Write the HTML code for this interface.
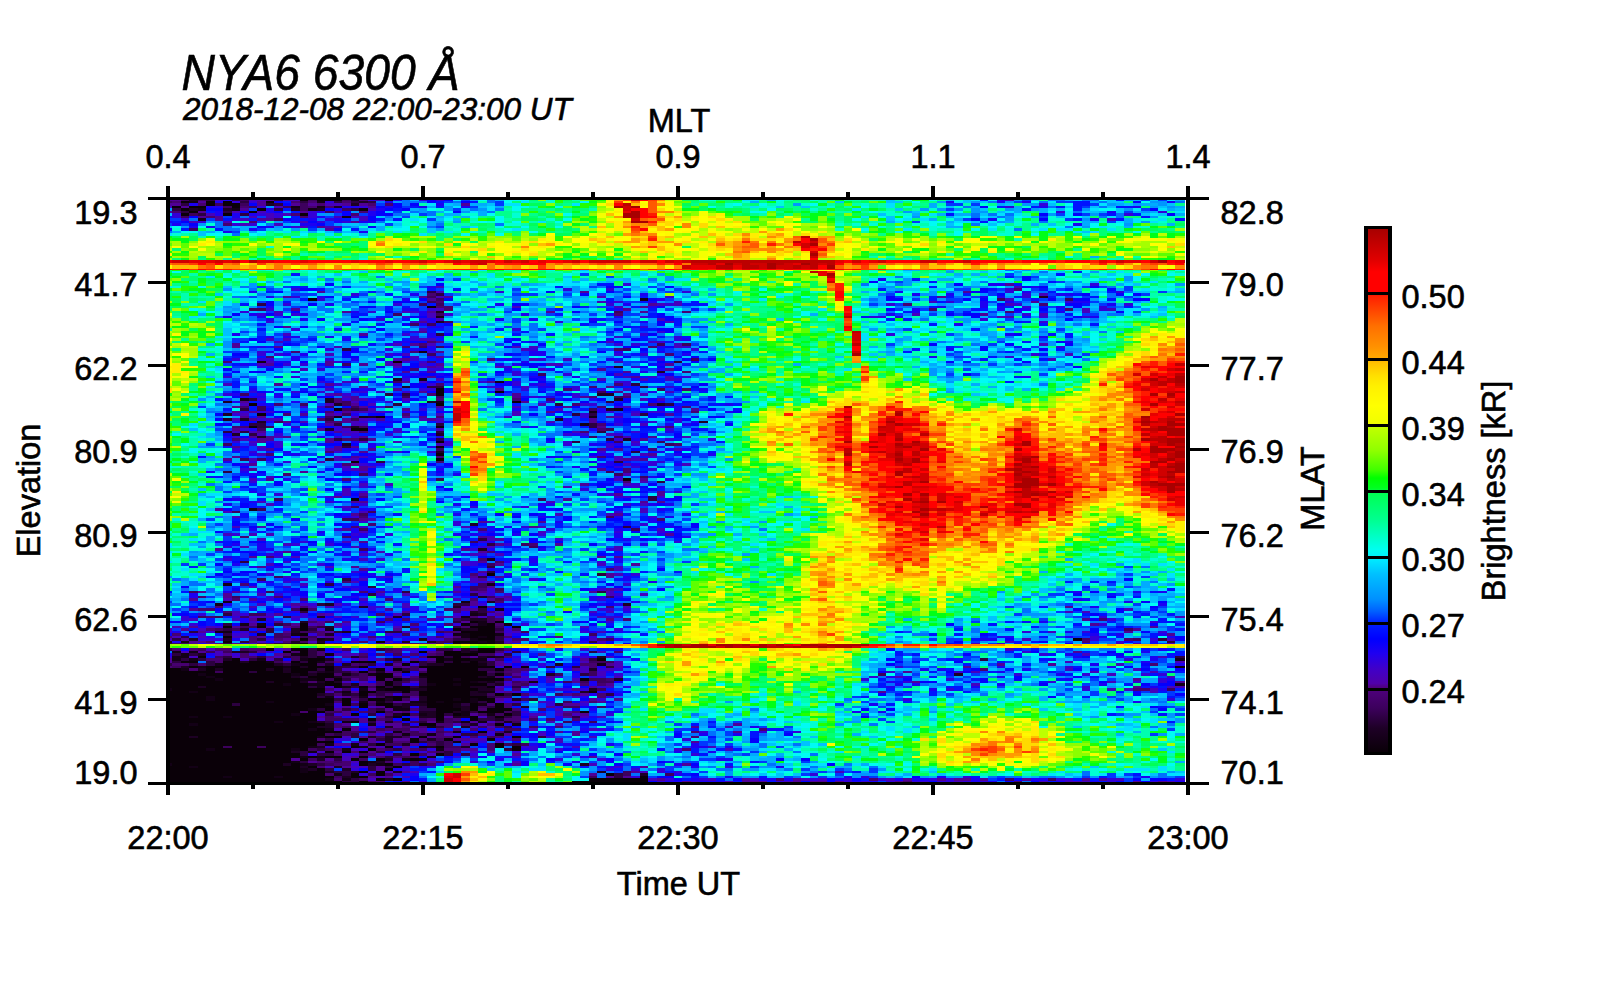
<!DOCTYPE html>
<html lang="en"><head><meta charset="utf-8"><title>NYA6 6300 Å keogram</title>
<style>html,body{margin:0;padding:0;background:#fff}body{width:1600px;height:1000px;overflow:hidden}svg{display:block}text{font-family:"Liberation Sans",Arial,Helvetica,sans-serif;fill:#000;stroke:#000;stroke-width:.6px}.t{font-size:32.5px}.m{text-anchor:middle}.e{text-anchor:end}</style></head><body>
<svg width="1600" height="1000" viewBox="0 0 1600 1000">
<defs><linearGradient id="cb" x1="0" y1="1" x2="0" y2="0">
<stop offset="0.0000" stop-color="#0a0008"/>
<stop offset="0.0455" stop-color="#1e0026"/>
<stop offset="0.0835" stop-color="#3c005c"/>
<stop offset="0.1240" stop-color="#500080"/>
<stop offset="0.1310" stop-color="#5000a8"/>
<stop offset="0.1590" stop-color="#4000c8"/>
<stop offset="0.1880" stop-color="#2000f0"/>
<stop offset="0.2160" stop-color="#0000ff"/>
<stop offset="0.2470" stop-color="#0020ff"/>
<stop offset="0.2580" stop-color="#0040ff"/>
<stop offset="0.2690" stop-color="#0060ff"/>
<stop offset="0.2920" stop-color="#0090ff"/>
<stop offset="0.3400" stop-color="#00c0ff"/>
<stop offset="0.3720" stop-color="#00f0ff"/>
<stop offset="0.3870" stop-color="#00fff0"/>
<stop offset="0.4060" stop-color="#00ffd0"/>
<stop offset="0.4440" stop-color="#00ff90"/>
<stop offset="0.4970" stop-color="#00ff50"/>
<stop offset="0.5050" stop-color="#00ff20"/>
<stop offset="0.5240" stop-color="#00ff00"/>
<stop offset="0.5390" stop-color="#40ff00"/>
<stop offset="0.5770" stop-color="#90ff00"/>
<stop offset="0.6200" stop-color="#c0ff00"/>
<stop offset="0.6280" stop-color="#f0ff00"/>
<stop offset="0.6620" stop-color="#ffff00"/>
<stop offset="0.7000" stop-color="#fff000"/>
<stop offset="0.7190" stop-color="#ffe000"/>
<stop offset="0.7440" stop-color="#ffc000"/>
<stop offset="0.7530" stop-color="#ffa800"/>
<stop offset="0.7760" stop-color="#ff9000"/>
<stop offset="0.8140" stop-color="#ff7000"/>
<stop offset="0.8370" stop-color="#ff5000"/>
<stop offset="0.8710" stop-color="#ff2000"/>
<stop offset="0.8780" stop-color="#ff0000"/>
<stop offset="0.9180" stop-color="#ff0000"/>
<stop offset="0.9410" stop-color="#e00000"/>
<stop offset="1.0000" stop-color="#a80000"/>
</linearGradient></defs>
<rect width="1600" height="1000" fill="#fff"/>
<g id="heat" shape-rendering="crispEdges"><clipPath id="hc"><rect x="168" y="198" width="1017" height="586"/></clipPath>
<g clip-path="url(#hc)"><g transform="translate(163.75,199.25) scale(8.5,2.5)" fill="none" stroke-width="1">
<path stroke="#0a0008" d="M16 0h1M18 0h3M26 0h1M2 1h1M5 1h1M7 1h1M12 1h1M5 2h1M7 2h2M1 3h1M3 3h2M8 3h1M2 4h1M11 4h1M23 4h1M3 5h1M10 5h1M2 6h1M7 6h1M16 6h1M17 40h1M31 43h1M27 65h1M32 76h1M32 77h1M39 77h1M32 78h1M41 81h1M10 82h1M32 82h1M20 84h1M11 86h1M25 87h1M10 91h1M32 91h1M22 92h2M32 97h1M32 99h1M32 102h1M32 104h1M22 105h1M54 112h1M22 120h1M38 150h1M37 163h1M16 164h1M36 169h1M39 169h1M16 170h1M35 170h1M38 170h1M7 171h1M11 171h1M16 171h1M36 171h3M41 171h1M16 172h1M34 172h1M37 172h2M35 173h4M16 174h1M36 174h3M7 175h1M36 175h1M38 175h1M16 176h1M37 176h2M107 176h1M7 177h1M25 177h1M34 177h3M38 177h1M16 178h1M18 178h1M36 178h3M16 179h1M19 179h1M35 179h1M37 179h1M12 180h1M15 180h2M37 180h2M14 181h1M16 181h1M30 181h1M33 181h2M37 181h2M16 182h1M33 182h4M4 183h1M31 183h2M34 183h1M8 184h1M17 184h2M32 184h1M34 184h2M51 184h1M2 185h2M7 185h2M10 185h2M15 185h1M17 185h1M22 185h3M29 185h1M32 185h1M34 185h1M36 185h1M7 186h6M16 186h2M28 186h1M33 186h4M3 187h1M5 187h9M15 187h1M17 187h3M23 187h1M30 187h9M40 187h1M42 187h1M119 187h2M0 188h2M5 188h1M7 188h5M13 188h1M15 188h3M19 188h1M25 188h1M27 188h1M31 188h6M39 188h1M0 189h6M7 189h3M11 189h3M15 189h2M23 189h1M31 189h7M0 190h4M5 190h10M16 190h1M18 190h2M25 190h2M30 190h8M39 190h1M0 191h5M6 191h9M17 191h3M25 191h2M31 191h6M0 192h6M7 192h9M18 192h1M20 192h1M25 192h1M27 192h1M31 192h3M35 192h5M49 192h1M0 193h12M13 193h3M19 193h1M26 193h1M31 193h5M0 194h14M15 194h2M19 194h2M26 194h1M32 194h2M35 194h3M0 195h4M5 195h12M20 195h1M23 195h1M25 195h1M27 195h2M31 195h5M38 195h1M1 196h18M26 196h3M31 196h6M0 197h3M4 197h15M23 197h2M28 197h1M30 197h6M50 197h1M0 198h18M23 198h1M30 198h6M39 198h1M41 198h1M0 199h5M6 199h12M27 199h1M31 199h7M0 200h5M6 200h14M21 200h1M24 200h2M27 200h1M31 200h3M35 200h1M37 200h2M0 201h12M13 201h7M21 201h1M31 201h1M33 201h3M38 201h1M0 202h8M9 202h10M21 202h1M23 202h1M25 202h2M31 202h3M36 202h1M39 202h1M0 203h20M23 203h1M26 203h1M31 203h3M36 203h1M39 203h1M0 204h17M19 204h1M32 204h3M36 204h1M38 204h3M0 205h16M17 205h2M25 205h1M32 205h2M37 205h3M49 205h1M0 206h15M16 206h2M22 206h1M28 206h1M32 206h1M34 206h1M40 206h1M0 207h3M4 207h3M8 207h10M32 207h1M36 207h1M39 207h1M0 208h18M24 208h1M28 208h1M32 208h1M36 208h1M0 209h13M14 209h3M22 209h1M0 210h3M4 210h15M30 210h2M39 210h1M0 211h18M0 212h17M18 212h1M21 212h1M0 213h21M37 213h1M0 214h19M0 215h3M4 215h14M19 215h2M30 215h1M34 215h1M41 215h1M0 216h18M23 216h1M29 216h1M33 216h1M38 216h1M0 217h20M29 217h1M0 218h18M25 218h1M36 218h1M39 218h1M0 219h7M8 219h3M12 219h5M22 219h1M26 219h1M32 219h1M39 219h1M41 219h1M0 220h5M6 220h9M16 220h1M24 220h1M41 220h1M0 221h15M19 221h1M21 221h1M23 221h1M0 222h16M29 222h1M32 222h1M0 223h16M17 223h1M19 223h2M23 223h1M0 224h15M16 224h1M22 224h1M25 224h1M29 224h1M0 225h15M23 225h1M1 226h13M15 226h1M23 226h1M26 226h1M0 227h3M4 227h12M17 227h1M27 227h1M0 228h16M18 228h1M26 228h1M0 229h16M17 229h2M23 229h1M25 229h1M0 230h19M22 230h1M25 230h1M52 230h1M0 231h7M8 231h5M14 231h6M22 231h2M56 231h1M0 232h19M25 232h1M27 232h1M50 232h7M0 233h21M23 233h1M48 233h9M0 234h7M8 234h10M19 234h3M23 234h1M48 234h9"/>
<path stroke="#130016" d="M22 0h1M3 1h1M18 1h1M15 3h1M18 3h1M4 4h1M8 4h1M17 4h1M21 7h1M4 8h1M56 40h1M32 47h1M30 61h1M11 65h1M30 72h1M39 73h1M9 80h1M32 81h1M53 84h1M50 85h1M20 87h1M23 87h1M50 87h1M49 90h1M10 124h1M38 144h1M7 154h1M38 154h1M7 161h1M35 161h1M6 162h1M39 164h1M36 166h1M35 167h1M37 169h1M9 170h1M11 170h1M37 170h1M40 170h1M19 172h1M6 173h2M15 174h1M34 174h2M39 174h1M35 175h1M37 175h1M18 176h1M36 176h1M2 177h1M37 177h1M34 178h1M18 180h1M1 181h1M3 181h1M36 181h1M2 182h1M15 182h1M19 182h1M1 183h2M18 183h1M38 183h1M1 184h1M3 184h1M11 184h1M16 184h1M33 184h1M36 184h2M119 184h2M12 185h1M18 185h1M6 186h1M15 186h1M37 186h1M51 186h1M4 187h1M14 187h1M2 188h1M19 189h1M28 189h1M4 190h1M15 190h1M21 190h1M24 190h1M5 191h1M30 191h1M38 191h1M6 192h1M16 192h2M34 192h1M36 193h1M38 193h1M43 193h1M14 194h1M17 194h2M31 194h1M34 194h1M119 194h2M18 195h1M21 195h1M30 195h1M0 196h1M23 196h1M25 196h1M3 197h1M21 197h1M37 197h2M5 199h1M19 199h1M23 199h1M26 199h1M5 200h1M34 200h1M36 200h1M12 201h1M23 201h1M25 201h1M29 201h2M32 201h1M36 201h1M19 202h1M34 202h1M37 202h1M27 203h1M34 203h1M17 204h1M27 204h2M35 205h1M15 206h1M30 206h1M35 206h1M38 206h1M3 207h1M7 207h1M27 207h1M13 209h1M17 209h1M21 209h1M32 209h1M35 209h1M37 209h1M3 210h1M24 210h1M41 210h1M31 211h1M17 212h1M19 212h1M27 213h1M34 213h1M28 214h1M31 214h1M39 214h1M18 215h1M34 217h1M19 218h1M22 218h1M17 219h1M23 219h1M30 219h1M5 220h1M15 220h1M21 220h1M32 220h1M17 221h1M16 223h1M18 223h1M31 223h1M28 224h1M30 224h1M15 225h1M24 225h1M0 226h1M16 226h1M25 226h1M3 227h1M16 228h1M16 229h1M20 230h1M7 231h1M13 231h1M19 232h1M21 232h1M7 234h1M18 234h1M22 234h1"/>
<path stroke="#1d0024" d="M3 0h1M23 1h1M12 2h1M22 2h1M20 3h1M3 4h1M7 4h1M15 4h1M18 4h1M103 39h1M32 45h1M32 49h1M53 67h1M58 69h1M27 72h1M28 75h1M51 78h2M19 80h1M53 80h1M7 81h1M19 81h1M31 81h1M20 82h1M58 82h1M52 84h1M7 86h1M24 87h1M7 88h1M9 88h1M46 88h1M11 89h1M63 89h1M22 91h1M19 92h1M8 94h1M32 94h1M11 95h1M54 96h1M21 98h1M32 101h1M36 130h1M37 140h1M37 159h1M38 161h1M19 162h1M54 162h1M23 163h1M34 163h1M36 165h1M37 166h1M18 167h1M27 167h1M11 168h1M36 168h2M16 169h1M19 171h1M28 171h1M9 172h1M15 172h1M35 172h2M15 173h1M21 173h1M11 174h1M19 174h1M3 176h1M7 176h1M19 176h1M30 176h1M0 177h1M15 177h1M18 177h1M28 177h1M31 177h1M39 177h1M15 178h1M35 178h1M39 178h1M2 179h1M5 179h1M7 179h1M15 179h1M33 179h2M38 179h1M119 179h2M35 180h1M8 181h2M35 181h1M4 182h1M16 183h1M22 183h1M37 183h1M39 183h1M51 183h1M7 184h1M19 184h1M27 184h1M9 185h1M35 185h1M37 185h1M13 186h1M19 186h1M21 186h1M26 186h1M31 186h2M46 186h1M2 187h1M16 187h1M4 188h1M6 188h1M12 188h1M14 188h1M50 188h1M14 189h1M18 189h1M25 189h1M17 190h1M45 190h1M93 190h1M15 191h1M20 191h1M37 191h1M53 192h1M12 193h1M16 193h1M18 193h1M20 193h1M37 193h1M22 194h1M39 194h1M4 195h1M36 195h2M29 196h2M37 196h2M50 196h1M36 197h1M49 197h1M18 198h1M21 198h1M36 198h2M28 199h1M30 199h1M26 200h1M30 200h1M41 200h1M28 202h3M28 203h1M35 203h1M42 203h1M35 204h1M30 205h2M34 205h1M27 206h1M31 206h1M30 207h2M34 207h2M39 208h1M18 209h1M26 209h1M40 209h1M19 210h1M36 210h1M18 211h2M26 211h1M35 211h1M40 213h1M3 215h1M24 215h1M26 215h2M26 216h1M31 216h1M26 217h1M28 218h1M18 219h1M31 219h1M35 219h1M15 221h1M18 224h1M26 224h1M25 225h1M14 226h1M17 226h1M24 226h1M49 226h1M16 227h1M20 227h1M17 228h1M21 228h1M19 229h1M22 229h1M27 229h1M51 229h1M56 230h1M21 231h1M26 232h1"/>
<path stroke="#2c0040" d="M5 0h1M8 0h1M13 0h1M9 1h1M16 1h1M20 1h1M22 1h1M24 1h1M2 2h1M13 2h1M1 4h1M13 4h1M22 4h1M2 5h1M7 5h1M4 6h1M9 6h1M31 37h1M32 38h1M11 42h1M32 54h1M21 60h1M60 65h1M55 74h1M31 75h2M56 75h1M26 78h1M28 78h1M10 80h1M52 81h1M27 82h1M46 82h1M59 82h1M9 84h1M22 84h1M48 86h1M50 86h1M56 86h1M19 88h1M10 90h2M20 90h1M32 90h1M50 90h1M11 91h1M50 91h1M7 93h1M9 93h1M32 93h1M51 93h1M10 94h1M20 96h1M23 96h1M32 96h1M52 96h1M48 97h1M21 99h1M55 101h1M19 104h1M25 105h1M53 105h1M7 109h1M58 113h1M57 119h1M57 120h1M54 131h1M37 136h1M38 138h1M9 145h1M38 147h1M38 149h1M51 150h1M37 151h1M21 152h1M19 154h1M24 155h1M28 157h1M51 157h1M24 158h1M36 158h1M18 162h1M34 162h2M37 164h1M16 165h1M37 165h1M7 166h1M28 166h1M14 167h1M35 168h1M34 169h1M7 170h1M13 170h1M36 170h1M18 171h1M34 171h1M7 172h1M12 172h1M17 172h1M39 172h1M3 173h1M12 173h1M20 173h1M26 173h2M7 174h1M2 175h1M39 175h1M1 176h1M11 176h1M34 176h2M39 176h1M117 176h1M9 177h1M50 177h1M118 177h1M0 178h1M7 178h1M13 178h2M1 179h1M36 179h1M0 180h1M17 180h1M25 180h1M32 180h2M36 180h1M39 180h1M10 181h1M17 181h1M41 181h1M50 181h1M1 182h1M3 182h1M17 182h1M40 182h1M7 183h1M11 183h1M14 183h1M17 183h1M33 183h1M119 183h2M2 184h1M4 184h1M10 184h1M13 184h1M26 184h1M50 184h1M96 184h1M1 185h1M5 185h1M16 185h1M30 185h1M33 185h1M38 185h1M0 186h1M3 186h1M5 186h1M14 186h1M24 186h1M30 186h1M38 186h1M20 187h3M45 187h1M48 187h1M52 187h1M18 188h1M20 188h1M24 188h1M28 188h1M37 188h2M10 189h1M17 189h1M20 189h2M39 189h1M22 190h1M38 190h1M49 190h1M16 191h1M21 192h1M28 192h1M30 192h1M27 193h1M30 193h1M39 193h1M27 194h1M30 194h1M38 194h1M17 195h1M22 195h1M26 195h1M29 195h1M41 195h1M20 197h1M25 197h3M19 198h1M22 198h1M25 198h1M40 198h1M52 198h1M18 199h1M38 199h1M20 200h1M23 200h1M43 200h1M26 201h1M37 201h1M8 202h1M27 202h1M35 202h1M41 202h1M46 202h1M30 203h1M38 203h1M18 204h1M21 204h1M25 204h1M30 204h2M36 205h1M41 205h1M19 206h1M24 206h1M33 206h1M41 206h1M26 207h1M38 207h1M40 207h1M48 207h1M37 208h2M19 209h1M24 209h1M30 209h1M34 209h1M28 210h1M29 211h1M32 211h1M40 211h1M24 213h1M20 214h1M22 214h1M26 214h1M35 214h2M22 215h1M44 215h1M19 216h1M25 216h1M30 217h1M32 217h1M24 218h1M32 218h1M41 218h1M18 220h1M27 220h1M40 220h1M16 221h1M25 221h1M33 221h1M16 222h1M18 222h2M27 222h1M33 222h1M35 222h1M26 223h1M20 224h1M16 225h1M18 226h1M28 226h1M30 226h1M24 227h1M26 227h1M19 228h1M24 228h1M20 229h2M21 230h1M53 230h1M53 231h1M22 232h1M21 233h2M24 234h2M103 234h1"/>
<path stroke="#3d005d" d="M2 0h1M4 0h1M9 0h1M17 0h1M21 0h1M0 1h1M6 2h1M9 2h1M16 2h1M7 3h1M10 3h1M14 3h1M16 3h1M16 4h1M21 4h1M19 5h1M3 6h1M2 7h1M13 8h1M3 12h1M31 39h1M32 40h1M98 40h1M106 40h1M31 41h1M30 42h1M32 42h1M10 44h2M53 45h1M27 46h1M32 46h1M33 49h1M29 50h1M31 50h1M58 58h1M61 58h1M30 59h1M32 59h1M54 60h1M31 62h1M62 64h1M21 66h1M44 70h1M27 73h1M58 76h1M51 77h1M9 78h1M28 79h1M32 79h1M53 79h1M21 81h1M16 82h1M21 82h1M11 83h1M19 83h1M22 83h1M26 83h1M11 84h1M21 84h1M23 84h1M50 84h1M21 86h1M19 87h1M22 88h1M13 89h1M12 91h1M21 91h1M23 91h1M11 92h1M52 92h1M50 95h1M53 95h1M53 97h1M58 97h1M7 98h1M59 98h1M32 100h1M9 104h1M11 104h1M52 109h1M23 110h1M53 110h1M56 111h1M32 112h1M13 120h1M44 120h1M22 123h1M11 124h1M8 125h1M24 125h1M23 126h1M52 127h1M21 128h2M23 132h1M55 132h1M36 137h1M42 138h1M43 139h1M23 140h1M38 146h1M13 151h1M11 152h1M37 154h1M36 155h2M36 156h1M39 156h1M3 157h1M12 157h1M8 159h1M38 159h1M52 159h1M39 160h1M15 164h1M10 166h2M4 167h1M6 167h1M9 167h1M38 167h1M34 168h1M38 168h1M19 169h1M25 169h1M38 169h1M14 170h1M9 171h2M17 171h1M39 171h1M6 172h1M8 172h1M113 172h1M16 173h2M32 173h1M39 173h1M42 173h1M13 174h1M28 174h1M50 174h1M13 175h2M16 175h2M52 176h1M114 176h1M16 177h1M32 177h2M1 178h2M11 178h1M32 178h1M6 179h1M8 179h1M31 179h2M4 180h1M9 180h1M21 180h1M26 180h1M5 181h1M7 181h1M27 182h1M32 182h1M37 182h2M6 183h1M15 183h1M23 183h1M35 183h1M15 184h1M39 184h1M13 185h1M19 185h1M27 185h1M31 185h1M50 185h3M18 186h1M23 186h1M1 187h1M29 187h1M29 188h1M40 188h1M6 189h1M30 189h1M38 189h1M50 189h1M23 190h1M40 190h1M46 190h1M50 190h1M84 190h1M21 191h3M27 191h1M41 191h1M19 192h1M23 192h1M29 192h1M40 192h1M50 192h2M25 193h1M28 193h1M41 193h1M47 193h1M49 193h1M51 193h2M21 194h1M25 194h1M42 194h1M24 195h1M21 196h1M51 196h1M118 196h1M29 197h1M24 198h1M28 198h2M38 198h1M46 198h1M22 199h1M25 199h1M39 199h2M28 200h1M42 200h1M47 201h1M22 202h1M24 202h1M37 203h1M47 203h2M51 203h1M22 204h1M24 204h1M19 205h2M24 205h1M26 205h1M40 205h1M29 206h1M37 206h1M39 206h1M19 207h1M19 208h4M26 208h1M30 208h1M33 208h1M43 208h1M29 209h1M33 209h1M41 209h1M47 209h1M50 209h1M35 210h1M21 211h1M37 211h1M39 211h1M43 211h1M25 212h1M27 212h2M40 212h2M21 213h3M29 213h1M32 213h1M19 214h1M21 214h1M29 214h2M25 215h1M28 215h1M38 215h1M32 216h1M23 217h1M31 217h1M33 217h1M18 218h1M26 218h2M33 218h1M40 218h1M42 218h1M7 219h1M11 219h1M33 219h2M17 220h1M19 220h1M26 220h1M30 220h1M32 221h1M23 222h1M30 222h1M28 223h2M17 224h1M23 224h1M20 225h1M29 225h1M19 226h1M27 226h1M29 226h1M54 229h1M24 230h1M26 230h1M54 230h1M59 230h1M20 231h1M50 231h1M23 232h1M99 232h1M104 232h1M24 233h1M27 234h1"/>
<path stroke="#470070" d="M23 0h1M1 1h1M15 1h1M17 1h1M21 1h1M4 2h1M18 2h1M24 2h1M26 2h1M9 3h1M17 3h1M19 3h1M1 5h1M23 5h1M15 6h1M22 6h1M5 7h1M16 7h1M10 9h1M7 10h1M100 36h1M31 38h1M32 41h1M87 42h1M103 42h1M32 43h2M33 44h1M90 44h1M106 44h1M61 45h1M99 45h1M53 46h1M31 57h1M30 58h1M28 59h1M57 59h1M53 60h1M15 61h1M29 61h1M59 62h1M12 63h1M38 64h1M7 65h1M31 65h1M29 68h1M61 69h1M32 74h1M53 74h1M50 75h1M47 76h1M61 76h1M31 78h1M50 79h1M54 79h1M20 80h1M32 80h1M41 80h1M45 80h1M20 81h1M13 82h1M48 82h1M57 82h1M9 83h1M51 83h1M61 83h1M19 85h1M62 85h1M14 86h1M28 86h1M32 87h1M18 88h1M19 89h2M51 90h1M8 91h2M59 91h1M51 92h1M23 93h1M49 93h1M8 96h1M21 96h2M60 98h1M57 100h1M19 101h1M12 102h1M32 103h1M51 103h1M32 105h1M21 106h1M54 108h1M54 109h1M14 110h1M21 112h1M54 113h1M23 119h1M23 127h1M58 128h1M24 130h1M22 131h1M37 132h1M9 135h1M21 135h1M43 138h1M38 141h1M12 143h1M37 144h1M39 145h1M52 148h1M36 150h1M21 153h1M9 154h1M37 156h1M23 157h1M39 157h1M4 159h1M13 159h1M8 160h1M16 160h1M26 160h1M36 160h1M39 161h1M6 163h1M16 163h1M52 163h1M4 164h2M17 164h1M33 164h2M7 165h1M34 165h1M38 165h1M25 166h1M5 167h1M36 167h1M26 168h1M28 168h1M39 168h1M54 168h1M110 168h1M17 169h1M29 170h1M33 170h1M39 170h1M15 171h1M35 171h1M5 172h1M29 172h1M41 172h1M10 173h1M18 173h1M33 173h2M1 174h1M14 174h1M18 174h1M0 175h1M10 175h1M24 175h1M32 175h1M34 175h1M40 175h1M10 176h1M13 176h1M15 176h1M17 176h1M33 176h1M41 176h2M51 176h1M108 176h1M113 176h1M5 177h1M10 177h1M14 177h1M23 177h1M108 177h1M12 178h1M17 178h1M20 178h1M29 178h1M3 179h1M9 179h1M17 179h1M25 179h1M28 179h1M51 179h1M1 180h1M3 180h1M6 180h2M10 180h2M27 180h1M40 180h1M15 181h1M18 181h1M26 181h2M32 181h1M39 181h1M53 181h1M9 182h1M14 182h1M18 182h1M23 182h1M25 182h1M29 182h1M31 182h1M9 183h2M28 183h1M30 183h1M40 183h1M5 184h2M6 185h1M1 186h2M4 186h1M22 186h1M49 186h2M116 186h1M0 187h1M27 187h1M50 187h1M3 188h1M41 188h2M96 188h1M22 189h1M24 189h1M27 189h1M40 189h2M20 190h1M29 191h1M39 191h1M26 192h1M52 192h1M17 193h1M42 193h1M41 194h1M49 194h1M51 194h1M19 196h1M41 196h1M114 196h2M20 198h1M26 198h1M42 198h1M48 198h1M51 198h1M51 199h1M22 200h1M20 201h1M24 201h1M50 201h1M38 202h1M40 202h1M40 203h1M29 204h1M37 204h1M41 204h1M44 204h1M16 205h1M23 205h1M28 205h1M48 205h1M26 206h1M47 206h1M20 207h1M41 207h1M25 208h1M31 208h1M34 208h1M40 208h2M45 208h1M48 208h1M27 209h1M39 209h1M20 210h1M32 210h2M38 210h1M20 211h1M28 211h1M30 211h1M33 211h1M46 211h1M26 212h1M32 212h1M34 212h1M36 212h1M70 212h1M28 213h1M33 213h1M39 213h1M62 213h1M27 214h1M32 214h1M37 214h1M32 215h2M36 215h1M39 215h1M62 215h1M18 216h1M30 216h1M41 216h1M27 217h2M31 218h1M38 218h1M38 219h1M20 220h1M25 220h1M29 220h1M33 220h2M38 220h1M61 220h1M22 221h1M31 221h1M34 221h1M20 222h1M24 222h1M25 223h1M27 223h1M18 225h2M21 225h1M26 225h1M32 225h1M20 226h2M31 226h1M18 227h1M19 230h1M20 232h1M72 232h1M83 232h1M25 233h1M87 233h1M100 233h1M26 234h1M74 234h1M80 234h1M97 234h1"/>
<path stroke="#500095" d="M0 0h2M12 0h1M14 0h1M4 1h1M11 1h1M0 2h2M11 2h1M15 2h1M17 2h1M21 2h1M23 2h1M35 2h1M2 3h1M24 3h1M9 4h1M0 5h1M4 5h1M16 5h1M4 7h1M6 7h1M6 8h1M11 8h2M22 9h1M18 11h1M19 12h1M99 34h1M18 37h1M49 37h1M94 37h1M14 39h1M30 39h1M33 39h1M91 39h1M31 40h1M102 41h1M57 42h1M56 43h1M15 44h1M54 44h1M21 45h1M31 45h1M45 45h1M56 45h1M96 46h1M30 49h1M14 51h1M30 53h1M23 54h1M32 57h1M8 58h1M29 58h1M8 59h1M13 59h1M32 61h1M32 63h1M28 64h1M19 65h1M12 66h1M19 66h1M23 66h1M27 66h1M32 66h1M59 66h1M31 67h1M51 68h1M59 68h1M28 69h1M31 69h1M54 69h1M31 71h1M55 71h1M28 73h1M38 73h1M13 74h1M19 74h1M23 75h1M52 75h1M27 76h1M39 76h1M30 77h1M53 77h1M20 78h1M41 78h1M54 78h1M22 79h1M41 79h1M49 79h1M22 80h1M9 81h1M42 81h1M22 82h1M8 83h1M23 83h1M32 83h1M47 83h1M28 84h1M62 84h1M8 85h1M10 85h1M21 85h1M45 85h1M16 86h1M19 86h1M59 86h1M9 87h1M11 87h1M28 87h1M30 87h1M52 87h1M10 88h1M21 88h1M25 88h1M31 88h1M50 88h1M14 89h1M21 89h1M50 89h1M19 90h1M51 91h1M8 92h1M18 92h1M11 93h1M20 93h1M10 95h1M12 95h1M14 95h1M23 95h1M57 95h1M11 96h2M19 96h1M24 96h1M56 96h1M11 97h1M19 97h1M8 99h1M20 99h1M22 99h1M12 100h1M20 100h1M24 100h1M51 100h1M53 100h1M23 101h1M57 102h1M8 103h1M22 103h1M7 104h1M54 104h1M56 104h1M10 106h1M22 106h1M23 107h1M10 108h1M23 108h1M51 108h1M16 109h1M12 112h1M56 112h1M49 114h1M58 117h1M23 118h1M53 118h1M58 118h1M20 119h1M47 120h1M22 121h2M56 121h1M58 121h1M6 124h1M22 126h1M53 126h1M23 128h1M37 129h1M44 129h1M43 131h1M21 132h1M59 134h1M37 135h1M39 136h1M23 137h1M39 138h1M46 138h1M6 140h1M35 140h1M14 141h1M37 141h1M10 143h1M51 143h1M53 143h1M37 145h1M39 146h1M55 146h1M11 147h1M22 147h1M23 148h1M37 149h1M52 150h1M36 151h1M39 151h1M52 151h1M37 152h1M38 153h1M34 155h1M38 155h1M52 156h1M4 157h1M8 157h1M25 157h1M34 157h1M37 157h1M50 157h1M7 158h1M7 159h1M40 159h1M3 160h1M10 160h1M38 160h1M36 161h1M15 162h1M36 162h1M38 163h1M106 163h1M3 164h1M26 164h1M35 164h2M28 165h1M13 166h1M18 166h1M39 166h1M33 167h1M10 168h1M31 168h1M52 168h1M108 168h1M13 169h1M18 169h1M21 169h1M35 169h1M10 170h1M15 170h1M18 170h1M20 170h1M109 170h1M3 171h1M8 171h1M14 171h1M116 171h1M2 172h1M11 172h1M27 172h1M114 172h1M4 173h1M14 173h1M19 173h1M113 173h1M118 174h1M11 175h1M19 175h1M46 175h1M2 176h1M14 176h1M3 177h2M41 177h1M3 178h1M6 178h1M8 178h1M19 178h1M25 178h1M27 178h2M30 178h2M40 178h1M12 179h1M106 179h1M14 180h1M34 180h1M4 181h1M11 181h1M31 181h1M107 181h1M7 182h1M13 182h1M44 182h1M12 183h1M21 183h1M36 183h1M0 184h1M23 184h1M25 184h1M29 184h1M31 184h1M49 184h1M0 185h1M14 185h1M20 185h1M39 185h1M27 186h1M39 186h1M52 186h1M98 186h1M104 186h1M28 187h1M94 187h1M30 188h1M48 188h1M26 189h1M87 189h1M27 190h1M41 190h1M24 191h1M45 191h1M22 192h1M114 192h1M48 193h1M88 193h1M119 193h2M23 194h2M52 194h1M50 195h1M114 195h1M24 196h1M39 196h1M48 196h1M22 197h1M40 197h1M84 197h1M47 198h1M49 198h1M21 199h1M29 199h1M39 200h1M50 200h1M53 200h1M27 201h2M51 201h1M47 202h2M21 203h1M25 203h1M45 203h1M20 204h1M26 204h1M21 205h1M27 205h1M47 205h1M21 206h1M36 206h1M49 206h1M18 207h1M25 207h1M33 207h1M43 207h1M47 207h1M23 208h1M23 209h1M31 209h1M36 209h1M21 210h1M26 210h2M67 210h1M22 211h1M27 211h1M62 211h1M22 212h1M24 212h1M30 212h1M38 212h1M25 213h1M30 213h1M46 213h1M48 213h1M67 213h1M24 214h1M40 214h1M48 214h1M23 215h1M31 215h1M24 216h1M27 216h2M34 216h2M24 217h1M36 217h1M62 217h1M20 218h2M29 218h1M35 218h1M24 219h1M28 219h1M28 220h1M35 220h2M20 221h1M24 221h1M38 221h1M28 222h1M41 222h1M22 223h1M50 223h1M15 224h1M19 224h1M17 225h1M31 225h1M41 226h1M61 226h1M21 227h1M25 227h1M56 227h1M25 228h1M28 229h1M55 229h1M50 230h1M24 231h1M26 231h1M52 231h1M54 231h1M58 232h1M68 232h1M74 232h1M87 232h1M91 232h1M93 232h2M96 232h1M101 232h1M108 232h1M110 232h1M28 233h1M61 233h1M68 233h3M74 233h1M76 233h2M79 233h1M86 233h1M114 233h1M117 233h1M28 234h1M77 234h1M93 234h1"/>
<path stroke="#4600bc" d="M6 0h1M10 0h2M15 0h1M25 0h1M99 0h1M19 2h2M0 3h1M13 3h1M24 4h1M8 5h1M11 5h1M20 5h1M5 6h1M12 6h1M14 6h1M10 7h1M12 7h1M20 7h1M22 7h2M9 8h1M23 8h1M111 8h1M3 9h1M7 9h1M16 9h1M9 10h1M13 10h1M16 11h1M19 11h2M32 35h1M100 35h1M32 37h1M103 38h1M32 39h1M51 39h1M99 40h1M51 41h1M60 41h1M90 41h1M58 42h1M60 42h1M99 42h1M41 43h1M53 43h1M32 44h1M108 44h1M111 44h1M13 45h1M28 45h1M108 45h1M31 46h1M88 46h1M103 46h1M31 47h1M98 47h2M32 48h1M58 48h1M59 49h1M30 52h1M14 54h1M12 56h1M14 56h1M30 56h2M13 57h1M52 57h1M57 57h1M27 58h1M31 58h1M60 58h1M103 58h1M20 59h1M41 59h1M43 59h1M60 59h1M42 60h1M19 62h1M28 62h1M106 62h1M29 63h1M27 64h1M43 64h1M47 64h1M104 64h1M12 65h1M53 65h1M11 66h1M26 66h1M30 66h1M45 66h2M27 67h1M32 67h1M39 67h1M16 68h1M44 68h1M53 70h1M54 71h1M59 71h1M32 72h1M51 72h1M56 72h1M59 72h1M21 73h1M30 73h1M7 74h1M42 75h1M19 76h1M54 76h1M59 77h1M19 78h1M56 78h1M21 79h1M23 80h1M28 80h1M56 80h1M58 80h1M22 81h1M9 82h1M19 82h1M24 82h1M44 82h1M41 83h1M54 83h1M24 84h1M46 84h1M23 85h1M25 85h1M41 85h1M9 86h1M20 86h1M32 86h1M41 86h1M55 86h1M22 87h1M53 87h1M8 88h1M12 88h2M23 88h1M30 88h1M32 88h1M16 89h1M22 89h1M45 89h1M22 90h2M56 90h1M21 92h1M32 92h1M8 93h1M10 93h1M22 93h1M27 93h1M48 93h1M11 94h1M21 94h1M52 94h1M13 95h1M54 95h1M61 95h1M9 96h1M10 97h1M23 97h1M27 97h1M55 97h1M32 98h1M11 99h1M52 99h1M19 100h1M60 100h1M11 102h1M56 102h1M20 103h1M23 103h1M53 103h1M10 104h1M20 104h3M53 104h1M55 104h1M18 105h1M54 106h1M61 106h1M21 107h1M24 107h1M22 108h1M54 110h1M12 111h1M10 112h1M53 112h1M56 113h1M23 114h1M26 114h1M54 114h1M47 115h1M21 116h1M21 117h1M21 118h1M11 121h1M45 121h1M12 122h1M56 122h1M21 123h1M56 124h1M7 125h1M23 125h1M56 125h1M46 126h1M52 126h1M8 127h1M24 128h1M38 129h1M8 131h1M11 131h1M35 131h1M44 131h1M58 132h1M23 133h1M44 133h1M7 134h1M10 134h1M12 134h1M38 135h1M11 136h1M38 136h1M21 137h1M14 138h1M9 139h1M22 139h1M38 139h1M53 139h1M53 140h1M25 141h1M23 142h1M36 142h1M39 142h1M15 143h1M23 144h1M35 145h1M12 146h1M35 146h1M51 146h1M19 147h1M53 147h1M53 148h1M53 150h1M16 152h1M23 152h1M36 152h1M22 153h1M36 153h1M16 154h1M10 155h1M53 156h1M36 157h1M52 157h1M11 158h1M28 158h1M37 158h1M52 158h1M56 158h1M39 159h1M7 160h1M23 160h1M34 160h1M40 160h1M11 162h1M16 162h1M20 162h1M28 162h1M10 163h1M15 163h1M17 163h1M19 163h1M28 163h1M35 163h1M54 163h1M113 164h1M8 165h1M39 165h1M50 165h1M52 165h1M106 165h1M108 165h1M8 166h1M19 166h1M27 166h1M10 167h3M15 167h1M20 167h1M32 167h1M34 167h1M37 167h1M51 167h1M119 167h2M3 168h1M8 168h1M17 168h1M10 169h1M17 170h1M1 171h1M5 171h1M12 171h1M20 171h1M27 171h1M49 171h1M0 172h1M4 172h1M18 172h1M41 173h1M51 173h1M104 173h1M9 174h1M30 174h1M40 174h1M1 175h1M4 175h1M8 175h2M18 175h1M33 175h1M0 176h1M24 176h1M50 176h1M101 176h1M118 176h1M11 177h1M17 177h1M22 177h1M26 177h1M40 177h1M51 177h1M5 178h1M10 178h1M95 178h1M112 178h1M114 178h1M118 178h1M20 179h1M22 179h1M26 179h1M52 179h1M5 180h1M20 180h1M99 180h1M2 181h1M6 181h1M51 181h1M6 182h1M20 182h3M39 182h1M108 182h1M3 183h1M8 183h1M13 183h1M52 183h1M117 183h1M9 184h1M12 184h1M20 184h1M38 184h1M41 185h1M49 185h1M53 185h1M106 185h1M119 185h2M40 186h1M53 186h1M112 186h1M49 187h1M53 187h1M21 188h1M49 188h1M52 188h1M106 188h1M114 188h1M49 189h1M51 189h1M95 189h1M109 189h1M116 189h1M51 190h1M111 190h1M42 191h1M53 191h1M86 191h1M118 191h1M24 192h1M43 192h1M45 192h1M48 192h1M21 193h1M23 193h1M29 193h1M45 193h1M111 193h1M40 194h1M95 194h1M19 195h1M39 195h1M52 195h1M118 195h3M20 196h1M46 196h1M111 196h1M113 196h1M116 196h1M19 197h1M39 197h1M116 197h1M20 199h1M24 199h1M29 200h1M39 201h1M44 201h1M49 201h1M24 203h1M46 204h1M43 206h2M46 206h1M48 206h1M29 207h1M37 207h1M49 207h1M51 207h1M18 208h1M25 209h1M38 209h1M45 209h1M34 210h1M37 210h1M46 210h1M24 211h1M36 211h1M38 211h1M66 211h1M20 212h1M29 212h1M43 212h1M50 212h1M31 213h1M33 214h1M44 214h1M21 215h1M29 215h1M50 215h1M36 216h2M46 216h1M39 217h1M46 217h1M23 218h1M25 219h1M48 219h1M64 219h1M22 220h1M66 220h1M18 221h1M36 221h1M25 222h1M31 222h1M21 223h1M24 223h1M36 223h1M21 224h1M27 224h1M22 225h1M41 225h1M50 226h1M19 227h1M22 227h2M26 229h1M29 229h1M56 229h1M79 229h1M27 230h1M25 231h1M28 231h1M24 232h1M57 232h1M64 232h1M69 232h1M75 232h1M77 232h1M85 232h1M112 232h1M66 233h1M73 233h1M93 233h1M103 233h1M106 233h3M118 233h1M68 234h1M79 234h1M84 234h1M88 234h1M92 234h1M95 234h2M100 234h1M113 234h1M115 234h1"/>
<path stroke="#3400d7" d="M24 0h1M30 0h1M32 0h1M8 1h1M10 1h1M19 1h1M103 2h1M11 3h1M23 3h1M99 3h1M17 5h1M105 5h1M117 5h1M1 6h1M11 6h1M13 6h1M17 6h1M113 6h1M1 7h1M13 7h1M17 7h1M2 8h1M8 8h1M19 8h1M4 9h1M18 9h1M21 9h1M8 10h1M10 10h1M15 11h1M54 34h1M109 34h1M15 36h1M47 36h1M52 36h1M99 36h1M39 37h1M61 37h1M99 37h1M112 37h1M22 38h1M101 38h1M15 39h1M59 39h1M101 39h1M18 40h1M53 41h1M92 41h1M106 41h1M14 42h1M27 42h1M52 42h1M59 42h1M85 42h1M100 42h1M113 42h1M101 43h1M110 43h1M12 44h1M31 44h1M110 44h1M9 45h1M24 45h1M29 45h1M11 46h1M13 46h1M15 46h1M33 46h1M101 46h1M28 47h1M56 47h1M83 47h2M103 47h1M108 47h1M25 48h1M30 48h1M96 48h1M12 49h1M29 49h1M46 49h1M103 49h1M56 51h1M15 52h1M41 52h1M29 53h1M58 53h1M28 54h1M56 54h1M85 54h1M29 55h1M53 55h1M60 55h1M29 56h1M60 56h1M58 57h1M53 58h1M55 58h1M61 59h1M105 59h1M19 60h1M26 60h1M43 60h1M62 60h1M11 61h1M31 61h1M11 62h1M13 62h1M26 62h1M53 62h1M56 62h1M102 62h1M99 63h1M8 64h1M11 64h2M19 64h1M29 64h1M44 64h1M58 64h1M20 65h1M26 65h1M28 65h1M30 65h1M14 66h1M16 66h1M30 67h1M40 67h1M55 67h1M18 68h1M31 68h2M15 69h1M41 69h1M41 70h1M47 70h1M7 71h1M15 71h1M57 71h1M61 71h1M28 72h1M60 72h1M18 73h1M22 73h1M37 73h1M41 73h1M53 73h2M20 74h1M31 74h1M41 74h1M44 74h1M54 74h1M38 75h1M48 75h1M59 75h1M30 76h2M42 76h1M48 76h1M51 76h1M10 77h1M15 77h1M18 77h1M22 77h2M25 77h1M28 77h1M7 78h1M11 78h1M21 78h1M48 78h1M43 79h1M48 79h1M11 80h1M21 80h1M26 81h1M45 81h1M49 82h2M16 83h1M18 83h1M25 83h1M53 83h1M30 84h1M32 84h1M9 85h1M11 85h2M22 85h1M24 85h1M52 85h1M55 85h1M57 85h2M8 86h1M49 86h1M40 87h1M49 87h1M11 88h1M24 88h1M60 88h1M23 89h1M32 89h1M57 89h1M60 89h1M53 90h1M15 91h1M20 91h1M42 91h1M58 91h1M9 92h1M20 92h1M27 92h1M59 92h1M21 93h1M55 93h1M13 94h1M22 94h1M26 94h1M47 94h1M49 94h1M53 94h1M8 95h1M20 95h1M22 95h1M53 96h1M59 96h1M64 96h1M8 97h1M13 97h1M33 97h1M47 97h1M10 98h1M13 98h1M33 98h1M47 98h1M52 98h1M55 98h1M13 99h1M8 100h1M11 100h1M10 101h1M20 101h1M27 101h1M31 101h1M51 101h1M50 103h1M55 103h1M57 103h1M10 105h1M14 105h1M57 105h2M9 106h1M23 106h1M57 106h1M53 107h1M55 107h1M9 108h1M21 108h1M57 108h1M23 109h1M53 111h1M10 113h1M55 114h1M23 115h1M55 115h1M49 116h1M23 117h1M60 117h1M13 118h1M52 118h1M19 119h1M53 119h2M58 119h1M19 121h1M23 122h1M54 122h1M36 123h1M42 123h1M21 124h1M53 125h1M22 127h1M57 127h1M23 129h1M34 129h1M34 130h1M56 130h1M23 131h1M42 131h1M20 132h1M45 132h1M37 133h1M53 133h1M58 133h1M8 134h1M22 134h1M26 134h1M44 134h1M22 136h1M46 136h1M16 137h1M37 137h1M60 137h1M15 138h1M19 138h1M40 138h1M7 139h1M37 139h1M36 140h1M52 140h1M13 141h1M12 142h1M37 142h1M13 143h1M7 144h1M25 144h1M14 145h1M36 145h1M51 145h1M18 146h1M36 146h1M22 149h1M12 150h1M37 150h1M55 150h1M14 151h1M25 151h2M15 152h1M43 152h1M14 153h1M37 153h1M54 154h1M14 155h1M21 155h1M22 156h1M34 156h1M38 156h1M51 156h1M38 157h1M13 158h1M25 158h1M38 158h1M40 158h1M53 158h1M12 159h1M33 159h1M12 160h1M14 160h1M51 160h1M14 162h1M17 162h1M23 162h1M37 162h1M24 163h2M24 164h1M51 164h2M54 164h1M14 165h1M4 166h1M9 166h1M12 166h1M16 166h1M34 166h1M38 166h1M2 167h1M8 167h1M16 167h1M22 167h1M26 167h1M30 167h1M39 167h1M52 167h2M110 167h1M2 168h1M15 168h1M19 168h1M111 168h1M52 169h1M116 169h1M3 170h1M21 170h1M34 170h1M42 170h1M110 170h1M6 171h1M32 172h1M40 172h1M53 172h1M0 173h1M5 173h1M9 173h1M24 173h1M28 173h1M40 173h1M49 173h1M101 173h1M108 173h1M117 173h1M4 174h1M8 174h1M17 174h1M26 174h1M33 174h1M20 175h1M23 175h1M27 175h1M31 175h1M50 175h1M52 175h1M109 175h1M4 176h3M12 176h1M20 176h1M31 176h2M40 176h1M109 176h1M116 176h1M13 177h1M99 177h1M112 177h1M51 178h1M98 178h1M11 179h1M30 179h1M109 179h1M13 180h1M23 180h1M28 180h2M49 180h1M12 181h1M21 181h1M29 181h1M42 181h1M101 181h1M8 182h1M10 182h1M103 182h1M0 183h1M48 183h2M22 184h1M41 184h1M44 184h1M113 184h1M28 185h1M29 186h1M42 186h1M44 186h1M25 187h2M39 187h1M86 187h1M106 187h1M22 188h1M26 188h1M43 188h1M51 188h1M53 188h1M42 189h1M85 189h1M93 189h1M29 190h1M53 190h1M100 190h1M108 190h1M115 190h1M117 190h1M28 191h1M46 191h1M50 191h2M83 191h1M41 192h2M82 192h1M92 192h1M117 192h1M40 193h1M87 193h1M104 193h1M114 193h1M117 193h1M28 194h1M43 194h1M42 195h1M51 195h1M108 195h1M47 196h1M49 196h1M92 196h1M108 196h1M41 197h1M27 198h1M43 198h2M45 199h1M48 199h1M40 200h1M51 200h1M87 200h1M118 200h1M22 201h1M41 201h1M45 201h1M20 202h1M45 202h1M49 202h1M20 203h1M42 205h1M46 205h1M18 206h1M20 206h1M52 206h1M22 207h1M42 208h1M25 210h1M51 212h1M26 213h1M38 213h1M44 213h1M63 213h1M70 213h1M74 213h1M25 214h1M34 214h1M38 214h1M45 215h1M20 216h2M40 216h1M61 216h1M22 217h1M25 217h1M35 217h1M37 217h1M45 217h1M19 219h1M42 219h2M23 220h1M31 220h1M43 220h1M46 220h1M60 220h1M28 221h1M30 221h1M41 221h1M17 222h1M21 222h2M26 222h1M36 222h1M48 222h1M62 222h1M34 223h1M41 223h1M31 224h1M46 224h1M51 224h1M27 225h1M30 225h1M36 225h1M22 226h1M28 227h1M53 227h1M66 227h1M22 228h1M28 228h1M52 228h1M55 228h1M58 228h1M24 229h1M58 229h1M60 229h1M23 230h1M76 230h1M55 231h1M82 231h1M94 231h1M59 232h1M63 232h1M76 232h1M80 232h1M84 232h1M90 232h1M92 232h1M105 232h2M111 232h1M119 232h2M30 233h1M58 233h1M62 233h1M72 233h1M80 233h1M82 233h1M85 233h1M88 233h2M91 233h2M94 233h1M96 233h1M111 233h1M116 233h1M57 234h1M69 234h1M81 234h2M85 234h3M104 234h2M108 234h1M112 234h1M116 234h1"/>
<path stroke="#1c00f2" d="M7 0h1M27 0h1M98 0h1M6 1h1M26 1h1M92 1h1M98 1h1M101 1h1M118 1h1M3 2h1M32 2h1M5 3h2M21 3h2M26 3h1M30 3h1M35 3h1M103 3h1M114 3h1M12 4h1M20 4h1M25 4h1M6 5h1M12 5h1M18 5h1M24 5h1M111 5h1M6 6h1M8 6h1M10 6h1M24 6h1M8 7h1M18 7h1M17 8h1M20 8h1M97 8h1M109 8h1M0 9h1M15 9h1M20 9h1M23 9h2M1 10h1M16 10h2M107 10h1M3 11h1M5 11h1M12 11h1M10 12h1M7 13h1M23 13h1M84 32h1M97 34h2M31 35h1M102 35h1M10 37h1M86 37h1M101 37h1M29 38h1M56 38h1M88 38h1M92 38h1M105 38h2M12 39h1M18 39h1M96 39h1M98 39h1M28 40h1M58 40h1M52 41h1M57 41h1M96 41h1M99 41h1M107 41h2M19 42h1M39 42h1M54 42h1M96 42h1M111 42h1M12 43h1M57 43h1M91 43h1M96 43h1M98 43h1M105 43h1M28 44h2M53 44h1M88 44h1M98 44h1M101 44h1M22 45h1M30 45h1M88 45h1M100 45h1M105 45h1M10 46h1M16 46h1M30 46h1M42 46h1M85 46h1M7 47h1M11 47h1M53 47h1M86 47h1M109 47h1M12 48h1M16 48h1M31 48h1M39 48h1M43 48h1M50 48h1M31 49h1M56 49h1M21 50h1M30 50h1M93 50h1M31 51h2M8 54h1M31 54h1M99 54h1M12 55h1M14 55h2M19 55h1M31 55h2M103 55h1M21 56h1M52 56h1M61 56h1M27 57h2M43 57h1M106 57h1M26 58h1M11 59h1M31 59h1M58 59h1M29 60h1M31 60h1M92 60h1M12 61h1M43 61h2M53 61h1M58 61h1M14 62h1M16 62h1M27 62h1M43 62h2M61 62h1M15 63h1M31 63h1M90 63h1M15 64h1M22 64h1M32 64h1M40 64h1M52 64h1M13 65h2M42 65h1M9 66h1M31 66h1M39 66h1M41 66h1M58 66h1M11 67h1M13 67h1M52 67h1M40 68h1M45 68h1M58 68h1M30 69h1M56 69h1M27 70h1M29 70h1M32 70h1M58 70h1M28 71h1M30 71h1M43 71h1M48 71h1M101 71h1M22 72h1M44 72h1M55 72h1M10 73h1M43 74h1M19 75h1M39 75h1M44 75h2M10 76h1M23 76h2M63 76h1M33 77h1M46 77h1M57 77h1M8 78h1M13 78h1M9 79h3M13 79h1M42 79h1M44 79h2M64 79h1M24 80h2M50 80h1M60 80h1M8 81h1M15 81h1M24 81h1M28 81h1M58 81h1M11 82h1M66 82h1M12 83h1M43 83h1M56 83h1M58 83h1M60 83h1M41 84h1M51 84h1M60 84h1M16 85h1M20 85h1M26 85h1M28 85h1M47 85h1M51 85h1M60 85h1M66 85h1M22 86h1M53 86h1M47 88h1M53 88h1M8 89h1M12 89h1M25 89h2M47 89h1M53 89h1M55 89h2M62 89h1M14 90h1M47 90h1M59 90h1M61 90h1M26 91h1M10 92h1M24 92h1M50 92h1M19 93h1M59 93h1M48 94h1M7 95h1M18 95h1M27 95h1M32 95h1M10 96h1M55 96h1M12 97h1M20 97h1M22 97h1M45 97h1M24 98h1M50 98h1M53 98h1M9 99h1M24 99h1M31 99h1M21 100h2M52 100h1M59 100h1M61 100h1M14 101h1M48 101h1M58 101h1M10 102h1M15 102h1M24 102h1M51 102h2M60 102h1M64 102h1M45 103h1M12 104h1M24 104h1M7 105h1M52 105h1M20 106h1M24 106h2M51 106h2M55 106h1M60 106h1M20 107h1M48 107h1M50 107h1M32 108h1M5 109h1M9 109h1M18 109h1M10 110h1M24 110h1M32 110h1M34 110h1M57 111h1M14 112h1M59 112h1M23 113h1M54 115h1M58 115h1M53 116h1M10 117h1M11 118h1M20 118h1M51 118h1M8 120h1M10 121h1M7 122h1M34 122h1M44 122h2M57 122h1M59 122h1M20 123h1M23 124h2M58 124h1M34 126h1M61 126h1M21 127h1M44 127h1M53 127h1M59 127h1M57 128h1M46 129h1M57 129h1M38 131h1M40 131h1M59 131h1M10 132h1M22 132h1M36 132h1M53 132h1M18 133h1M22 133h1M38 133h1M59 133h1M23 134h1M34 134h1M36 134h1M41 134h1M53 134h1M58 134h1M22 135h2M35 135h1M53 135h1M61 135h1M54 136h1M6 137h1M19 137h1M38 137h1M8 138h1M11 138h1M56 138h1M11 139h1M11 140h2M24 140h1M38 140h1M44 140h1M10 141h1M15 141h1M21 141h1M23 141h1M13 142h1M21 142h1M26 142h1M35 142h1M7 143h1M21 144h1M43 144h1M53 144h1M40 145h1M43 145h1M53 145h1M8 146h1M10 147h1M13 147h1M12 148h1M24 148h1M38 148h1M14 149h1M23 149h1M24 150h1M40 150h1M23 151h1M35 151h1M54 151h1M14 152h1M22 152h1M54 152h1M11 153h2M19 153h1M26 153h1M35 153h1M57 153h1M34 154h1M16 155h1M22 155h2M11 156h1M23 156h1M25 156h1M27 156h1M50 156h1M7 157h1M11 157h1M14 157h2M19 157h1M27 157h1M35 157h1M107 157h1M114 157h1M117 157h1M3 158h1M15 158h1M34 158h1M3 159h1M9 159h1M16 159h1M21 159h2M26 159h1M29 159h1M35 159h1M50 159h2M53 159h1M11 160h1M19 160h1M41 160h1M50 160h1M107 160h1M10 161h1M16 161h1M23 161h1M27 161h1M37 161h1M55 161h1M113 161h1M7 162h1M21 162h1M51 162h1M53 162h1M117 162h1M20 163h1M29 163h1M36 163h1M39 163h1M50 163h1M109 163h1M10 164h1M13 164h1M28 164h2M15 165h1M20 165h1M35 165h1M54 165h1M35 166h1M50 166h1M9 168h1M12 168h1M18 168h1M32 168h1M41 168h1M9 169h1M12 169h1M26 169h2M30 169h1M103 169h1M25 170h1M27 170h1M4 171h1M21 171h1M29 171h1M14 172h1M21 172h1M49 172h1M1 173h1M8 173h1M50 173h1M53 173h1M55 173h1M106 173h1M3 174h1M20 174h1M23 174h1M27 174h1M41 174h1M109 174h1M112 174h1M117 174h1M5 175h1M15 175h1M21 175h1M25 175h1M98 175h2M106 175h1M110 175h1M118 175h1M8 176h1M22 176h1M28 176h2M53 176h1M96 176h2M1 177h1M49 177h1M116 177h1M4 178h1M9 178h1M26 178h1M0 179h1M4 179h1M10 179h1M13 179h2M27 179h1M39 179h1M41 179h1M98 179h1M103 179h1M113 179h1M31 180h1M46 180h1M53 180h1M117 180h1M19 181h1M23 181h2M40 181h1M115 181h1M0 182h1M5 182h1M28 182h1M49 182h1M106 182h1M19 183h1M24 183h1M41 183h1M50 183h1M54 183h1M107 183h1M112 183h1M116 183h1M24 184h1M30 184h1M104 184h1M116 184h1M21 185h1M115 185h1M25 186h1M109 186h1M119 186h2M41 187h1M44 187h1M51 187h1M98 187h1M111 187h1M23 188h1M47 188h1M89 188h1M91 188h1M101 188h1M29 189h1M52 189h1M98 189h1M118 189h1M42 190h1M48 190h1M105 190h1M48 191h1M85 191h1M87 191h1M98 191h1M106 192h1M118 192h1M46 193h1M50 193h1M85 193h1M29 194h1M50 194h1M86 194h1M88 194h1M98 194h1M110 194h1M40 195h1M54 195h1M85 195h1M95 195h1M116 195h1M22 196h1M90 196h1M117 196h1M51 197h2M50 198h1M53 198h1M42 199h1M49 199h1M52 199h1M40 201h1M114 201h1M83 202h1M29 203h1M46 203h1M50 204h1M29 205h1M52 205h1M81 205h1M84 205h1M25 206h1M42 206h1M21 207h1M46 207h1M50 207h1M29 208h1M46 208h1M49 208h1M28 209h1M43 209h1M29 210h1M40 210h1M23 211h1M69 211h1M49 212h1M63 214h1M67 214h1M35 215h1M42 215h1M39 216h1M43 218h1M47 218h1M52 218h1M62 218h1M21 219h1M27 219h1M62 219h2M66 219h1M42 220h1M60 221h1M64 221h1M40 223h1M49 223h1M39 224h1M65 224h2M48 225h1M40 226h1M60 226h1M30 227h2M52 227h1M62 227h1M72 227h1M27 228h1M29 230h1M60 230h1M66 231h1M80 231h1M91 231h1M115 231h1M62 232h1M70 232h2M73 232h1M79 232h1M86 232h1M88 232h2M95 232h1M102 232h2M59 233h2M63 233h3M81 233h1M83 233h1M95 233h1M97 233h1M105 233h1M109 233h1M119 233h2M58 234h1M66 234h1M73 234h1M89 234h1M94 234h1M107 234h1M109 234h1M117 234h1"/>
<path stroke="#0400fd" d="M31 0h1M33 0h1M13 1h1M31 1h1M35 1h1M114 1h1M10 2h1M14 2h1M27 2h1M29 2h1M25 3h1M27 3h1M96 3h1M5 4h2M19 4h1M26 4h1M28 4h1M116 4h1M9 5h1M13 5h1M21 5h1M25 5h1M34 5h1M21 6h1M25 6h2M103 6h1M107 6h1M118 6h1M3 7h1M24 7h1M14 8h1M24 8h1M95 8h1M103 8h1M2 9h1M17 9h1M3 10h1M18 10h1M11 11h1M24 11h1M0 12h1M20 12h1M101 31h1M32 32h1M101 32h1M83 33h1M19 34h1M32 34h1M93 34h1M52 35h2M59 35h1M101 35h1M103 35h1M109 35h1M16 36h2M96 36h1M111 36h1M13 37h1M45 37h1M52 37h1M95 37h2M49 38h1M98 38h1M108 38h1M112 38h1M114 38h1M19 39h1M54 39h1M85 39h1M30 40h1M33 40h1M57 40h1M85 40h2M94 40h1M96 40h1M104 40h1M107 40h2M114 40h2M12 41h1M24 41h1M27 41h3M12 42h1M17 42h1M41 42h2M98 42h1M106 42h2M23 43h2M48 43h1M58 43h1M107 43h1M41 44h1M85 44h1M100 44h1M103 44h1M15 45h1M26 45h1M48 45h1M112 45h1M8 46h1M12 46h1M58 46h1M92 46h1M94 46h2M14 47h1M22 47h1M29 47h2M58 47h2M95 47h1M107 47h1M18 48h1M23 48h1M59 48h1M106 48h1M26 49h1M50 49h1M53 49h1M58 49h1M28 50h1M33 50h1M58 50h1M13 51h1M16 51h1M54 51h1M25 52h1M53 52h1M58 52h2M59 53h1M33 54h1M57 54h1M100 54h1M23 55h1M10 56h1M41 56h1M55 56h1M11 57h1M29 57h2M40 57h1M51 57h1M53 57h1M105 57h1M14 58h1M41 58h1M44 58h1M90 58h1M99 58h1M106 58h1M18 59h1M33 59h1M40 59h1M54 59h2M59 59h1M63 59h1M96 59h1M13 60h1M22 60h1M30 60h1M56 60h1M96 60h1M103 60h1M17 61h1M21 61h2M51 61h1M61 61h1M8 62h2M21 62h1M40 62h1M21 63h2M28 63h1M54 63h1M62 63h1M25 64h1M61 64h1M64 64h1M16 65h1M21 65h1M58 65h1M62 65h1M92 65h1M101 65h1M13 66h1M29 66h1M42 66h3M21 67h1M25 67h1M28 67h2M43 67h1M56 67h1M58 67h1M107 67h1M7 68h1M12 68h1M28 68h1M60 68h1M8 69h1M10 69h2M39 69h1M30 70h2M33 70h1M52 70h1M59 70h1M94 70h1M29 71h1M32 71h1M44 71h1M18 72h1M43 72h1M26 73h1M31 73h1M33 73h1M40 73h1M44 73h1M60 73h1M16 74h1M27 74h1M29 74h2M39 74h2M63 74h1M17 75h2M29 75h2M37 75h1M62 75h1M22 76h1M60 76h1M8 77h1M11 77h1M16 77h1M31 77h1M44 77h1M52 77h1M55 77h1M17 78h1M27 78h1M29 78h1M46 78h2M8 79h1M15 79h1M18 79h2M61 79h1M27 80h1M29 80h1M42 80h1M47 80h1M51 80h1M54 80h1M57 80h1M17 81h1M23 81h1M49 81h1M54 81h1M57 81h1M61 81h1M23 82h1M30 82h1M53 82h1M21 83h1M24 83h1M46 83h1M48 83h1M57 83h1M63 83h1M12 84h1M54 84h1M64 84h1M13 85h2M18 85h1M30 85h1M32 85h1M46 85h1M56 85h1M67 85h1M6 86h1M12 86h1M24 86h2M30 86h1M43 86h1M57 86h2M13 87h1M26 87h1M46 87h1M57 87h1M64 87h2M6 88h1M54 88h1M59 88h1M61 88h1M9 89h2M15 89h1M27 89h1M51 89h1M54 89h1M6 90h2M9 90h1M16 90h1M28 90h1M48 90h1M52 90h1M62 90h1M66 90h1M18 91h2M24 91h2M28 91h1M56 91h2M62 92h1M13 93h1M47 93h1M54 93h1M64 93h1M7 94h1M19 94h1M31 94h1M56 94h1M60 94h1M9 95h1M56 95h1M60 95h1M31 96h1M45 96h1M52 97h1M12 98h1M16 98h1M19 98h2M22 98h1M12 99h1M53 99h1M56 99h1M13 100h1M50 100h1M55 100h1M28 101h1M60 101h1M23 102h1M50 102h1M54 102h1M13 103h1M21 103h1M52 103h1M61 103h1M17 104h1M23 104h1M23 105h1M50 105h1M8 106h1M31 106h1M33 106h1M53 106h1M9 107h1M17 107h1M52 107h1M56 107h1M24 108h1M53 108h1M11 109h1M21 109h1M24 109h1M32 109h1M55 109h2M20 110h2M8 111h1M10 111h1M13 111h1M58 111h1M19 112h1M52 112h1M13 113h1M13 114h1M51 114h2M57 114h1M21 115h1M32 115h1M51 115h1M56 115h1M61 115h1M19 116h1M33 116h1M57 116h1M53 117h2M56 117h1M22 118h1M35 119h1M56 119h1M60 119h1M7 120h1M23 120h1M25 120h1M54 120h1M59 120h2M32 121h1M36 121h1M9 122h1M36 122h1M58 122h1M9 123h1M53 123h2M7 124h1M46 124h1M20 126h1M39 126h1M43 126h1M11 127h1M41 127h1M47 127h1M15 128h1M37 128h1M44 128h1M47 128h1M52 128h2M8 129h1M41 129h1M54 129h1M58 129h1M8 130h1M12 130h1M20 130h1M54 130h1M62 130h1M10 131h1M13 131h1M36 131h1M53 131h1M57 131h1M60 131h1M62 131h1M39 132h1M6 133h1M41 133h1M55 133h1M21 134h1M38 134h1M43 134h1M60 134h1M16 135h1M25 135h1M60 135h1M43 136h1M52 136h1M56 136h1M8 137h1M10 137h2M17 137h1M40 137h1M43 137h1M46 137h1M20 138h2M36 138h1M50 138h1M54 138h1M16 139h1M35 139h1M44 139h1M8 140h1M9 141h1M17 141h1M39 141h2M10 142h1M15 142h1M51 142h1M37 143h1M34 144h1M8 145h1M6 146h1M13 146h1M19 146h1M37 146h1M35 147h1M35 148h2M58 148h1M7 149h1M9 149h2M35 149h1M6 150h1M8 150h1M11 150h1M19 150h1M23 150h1M26 150h1M20 151h2M24 151h1M40 151h1M26 152h1M113 152h1M7 153h1M9 153h1M23 153h1M10 154h1M18 154h1M23 154h1M39 154h1M52 154h1M2 155h1M19 155h1M35 155h1M53 155h1M8 156h1M15 156h1M20 156h2M49 156h1M54 156h1M58 156h1M16 157h1M24 157h1M109 157h1M16 158h1M18 158h1M22 158h2M35 158h1M107 158h1M14 159h1M18 159h1M32 159h1M36 159h1M111 159h1M13 160h1M20 160h1M22 160h1M53 160h2M5 161h1M11 161h1M20 161h1M115 161h1M117 161h1M39 162h3M50 162h1M52 162h1M3 163h1M14 163h1M116 163h1M6 164h1M12 164h1M38 164h1M40 164h2M107 164h1M112 164h1M13 165h1M19 165h1M24 165h1M30 165h1M40 165h1M47 165h1M112 165h1M1 166h2M17 166h1M26 166h1M40 166h1M109 166h1M3 167h1M19 167h1M21 167h1M20 168h1M25 168h1M27 168h1M50 168h1M109 168h1M0 169h2M4 169h1M48 169h2M51 169h1M4 170h1M6 170h1M8 170h1M12 170h1M31 170h1M50 170h1M92 170h1M116 170h1M23 171h1M32 171h1M52 171h1M112 171h1M23 172h1M33 172h1M109 172h1M11 173h1M25 173h1M52 173h1M109 173h1M115 173h1M0 174h1M10 174h1M21 174h1M32 174h1M96 174h1M12 175h1M26 175h1M41 175h1M119 175h2M26 176h1M49 176h1M99 176h1M119 176h2M12 177h1M19 177h1M21 177h1M27 177h1M52 177h1M93 177h1M103 177h1M113 177h1M43 178h1M50 178h1M52 178h1M54 178h1M106 178h1M46 179h1M107 179h2M114 179h1M117 179h1M2 180h1M19 180h1M24 180h1M41 180h2M85 180h1M20 181h1M102 181h1M111 181h1M113 181h1M11 182h1M24 182h1M26 182h1M30 182h1M52 182h1M94 182h1M112 182h1M27 183h1M43 183h1M53 183h1M108 183h1M14 184h1M40 184h1M48 184h1M85 184h1M26 185h1M45 185h1M86 185h1M88 185h1M93 185h1M20 186h1M41 186h1M48 186h1M85 186h1M115 186h1M24 187h1M47 187h1M54 187h1M113 187h1M118 187h1M95 188h1M107 188h1M115 188h1M119 188h2M45 189h1M48 189h1M54 189h1M84 189h1M92 189h1M94 189h1M28 190h1M40 191h1M100 191h1M107 191h1M87 192h1M96 192h1M100 192h1M24 193h1M53 193h1M89 193h2M96 193h1M110 193h1M118 193h1M103 194h1M115 194h1M117 194h2M47 195h1M49 195h1M43 196h1M43 197h1M47 197h1M54 197h1M114 197h1M84 198h1M114 198h1M119 198h2M104 199h1M49 200h1M48 201h1M52 201h1M49 203h2M52 203h1M116 203h1M23 204h1M48 204h1M82 204h1M85 204h1M117 204h1M22 205h1M23 207h1M42 207h1M82 207h1M27 208h1M35 208h1M48 209h1M52 209h1M49 210h1M25 211h1M41 211h1M45 211h1M23 212h1M37 212h1M35 213h2M45 213h1M49 213h1M41 214h1M43 214h1M45 214h1M60 214h1M73 214h1M43 215h1M60 215h1M69 216h1M20 217h1M41 217h1M69 217h1M30 218h1M44 218h1M20 219h1M37 219h1M44 219h1M47 220h1M26 221h1M29 221h1M37 221h1M46 221h1M34 222h1M50 222h1M53 222h1M30 223h1M33 223h1M37 223h1M45 224h1M52 224h1M72 224h1M75 224h1M28 225h1M33 225h1M38 225h1M42 225h1M52 225h1M58 225h1M42 226h1M47 226h1M53 226h1M62 226h1M78 226h1M23 228h1M62 230h1M29 231h1M58 231h2M88 231h1M29 232h1M60 232h1M67 232h1M78 232h1M81 232h1M100 232h1M114 232h1M116 232h2M27 233h1M57 233h1M75 233h1M78 233h1M90 233h1M99 233h1M102 233h1M112 233h1M115 233h1M60 234h4M65 234h1M71 234h1M91 234h1M106 234h1M118 234h1"/>
<path stroke="#0013ff" d="M96 0h1M112 0h1M14 1h1M32 1h1M36 1h1M107 1h2M107 2h2M29 3h1M32 3h1M98 3h1M102 3h1M105 3h1M107 3h1M112 3h2M14 4h1M27 4h1M101 4h1M107 4h1M5 5h1M15 5h1M92 6h1M111 6h1M114 6h1M0 7h1M15 7h1M115 7h1M7 8h1M10 8h1M15 8h2M21 8h1M25 8h1M27 8h1M107 8h1M112 8h1M119 8h2M1 9h1M96 9h1M14 11h1M17 11h1M2 12h1M6 12h1M22 12h1M107 29h1M15 30h1M105 30h1M99 31h1M88 32h1M90 33h1M104 33h1M51 34h2M100 34h1M15 35h2M21 35h1M46 35h1M90 35h1M18 36h1M31 36h1M34 36h1M84 36h1M97 36h1M103 36h1M106 36h1M12 37h1M24 37h1M104 37h1M111 37h1M26 38h1M94 38h1M107 38h1M22 39h1M56 39h1M90 39h1M92 39h1M100 39h1M104 39h1M109 39h1M16 40h1M21 40h1M52 40h1M90 40h1M102 40h1M111 40h1M14 41h1M56 41h1M62 41h1M91 41h1M9 42h1M31 42h1M61 42h3M108 42h1M16 43h1M26 43h1M28 43h1M49 43h1M55 43h1M90 43h1M99 43h1M103 43h1M113 43h1M26 44h1M46 44h1M52 44h1M57 44h1M62 44h1M95 44h2M105 44h1M87 45h1M92 45h1M94 45h1M103 45h1M22 46h2M46 46h1M52 46h1M57 46h1M106 46h1M25 47h2M57 47h1M82 47h1M101 47h1M24 48h1M28 48h1M51 48h1M60 48h1M85 48h1M87 48h1M22 49h1M60 49h1M100 49h2M11 50h1M25 50h1M32 50h1M49 50h1M60 50h1M90 50h1M103 50h1M109 50h1M24 51h1M36 51h1M55 51h1M11 52h1M20 52h1M31 52h2M39 52h1M56 52h2M95 52h1M28 53h1M31 53h1M42 53h1M52 53h1M26 54h1M41 54h1M45 54h1M104 54h1M106 54h1M11 55h1M21 55h1M36 55h1M54 55h1M56 55h1M58 55h1M61 55h1M106 55h1M11 56h1M17 56h1M28 56h1M32 56h1M40 56h1M56 56h1M9 57h1M14 57h1M42 57h1M59 57h1M101 57h1M15 58h1M24 58h1M28 58h1M56 58h1M10 59h1M12 59h1M92 59h1M100 59h1M28 60h1M58 60h1M88 60h1M101 60h1M105 60h1M28 61h1M56 61h1M63 61h1M87 61h1M99 61h1M41 62h1M55 62h1M103 62h1M8 63h2M11 63h1M26 63h1M45 63h1M49 63h1M57 63h2M60 63h1M97 63h1M107 63h1M7 64h1M31 64h1M39 64h1M41 64h1M53 64h1M57 64h1M96 64h1M100 64h1M103 64h1M29 65h1M32 65h1M51 65h1M56 65h1M59 65h1M94 65h1M8 66h1M10 66h1M18 66h1M57 66h1M61 66h1M12 67h1M15 67h1M19 67h1M46 67h1M60 67h1M27 68h1M50 68h1M21 69h1M23 69h1M40 69h1M46 69h1M52 69h2M7 70h1M28 70h1M39 70h1M43 70h1M54 70h2M13 71h1M18 71h1M26 71h1M33 71h1M53 71h1M56 71h1M60 71h1M100 71h1M38 72h1M41 72h1M57 72h2M8 73h1M19 73h1M24 73h1M32 73h1M51 73h1M56 73h3M99 73h1M8 74h1M45 74h1M8 75h1M10 75h1M41 75h1M47 75h1M53 75h3M58 75h1M60 75h1M13 76h2M16 76h1M33 76h1M44 76h1M50 76h1M55 76h1M62 76h1M12 77h1M20 77h1M29 77h1M38 77h1M40 77h1M63 77h1M10 78h1M15 78h1M23 78h1M39 78h1M25 79h1M30 79h1M66 79h1M6 80h1M39 80h1M46 80h1M64 80h1M10 81h2M39 81h1M53 81h1M62 81h1M12 82h1M41 82h1M56 82h1M60 82h3M64 82h2M67 82h1M10 83h1M30 83h1M33 83h1M45 83h1M59 83h1M7 84h1M10 84h1M18 84h2M45 84h1M49 84h1M55 84h1M58 84h1M67 84h1M29 85h1M33 85h1M54 85h1M45 86h1M60 86h1M10 87h1M16 87h1M18 87h1M62 87h1M26 88h1M49 88h1M55 88h1M31 89h1M33 89h1M41 89h1M18 90h1M25 90h2M45 90h1M54 90h1M43 91h1M49 91h1M55 91h1M13 92h1M15 92h1M25 92h1M56 92h2M63 92h1M17 93h1M24 93h1M26 93h1M28 93h1M30 93h1M56 93h1M60 93h1M20 94h1M23 94h2M55 94h1M16 95h1M29 95h1M49 95h1M55 95h1M7 96h1M60 96h1M30 97h1M65 97h1M8 98h1M15 98h1M18 98h1M30 98h1M51 98h1M7 99h1M19 99h1M54 99h1M58 99h1M62 99h1M9 100h1M56 100h1M8 101h1M12 101h1M21 101h1M26 101h1M54 101h1M57 101h1M64 101h1M14 102h1M19 102h1M22 102h1M61 102h1M4 103h1M9 103h1M12 103h1M18 103h1M24 103h2M46 103h2M56 103h1M51 104h1M59 104h1M54 105h1M60 105h1M13 106h1M56 106h1M32 107h2M45 107h1M51 107h1M58 107h1M19 108h1M49 108h1M52 108h1M56 108h1M22 109h1M50 109h1M9 110h1M11 110h1M22 110h1M26 110h1M50 110h1M58 110h1M5 111h2M18 111h1M47 111h1M8 112h1M20 112h1M7 113h1M21 113h1M51 113h2M10 114h1M50 114h1M9 115h1M24 115h1M53 115h1M10 116h1M52 116h1M56 116h1M58 116h1M22 117h1M50 117h1M55 117h1M48 118h1M21 119h2M46 119h1M55 119h1M9 120h1M11 120h1M19 120h1M53 120h1M58 120h1M9 121h1M13 121h1M20 121h1M10 122h1M13 122h1M22 122h1M55 122h1M10 123h2M44 123h1M13 124h1M35 124h1M44 124h2M52 124h2M59 124h1M58 125h1M9 126h1M21 126h1M24 126h1M27 126h1M36 126h1M41 126h1M44 126h1M54 126h1M9 127h1M20 127h1M25 127h1M45 127h1M50 127h1M56 127h1M8 128h1M11 128h1M56 128h1M50 129h1M53 129h1M9 130h1M21 130h2M37 130h1M46 130h1M52 130h1M58 130h2M21 131h1M25 131h1M46 131h1M51 131h2M55 131h1M58 131h1M8 132h1M12 132h1M24 132h1M38 132h1M41 132h1M54 132h1M57 132h1M60 132h2M11 133h1M24 133h1M35 133h1M60 133h1M18 134h1M37 134h1M39 134h1M56 134h1M59 135h1M15 136h1M19 136h1M35 136h2M40 136h1M53 136h1M57 136h1M60 136h1M7 137h1M15 137h1M25 137h1M44 137h1M7 138h1M17 138h1M23 138h1M27 138h1M37 138h1M21 139h1M23 139h1M36 139h1M40 139h2M16 140h1M7 141h2M19 141h1M34 141h1M51 141h1M53 141h1M56 141h1M11 142h1M16 142h1M20 142h1M33 142h1M40 142h1M52 142h2M8 143h1M22 143h1M38 143h1M43 143h1M8 144h2M14 144h2M22 144h1M39 144h3M50 144h1M24 145h1M47 145h1M43 146h1M3 147h1M12 147h1M14 147h1M36 147h2M40 147h1M52 147h1M7 148h1M15 148h1M19 148h1M28 148h1M39 148h1M43 148h1M28 149h1M36 149h1M39 149h1M46 149h1M56 149h1M60 149h1M9 150h1M15 150h1M18 150h1M21 150h2M27 150h1M35 150h1M49 150h1M54 150h1M5 151h1M7 151h1M18 151h1M38 151h1M55 151h1M8 152h2M25 152h1M39 152h1M44 152h1M53 152h1M15 153h1M51 153h1M106 153h1M109 153h1M111 153h1M12 154h1M20 154h1M36 154h1M8 155h1M13 155h1M18 155h1M51 155h1M108 155h1M14 156h1M24 156h1M35 156h1M118 156h1M0 157h1M2 157h1M9 157h1M13 157h1M26 157h1M33 157h1M53 157h1M106 157h1M116 157h1M111 158h1M10 159h1M25 159h1M41 159h1M114 159h1M21 160h1M52 160h1M108 160h1M3 161h2M13 161h1M25 161h1M28 161h1M52 161h1M4 162h1M24 162h1M12 163h1M22 163h1M49 163h1M103 163h1M21 164h1M116 164h1M2 165h1M6 165h1M11 165h2M18 165h1M21 165h2M25 165h1M29 165h1M32 165h1M114 165h1M3 166h1M14 166h2M24 166h1M51 166h1M53 166h1M108 166h1M110 166h1M115 166h1M118 166h1M7 167h1M17 167h1M28 167h1M114 167h1M5 168h1M21 168h3M117 168h1M5 169h1M11 169h1M28 169h2M99 169h1M101 169h1M111 169h1M117 169h2M5 170h1M32 170h1M52 170h1M97 170h1M107 170h1M119 170h2M30 171h1M40 171h1M54 171h1M102 171h1M113 171h1M3 172h1M10 172h1M30 172h1M93 172h1M99 172h1M111 172h2M119 172h2M22 173h1M54 173h1M86 173h1M103 173h1M2 174h1M6 174h1M24 174h1M42 174h1M56 174h1M90 174h1M93 174h1M97 174h1M108 174h1M111 174h1M116 174h1M28 175h2M44 175h2M49 175h1M96 175h1M103 175h1M112 175h1M116 175h1M95 176h1M20 177h1M43 177h2M46 177h1M100 177h1M102 177h1M33 178h1M41 178h1M92 178h2M100 178h1M108 178h1M116 178h1M18 179h1M24 179h1M29 179h1M85 179h1M97 179h1M116 179h1M30 180h1M51 180h2M100 180h1M102 180h1M115 180h1M118 180h1M13 181h1M86 181h1M99 181h1M108 181h1M119 181h2M43 182h1M86 182h1M88 182h1M100 182h1M104 182h1M107 182h1M110 182h2M118 182h3M5 183h1M29 183h1M100 183h1M114 183h1M118 183h1M46 184h1M55 184h1M92 184h2M103 184h1M40 185h1M43 185h1M48 185h1M98 185h1M43 186h1M47 186h1M94 186h1M101 186h1M46 187h1M107 187h1M115 187h1M92 188h1M94 188h1M99 188h1M109 188h1M90 189h1M97 189h1M104 189h1M119 189h2M52 190h1M92 190h1M106 190h1M116 190h1M44 191h1M90 191h1M109 191h1M44 192h1M84 192h1M95 192h1M105 192h1M22 193h1M44 193h1M86 193h1M94 193h1M103 193h1M45 194h1M47 194h1M84 194h1M113 194h1M84 195h1M92 195h2M115 195h1M117 195h1M45 196h1M52 196h1M85 196h1M93 196h1M119 196h2M42 197h1M48 197h1M53 197h1M87 197h1M90 197h1M94 197h1M112 197h1M117 197h1M86 198h1M90 198h1M82 199h1M108 199h1M118 199h1M45 200h1M87 201h1M85 202h1M22 203h1M41 203h1M112 203h1M117 203h1M42 204h1M45 204h1M44 205h1M50 205h1M53 205h1M23 206h1M111 206h1M117 206h1M28 207h1M50 208h1M20 209h1M53 209h1M64 209h1M118 209h1M23 210h1M43 210h1M48 210h1M50 210h2M62 210h1M44 211h1M49 211h1M64 211h1M31 212h1M33 212h1M39 212h1M42 212h1M45 212h1M52 212h1M62 212h1M71 212h2M47 213h1M60 213h1M69 213h1M73 213h1M42 214h1M50 214h2M69 214h1M37 215h1M40 215h1M64 215h1M69 215h1M43 216h1M49 216h1M37 218h1M46 218h1M48 218h1M29 219h1M48 220h1M58 220h1M62 220h1M65 220h1M67 220h1M62 221h1M38 222h1M63 222h1M39 223h1M33 224h1M41 224h1M45 225h1M59 225h1M69 225h1M32 226h1M66 226h1M49 227h1M51 227h1M55 227h1M29 228h2M53 228h1M31 229h1M59 229h1M81 229h1M28 230h1M61 230h1M114 230h1M62 231h1M70 231h1M95 231h1M110 231h1M28 232h1M30 232h1M61 232h1M65 232h1M82 232h1M98 232h1M107 232h1M109 232h1M118 232h1M26 233h1M67 233h1M71 233h1M104 233h1M110 233h1M29 234h2M59 234h1M67 234h1M70 234h1M76 234h1M90 234h1M99 234h1M101 234h1M119 234h2"/>
<path stroke="#0038ff" d="M35 0h1M101 0h1M115 0h1M117 0h1M33 1h1M39 1h1M100 1h1M105 1h2M25 2h1M39 2h1M92 2h2M95 2h1M109 2h1M28 3h1M36 3h1M108 3h1M10 4h1M34 4h1M92 4h1M115 4h1M27 5h1M113 5h1M20 6h1M23 6h1M30 6h1M105 6h1M108 6h1M110 6h1M7 7h1M11 7h1M19 7h1M28 7h1M103 7h1M0 8h2M5 8h1M31 8h1M94 8h1M106 8h1M11 9h1M14 9h1M19 9h1M88 9h1M111 9h1M0 10h1M2 10h1M19 10h1M26 10h1M32 11h1M11 12h1M17 12h1M8 13h1M49 30h1M99 30h1M52 31h1M102 31h1M34 32h1M86 33h1M105 33h1M11 35h1M14 35h1M30 35h1M50 35h1M57 35h1M108 35h1M110 35h1M113 35h1M12 36h1M32 36h1M41 36h1M54 36h1M58 36h1M60 36h1M93 36h2M98 36h1M102 36h1M105 36h1M113 36h1M28 37h1M53 37h1M59 37h1M97 37h1M117 37h1M15 38h3M23 38h1M33 38h1M41 38h3M47 38h1M51 38h1M54 38h1M85 38h1M97 38h1M104 38h1M115 38h1M10 39h1M21 39h1M27 39h1M86 39h1M95 39h1M106 39h1M108 39h1M113 39h1M59 40h1M88 40h1M92 40h2M101 40h1M103 40h1M11 41h1M22 41h1M30 41h1M54 41h2M93 41h1M97 41h1M100 41h1M109 41h1M34 42h1M83 42h1M86 42h1M110 42h1M11 43h1M15 43h1M30 43h1M38 43h1M51 43h2M104 43h1M111 43h1M14 44h1M23 44h1M30 44h1M45 44h1M59 44h1M64 44h1M86 44h1M89 44h1M12 45h1M23 45h1M27 45h1M40 45h1M54 45h1M57 45h1M97 45h1M114 45h1M26 46h1M45 46h1M50 46h1M54 46h2M86 46h1M90 46h1M93 46h1M99 46h1M108 46h2M13 47h1M97 47h1M11 48h1M41 48h1M48 48h1M52 48h2M99 48h1M41 49h1M55 49h1M50 50h2M53 50h1M56 50h1M23 51h1M30 51h1M33 51h1M40 51h1M60 51h1M62 51h2M98 51h1M33 52h1M44 52h1M55 52h1M87 52h1M105 52h1M9 53h1M11 53h1M24 53h1M33 53h1M41 53h1M55 53h2M11 54h1M13 54h1M29 54h1M52 54h1M54 54h1M92 54h1M17 55h1M26 55h1M8 56h2M13 56h1M16 56h1M25 56h1M57 56h1M103 56h1M8 57h1M15 57h2M35 57h1M98 57h1M13 58h1M32 58h2M39 58h1M52 58h1M57 58h1M62 58h1M85 58h1M97 58h1M9 59h1M22 59h2M44 59h1M93 59h1M102 59h1M10 60h1M51 60h2M59 60h1M7 61h3M14 61h1M23 61h1M25 61h1M42 61h1M59 61h2M90 61h1M93 61h1M98 61h1M32 62h1M42 62h1M54 62h1M60 62h1M92 62h1M108 62h1M7 63h1M16 63h1M33 63h1M56 63h1M64 63h1M93 63h2M30 64h1M63 64h1M22 65h1M36 65h1M54 65h2M7 66h1M47 66h1M50 66h1M54 66h1M97 66h1M100 66h1M106 66h1M8 67h2M18 67h1M20 67h1M51 67h1M24 68h1M33 68h1M41 68h1M48 68h1M52 68h2M56 68h2M94 68h1M104 68h1M26 69h2M43 69h1M100 69h1M19 70h1M37 70h1M42 70h1M62 70h1M92 70h1M95 70h1M103 70h1M9 71h1M25 71h1M58 71h1M8 72h1M10 72h1M16 72h1M19 72h1M37 72h1M7 73h1M45 73h1M48 73h1M50 73h1M18 74h1M21 74h1M25 74h1M33 74h1M49 74h1M59 74h1M61 74h2M27 75h1M43 75h1M57 75h1M20 76h1M28 76h1M41 76h1M45 76h1M59 76h1M7 77h1M9 77h1M17 77h1M27 77h1M41 77h2M50 77h1M60 77h1M22 78h1M40 78h1M42 78h1M45 78h1M49 78h1M59 78h1M61 78h1M27 79h1M46 79h1M58 79h1M60 79h1M7 80h1M30 80h1M38 80h1M48 80h1M59 80h1M63 80h1M25 81h1M44 81h1M51 81h1M59 81h1M14 82h1M18 82h1M31 82h1M39 82h1M52 82h1M4 83h1M31 83h1M50 83h1M16 84h1M43 84h1M48 84h1M63 84h1M7 85h1M53 85h1M59 85h1M61 85h1M10 86h1M23 86h1M47 86h1M51 86h1M54 86h1M15 87h1M29 87h1M48 87h1M51 87h1M54 87h1M58 87h1M60 87h1M15 88h1M27 88h1M48 88h1M51 88h1M56 88h1M24 89h1M48 89h2M52 89h1M59 89h1M66 89h1M12 90h1M46 90h1M30 91h1M47 91h1M54 91h1M61 91h1M6 92h2M30 92h2M54 92h1M60 92h1M15 93h2M50 93h1M53 93h1M57 93h1M54 94h1M58 94h2M62 94h1M21 95h1M28 95h1M31 95h1M51 95h1M16 96h1M33 96h1M57 96h2M7 97h1M17 97h1M51 97h1M57 97h1M5 98h1M9 98h1M25 98h1M62 98h1M10 99h1M33 99h1M60 99h2M10 100h1M54 100h1M62 100h1M9 101h1M16 101h1M46 101h1M62 101h1M9 102h1M16 102h2M31 102h1M59 102h1M62 102h2M11 103h1M34 103h1M58 103h2M63 103h1M52 104h1M58 104h1M60 104h2M12 105h1M46 105h1M55 105h2M32 106h1M25 107h1M46 107h1M54 107h1M60 107h1M64 107h1M55 108h1M60 108h1M31 109h1M34 109h1M46 109h1M8 110h1M31 110h1M56 110h1M60 110h1M15 111h1M55 111h1M11 112h1M22 112h2M31 112h1M50 112h1M9 113h1M15 113h1M53 113h1M57 113h1M11 115h1M22 115h1M26 115h1M44 115h1M49 115h1M9 116h1M11 116h1M16 116h1M32 116h1M60 116h1M7 117h1M11 117h1M20 117h1M46 117h1M57 117h1M59 117h1M16 118h1M25 118h1M56 118h1M8 119h1M18 119h1M27 119h1M33 119h1M42 119h1M32 120h1M34 120h1M49 120h1M56 120h1M21 121h1M51 121h1M59 121h1M47 122h1M52 122h1M62 122h1M8 123h1M23 123h1M25 123h2M41 123h1M56 123h1M8 124h1M22 124h1M12 125h2M16 125h1M22 125h1M34 125h1M47 125h1M51 125h1M59 125h1M11 126h1M14 126h1M19 126h1M51 126h1M56 126h1M58 126h1M24 127h1M37 127h1M46 127h1M5 128h1M9 128h1M46 128h1M61 128h1M22 129h1M35 129h1M52 129h1M55 129h1M60 129h1M6 130h1M10 130h1M44 130h1M53 130h1M55 130h1M9 131h1M16 131h1M26 131h1M37 131h1M47 131h1M49 131h1M13 132h1M16 132h1M42 132h1M51 132h1M62 132h1M7 133h1M10 133h1M15 133h1M45 133h1M24 134h1M35 134h1M57 134h1M61 134h1M7 135h1M15 135h1M44 135h1M55 135h1M7 136h1M16 136h1M21 136h1M24 136h1M55 136h1M58 136h1M12 137h2M20 137h1M53 137h2M10 138h1M12 138h1M58 138h1M12 139h1M14 139h1M24 139h1M39 139h1M45 139h1M52 139h1M20 140h1M41 140h2M49 140h1M6 141h1M11 141h1M27 141h1M58 141h1M5 142h1M9 142h1M24 142h1M34 142h1M38 142h1M55 142h1M9 143h1M14 143h1M23 143h1M39 143h1M6 144h1M12 144h1M19 144h1M24 144h1M35 144h1M52 144h1M58 144h1M12 145h1M23 145h1M49 145h1M61 145h1M2 146h1M4 146h1M9 146h1M15 146h1M40 146h1M53 146h1M7 147h1M25 147h1M51 147h1M58 147h1M113 147h1M17 148h1M42 148h1M54 148h1M16 149h1M26 149h1M7 150h1M20 150h1M42 150h1M113 150h1M6 151h1M10 151h1M15 151h1M19 151h1M22 151h1M115 151h1M13 152h1M19 152h1M38 152h1M55 152h1M8 153h1M34 153h1M54 153h1M13 154h1M15 154h1M22 154h1M25 154h1M35 154h1M111 154h1M7 155h1M9 155h1M20 155h1M28 155h1M44 155h1M113 155h1M7 156h1M13 156h1M108 156h1M18 157h1M32 157h1M41 157h1M14 158h1M29 158h1M39 158h1M45 158h1M104 158h2M112 158h1M114 158h1M5 159h1M11 159h1M15 159h1M23 159h1M28 159h1M34 159h1M54 159h1M15 160h1M27 160h2M35 160h1M37 160h1M0 161h1M9 161h1M14 161h1M24 161h1M41 161h1M51 161h1M3 162h1M10 162h1M43 162h1M49 162h1M106 162h1M114 162h1M2 163h1M5 163h1M7 163h1M21 163h1M27 163h1M32 163h1M40 163h2M99 163h1M117 163h1M1 164h1M8 164h1M20 164h1M22 164h2M25 164h1M31 164h1M49 164h1M53 164h1M9 165h1M17 165h1M23 165h1M26 165h1M51 165h1M55 165h1M105 165h1M107 165h1M115 165h1M117 165h1M32 166h1M52 166h1M100 166h1M114 166h1M50 167h1M107 167h2M116 167h1M13 168h1M29 168h2M53 168h1M103 168h1M112 168h1M2 169h1M42 169h1M95 169h1M119 169h2M23 170h1M26 170h1M30 170h1M41 170h1M45 170h1M112 170h1M2 171h1M50 171h1M55 171h1M93 171h1M105 171h1M107 171h5M114 171h1M118 171h1M1 172h1M13 172h1M25 172h1M31 172h1M43 172h2M50 172h2M118 172h1M29 173h2M87 173h1M51 174h1M3 175h1M22 175h1M30 175h1M97 175h1M105 175h1M107 175h2M115 175h1M23 176h1M25 176h1M27 176h1M54 176h1M90 176h1M92 176h2M110 176h2M24 177h1M48 177h1M92 177h1M95 177h1M106 177h1M109 177h1M114 177h1M21 178h2M24 178h1M49 178h1M97 178h1M109 178h1M117 178h1M21 179h1M23 179h1M50 180h1M101 180h1M106 180h1M116 180h1M43 181h2M105 181h1M109 181h1M12 182h1M41 182h1M45 182h1M53 182h1M87 182h1M109 182h1M26 183h1M45 183h1M86 183h1M94 183h2M113 183h1M21 184h1M28 184h1M86 184h1M88 184h2M91 184h1M94 184h1M107 184h2M117 184h1M25 185h1M42 185h1M99 185h1M103 185h1M116 185h2M45 186h1M86 186h1M97 186h1M118 186h1M87 187h2M90 187h1M45 188h1M84 188h1M112 188h1M116 188h1M55 189h1M96 189h1M105 189h1M115 189h1M117 189h1M86 190h1M88 190h1M95 190h1M49 191h1M52 191h1M92 191h1M94 191h1M117 191h1M54 192h1M86 192h1M93 192h1M109 192h1M111 192h1M84 193h1M44 194h1M48 194h1M106 194h1M108 194h1M116 194h1M44 195h2M83 195h1M87 195h1M98 195h1M40 196h1M53 196h1M95 196h1M106 196h1M44 197h2M83 197h1M85 197h2M109 197h1M115 197h1M118 197h1M87 198h1M92 198h1M105 198h1M109 198h1M118 198h1M44 199h1M46 199h2M81 199h1M111 199h1M119 199h2M86 200h1M112 200h1M42 201h1M82 201h1M44 202h1M52 202h1M79 202h1M44 203h1M84 203h1M118 203h1M53 204h1M119 204h2M43 205h1M45 205h1M116 205h1M45 206h1M50 206h1M82 206h1M85 206h1M112 206h1M119 206h2M45 207h1M44 208h1M51 208h2M84 208h1M67 209h1M85 209h1M60 210h1M64 210h1M47 211h1M52 211h1M70 211h1M73 211h1M35 212h1M60 212h2M65 212h1M118 212h1M41 213h2M66 213h1M23 214h1M66 214h1M116 214h1M46 215h2M48 216h1M50 216h1M64 216h1M66 216h1M48 217h1M63 217h2M34 218h1M49 218h1M53 218h1M60 218h1M63 218h1M66 218h1M36 219h1M47 219h1M61 219h1M72 219h1M50 220h1M27 221h1M35 221h1M52 221h1M69 221h1M42 222h1M68 222h1M47 223h1M65 223h1M32 224h1M34 224h1M36 224h1M42 224h1M63 224h2M50 225h1M61 225h2M70 225h1M75 225h1M38 226h1M54 226h1M58 226h1M29 227h1M59 227h2M69 227h1M20 228h1M51 228h1M59 228h1M75 228h1M79 228h1M83 228h1M30 229h1M53 229h1M63 229h1M77 229h1M80 229h1M83 229h1M75 230h1M79 230h1M111 230h1M113 230h1M27 231h1M49 231h1M57 231h1M63 231h1M73 231h1M77 231h1M83 231h1M98 231h1M108 231h1M111 231h1M114 231h1M119 231h2M97 232h1M113 232h1M84 233h1M113 233h1M78 234h1M102 234h1"/>
<path stroke="#0070ff" d="M28 0h1M38 0h1M104 0h2M108 0h2M25 1h1M28 1h3M34 1h1M38 1h1M97 1h1M103 1h1M110 1h1M119 1h2M28 2h1M94 3h1M104 3h1M110 3h1M36 4h1M39 4h1M29 5h1M31 5h1M38 5h1M107 5h1M27 6h2M31 6h1M95 6h1M97 6h1M99 6h1M112 6h1M9 7h1M26 7h1M95 7h1M98 7h1M110 7h1M112 7h1M3 8h1M18 8h1M22 8h1M6 9h1M25 9h1M103 9h1M6 10h1M12 10h1M32 10h1M39 10h1M95 10h1M6 11h2M21 11h1M31 11h1M106 11h1M7 12h2M100 12h1M0 13h1M20 13h1M8 14h1M99 28h1M103 29h1M25 31h1M86 31h1M100 31h1M19 32h1M57 32h1M102 32h1M14 33h1M21 33h1M85 33h1M96 33h1M58 34h1M82 34h1M86 34h1M103 34h1M9 35h1M12 35h1M20 35h1M39 35h1M51 35h1M94 35h1M106 35h1M111 35h1M10 36h1M13 36h1M19 36h1M28 36h1M36 36h1M61 36h1M15 37h1M19 37h1M23 37h1M25 37h1M29 37h2M41 37h1M47 37h1M58 37h1M60 37h1M85 37h1M92 37h1M98 37h1M102 37h2M107 37h1M113 37h1M11 38h1M34 38h1M62 38h1M84 38h1M111 38h1M8 39h2M13 39h1M16 39h1M28 39h2M41 39h1M47 39h1M53 39h1M93 39h1M111 39h1M14 40h2M19 40h1M24 40h1M41 40h1M53 40h1M83 40h1M105 40h1M113 40h1M17 41h1M20 41h1M23 41h1M35 41h1M59 41h1M101 41h1M103 41h1M21 42h2M28 42h2M33 42h1M43 42h1M48 42h1M18 43h1M21 43h1M25 43h1M29 43h1M50 43h1M61 43h1M86 43h4M112 43h1M114 43h1M16 44h1M18 44h2M22 44h1M24 44h2M27 44h1M40 44h1M93 44h2M14 45h1M19 45h1M49 45h1M85 45h1M90 45h1M93 45h1M104 45h1M109 45h1M21 46h1M29 46h1M37 46h1M84 46h1M97 46h1M111 46h2M6 47h1M10 47h1M105 47h2M8 48h1M10 48h1M22 48h1M27 48h1M54 48h2M89 48h1M107 48h1M109 48h1M13 49h1M27 49h1M62 49h1M84 49h1M98 49h1M41 50h1M43 50h1M54 50h1M57 50h1M107 50h1M11 51h1M18 51h1M29 51h1M41 51h1M43 51h1M57 51h1M100 51h1M28 52h1M43 52h1M52 52h1M99 52h1M14 53h1M51 53h1M53 53h2M57 53h1M90 53h1M103 53h1M105 53h1M110 53h1M25 54h1M27 54h1M58 54h1M60 54h1M13 55h1M30 55h1M43 55h1M49 55h1M55 55h1M59 55h1M63 55h1M99 55h1M15 56h1M58 56h1M98 56h1M106 56h1M12 57h1M17 57h1M21 57h2M44 57h1M62 57h1M91 57h1M103 57h1M16 58h1M18 58h2M25 58h1M50 58h1M59 58h1M95 58h1M17 59h1M19 59h1M29 59h1M11 60h2M24 60h1M41 60h1M60 60h1M100 60h1M10 61h1M27 61h1M41 61h1M62 61h1M100 61h1M106 61h1M15 62h1M23 62h3M30 62h1M93 62h1M101 62h1M17 63h1M19 63h2M41 63h2M52 63h1M55 63h1M98 63h1M103 63h1M105 63h1M10 64h1M13 64h2M21 64h1M42 64h1M45 64h1M56 64h1M60 64h1M93 64h1M95 64h1M108 64h1M24 65h1M38 65h1M47 65h1M49 65h1M57 65h1M40 66h1M51 66h1M55 66h1M60 66h1M92 66h1M94 66h2M101 66h1M103 66h1M14 67h1M42 67h1M44 67h1M62 67h2M105 67h1M8 68h1M23 68h1M7 69h1M13 69h1M29 69h1M42 69h1M47 69h1M50 69h2M57 69h1M59 69h1M92 69h1M23 70h1M40 70h1M60 70h1M63 70h1M10 71h1M20 71h1M22 71h1M39 71h1M42 71h1M50 71h1M62 71h1M92 71h1M7 72h1M20 72h1M31 72h1M33 72h1M49 72h1M53 72h2M6 73h1M23 73h1M59 73h1M9 74h2M15 74h1M24 74h1M38 74h1M50 74h1M52 74h1M103 74h1M15 75h1M21 75h1M25 75h2M64 75h1M8 76h1M18 76h1M29 76h1M38 76h1M53 76h1M21 77h1M56 77h1M62 77h1M6 78h1M30 78h1M20 79h1M23 79h2M29 79h1M63 79h1M13 80h1M18 80h1M16 81h1M50 81h1M64 81h1M6 82h2M15 82h1M26 82h1M29 82h1M51 82h1M54 82h1M63 82h1M13 83h1M15 83h1M20 83h1M29 83h1M39 83h1M42 83h1M49 83h1M55 83h1M62 83h1M29 84h1M31 84h1M37 84h1M42 84h1M56 84h1M65 84h1M5 85h2M48 85h1M26 86h1M29 86h1M31 86h1M40 86h1M42 86h1M61 86h1M65 86h1M6 87h1M12 87h1M21 87h1M39 87h1M42 87h3M55 87h1M59 87h1M16 88h1M28 88h1M33 88h1M52 88h1M7 89h1M29 89h1M46 89h1M61 89h1M15 90h1M17 90h1M40 90h2M58 90h1M6 91h1M31 91h1M41 91h1M48 91h1M52 91h2M60 91h1M62 91h1M16 92h1M48 92h2M64 92h1M12 93h1M46 93h1M62 93h2M12 94h1M14 94h1M16 94h1M25 94h1M27 94h1M44 94h3M64 94h1M17 95h1M19 95h1M24 95h3M30 95h1M45 95h1M52 95h1M13 96h1M9 97h1M21 97h1M31 97h1M50 97h1M61 97h1M28 98h2M54 98h1M56 98h1M63 98h2M48 99h2M51 99h1M55 99h1M15 100h1M23 100h1M49 100h1M7 101h1M13 101h1M22 101h1M24 101h1M33 101h1M49 101h1M53 101h1M7 102h1M25 102h2M10 103h1M48 103h2M54 103h1M43 104h1M47 104h1M16 105h1M24 105h1M26 105h1M31 105h1M49 105h1M59 105h1M6 106h2M12 106h1M44 106h1M58 106h1M63 106h1M8 107h1M16 107h1M19 107h1M31 107h1M59 107h1M6 108h2M14 108h1M20 109h1M49 109h1M51 109h1M53 109h1M7 110h1M33 110h1M47 110h1M57 110h1M7 111h1M9 111h1M14 111h1M23 111h2M44 111h1M15 112h1M51 112h1M5 114h1M12 114h1M19 114h1M22 114h1M24 114h1M33 114h1M58 114h1M6 115h1M12 115h1M50 115h1M6 116h1M8 116h1M15 116h1M23 116h1M26 116h1M59 116h1M12 117h1M15 117h1M47 117h1M24 118h1M9 119h1M34 119h1M24 120h1M46 120h1M51 120h1M55 120h1M6 121h1M24 121h1M46 121h1M52 121h1M60 121h1M8 122h1M14 122h1M19 122h1M21 122h1M43 122h1M49 122h1M60 122h1M24 123h1M33 123h2M55 123h1M36 124h1M54 124h1M57 124h1M9 125h1M11 125h1M37 125h1M57 125h1M26 126h1M32 126h1M59 126h1M6 127h1M14 127h1M36 127h1M43 127h1M51 127h1M55 127h1M58 127h1M10 128h1M18 128h1M25 128h1M34 128h1M54 128h1M15 130h1M18 130h1M45 130h1M47 130h1M51 130h1M60 130h1M5 131h1M14 131h1M24 131h1M48 131h1M50 131h1M61 131h1M35 132h1M46 132h1M52 132h1M70 132h1M8 133h1M12 133h1M20 133h1M20 134h1M52 134h1M14 135h1M8 136h1M14 136h1M33 136h1M42 136h1M47 136h1M59 136h1M4 137h1M22 137h1M35 137h1M39 137h1M45 137h1M56 137h1M58 137h1M6 138h1M51 138h1M8 139h1M13 139h1M19 139h1M10 140h1M14 140h1M18 140h1M34 140h1M40 140h1M45 140h1M47 140h1M61 140h2M12 141h1M22 141h1M36 141h1M41 141h1M46 141h1M7 142h1M54 142h1M58 142h1M3 143h1M17 143h1M21 143h1M25 143h1M36 143h1M47 143h1M10 144h1M16 144h2M28 144h1M42 144h1M46 144h1M54 144h1M7 145h1M16 145h1M18 145h1M38 145h1M50 145h1M58 145h1M17 146h1M25 146h1M33 146h1M52 146h1M58 146h1M6 147h1M8 147h1M15 147h2M23 147h1M34 147h1M54 147h1M115 147h1M6 148h1M11 148h1M13 148h1M22 148h1M37 148h1M40 148h1M45 148h1M50 148h2M8 149h1M13 149h1M17 149h1M53 149h1M57 149h1M10 150h1M34 150h1M39 150h1M60 150h1M11 151h1M48 151h1M50 151h1M53 151h1M1 152h1M7 152h1M10 152h1M41 152h1M51 152h1M56 152h1M3 153h1M29 153h1M41 153h1M49 153h1M53 153h1M116 153h1M3 154h2M14 154h1M21 154h1M53 154h1M12 155h1M15 155h1M26 155h1M39 155h1M42 155h1M54 155h1M59 155h1M114 155h1M2 156h1M5 156h1M16 156h1M26 156h1M28 156h1M41 156h1M45 156h1M105 156h1M111 156h1M5 157h1M10 157h1M20 157h2M0 158h1M6 158h1M8 158h1M20 158h2M26 158h1M30 159h1M101 159h1M103 159h2M2 160h1M9 160h1M25 160h1M30 160h1M12 161h1M15 161h1M17 161h1M19 161h1M26 161h1M33 161h1M40 161h1M44 161h1M49 161h1M53 161h2M56 161h1M0 162h2M5 162h1M8 162h1M12 162h1M22 162h1M27 162h1M42 162h1M105 162h1M4 163h1M8 163h2M13 163h1M18 163h1M30 163h1M53 163h1M108 163h1M2 164h1M14 164h1M19 164h1M30 164h1M55 164h1M101 164h1M109 164h1M117 164h1M4 165h1M27 165h1M45 165h1M56 165h1M101 165h1M109 165h1M5 166h1M20 166h1M22 166h2M54 166h1M111 166h1M113 166h1M117 166h1M25 167h1M41 167h1M106 167h1M118 167h1M7 168h1M14 168h1M16 168h1M24 168h1M51 168h1M95 168h1M14 169h1M23 169h1M43 169h1M100 169h1M104 169h1M109 169h2M112 169h1M24 170h1M28 170h1M46 170h1M48 170h1M22 171h1M24 171h1M26 171h1M51 171h1M103 171h2M115 171h1M117 171h1M24 172h1M95 172h1M107 172h2M2 173h1M13 173h1M31 173h1M58 173h1M95 173h1M107 173h1M111 173h2M116 173h1M118 173h1M12 174h1M29 174h1M88 174h2M106 174h2M110 174h1M115 174h1M6 175h1M86 175h1M9 176h1M47 176h1M103 176h1M54 177h1M56 177h1M86 177h1M105 177h1M110 177h2M119 177h2M48 178h1M111 178h1M40 179h1M42 179h2M45 179h1M48 179h1M90 179h1M94 179h1M99 179h1M8 180h1M22 180h1M43 180h1M54 180h1M103 180h1M105 180h1M110 180h2M119 180h2M0 181h1M25 181h1M28 181h1M48 181h2M52 181h1M94 181h3M98 181h1M106 181h1M48 182h1M93 182h1M99 182h1M115 182h1M20 183h1M25 183h1M44 183h1M88 183h1M90 183h1M99 183h1M106 183h1M47 184h1M53 184h2M95 184h1M97 184h1M112 184h1M4 185h1M87 185h1M114 185h1M87 186h2M113 186h1M117 186h1M43 187h1M95 187h1M101 187h1M105 187h1M54 188h1M102 188h1M105 188h1M86 189h1M88 189h1M99 189h1M103 189h1M43 190h1M54 190h2M91 190h1M96 190h1M104 190h1M47 191h1M84 191h1M88 191h1M97 191h1M101 191h1M106 191h1M108 191h1M110 191h1M47 192h1M85 192h1M94 192h1M119 192h2M82 193h1M95 193h1M97 193h1M109 193h1M112 193h1M53 194h1M83 194h1M85 194h1M89 194h1M91 194h1M93 194h1M102 194h1M109 194h1M46 195h1M86 195h1M107 195h1M44 196h1M94 196h1M46 197h1M88 197h1M91 197h1M95 197h1M119 197h2M96 198h1M112 198h1M41 199h1M43 199h1M53 199h1M86 199h1M92 199h1M106 199h1M47 200h1M80 200h1M83 200h2M116 200h1M119 200h2M53 201h1M88 201h1M117 201h1M42 202h1M53 202h1M54 203h1M81 203h1M119 203h2M69 204h1M116 204h1M51 206h1M62 206h1M24 207h1M47 208h1M64 208h1M42 209h1M59 209h1M42 210h1M44 210h1M47 210h1M66 210h1M83 210h1M118 210h1M42 211h1M50 211h1M116 211h1M53 212h1M67 212h1M73 212h1M64 213h1M49 214h1M61 214h2M64 214h1M70 214h1M59 215h1M74 215h1M22 216h1M59 216h1M21 217h1M38 217h1M40 217h1M43 217h1M47 217h1M64 218h1M70 218h1M74 218h1M40 219h1M53 219h1M65 219h1M67 219h1M70 219h1M37 220h1M63 220h1M45 221h1M54 221h1M59 221h1M66 221h1M74 221h1M47 222h1M67 222h1M76 222h1M32 223h1M35 223h1M44 223h1M46 223h1M51 223h1M61 223h1M24 224h1M43 224h1M49 224h1M53 224h1M34 225h1M37 225h1M46 225h1M54 225h1M71 226h1M80 226h1M48 227h1M54 227h1M64 227h1M67 227h1M76 227h1M83 227h1M54 228h1M57 228h1M62 228h1M65 228h2M73 228h1M80 228h1M50 229h1M52 229h1M76 229h1M108 229h1M51 230h1M55 230h1M108 230h1M117 230h1M30 231h1M51 231h1M61 231h1M65 231h1M67 231h1M74 231h1M79 231h1M97 231h1M99 231h2M103 231h2M117 231h2M66 232h1M29 233h1M98 233h1M101 233h1M64 234h1M72 234h1M83 234h1M110 234h1"/>
<path stroke="#0096ff" d="M36 0h1M100 0h1M113 0h1M27 1h1M91 1h1M95 1h1M99 1h1M116 1h2M74 2h1M101 2h2M111 2h1M114 2h1M117 2h1M12 3h1M33 3h1M116 3h1M118 3h1M0 4h1M30 4h1M33 4h1M37 4h1M89 4h1M91 4h1M93 4h1M95 4h1M99 4h1M102 4h1M108 4h1M113 4h1M14 5h1M22 5h1M30 5h1M35 5h1M87 5h1M95 5h2M115 5h1M18 6h2M104 6h1M109 6h1M88 7h1M99 7h1M116 7h1M26 8h1M96 8h1M99 8h1M108 8h1M5 9h1M13 9h1M32 9h1M34 9h1M98 9h1M115 9h1M4 10h1M20 10h1M113 10h1M2 11h1M13 11h1M22 11h1M108 11h1M15 12h1M32 12h1M101 28h1M92 29h1M100 29h1M109 29h1M58 30h1M59 31h1M98 31h1M113 31h1M16 32h1M59 32h1M87 32h1M104 32h1M113 32h1M27 33h2M57 33h1M87 33h1M107 33h1M10 34h1M26 34h1M30 34h1M42 34h1M50 34h1M87 34h1M92 34h1M119 34h2M10 35h1M18 35h1M48 35h1M84 35h2M92 35h1M95 35h2M99 35h1M7 36h1M27 36h1M43 36h1M48 36h1M53 36h1M86 36h1M104 36h1M48 37h1M56 37h1M90 37h1M93 37h1M109 37h1M12 38h1M20 38h1M30 38h1M37 38h1M53 38h1M57 38h1M64 38h1M89 38h2M96 38h1M23 39h1M40 39h1M45 39h1M55 39h1M57 39h1M61 39h1M88 39h1M94 39h1M99 39h1M112 39h1M114 39h1M60 40h1M91 40h1M109 40h1M13 41h1M16 41h1M58 41h1M61 41h1M83 41h1M104 41h1M110 41h2M114 41h1M13 42h1M15 42h1M18 42h1M44 42h1M46 42h1M53 42h1M56 42h1M66 42h1M84 42h1M91 42h1M97 42h1M101 42h1M7 43h1M10 43h1M14 43h1M27 43h1M54 43h1M60 43h1M92 43h1M106 43h1M8 44h1M36 44h1M43 44h1M55 44h2M63 44h1M65 44h1M107 44h1M115 44h1M7 45h1M16 45h2M60 45h1M62 45h1M95 45h1M17 46h1M34 46h1M40 46h2M43 46h2M48 46h1M56 46h1M87 46h1M100 46h1M105 46h1M17 47h1M24 47h1M33 47h1M46 47h1M52 47h1M54 47h1M60 47h1M102 47h1M104 47h1M9 48h1M13 48h1M20 48h2M45 48h1M49 48h1M57 48h1M61 48h3M93 48h2M100 48h1M103 48h1M105 48h1M108 48h1M25 49h1M34 49h1M40 49h1M54 49h1M57 49h1M94 49h1M109 49h1M9 50h2M12 50h1M38 50h1M97 50h1M105 50h1M20 51h1M53 51h1M58 51h1M96 51h1M109 51h1M18 52h1M26 52h2M63 52h1M83 52h1M86 52h1M100 52h1M103 52h1M10 53h1M16 53h1M26 53h1M32 53h1M36 53h1M38 53h1M9 54h1M17 54h2M20 54h1M30 54h1M36 54h1M43 54h1M63 54h1M93 54h1M96 54h1M103 54h1M25 55h1M27 55h1M50 55h1M97 55h1M23 56h1M26 56h1M49 56h1M59 56h1M86 56h1M93 56h1M108 56h1M7 57h1M20 57h1M54 57h2M63 57h1M104 57h1M7 58h1M21 58h1M46 58h1M51 58h1M54 58h1M104 58h1M107 58h1M7 59h1M21 59h1M27 59h1M49 59h2M56 59h1M62 59h1M85 59h1M99 59h1M8 60h1M20 60h1M32 60h2M40 60h1M45 60h1M50 60h1M61 60h1M64 60h1M98 60h1M106 60h2M13 61h1M19 61h2M26 61h1M33 61h1M39 61h2M45 61h2M57 61h1M85 61h1M103 61h1M105 61h1M107 61h1M109 61h1M10 62h1M12 62h1M33 62h1M39 62h1M48 62h1M58 62h1M97 62h1M18 63h1M24 63h1M27 63h1M30 63h1M38 63h1M51 63h1M59 63h1M92 63h1M104 63h1M9 64h1M16 64h1M46 64h1M39 65h1M52 65h1M63 65h2M97 65h1M103 65h1M24 66h1M28 66h1M33 66h1M53 66h1M63 66h1M99 66h1M23 67h2M59 67h1M61 67h1M98 67h1M11 68h1M13 68h1M21 68h1M30 68h1M47 68h1M90 68h1M92 68h1M103 68h1M18 69h1M20 69h1M45 69h1M64 69h1M90 69h1M98 69h1M9 70h1M16 70h1M18 70h1M21 70h2M49 70h1M51 70h1M90 70h1M8 71h1M19 71h1M38 71h1M40 71h1M47 71h1M51 71h1M63 71h1M91 71h1M24 72h1M39 72h1M42 72h1M45 72h1M52 72h1M63 72h2M14 73h1M42 73h1M92 73h1M47 74h2M51 74h1M56 74h1M64 74h1M6 75h1M11 75h2M20 75h1M24 75h1M51 75h1M7 76h1M11 76h1M17 76h1M49 76h1M56 76h1M64 76h1M14 77h1M19 77h1M45 77h1M47 77h1M49 77h1M92 77h1M18 78h1M43 78h1M55 78h1M58 78h1M60 78h1M62 78h1M66 78h1M14 79h1M33 79h1M55 79h1M59 79h1M4 80h1M8 80h1M12 80h1M44 80h1M49 80h1M67 80h1M13 81h1M18 81h1M33 81h1M60 81h1M63 81h1M67 81h2M42 82h2M7 83h1M27 83h2M38 83h1M5 84h1M13 84h1M15 84h1M17 84h1M61 84h1M15 85h1M31 85h1M49 85h1M44 86h1M52 86h1M62 86h1M8 87h1M17 87h1M42 88h1M44 88h1M63 88h2M18 89h1M8 90h1M21 90h1M44 90h1M63 90h1M40 91h1M14 92h1M17 92h1M26 92h1M29 92h1M46 92h1M55 92h1M61 92h1M6 93h1M52 93h1M61 93h1M65 93h1M6 94h1M18 94h1M50 94h1M15 95h1M47 95h1M15 96h1M29 96h1M43 96h1M51 96h1M62 96h1M18 97h1M54 97h1M64 97h1M17 98h1M44 98h1M58 98h1M65 98h1M4 99h2M27 99h1M47 99h1M50 99h1M63 99h1M17 100h1M30 100h2M58 100h1M65 100h1M11 101h1M25 101h1M52 101h1M56 101h1M8 102h1M20 102h2M28 102h1M46 102h2M55 102h1M5 103h1M7 103h1M60 103h1M62 103h1M64 103h1M18 104h1M62 104h2M66 104h1M19 105h2M33 105h1M45 105h1M51 105h1M61 105h1M19 106h1M45 106h1M7 107h1M10 107h2M13 107h1M27 107h1M47 107h1M18 108h1M20 108h1M25 108h1M61 108h2M28 109h1M33 109h1M47 109h1M58 109h1M19 110h1M25 110h1M46 110h1M62 110h2M16 111h1M19 111h1M32 111h1M50 111h1M54 111h1M7 112h1M55 112h1M8 113h1M20 113h1M9 114h1M21 114h1M47 114h2M56 114h1M61 114h1M10 115h1M13 115h1M52 115h1M18 116h1M22 116h1M45 116h1M50 116h1M61 116h1M13 117h2M19 117h1M32 117h1M48 117h2M15 118h1M27 118h1M45 118h1M12 119h1M24 119h1M32 119h1M40 119h1M47 119h3M61 119h1M14 120h1M26 120h1M39 120h1M43 120h1M45 120h1M52 120h1M12 121h1M14 121h1M33 121h1M57 121h1M11 122h1M26 122h2M35 122h1M12 123h1M57 123h1M60 123h1M12 124h1M37 124h1M49 124h2M25 125h1M33 125h1M35 125h1M40 125h1M46 125h1M55 125h1M61 125h1M12 126h1M15 126h1M25 126h1M37 126h1M47 126h1M60 126h1M73 126h1M7 127h1M10 127h1M16 127h1M34 127h1M48 127h1M54 127h1M7 128h1M35 128h2M41 128h1M9 129h1M11 129h1M16 129h1M20 129h1M24 129h1M43 129h1M49 129h1M51 129h1M59 129h1M65 129h1M70 129h1M5 130h1M7 130h1M13 130h1M25 130h1M41 130h2M50 130h1M61 130h1M7 131h1M64 131h1M69 131h1M7 132h1M9 132h1M43 132h1M56 132h1M21 133h1M25 133h1M34 133h1M36 133h1M39 133h1M43 133h1M57 133h1M6 134h1M16 134h1M63 134h2M13 135h1M36 135h1M40 135h1M50 135h1M9 136h2M13 136h1M41 136h1M45 136h1M41 137h1M49 137h1M55 137h1M9 138h1M16 138h1M22 138h1M24 138h2M34 138h1M53 138h1M55 138h1M61 138h1M4 139h1M10 139h1M17 139h1M42 139h1M9 140h1M13 140h1M21 140h1M39 140h1M43 140h1M51 140h1M3 141h1M16 141h1M20 141h1M24 141h1M47 141h1M50 141h1M57 141h1M25 142h1M59 142h1M68 142h1M16 143h1M18 143h3M26 143h1M56 143h1M59 143h1M3 144h1M13 144h1M20 144h1M55 144h1M19 145h1M22 145h1M34 145h1M14 146h1M20 146h1M24 146h1M49 146h1M112 146h1M5 147h1M9 147h1M18 147h1M24 147h1M42 147h1M44 147h1M55 147h1M16 148h1M49 148h1M12 149h1M18 149h1M34 149h1M43 149h2M49 149h1M52 149h1M115 149h1M58 150h2M112 150h1M0 151h1M9 151h1M12 151h1M27 151h1M41 151h1M2 152h1M6 152h1M18 152h1M35 152h1M48 152h1M107 152h1M10 153h1M13 153h1M16 153h2M27 153h2M48 153h1M69 153h1M27 154h1M40 154h1M51 154h1M110 154h1M113 154h1M118 154h1M11 155h1M27 155h1M41 155h1M52 155h1M58 155h1M105 155h1M9 156h1M18 156h2M44 156h1M57 156h1M109 156h1M40 157h1M56 157h1M98 157h1M115 157h1M9 158h1M27 158h1M32 158h2M50 158h1M102 158h1M109 158h1M2 159h1M49 159h1M59 159h1M106 159h1M117 159h2M0 160h1M4 160h1M18 160h1M111 160h1M113 160h1M117 160h1M6 161h1M31 161h1M34 161h1M42 161h1M50 161h1M110 161h2M25 162h1M38 162h1M44 162h1M100 162h1M104 162h1M107 162h1M11 163h1M33 163h1M51 163h1M112 163h1M0 164h1M9 164h1M27 164h1M32 164h1M50 164h1M106 164h1M108 164h1M114 164h1M1 165h1M3 165h1M41 165h1M53 165h1M110 165h1M116 165h1M119 165h2M21 166h1M29 166h2M45 166h1M101 166h3M106 166h1M119 166h2M13 167h1M23 167h1M44 167h1M49 167h1M0 168h1M4 168h1M33 168h1M42 168h1M93 168h1M8 169h1M20 169h1M33 169h1M54 169h1M56 169h1M98 169h1M106 169h1M0 170h2M43 170h1M54 170h1M103 170h1M113 170h3M13 171h1M31 171h1M85 171h1M119 171h2M20 172h1M26 172h1M54 172h1M57 172h1M97 172h2M102 172h2M106 172h1M110 172h1M115 172h1M117 172h1M23 173h1M89 173h1M98 173h2M119 173h2M31 174h1M45 174h1M52 174h1M104 174h1M119 174h2M51 175h1M53 175h1M92 175h1M95 175h1M102 175h1M114 175h1M43 176h1M100 176h1M102 176h1M106 176h1M112 176h1M8 177h1M30 177h1M47 177h1M53 177h1M58 177h1M96 177h1M117 177h1M23 178h1M42 178h1M99 178h1M113 178h1M115 178h1M53 179h1M86 179h1M92 179h1M105 179h1M110 179h1M87 180h2M93 180h1M96 180h2M107 180h1M113 180h1M92 181h1M103 181h1M116 181h1M46 182h1M50 182h2M98 182h1M116 182h2M98 183h1M101 183h1M110 183h1M115 183h1M42 184h1M83 184h1M87 184h1M118 184h1M44 185h1M47 185h1M111 185h1M84 186h1M93 186h1M95 186h1M106 186h1M85 187h1M89 187h1M97 187h1M100 187h1M104 187h1M109 187h1M55 188h1M88 188h1M98 188h1M103 188h1M113 188h1M117 188h1M53 189h1M91 189h1M106 189h2M113 189h1M47 190h1M99 190h1M110 190h1M119 190h2M93 191h1M96 191h1M103 191h1M105 191h1M98 192h2M112 192h2M99 193h1M113 193h1M46 194h1M87 194h1M90 194h1M101 194h1M53 195h1M90 195h1M104 195h2M111 195h1M83 196h1M103 196h1M105 196h1M96 197h1M105 197h3M82 198h1M85 198h1M91 198h1M99 198h1M115 198h2M112 199h1M52 200h1M85 200h1M108 200h1M111 200h1M113 200h1M117 200h1M66 201h1M80 201h1M107 201h1M115 201h2M84 202h1M117 202h1M43 203h1M53 203h1M82 203h1M47 204h1M49 204h1M52 204h1M80 204h1M83 204h1M83 205h1M90 205h1M84 206h1M113 206h2M118 206h1M52 207h1M83 207h1M109 207h1M118 207h1M70 208h1M119 208h2M49 209h1M51 209h1M63 209h1M80 209h2M119 209h2M52 210h1M63 210h1M79 210h1M34 211h1M48 211h1M65 211h1M68 211h1M46 212h1M48 212h1M46 214h1M117 214h1M65 215h2M70 215h1M42 216h1M47 216h1M52 216h1M70 216h1M52 217h1M61 217h1M68 217h1M59 218h1M45 219h1M59 219h1M45 220h1M51 220h1M68 220h2M40 221h1M51 221h1M61 221h1M63 221h1M66 222h1M53 223h1M58 223h1M60 223h1M63 223h2M66 223h1M72 223h1M58 224h1M47 225h1M51 225h1M67 225h1M76 225h1M33 226h1M37 226h1M51 226h1M57 226h1M50 227h1M63 227h1M70 227h2M50 228h1M69 228h1M84 228h1M49 229h1M61 229h1M66 229h1M78 229h1M118 229h1M49 230h1M66 230h1M81 230h3M68 231h2M76 231h1M81 231h1M84 231h1M86 231h1M89 231h1M92 231h2M105 231h1M109 231h1M113 231h1M116 231h1M31 233h1M75 234h1M98 234h1M111 234h1M114 234h1"/>
<path stroke="#00abff" d="M29 0h1M39 0h1M71 0h1M92 0h1M106 0h1M114 0h1M119 0h2M69 1h1M109 1h1M34 2h1M36 2h2M90 2h1M98 2h1M112 2h1M115 2h2M31 3h1M39 3h1M90 3h1M95 3h1M100 3h1M119 3h2M29 4h1M100 4h1M103 4h1M105 4h1M118 4h1M32 5h1M37 5h1M100 5h1M103 5h1M110 5h1M114 5h1M116 5h1M33 6h2M37 6h1M88 6h1M91 6h1M93 6h2M119 6h2M32 7h1M35 7h1M92 7h1M102 7h1M34 8h1M90 8h1M93 8h1M113 8h1M31 9h1M85 9h1M92 9h1M99 9h1M108 9h2M113 9h1M14 10h1M23 10h1M31 10h1M102 10h1M108 10h1M118 10h1M9 11h2M25 11h1M92 11h2M113 11h1M9 12h1M13 12h1M18 12h1M23 12h1M25 12h1M1 13h1M5 13h1M10 13h1M17 13h1M22 13h1M23 14h1M109 23h1M87 28h2M92 28h1M36 29h1M33 30h1M93 30h1M95 30h1M102 30h2M108 30h1M16 31h1M18 31h1M31 31h1M21 32h1M33 32h1M49 32h1M54 32h1M91 32h2M100 32h1M103 32h1M12 33h1M19 33h1M23 33h1M31 33h1M36 33h1M48 33h1M52 33h1M54 33h1M106 33h1M109 33h1M28 34h1M31 34h1M37 34h1M43 34h1M84 34h1M106 34h1M112 34h1M22 35h3M27 35h1M55 35h1M58 35h1M60 35h1M93 35h1M50 36h1M64 36h1M85 36h1M107 36h1M112 36h1M14 37h1M16 37h1M38 37h1M54 37h1M62 37h1M82 37h1M119 37h2M25 38h1M35 38h1M52 38h1M93 38h1M99 38h2M102 38h1M109 38h1M11 39h1M24 39h1M46 39h1M48 39h2M84 39h1M105 39h1M107 39h1M27 40h1M38 40h2M44 40h1M48 40h1M82 40h1M84 40h1M89 40h1M9 41h1M18 41h2M25 41h1M41 41h1M43 41h1M48 41h3M84 41h1M87 41h1M95 41h1M98 41h1M105 41h1M8 42h1M16 42h1M24 42h1M55 42h1M92 42h1M109 42h1M112 42h1M8 43h1M34 43h2M40 43h1M44 43h2M47 43h1M59 43h1M62 43h1M83 43h1M108 43h1M117 43h1M7 44h1M37 44h1M49 44h1M61 44h1M92 44h1M97 44h1M104 44h1M109 44h1M112 44h1M11 45h1M34 45h2M43 45h1M46 45h1M50 45h2M91 45h1M98 45h1M106 45h1M110 45h2M4 46h1M7 46h1M9 46h1M18 46h1M36 46h1M59 46h1M76 46h1M110 46h1M114 46h1M8 47h2M16 47h1M21 47h1M23 47h1M27 47h1M40 47h1M50 47h1M89 47h1M92 47h1M96 47h1M110 47h1M14 48h2M40 48h1M42 48h1M95 48h1M101 48h1M104 48h1M11 49h1M14 49h1M16 49h1M39 49h1M47 49h1M52 49h1M61 49h1M64 49h1M105 49h1M13 50h1M16 50h1M36 50h1M46 50h1M66 50h1M96 50h1M12 51h1M15 51h1M17 51h1M42 51h1M50 51h1M52 51h1M9 52h1M12 52h1M22 52h1M29 52h1M35 52h1M38 52h1M85 52h1M96 52h1M13 53h1M17 53h1M23 53h1M27 53h1M43 53h1M48 53h1M60 53h1M96 53h2M101 53h1M15 54h2M22 54h1M24 54h1M42 54h1M97 54h1M10 55h1M24 55h1M28 55h1M52 55h1M57 55h1M87 55h1M24 56h1M37 56h1M43 56h1M53 56h2M87 56h1M94 56h2M97 56h1M99 56h1M107 56h1M18 57h1M33 57h1M38 57h1M47 57h1M56 57h1M60 57h2M86 57h1M90 57h1M92 57h1M96 57h1M108 57h1M5 58h1M40 58h1M49 58h1M63 58h1M96 58h1M15 59h1M25 59h1M36 59h1M51 59h1M53 59h1M64 59h1M83 59h1M90 59h1M97 59h1M106 59h1M17 60h1M23 60h1M25 60h1M38 60h1M44 60h1M87 60h1M90 60h1M95 60h1M16 61h1M24 61h1M55 61h1M84 61h1M94 61h1M97 61h1M5 62h1M20 62h1M22 62h1M29 62h1M37 62h2M45 62h1M63 62h1M85 62h1M98 62h3M14 63h1M23 63h1M46 63h3M63 63h1M88 63h1M20 64h1M23 64h1M37 64h1M49 64h3M8 65h1M10 65h1M18 65h1M23 65h1M41 65h1M43 65h3M48 65h1M61 65h1M89 65h1M105 65h1M17 66h1M36 66h1M48 66h1M52 66h1M74 66h1M90 66h1M93 66h1M102 66h1M105 66h1M16 67h2M37 67h1M48 67h1M50 67h1M66 67h1M88 67h1M91 67h1M97 67h1M104 67h1M19 68h2M25 68h1M54 68h1M65 68h1M96 68h1M102 68h1M106 68h1M12 69h1M14 69h1M19 69h1M32 69h1M44 69h1M65 69h1M99 69h1M8 70h1M11 70h2M17 70h1M20 70h1M24 70h1M45 70h2M50 70h1M61 70h1M66 70h1M41 71h1M93 71h1M95 71h1M97 71h1M17 72h1M29 72h1M61 72h1M92 72h2M12 73h1M17 73h1M20 73h1M29 73h1M43 73h1M49 73h1M52 73h1M55 73h1M61 73h2M28 74h1M37 74h1M60 74h1M95 74h1M7 75h1M13 75h2M22 75h1M40 75h1M46 75h1M61 75h1M63 75h1M97 75h1M15 76h1M21 76h1M40 76h1M43 76h1M92 76h1M101 76h1M26 77h1M54 77h1M69 77h1M16 78h1M33 78h1M53 78h1M57 78h1M65 78h1M5 79h1M12 79h1M38 79h1M51 79h2M65 79h1M14 80h3M26 80h1M37 80h1M52 80h1M55 80h1M61 80h2M66 80h1M47 81h1M66 81h1M8 82h1M45 82h1M55 82h1M52 83h1M6 84h1M14 84h1M25 84h1M44 84h1M47 84h1M27 85h1M40 85h1M43 85h1M15 86h1M27 86h1M64 86h1M66 86h1M5 87h1M47 87h1M61 87h1M66 87h1M20 88h1M44 89h1M58 89h1M24 90h1M31 90h1M33 90h1M5 91h1M33 91h1M46 91h1M28 92h1M44 92h1M47 92h1M14 93h1M45 93h1M58 93h1M9 94h1M30 94h1M41 94h1M51 94h1M6 96h1M14 96h1M25 96h1M61 96h1M63 96h1M24 97h1M29 97h1M39 97h1M43 97h2M59 97h1M63 97h1M49 98h1M57 98h1M6 99h1M16 99h1M26 99h1M41 99h1M59 99h1M18 100h1M25 100h1M28 100h2M45 100h1M17 101h1M15 103h1M19 103h1M4 104h2M8 104h1M44 104h2M49 104h1M4 105h1M8 105h2M13 105h1M21 105h1M27 105h1M29 105h1M14 106h1M17 106h2M26 106h1M46 106h1M12 107h1M57 107h1M61 107h1M5 108h1M8 108h1M15 108h1M26 108h2M33 108h1M47 108h1M59 108h1M8 109h1M13 109h1M17 109h1M19 109h1M48 109h1M57 109h1M59 109h1M61 109h1M12 110h1M28 110h1M59 110h1M21 111h1M31 111h1M33 111h1M51 111h2M60 111h1M63 111h1M18 112h1M25 112h1M48 112h1M57 112h1M22 113h1M31 113h1M33 113h1M43 113h1M50 113h1M6 114h1M25 114h1M32 114h1M53 114h1M59 114h2M7 115h1M16 115h1M18 115h1M20 115h1M24 116h1M27 116h1M8 117h1M27 117h1M33 117h1M45 117h1M52 117h1M4 118h1M26 118h1M43 118h1M49 118h2M62 118h1M5 119h1M7 119h1M13 119h1M25 119h2M45 119h1M62 119h1M15 120h1M42 120h1M50 120h1M7 121h1M16 121h1M40 121h1M48 121h1M53 121h1M16 122h1M18 122h1M63 122h1M19 123h1M47 123h1M59 123h1M73 123h1M9 124h1M14 124h2M17 124h1M20 124h1M33 124h1M38 124h1M43 124h1M48 124h1M51 124h1M10 125h1M26 125h1M41 125h1M54 125h1M13 126h1M35 126h1M38 126h1M63 126h1M12 127h1M26 127h1M61 127h2M4 128h1M39 128h1M45 128h1M48 128h1M55 128h1M10 129h1M12 129h2M15 129h1M21 129h1M56 129h1M16 130h1M27 130h1M35 130h1M39 130h2M49 130h1M6 131h1M12 131h1M28 131h1M45 131h1M66 131h1M5 132h1M14 132h2M18 132h1M25 132h1M33 132h1M40 132h1M48 132h2M28 133h1M47 133h1M52 133h1M56 133h1M61 133h1M3 134h1M9 134h1M13 134h1M17 134h1M62 134h1M67 134h1M5 135h1M11 135h2M42 135h1M48 135h1M52 135h1M63 135h1M5 136h1M17 136h2M20 136h1M25 136h1M34 136h1M62 136h1M9 137h1M34 137h1M47 137h1M52 137h1M62 137h1M44 138h2M18 139h1M20 139h1M56 139h1M7 140h1M15 140h1M22 140h1M25 140h1M57 140h1M4 141h2M35 141h1M43 141h1M63 141h1M3 142h2M18 142h1M41 142h1M44 142h4M61 142h1M27 143h1M33 143h1M35 143h1M50 143h1M52 143h1M58 143h1M26 144h1M36 144h1M48 144h1M106 144h1M5 145h2M54 145h1M7 146h1M16 146h1M21 146h3M44 146h1M33 147h1M39 147h1M49 147h1M69 147h1M8 148h1M14 148h1M18 148h1M26 148h1M44 148h1M113 148h1M19 149h1M27 149h1M47 149h1M58 149h1M103 149h1M117 149h1M5 150h1M106 150h1M43 151h1M56 151h1M113 151h1M12 152h1M27 152h1M42 152h1M52 152h1M59 152h1M106 152h1M109 152h4M118 152h1M2 153h1M50 153h1M55 153h1M58 153h1M107 153h1M112 153h2M115 153h1M2 154h1M6 154h1M11 154h1M26 154h1M46 154h1M49 154h1M56 154h1M108 154h1M115 154h1M115 155h2M3 156h1M12 156h1M40 156h1M42 156h1M55 156h1M104 156h1M112 156h1M114 156h1M116 156h1M6 157h1M17 157h1M30 157h1M110 157h1M112 157h2M12 158h1M30 158h1M41 158h1M49 158h1M110 158h1M116 158h1M118 158h1M6 159h1M17 159h1M19 159h1M27 159h1M42 159h1M56 159h1M107 159h1M109 159h1M1 160h1M5 160h1M55 160h1M58 160h2M100 160h1M103 160h1M109 160h1M8 161h1M21 161h1M105 161h1M112 161h1M118 161h1M30 162h1M33 162h1M56 162h1M101 162h1M110 162h1M26 163h1M42 163h1M100 163h1M110 163h1M113 163h2M118 163h3M11 164h1M18 164h1M42 164h2M0 165h1M49 165h1M6 166h1M104 166h1M112 166h1M116 166h1M29 167h1M102 167h1M112 167h1M117 167h1M1 168h1M6 168h1M43 168h1M49 168h1M87 168h1M107 168h1M114 168h1M119 168h2M22 169h1M24 169h1M41 169h1M46 169h1M53 169h1M93 169h1M19 170h1M22 170h1M44 170h1M49 170h1M93 170h1M111 170h1M117 170h1M25 171h1M87 171h1M92 171h1M95 171h1M100 171h1M22 172h1M28 172h1M46 172h1M48 172h1M116 172h1M56 173h1M85 173h1M114 173h1M22 174h1M95 174h1M103 174h1M113 174h1M101 175h1M21 176h1M48 176h1M98 176h1M104 176h1M115 176h1M6 177h1M29 177h1M42 177h1M55 177h1M87 177h1M94 177h1M97 177h1M101 177h1M107 177h1M115 177h1M44 178h1M47 178h1M56 178h1M85 178h1M87 178h1M91 178h1M101 178h2M110 178h1M119 178h2M49 179h2M93 179h1M115 179h1M47 180h2M56 180h1M86 180h1M108 180h1M22 181h1M45 181h1M87 181h1M90 181h1M110 181h1M42 182h1M55 182h1M92 182h1M95 182h1M97 182h1M92 183h1M101 184h1M105 184h1M109 184h1M114 184h1M56 185h1M90 185h1M95 185h1M97 185h1M101 185h1M118 185h1M54 186h1M83 186h1M91 186h1M102 186h2M107 186h1M83 187h2M99 187h1M103 187h1M108 187h1M110 187h1M116 187h2M46 188h1M90 188h1M44 189h1M46 189h1M82 189h2M102 189h1M111 189h1M90 190h1M94 190h1M98 190h1M101 190h2M114 190h1M43 191h1M82 191h1M95 191h1M104 191h1M111 191h1M113 191h1M88 192h2M108 192h1M115 192h2M55 193h1M92 193h1M102 193h1M115 193h2M54 194h2M94 194h1M105 194h1M111 194h1M43 195h1M82 195h1M42 196h1M84 196h1M98 196h1M100 196h1M109 196h1M74 197h1M113 197h1M55 198h1M106 198h2M110 198h1M54 199h1M89 199h2M93 199h1M99 199h1M103 199h1M113 199h1M44 200h1M90 200h1M97 200h1M103 200h1M115 200h1M83 201h1M85 201h1M105 201h2M108 201h1M110 201h1M113 201h1M43 202h1M50 202h1M110 202h1M118 202h1M79 203h1M85 203h1M109 203h1M51 204h1M112 204h1M51 205h1M69 205h1M86 205h1M67 206h1M87 206h1M44 207h1M62 207h1M66 207h1M81 207h1M113 207h1M53 208h1M63 208h1M68 208h1M81 208h1M46 209h1M66 209h1M68 209h1M45 210h1M61 210h1M68 210h2M112 210h1M63 211h1M67 211h1M88 211h1M47 212h1M64 212h1M66 212h1M51 213h1M59 213h1M65 213h1M72 213h1M114 213h1M47 214h1M65 214h1M72 214h1M81 214h1M112 214h1M119 214h2M49 215h1M61 215h1M68 215h1M72 215h1M63 216h1M68 216h1M71 216h4M50 217h1M65 217h1M58 218h1M46 219h1M69 219h1M59 220h1M64 220h1M73 220h1M43 221h1M48 221h2M70 221h1M39 222h2M43 222h1M46 222h1M49 222h1M61 222h1M64 222h1M69 222h1M72 222h1M48 223h1M71 223h1M40 224h1M61 224h1M70 224h2M74 224h1M56 225h1M60 225h1M64 225h1M66 225h1M71 225h1M119 225h2M72 226h1M82 226h1M34 227h1M39 227h2M58 227h1M61 227h1M79 227h2M31 228h1M56 228h1M68 228h1M72 228h1M76 228h1M75 229h1M82 229h1M30 230h1M57 230h2M87 230h1M78 231h1M90 231h1M102 231h1M107 231h1M112 231h1M31 232h1M115 232h1"/>
<path stroke="#00c1ff" d="M85 0h1M94 0h1M102 0h1M107 0h1M111 0h1M116 0h1M79 1h1M85 1h2M94 1h1M96 1h1M111 1h2M33 2h1M38 2h1M99 2h1M104 2h1M113 2h1M118 2h1M37 3h1M72 3h1M75 3h1M92 3h1M106 3h1M109 3h1M111 3h1M117 3h1M35 4h1M86 4h1M96 4h1M112 4h1M119 4h2M26 5h1M88 5h1M92 5h1M98 5h1M108 5h2M112 5h1M0 6h1M84 6h1M96 6h1M115 6h1M117 6h1M25 7h1M27 7h1M85 7h1M97 7h1M105 7h1M108 7h1M32 8h1M85 8h1M95 9h1M15 10h1M21 10h2M27 10h1M92 10h1M97 10h1M104 10h1M0 11h1M8 11h1M35 11h1M12 12h1M31 12h1M4 13h1M19 13h1M21 13h1M31 13h1M108 13h1M4 14h1M49 28h1M58 28h1M23 29h1M96 29h1M105 29h1M20 30h1M56 30h1M100 30h1M104 30h1M111 30h1M14 31h1M33 31h2M47 31h1M93 31h1M96 31h1M104 31h1M108 31h1M15 32h1M26 32h1M31 32h1M52 32h2M89 32h1M110 32h2M16 33h1M32 33h1M51 33h1M88 33h1M95 33h1M113 33h1M21 34h1M44 34h1M95 34h1M104 34h1M108 34h1M110 34h1M114 34h1M7 35h1M33 35h1M41 35h1M47 35h1M97 35h1M107 35h1M20 36h1M25 36h1M30 36h1M38 36h1M46 36h1M49 36h1M55 36h2M59 36h1M87 36h2M90 36h2M119 36h2M11 37h1M37 37h1M106 37h1M110 37h1M114 37h2M118 37h1M6 38h1M14 38h1M18 38h2M28 38h1M36 38h1M39 38h1M44 38h1M55 38h1M61 38h1M36 39h1M42 39h1M52 39h1M58 39h1M83 39h1M87 39h1M9 40h1M11 40h1M23 40h1M43 40h1M47 40h1M49 40h1M51 40h1M54 40h1M95 40h1M100 40h1M15 41h1M21 41h1M26 41h1M34 41h1M42 41h1M44 41h1M64 41h1M115 41h1M20 42h1M23 42h1M50 42h1M82 42h1M90 42h1M93 42h3M13 43h1M22 43h1M39 43h1M43 43h1M102 43h1M109 43h1M13 44h1M17 44h1M35 44h1M42 44h1M47 44h2M58 44h1M87 44h1M99 44h1M117 44h1M8 45h1M10 45h1M44 45h1M55 45h1M64 45h1M81 45h1M96 45h1M107 45h1M24 46h2M38 46h1M49 46h1M51 46h1M61 46h1M83 46h1M89 46h1M91 46h1M104 46h1M117 46h1M19 47h1M49 47h1M55 47h1M87 47h1M94 47h1M116 47h1M17 48h1M36 48h1M47 48h1M72 48h1M88 48h1M110 48h1M8 49h1M19 49h1M21 49h1M28 49h1M35 49h3M82 49h1M90 49h1M99 49h1M107 49h1M110 49h2M22 50h2M26 50h2M37 50h1M55 50h1M62 50h2M85 50h1M94 50h1M100 50h1M106 50h1M108 50h1M10 51h1M22 51h1M26 51h2M39 51h1M48 51h1M59 51h1M61 51h1M82 51h1M95 51h1M97 51h1M105 51h1M111 51h1M7 52h1M14 52h1M24 52h1M60 52h1M62 52h1M94 52h1M106 52h1M109 52h1M7 53h1M37 53h1M40 53h1M63 53h1M86 53h1M88 53h1M99 53h1M108 53h1M112 53h1M7 54h1M12 54h1M19 54h1M21 54h1M44 54h1M47 54h1M53 54h1M55 54h1M101 54h1M108 54h1M16 55h1M22 55h1M35 55h1M51 55h1M93 55h1M105 55h1M107 55h1M110 55h1M7 56h1M27 56h1M36 56h1M45 56h1M50 56h1M89 56h1M100 56h1M25 57h2M39 57h1M41 57h1M95 57h1M107 57h1M9 58h4M43 58h1M86 58h1M108 58h1M24 59h1M37 59h2M42 59h1M47 59h2M91 59h1M94 59h1M98 59h1M103 59h1M107 59h1M109 59h1M7 60h1M15 60h1M39 60h1M57 60h1M85 60h1M94 60h1M102 60h1M48 61h1M52 61h1M65 61h1M92 61h1M7 62h1M18 62h1M50 62h3M62 62h1M64 62h1M83 62h1M105 62h1M107 62h1M10 63h1M53 63h1M61 63h1M79 63h1M84 63h1M87 63h1M101 63h1M17 64h1M54 64h1M59 64h1M9 65h1M66 65h1M91 65h1M99 65h1M15 66h1M96 66h1M98 66h1M104 66h1M6 67h1M10 67h1M22 67h1M26 67h1M38 67h1M47 67h1M54 67h1M90 67h1M94 67h2M103 67h1M106 67h1M9 68h1M14 68h1M22 68h1M49 68h1M61 68h2M64 68h1M91 68h1M99 68h1M105 68h1M9 69h1M36 69h1M55 69h1M91 69h1M95 69h1M103 69h1M38 70h1M96 70h1M5 71h1M12 71h1M16 71h2M27 71h1M52 71h1M98 71h1M103 71h1M9 72h1M21 72h1M36 72h1M47 72h1M87 72h1M91 72h1M15 73h1M46 73h1M103 73h1M22 74h1M46 74h1M57 74h2M99 75h1M25 76h1M99 76h1M5 77h1M13 77h1M24 77h1M43 77h1M67 77h1M25 78h1M44 78h1M95 78h1M7 79h1M47 79h1M56 79h2M69 79h1M43 80h1M65 80h1M6 81h1M14 81h1M37 81h1M48 81h1M56 81h1M4 82h1M33 82h1M6 83h1M14 83h1M44 83h1M64 83h3M27 84h1M66 84h1M38 85h1M44 85h1M64 85h1M5 86h1M13 86h1M17 86h2M33 86h1M39 86h1M46 86h1M7 87h1M31 87h1M33 87h1M38 87h1M56 87h1M5 88h1M29 88h1M43 88h1M45 88h1M17 89h1M28 89h1M27 90h1M39 90h1M42 90h1M64 90h1M7 91h1M27 91h1M65 91h1M67 91h1M3 92h1M53 92h1M18 93h1M25 93h1M31 93h1M5 94h1M57 94h1M63 94h1M5 95h2M48 95h1M59 95h1M62 95h1M26 96h1M44 96h1M48 96h2M5 97h1M15 97h1M25 97h1M28 97h1M46 97h1M49 97h1M4 98h1M23 98h1M26 98h1M31 98h1M61 98h1M23 99h1M29 99h2M57 99h1M33 100h1M48 100h1M15 101h1M30 101h1M63 101h1M65 101h2M4 102h1M27 102h1M53 102h1M58 102h1M26 103h1M6 104h1M33 104h2M57 104h1M47 105h2M63 105h1M43 106h1M49 106h1M62 106h1M28 107h1M34 107h1M49 107h1M63 107h1M11 108h2M16 108h1M34 108h1M45 108h2M48 108h1M50 108h1M6 109h1M15 109h1M26 109h2M4 110h1M18 110h1M51 110h2M55 110h1M35 111h1M62 111h1M6 112h1M24 112h1M61 112h1M63 112h1M18 113h1M25 113h1M45 113h1M47 113h1M49 113h1M55 113h1M59 113h1M14 114h1M31 114h1M14 115h1M19 115h1M39 115h1M59 115h2M4 116h1M7 116h1M14 116h1M28 117h1M34 117h1M61 117h1M63 117h1M7 118h1M32 118h4M38 118h2M47 118h1M54 118h1M11 119h1M17 119h1M43 119h2M73 119h1M10 120h1M33 120h1M35 120h1M63 120h2M8 121h1M15 121h1M27 121h1M42 121h3M50 121h1M54 121h1M20 122h1M24 122h1M28 122h1M37 122h1M41 122h1M6 123h1M14 123h1M45 123h1M51 123h1M5 124h1M18 124h1M25 124h1M27 124h1M32 124h1M62 124h1M15 125h1M19 125h1M21 125h1M42 125h2M48 125h2M60 125h1M65 125h1M70 125h2M7 126h1M16 126h1M18 126h1M42 126h1M55 126h1M74 126h1M17 127h1M35 127h1M39 127h1M60 127h1M76 127h1M14 128h1M20 128h1M43 128h1M59 128h2M7 129h1M25 129h2M42 129h1M63 129h1M14 130h1M20 131h1M34 131h1M56 131h1M11 132h1M19 132h1M47 132h1M66 132h1M13 133h1M16 133h1M27 133h1M2 134h1M45 134h1M51 134h1M70 134h1M19 135h2M24 135h1M27 135h1M32 135h1M43 135h1M49 135h1M23 136h1M26 136h1M51 136h1M71 136h1M5 137h1M14 137h1M24 137h1M26 137h1M32 137h1M50 137h1M3 138h2M47 138h1M52 138h1M27 139h1M50 139h1M54 139h1M64 139h1M48 140h1M63 140h1M69 140h1M54 141h1M61 141h1M6 142h1M8 142h1M19 142h1M22 142h1M27 142h1M42 142h2M60 142h1M5 143h1M24 143h1M40 143h2M44 143h1M49 143h1M60 143h1M4 144h1M57 144h1M59 144h1M61 144h2M68 144h1M4 145h1M11 145h1M20 145h1M26 145h2M56 145h1M59 145h2M11 146h1M27 146h2M47 146h1M56 146h1M20 147h2M26 147h1M46 147h1M9 148h2M25 148h1M27 148h1M33 148h2M111 148h1M20 149h1M41 149h1M48 149h1M54 149h1M59 149h1M112 149h1M13 150h1M16 150h2M25 150h1M45 150h2M48 150h1M114 150h1M116 150h1M4 151h1M8 151h1M16 151h1M44 151h1M112 151h1M17 152h1M24 152h1M34 152h1M49 152h1M58 152h1M105 152h1M116 152h1M4 153h3M18 153h1M20 153h1M40 153h1M45 153h1M110 153h1M1 154h1M8 154h1M17 154h1M41 154h1M104 154h1M106 154h1M117 154h1M3 155h1M32 155h1M45 155h1M49 155h1M55 155h2M111 155h1M1 156h1M17 156h1M48 156h1M103 156h1M115 156h1M22 157h1M44 157h1M54 157h1M103 157h1M105 157h1M118 157h1M1 158h2M4 158h2M10 158h1M19 158h1M54 158h2M108 158h1M113 158h1M117 158h1M119 158h2M1 159h1M116 159h1M24 160h1M32 160h1M47 160h1M98 160h1M106 160h1M116 160h1M119 160h2M1 161h1M18 161h1M45 161h1M116 161h1M9 162h1M13 162h1M47 162h2M55 162h1M57 162h1M103 162h1M108 162h1M119 162h2M0 163h1M59 163h1M98 163h1M101 163h1M104 163h2M107 163h1M111 163h1M7 164h1M48 164h1M115 164h1M10 165h1M33 165h1M44 165h1M98 165h1M102 165h1M31 166h1M33 166h1M40 167h1M54 167h1M97 167h1M99 167h2M103 167h1M109 167h1M111 167h1M40 168h1M48 168h1M97 168h1M115 168h1M3 169h1M15 169h1M31 169h2M107 169h1M114 169h1M2 170h1M55 170h1M96 170h1M102 170h1M56 171h1M96 171h2M47 172h1M52 172h1M87 172h1M96 172h1M43 173h1M94 173h1M43 174h1M53 174h1M84 174h1M94 174h1M98 174h2M101 174h2M90 175h1M104 175h1M113 175h1M55 176h2M86 176h1M89 176h1M46 178h1M53 178h1M107 178h1M44 179h1M47 179h1M57 179h1M102 179h1M104 179h1M111 179h2M44 180h1M55 180h1M104 180h1M109 180h1M84 181h1M88 181h2M91 181h1M100 181h1M117 181h1M85 182h1M42 183h1M47 183h1M85 183h1M52 184h1M106 184h1M110 184h1M115 184h1M46 185h1M84 185h2M91 185h1M96 185h1M105 185h1M108 185h3M82 186h1M92 186h1M99 186h1M105 186h1M114 186h1M114 187h1M83 188h1M86 188h2M93 188h1M97 188h1M100 188h1M108 188h1M110 188h2M118 188h1M43 189h1M47 189h1M44 190h1M82 190h1M87 190h1M103 190h1M112 190h1M112 191h1M119 191h2M55 192h1M102 192h1M107 192h1M110 192h1M93 193h1M106 193h1M99 194h1M104 194h1M91 195h1M94 195h1M106 195h1M109 195h1M112 195h1M54 196h1M86 196h1M56 197h1M104 197h1M108 197h1M45 198h1M54 198h1M88 198h2M93 198h1M100 198h1M108 198h1M117 198h1M55 199h1M85 199h1M88 199h1M94 199h1M110 199h1M117 199h1M46 200h1M48 200h1M81 200h1M93 200h1M106 200h1M90 201h1M93 201h1M95 201h1M109 201h1M111 201h1M54 202h1M82 202h1M92 202h1M87 203h1M90 203h1M43 204h1M87 204h2M90 204h1M103 204h1M107 204h1M54 205h1M79 205h1M85 205h1M115 205h1M63 206h1M66 206h1M80 206h1M107 206h1M116 206h1M85 207h1M108 207h1M69 208h1M71 208h1M90 208h1M114 208h1M117 208h2M62 209h1M73 209h1M53 210h1M65 210h1M113 210h1M117 210h1M55 211h1M61 211h1M107 211h1M114 211h1M117 211h2M63 212h1M68 212h1M50 213h1M68 214h1M71 214h1M58 215h1M63 215h1M71 215h1M76 215h1M83 215h1M45 216h1M65 216h1M49 217h1M75 217h1M50 218h1M67 218h1M69 218h1M71 218h1M73 218h1M75 218h1M77 218h1M49 219h1M68 219h1M74 219h1M52 220h2M117 220h1M50 221h1M53 221h1M65 221h1M67 221h1M42 223h1M59 223h1M69 223h2M74 223h1M50 224h1M54 224h1M56 224h1M59 224h1M69 224h1M73 224h1M39 225h1M43 225h1M39 226h1M44 226h1M46 226h1M48 226h1M73 226h1M75 226h1M37 227h1M41 227h1M77 227h1M109 227h1M38 228h1M60 228h2M32 229h1M90 229h1M119 229h2M31 230h1M63 230h1M70 230h1M72 230h1M74 230h1M91 230h1M106 230h1M116 230h1M64 231h1M71 231h2M85 231h1M101 231h1M31 234h2"/>
<path stroke="#00e1ff" d="M34 0h1M68 0h2M95 0h1M97 0h1M118 0h1M42 1h1M93 1h1M104 1h1M31 2h1M40 2h2M48 2h1M85 2h1M110 2h1M34 3h1M38 3h1M69 3h1M85 3h1M38 4h1M81 4h1M104 4h1M109 4h1M114 4h1M117 4h1M36 5h1M99 5h1M106 5h1M119 5h2M29 6h1M90 6h1M98 6h1M100 6h1M106 6h1M116 6h1M31 7h1M33 7h1M82 7h1M93 7h1M96 7h1M101 7h1M106 7h1M111 7h1M29 8h1M87 8h1M89 8h1M114 8h1M117 8h1M27 9h1M44 9h1M86 9h1M93 9h2M97 9h1M112 9h1M114 9h1M116 9h1M11 10h1M25 10h1M27 11h1M36 11h1M107 11h1M110 11h1M24 12h1M41 12h1M87 12h1M97 12h1M103 12h1M105 12h2M111 12h1M6 13h1M14 13h1M16 13h1M27 13h1M33 13h1M107 13h1M109 13h1M0 14h1M11 14h1M19 14h1M30 14h1M15 15h1M20 15h1M96 26h1M85 27h1M37 28h1M100 28h1M111 28h1M21 29h1M49 29h1M56 29h1M87 29h1M98 29h1M104 29h1M112 29h1M38 30h1M91 30h1M97 30h1M110 30h1M113 30h1M5 31h1M10 31h1M15 31h1M35 31h1M38 31h1M84 31h2M87 31h1M92 31h1M14 32h1M17 32h1M28 32h1M30 32h1M41 32h1M47 32h1M60 32h2M83 32h1M97 32h1M9 33h1M13 33h1M15 33h1M17 33h1M20 33h1M37 33h1M47 33h1M55 33h2M58 33h1M98 33h2M101 33h2M116 33h1M12 34h1M22 34h2M33 34h1M35 34h1M40 34h1M47 34h2M55 34h1M59 34h1M85 34h1M90 34h1M102 34h1M107 34h1M113 34h1M17 35h1M19 35h1M28 35h1M34 35h1M40 35h1M44 35h2M49 35h1M56 35h1M61 35h1M82 35h1M104 35h2M14 36h1M33 36h1M92 36h1M101 36h1M109 36h1M115 36h1M8 37h1M21 37h1M44 37h1M50 37h2M83 37h1M88 37h1M105 37h1M13 38h1M38 38h1M50 38h1M58 38h1M60 38h1M17 39h1M20 39h1M72 39h1M10 40h1M12 40h1M20 40h1M22 40h1M50 40h1M55 40h1M63 40h1M70 40h1M87 40h1M97 40h1M110 40h1M4 41h1M7 41h1M33 41h1M36 41h1M38 41h1M45 41h1M85 41h1M88 41h1M7 42h1M26 42h1M37 42h1M64 42h1M102 42h1M114 42h1M36 43h1M63 43h1M84 43h1M95 43h1M6 44h1M9 44h1M20 44h1M34 44h1M50 44h1M77 44h1M113 44h2M4 45h1M18 45h1M25 45h1M41 45h1M59 45h1M63 45h1M82 45h1M89 45h1M113 45h1M117 45h1M28 46h1M35 46h1M60 46h1M98 46h1M107 46h1M113 46h1M116 46h1M3 47h1M43 47h1M33 48h2M46 48h1M92 48h1M98 48h1M10 49h1M17 49h1M20 49h1M23 49h2M48 49h2M86 49h1M92 49h1M97 49h1M106 49h1M108 49h1M7 50h1M18 50h2M39 50h1M59 50h1M91 50h1M7 51h2M25 51h1M44 51h2M64 51h1M66 51h1M83 51h1M93 51h2M104 51h1M107 51h1M113 51h1M10 52h1M16 52h2M42 52h1M49 52h1M89 52h1M93 52h1M15 53h1M19 53h1M25 53h1M45 53h1M85 53h1M95 53h1M102 53h1M35 54h1M37 54h1M39 54h1M82 54h1M86 54h1M98 54h1M105 54h1M6 55h2M20 55h1M34 55h1M37 55h2M40 55h1M44 55h1M62 55h1M82 55h3M90 55h1M96 55h1M101 55h1M18 56h1M39 56h1M44 56h1M82 56h1M102 56h1M36 57h1M46 57h1M93 57h1M110 57h1M17 58h1M20 58h1M91 58h1M98 58h1M46 59h1M52 59h1M89 59h1M95 59h1M108 59h1M9 60h1M14 60h1M16 60h1M27 60h1M48 60h1M91 60h1M97 60h1M104 60h1M108 60h2M54 61h1M91 61h1M95 61h1M101 61h1M17 62h1M47 62h1M86 62h2M91 62h1M96 62h1M44 63h1M66 63h1M95 63h1M100 63h1M106 63h1M18 64h1M24 64h1M55 64h1M83 64h1M89 64h2M92 64h1M97 64h1M99 64h1M106 64h2M109 64h1M15 65h1M25 65h1M40 65h1M50 65h1M93 65h1M100 65h1M107 65h1M22 66h1M37 66h1M67 66h1M89 66h1M91 66h1M45 67h1M49 67h1M100 67h1M6 68h1M10 68h1M17 68h1M37 68h1M39 68h1M46 68h1M55 68h1M69 68h1M80 68h1M95 68h1M100 68h2M16 69h2M33 69h1M60 69h1M63 69h1M96 69h1M10 70h1M15 70h1M93 70h1M49 71h1M96 71h1M104 71h1M107 71h1M6 72h1M12 72h1M62 72h1M98 72h1M100 72h1M9 73h1M16 73h1M25 73h1M90 73h1M97 73h1M11 74h1M23 74h1M42 74h1M92 74h1M100 74h1M102 74h1M5 75h1M9 75h1M16 75h1M49 75h1M92 75h1M103 75h1M9 76h1M12 76h1M37 76h1M52 76h1M95 76h1M105 76h1M64 77h1M93 77h1M37 78h1M50 78h1M96 78h1M16 79h1M37 79h1M5 80h1M94 80h1M12 81h1M27 81h1M29 81h1M40 81h1M75 81h1M17 82h1M25 82h1M38 82h1M40 82h1M47 82h1M5 83h1M33 84h1M65 85h1M37 86h1M4 87h1M14 87h1M27 87h1M63 87h1M38 88h1M57 88h2M62 88h1M66 88h1M4 89h1M6 89h1M39 89h2M43 89h1M67 89h1M3 90h1M30 90h1M55 90h1M57 90h1M65 90h1M13 91h1M17 91h1M64 91h1M33 92h1M39 92h2M65 92h2M4 93h1M41 93h1M66 93h1M33 94h1M39 94h1M4 95h1M66 95h1M28 96h1M6 97h1M56 97h1M43 98h1M45 98h1M48 98h1M17 99h1M64 99h1M14 100h1M16 100h1M46 100h2M64 100h1M18 101h1M59 101h1M6 102h1M33 102h1M41 102h1M49 102h1M41 103h1M13 104h1M16 104h1M26 104h1M48 104h1M64 104h1M11 105h1M42 106h1M47 106h1M59 106h1M64 106h1M18 107h1M26 107h1M31 108h1M65 108h1M10 109h1M12 109h1M43 109h1M64 109h1M27 110h1M48 110h1M20 111h1M22 111h1M59 111h1M9 112h1M13 112h1M16 112h1M34 112h1M60 112h1M24 113h1M34 113h1M39 113h1M60 113h2M7 114h1M11 114h1M45 114h1M64 114h1M42 115h1M45 115h1M57 115h1M12 116h2M47 116h1M9 117h1M38 117h1M51 117h1M5 118h2M8 118h1M12 118h1M14 118h1M18 118h1M46 118h1M57 118h1M4 119h1M66 119h1M72 119h1M74 119h1M18 120h1M20 120h2M41 120h1M48 120h1M4 121h1M34 121h1M38 121h1M55 121h1M4 122h1M15 122h1M32 122h1M40 122h1M42 122h1M51 122h1M64 122h1M72 122h1M7 123h1M13 123h1M15 123h1M39 123h1M48 123h1M52 123h1M34 124h1M42 124h1M74 124h1M6 125h1M36 125h1M45 125h1M50 125h1M64 125h1M8 126h1M10 126h1M49 126h1M66 126h1M5 127h1M18 127h1M28 127h1M38 127h1M13 128h1M17 128h1M32 128h1M68 128h1M5 129h2M39 129h1M45 129h1M48 129h1M61 129h1M73 129h1M38 130h1M57 130h1M63 130h1M68 130h2M19 131h1M41 131h1M63 131h1M3 132h1M6 132h1M44 132h1M75 132h1M3 133h3M40 133h1M46 133h1M11 134h1M19 134h1M28 134h1M40 134h1M50 134h1M26 135h1M39 135h1M51 135h1M54 135h1M57 135h1M3 136h1M27 136h1M44 136h1M50 136h1M67 136h1M70 136h1M57 137h1M59 137h1M0 138h1M41 138h1M48 138h1M62 138h1M69 138h1M0 139h1M15 139h1M25 139h1M28 139h1M57 139h2M60 139h1M56 140h1M58 140h1M0 141h1M18 141h1M42 141h1M45 141h1M52 141h1M59 141h1M69 141h1M2 142h1M17 142h1M28 142h1M48 143h1M57 143h1M11 144h1M47 144h1M114 144h1M0 145h1M15 145h1M21 145h1M28 145h1M42 145h1M48 145h1M57 145h1M113 145h2M5 146h1M34 146h1M45 146h1M50 146h1M106 146h1M109 146h1M115 146h1M117 146h1M27 147h1M48 147h1M50 147h1M56 147h1M59 147h1M62 147h1M2 148h1M21 148h1M32 148h1M47 148h1M56 148h1M112 148h1M118 148h1M5 149h1M11 149h1M62 149h1M113 149h1M116 149h1M3 150h2M43 150h1M56 150h1M71 150h1M115 150h1M118 150h1M28 151h1M34 151h1M103 151h1M109 151h1M118 151h1M3 152h1M28 152h1M33 152h1M40 152h1M104 152h1M24 153h1M42 153h1M44 153h1M46 153h2M108 153h1M58 154h1M112 154h1M1 155h1M33 155h1M47 155h1M50 155h1M106 155h1M43 156h1M47 156h1M113 156h1M117 156h1M119 156h2M1 157h1M42 157h1M47 157h1M55 157h1M59 157h1M101 157h1M57 158h1M59 158h1M98 158h1M106 158h1M115 158h1M44 159h1M98 159h1M100 159h1M110 159h1M112 159h1M115 159h1M29 160h1M42 160h2M110 160h1M118 160h1M43 161h1M47 161h1M2 162h1M29 162h1M31 162h1M45 162h1M99 162h1M109 162h1M112 162h1M115 162h1M118 162h1M31 163h1M43 163h1M57 163h1M97 163h1M102 163h1M115 163h1M46 164h1M103 164h1M111 164h1M119 164h2M58 165h1M99 165h1M104 165h1M113 165h1M41 166h1M43 166h1M47 166h1M58 166h1M105 166h1M31 167h1M55 167h2M47 168h1M55 168h1M94 168h1M99 168h2M116 168h1M6 169h1M44 169h1M47 169h1M50 169h1M55 169h1M105 169h1M108 169h1M113 169h1M115 169h1M53 170h1M56 170h2M94 170h1M99 170h2M105 170h2M0 171h1M98 171h1M106 171h1M45 172h1M55 172h2M100 172h1M47 173h1M93 173h1M97 173h1M105 173h1M47 174h1M49 174h1M54 174h1M57 174h1M93 175h2M111 175h1M44 176h1M85 176h1M85 177h1M90 177h1M45 178h1M90 178h1M94 178h1M103 178h1M105 178h1M55 179h2M100 179h1M83 180h1M90 180h1M98 180h1M114 180h1M46 181h1M97 181h1M83 182h2M84 183h1M102 183h2M109 183h1M84 184h1M102 184h1M54 185h1M82 185h1M102 185h1M90 186h1M96 186h1M56 187h1M82 187h1M102 187h1M44 188h1M56 189h1M101 189h1M108 189h1M114 189h1M89 190h1M109 190h1M54 191h2M99 191h1M114 191h1M56 192h1M83 192h1M91 192h1M101 192h1M103 192h1M54 193h1M83 193h1M91 193h1M81 194h1M92 194h1M96 194h2M100 194h1M112 194h1M48 195h1M96 196h2M107 196h1M82 197h1M92 197h1M101 197h2M70 198h1M95 198h1M104 198h1M109 199h1M115 199h1M69 200h1M88 200h1M94 200h1M107 200h1M46 201h1M69 201h1M74 201h1M98 201h1M51 202h1M74 202h1M101 202h1M107 202h1M116 202h1M68 203h2M106 203h2M115 203h1M56 204h1M63 204h2M86 204h1M92 204h1M63 205h2M67 205h1M87 205h1M109 205h1M69 206h1M79 206h1M83 206h1M109 206h1M59 207h1M67 207h1M69 207h1M74 207h1M92 207h1M110 207h1M112 207h1M79 208h1M113 208h1M116 208h1M65 209h1M69 209h2M74 209h1M116 209h1M22 210h1M70 210h1M111 210h1M114 210h1M59 211h1M85 211h1M113 211h1M44 212h1M74 212h1M85 212h1M87 212h1M112 212h2M116 212h1M53 213h1M61 213h1M68 213h1M82 213h1M87 213h1M54 214h1M51 215h2M54 215h1M73 215h1M112 215h1M44 216h1M54 216h1M62 216h1M53 217h1M59 217h1M67 217h1M70 217h2M61 218h1M65 218h1M72 218h1M50 219h2M54 219h1M58 219h1M60 219h1M82 219h1M118 219h1M39 220h1M70 220h2M39 221h1M47 221h1M79 221h1M118 221h1M51 222h1M43 223h1M52 223h1M56 223h1M62 223h1M81 223h1M35 224h1M47 224h1M57 224h1M60 224h1M62 224h1M35 225h1M40 225h1M49 225h1M55 225h1M57 225h1M63 225h1M56 226h1M64 226h2M67 226h1M76 226h2M81 226h1M44 227h1M73 227h1M75 227h1M84 227h1M117 227h1M43 228h2M49 228h1M70 228h2M78 228h1M90 228h1M113 228h3M117 228h1M41 229h1M62 229h1M72 229h1M84 229h2M105 229h1M68 230h1M86 230h1M104 230h1M107 230h1M110 230h1M112 230h1M118 230h3M87 231h1M96 231h1M106 231h1"/>
<path stroke="#00fbf4" d="M37 0h1M40 0h3M72 0h1M87 0h1M90 0h1M110 0h1M40 1h1M49 1h1M88 1h1M102 1h1M115 1h1M67 2h1M70 2h1M76 2h1M106 2h1M41 3h2M46 3h1M64 3h1M82 3h1M97 3h1M31 4h1M41 4h1M71 4h1M106 4h1M110 4h2M33 5h1M69 5h2M83 5h1M93 5h1M104 5h1M38 6h1M47 6h1M14 7h1M36 7h1M39 7h1M84 7h1M87 7h1M94 7h1M100 7h1M107 7h1M30 8h1M33 8h1M39 8h1M47 8h1M81 8h1M86 8h1M98 8h1M8 9h1M26 9h1M30 9h1M37 9h1M39 9h1M41 9h1M46 9h1M90 9h2M29 10h1M90 10h1M93 10h1M98 10h1M106 10h1M109 10h1M112 10h1M1 11h1M4 11h1M28 11h1M30 11h1M39 11h1M42 11h1M46 11h1M86 11h1M91 11h1M97 11h1M99 11h1M104 11h2M109 11h1M21 12h1M27 12h2M40 12h1M82 12h1M95 12h1M102 12h1M2 13h2M11 13h1M18 13h1M43 13h1M86 13h1M93 13h1M114 13h1M5 14h2M10 14h1M16 14h1M21 14h1M35 14h1M39 14h1M93 14h1M102 14h1M23 15h1M106 23h1M85 25h1M98 25h1M86 26h2M92 26h1M102 26h2M31 27h1M97 27h1M113 27h1M8 28h1M10 28h1M17 28h1M32 28h1M98 28h1M103 28h1M106 28h1M108 28h1M119 28h2M1 29h1M8 29h1M17 29h1M28 29h1M31 29h1M86 29h1M99 29h1M108 29h1M19 30h1M21 30h1M30 30h1M47 30h1M87 30h1M90 30h1M115 30h1M118 30h1M7 31h1M17 31h1M30 31h1M32 31h1M51 31h1M56 31h1M94 31h1M103 31h1M105 31h1M111 31h1M114 31h1M9 32h1M36 32h1M39 32h1M42 32h1M93 32h1M95 32h2M106 32h2M109 32h1M114 32h1M11 33h1M18 33h1M24 33h1M29 33h2M34 33h2M41 33h1M49 33h2M84 33h1M93 33h1M103 33h1M15 34h1M17 34h1M27 34h1M36 34h1M45 34h2M49 34h1M57 34h1M62 34h1M83 34h1M89 34h1M101 34h1M105 34h1M115 34h1M118 34h1M4 35h1M35 35h2M43 35h1M54 35h1M83 35h1M88 35h2M98 35h1M8 36h2M21 36h3M35 36h1M37 36h1M40 36h1M42 36h1M44 36h2M51 36h1M57 36h1M70 36h1M118 36h1M7 37h1M17 37h1M27 37h1M35 37h1M43 37h1M67 37h1M87 37h1M100 37h1M8 38h2M40 38h1M46 38h1M48 38h1M110 38h1M113 38h1M26 39h1M34 39h1M60 39h1M75 39h1M97 39h1M118 39h1M29 40h1M61 40h2M64 40h1M66 40h1M118 40h3M10 41h1M40 41h1M47 41h1M82 41h1M86 41h1M94 41h1M117 41h1M35 42h2M38 42h1M47 42h1M105 42h1M65 43h1M82 43h1M85 43h1M93 43h1M97 43h1M115 43h2M3 44h1M21 44h1M39 44h1M60 44h1M81 44h1M102 44h1M5 45h1M52 45h1M58 45h1M75 45h1M86 45h1M101 45h1M19 46h1M39 46h1M47 46h1M62 46h2M75 46h1M102 46h1M115 46h1M34 47h1M48 47h1M61 47h1M74 47h1M118 47h1M29 48h1M44 48h1M66 48h1M77 48h1M81 48h1M84 48h1M91 48h1M97 48h1M111 48h2M7 49h1M85 49h1M88 49h1M96 49h1M8 50h1M15 50h1M17 50h1M44 50h1M52 50h1M86 50h1M89 50h1M92 50h1M95 50h1M110 50h1M9 51h1M19 51h1M21 51h1M28 51h1M46 51h1M51 51h1M85 51h1M87 51h1M89 51h2M92 51h1M99 51h1M108 51h1M8 52h1M13 52h1M65 52h1M88 52h1M101 52h1M104 52h1M46 53h1M49 53h2M89 53h1M98 53h1M10 54h1M40 54h1M51 54h1M84 54h1M107 54h1M109 54h1M8 55h2M89 55h1M94 55h2M100 55h1M109 55h1M35 56h1M46 56h1M48 56h1M51 56h1M62 56h2M85 56h1M88 56h1M92 56h1M96 56h1M104 56h1M109 56h1M6 57h1M10 57h1M19 57h1M49 57h1M99 57h2M102 57h1M109 57h1M36 58h1M42 58h1M79 58h1M87 58h1M92 58h1M101 58h2M105 58h1M6 59h1M14 59h1M101 59h1M18 60h1M46 60h1M49 60h1M55 60h1M83 60h1M93 60h1M99 60h1M36 61h1M64 61h1M82 61h1M89 61h1M96 61h1M102 61h1M46 62h1M94 62h1M6 63h1M13 63h1M37 63h1M39 63h1M43 63h1M50 63h1M89 63h1M5 64h1M33 64h1M74 64h1M82 64h1M87 64h1M94 64h1M101 64h2M105 64h1M46 65h1M90 65h1M95 65h1M98 65h1M102 65h1M104 65h1M106 65h1M20 66h1M49 66h1M56 66h1M36 67h1M57 67h1M69 67h1M75 67h1M92 67h2M99 67h1M102 67h1M5 68h1M26 68h1M38 68h1M42 68h1M97 68h2M107 68h1M6 69h1M24 69h1M49 69h1M97 69h1M13 70h1M26 70h1M48 70h1M67 70h1M87 70h1M91 70h1M98 70h2M104 70h1M45 71h1M99 71h1M11 72h1M15 72h1M26 72h1M48 72h1M65 72h1M96 72h2M99 72h1M101 72h1M5 73h1M91 73h1M96 73h1M105 73h2M6 74h1M12 74h1M65 74h1M98 74h2M101 74h1M93 75h1M98 75h1M100 75h3M98 76h1M6 77h1M37 77h1M58 77h1M91 77h1M98 77h1M12 78h1M14 78h1M24 78h1M64 78h1M90 78h1M26 79h1M31 79h1M39 79h1M71 80h1M98 80h2M55 81h1M99 81h1M5 82h1M28 82h1M70 82h1M17 83h1M67 83h1M4 84h1M8 84h1M39 84h2M57 84h1M59 84h1M68 85h1M4 86h1M63 86h1M68 86h1M37 87h1M14 88h1M17 88h1M39 88h1M65 88h1M64 89h1M13 90h1M29 90h1M60 90h1M2 91h2M14 91h1M29 91h1M4 92h1M41 92h1M43 92h1M45 92h1M5 93h1M33 93h1M40 93h1M43 93h1M1 94h1M28 94h2M65 94h1M43 95h2M46 95h1M58 95h1M27 96h1M30 96h1M47 96h1M50 96h1M65 96h1M14 97h1M16 97h1M62 97h1M2 98h1M11 98h1M27 98h1M46 98h1M66 98h1M14 99h1M66 99h1M3 100h1M6 100h1M3 101h1M5 101h1M43 101h1M45 101h1M61 101h1M13 102h1M30 102h1M44 102h2M14 103h1M16 103h2M31 103h1M43 103h2M14 104h1M15 105h1M17 105h1M62 105h1M11 106h1M48 106h1M65 106h1M5 107h1M14 107h1M41 107h1M43 107h1M62 107h1M13 108h1M17 108h1M63 108h2M66 108h1M42 109h1M60 109h1M65 109h2M5 110h2M13 110h1M15 110h1M35 110h1M11 111h1M17 111h1M29 111h1M45 111h1M17 112h1M33 112h1M47 112h1M49 112h1M14 113h1M19 113h1M63 113h1M20 114h1M39 114h1M44 114h1M35 115h1M48 115h1M20 116h1M31 116h1M46 116h1M54 116h1M62 116h1M66 116h1M9 118h2M19 118h1M42 118h1M59 118h1M6 119h1M10 119h1M15 119h2M41 119h1M52 119h1M76 119h1M5 120h1M16 120h1M27 120h1M25 121h1M35 121h1M37 121h1M61 121h2M64 121h1M25 122h1M39 122h1M53 122h1M27 123h2M35 123h1M46 123h1M49 123h1M58 123h1M66 123h1M72 123h1M4 124h1M19 124h1M26 124h1M55 124h1M61 124h1M4 125h1M18 125h1M20 125h1M52 125h1M69 125h1M74 125h1M76 125h1M4 126h1M45 126h1M48 126h1M50 126h1M57 126h1M62 126h1M64 126h1M4 127h1M19 127h1M27 127h1M42 127h1M64 127h1M74 127h2M12 128h1M40 128h1M42 128h1M50 128h1M63 128h1M75 128h1M28 129h1M33 129h1M47 129h1M68 129h1M72 129h1M74 129h1M19 130h1M48 130h1M71 130h2M111 130h1M3 131h1M34 132h1M59 132h1M67 132h1M14 133h1M19 133h1M26 133h1M32 133h1M54 133h1M63 133h1M66 133h1M69 133h1M14 134h1M25 134h1M46 134h1M49 134h1M54 134h1M71 134h1M6 135h1M10 135h1M41 135h1M47 135h1M58 135h1M62 135h1M67 135h1M4 136h1M12 136h1M48 136h2M18 137h1M61 137h1M64 137h1M35 138h1M60 138h1M70 138h1M113 138h1M3 139h1M68 139h1M33 140h1M54 140h2M60 140h1M66 140h1M2 141h1M26 141h1M28 141h1M44 141h1M48 141h1M60 141h1M111 141h1M0 142h1M109 142h1M4 143h1M6 143h1M55 143h1M62 143h1M108 143h1M117 143h1M18 144h1M32 144h1M49 144h1M112 144h2M13 145h1M17 145h1M33 145h1M52 145h1M55 145h1M108 145h1M111 145h1M118 145h1M10 146h1M26 146h1M57 146h1M113 146h1M2 147h1M43 147h1M57 147h1M61 147h1M109 147h1M5 148h1M57 148h1M59 148h1M63 148h1M110 148h1M21 149h1M32 149h1M107 149h1M109 149h1M111 149h1M119 149h2M50 150h1M66 150h1M105 150h1M107 150h1M1 151h1M17 151h1M45 151h1M51 151h1M60 151h1M104 151h1M106 151h1M110 151h1M5 152h1M45 152h1M47 152h1M50 152h1M25 153h1M52 153h1M104 153h1M117 153h1M5 154h1M24 154h1M29 154h1M42 154h2M59 154h1M4 155h1M17 155h1M25 155h1M40 155h1M57 155h1M107 155h1M118 155h3M4 156h1M6 156h1M10 156h1M60 156h1M107 156h1M43 157h1M58 157h1M119 157h2M17 158h1M58 158h1M101 158h1M0 159h1M45 159h1M105 159h1M113 159h1M6 160h1M44 160h1M102 160h1M105 160h1M114 160h1M30 161h1M32 161h1M48 161h1M96 161h1M106 161h1M119 161h2M32 162h1M95 162h1M116 162h1M1 163h1M44 163h1M58 163h1M95 163h1M56 164h1M96 164h1M98 164h1M102 164h1M105 164h1M118 164h1M94 165h1M97 165h1M49 166h1M55 166h1M96 166h2M107 166h1M1 167h1M59 167h1M94 167h1M44 168h1M56 168h1M118 168h1M45 169h1M96 169h1M108 170h1M118 170h1M33 171h1M42 171h1M46 171h1M53 171h1M57 171h1M101 171h1M42 172h1M85 172h2M90 172h1M104 172h2M44 173h3M48 173h1M44 174h1M48 174h1M86 174h2M100 174h1M42 175h1M47 175h1M56 175h2M85 175h1M117 175h1M46 176h1M87 176h2M45 177h1M88 177h1M55 178h1M104 178h1M54 179h1M87 179h1M91 180h1M112 180h1M54 181h1M85 181h1M93 181h1M114 181h1M54 182h1M89 182h2M102 182h1M105 182h1M46 183h1M55 183h1M87 183h1M97 183h1M104 183h2M111 183h1M45 184h1M90 184h1M99 184h2M111 184h1M83 185h1M89 185h1M92 185h1M104 185h1M112 185h1M56 186h1M89 186h1M100 186h1M108 186h1M55 187h1M93 187h1M112 187h1M82 188h1M104 188h1M100 189h1M85 190h1M107 190h1M56 191h1M116 191h1M90 192h1M101 193h1M65 194h1M56 195h1M81 195h1M89 195h1M113 195h1M81 196h1M89 196h1M91 196h1M99 196h1M55 197h1M81 197h1M100 197h1M81 198h1M83 198h1M94 198h1M50 199h1M84 199h1M87 199h1M91 199h1M105 199h1M107 199h1M114 199h1M116 199h1M54 200h2M70 200h1M77 200h1M79 200h1M89 200h1M92 200h1M99 200h2M114 200h1M54 201h1M89 201h1M92 201h1M119 201h2M78 202h1M86 202h1M94 202h1M104 202h1M106 202h1M109 202h1M111 202h1M113 202h1M83 203h1M86 203h1M88 203h1M102 203h1M110 203h1M114 203h1M67 204h1M70 204h1M77 204h1M81 204h1M109 204h1M111 204h1M114 204h1M93 205h1M105 205h2M108 205h1M111 205h1M113 205h1M64 206h2M72 206h1M86 206h1M53 207h2M60 207h1M64 207h1M70 207h1M79 207h2M88 207h1M90 207h1M111 207h1M59 208h1M61 208h2M72 208h1M108 208h1M111 208h1M115 208h1M54 209h1M71 209h2M86 209h1M113 209h1M54 210h1M72 210h1M75 210h1M80 210h1M87 210h1M109 210h1M74 211h2M84 211h1M103 211h1M54 212h1M57 212h1M84 212h1M111 212h1M43 213h1M52 213h1M75 213h2M85 213h1M118 213h1M57 214h2M82 214h1M85 214h1M118 214h1M48 215h1M53 215h1M84 215h1M118 215h1M51 216h1M57 216h2M60 216h1M85 216h1M51 217h1M58 217h1M60 217h1M73 217h1M84 217h1M112 217h1M45 218h1M76 218h1M83 218h1M76 219h1M79 219h1M44 220h1M74 220h1M44 221h1M57 221h1M37 222h1M44 222h2M59 222h2M65 222h1M71 222h1M74 222h2M45 223h1M57 223h1M75 223h1M37 224h2M44 224h1M77 224h1M116 224h1M44 225h1M73 225h1M78 225h1M55 226h1M63 226h1M69 226h1M83 226h1M85 226h1M87 226h1M112 226h1M118 226h1M32 227h1M42 227h1M74 227h1M82 227h1M64 228h1M87 228h1M107 228h1M110 228h1M57 229h1M70 229h1M73 229h1M112 229h1M114 229h1M41 230h1M64 230h1M69 230h1M71 230h1M78 230h1M80 230h1M99 230h1M115 230h1M31 231h1M41 231h1M48 231h1M75 231h1M48 232h2"/>
<path stroke="#00ffd3" d="M45 0h1M63 0h2M76 0h1M93 0h1M45 1h1M68 1h1M72 1h1M66 2h1M72 2h1M75 2h1M82 2h1M96 2h1M66 3h1M70 3h2M78 3h1M87 3h1M91 3h1M93 3h1M101 3h1M32 4h1M76 4h1M90 4h1M28 5h1M84 5h2M35 6h2M41 6h1M85 6h3M41 7h1M89 7h1M104 7h1M117 7h2M28 8h1M45 8h1M92 8h1M104 8h2M115 8h2M28 9h1M36 9h1M38 9h1M89 9h1M100 9h1M117 9h1M5 10h1M24 10h1M28 10h1M40 10h2M79 10h1M81 10h1M83 10h1M88 10h1M96 10h1M100 10h1M111 10h1M23 11h1M33 11h1M84 11h1M89 11h2M103 11h1M111 11h1M114 11h2M1 12h1M14 12h1M26 12h1M34 12h1M79 12h1M90 12h1M93 12h1M99 12h1M13 13h1M24 13h1M36 13h1M99 13h1M1 14h1M7 14h1M22 14h1M98 14h2M108 14h1M12 19h1M27 23h1M23 24h1M84 24h1M99 24h1M103 24h1M21 25h1M31 25h1M86 25h1M99 25h1M105 25h1M109 25h1M7 26h1M85 26h1M101 26h1M46 27h1M89 27h1M102 27h1M107 27h1M6 28h1M12 28h1M16 28h1M45 28h1M94 28h1M97 28h1M14 29h1M22 29h1M27 29h1M32 29h1M35 29h1M41 29h1M48 29h1M83 29h1M85 29h1M94 29h2M97 29h1M101 29h1M110 29h1M114 29h1M118 29h1M7 30h1M17 30h1M25 30h1M27 30h1M54 30h1M57 30h1M106 30h2M112 30h1M119 30h2M19 31h1M22 31h1M26 31h1M37 31h1M40 31h1M54 31h1M112 31h1M8 32h1M22 32h1M38 32h1M44 32h1M55 32h1M85 32h1M90 32h1M99 32h1M108 32h1M118 32h1M22 33h1M25 33h1M38 33h1M94 33h1M97 33h1M108 33h1M112 33h1M9 34h1M14 34h1M20 34h1M34 34h1M91 34h1M94 34h1M96 34h1M0 35h2M13 35h1M25 35h1M91 35h1M116 35h1M118 35h1M24 36h1M63 36h1M110 36h1M114 36h1M116 36h2M22 37h1M26 37h1M33 37h1M40 37h1M55 37h1M76 37h1M89 37h1M10 38h1M27 38h1M65 38h1M67 38h1M72 38h2M83 38h1M86 38h1M91 38h1M7 39h1M25 39h1M35 39h1M37 39h2M63 39h1M82 39h1M102 39h1M117 39h1M34 40h1M40 40h1M46 40h1M117 40h1M39 41h1M46 41h1M65 41h2M10 42h1M25 42h1M45 42h1M67 42h1M104 42h1M116 42h1M6 43h1M17 43h1M19 43h2M42 43h1M68 43h1M94 43h1M100 43h1M118 43h1M4 44h1M66 44h1M74 44h1M6 45h1M33 45h1M65 45h1M68 45h1M116 45h1M6 46h1M14 46h1M20 46h1M64 46h1M78 46h1M4 47h1M15 47h1M20 47h1M37 47h1M45 47h1M51 47h1M81 47h1M85 47h1M90 47h1M112 47h1M114 47h2M19 48h1M35 48h1M37 48h1M56 48h1M90 48h1M113 48h1M9 49h1M38 49h1M42 49h3M74 49h1M102 49h1M14 50h1M35 50h1M83 50h2M87 50h1M112 50h1M37 51h2M49 51h1M67 51h1M84 51h1M103 51h1M36 52h1M45 52h2M51 52h1M54 52h1M66 52h1M82 52h1M107 52h1M110 52h1M8 53h1M12 53h1M22 53h1M39 53h1M61 53h1M79 53h1M92 53h1M94 53h1M106 53h1M109 53h1M111 53h1M38 54h1M46 54h1M59 54h1M64 54h1M87 54h2M90 54h1M94 54h1M102 54h1M111 54h1M66 55h1M78 55h1M85 55h1M88 55h1M92 55h1M111 55h1M20 56h1M22 56h1M38 56h1M91 56h1M111 56h1M84 57h2M37 58h1M48 58h1M100 58h1M45 59h1M65 59h1M67 59h1M86 59h1M88 59h1M111 59h1M4 60h3M37 60h1M63 60h1M76 60h1M79 60h2M84 60h1M89 60h1M6 61h1M47 61h1M79 61h1M36 62h1M49 62h1M57 62h1M104 62h1M4 63h1M40 63h1M74 63h1M4 64h1M48 64h1M66 64h2M79 64h1M98 64h1M17 65h1M5 66h1M38 66h1M62 66h1M64 66h1M77 66h1M85 66h1M65 67h1M89 67h1M15 68h1M36 68h1M86 68h1M62 69h1M74 69h1M79 69h1M86 69h1M94 69h1M101 69h1M104 69h2M36 70h1M56 70h2M97 70h1M11 71h1M23 71h1M64 71h1M66 71h1M14 72h1M25 72h1M90 72h1M103 72h1M11 73h1M66 73h1M93 73h3M101 73h1M17 74h1M72 74h1M74 74h1M94 74h1M96 74h1M33 75h1M95 75h1M106 75h1M57 76h1M93 76h2M103 76h1M48 77h1M96 77h2M99 77h1M67 78h1M70 78h1M98 78h1M4 79h1M62 79h1M67 79h1M97 79h1M99 79h1M69 80h1M75 80h1M38 81h1M43 81h1M65 81h1M70 81h1M69 83h1M72 83h1M3 84h1M38 84h1M69 84h1M39 85h1M42 85h1M41 87h1M67 88h2M5 89h1M30 89h1M43 90h1M67 90h1M39 91h1M44 91h2M66 91h1M12 92h1M38 92h1M42 92h1M42 93h1M43 94h1M61 94h1M3 95h1M64 95h1M4 96h1M60 97h1M18 99h1M43 99h1M46 99h1M4 100h2M7 100h1M63 100h1M66 100h1M2 101h1M6 101h1M29 101h1M50 101h1M2 103h1M42 103h1M15 104h1M27 104h2M42 104h1M50 104h1M3 105h1M6 105h1M34 105h1M44 105h1M65 105h1M4 106h2M27 106h2M34 106h1M0 107h2M4 107h1M22 107h1M44 107h1M66 107h1M44 108h1M58 108h1M3 109h1M44 109h1M62 109h1M16 110h1M45 110h1M26 111h1M28 111h1M46 111h1M61 111h1M44 112h1M58 112h1M62 112h1M11 113h2M17 113h1M62 113h1M4 114h1M8 114h1M15 114h1M17 114h2M34 114h1M46 114h1M15 115h1M31 115h1M33 115h1M41 115h1M43 115h1M63 115h1M69 115h1M25 116h1M34 116h2M40 116h1M43 116h1M63 116h1M16 117h1M39 117h2M44 117h1M66 117h1M44 118h1M55 118h1M64 118h1M50 119h2M59 119h1M4 120h1M28 120h1M68 120h1M5 121h1M26 121h1M28 121h1M39 121h1M41 121h1M47 121h1M49 121h1M6 122h1M71 122h1M3 123h1M37 123h2M40 123h1M62 123h1M69 123h1M74 123h1M16 124h1M47 124h1M60 124h1M70 124h2M5 125h1M14 125h1M32 125h1M38 125h1M44 125h1M49 127h1M70 127h1M1 128h1M6 128h1M19 128h1M28 128h1M49 128h1M51 128h1M66 128h2M2 129h2M19 129h1M40 129h1M66 129h1M3 130h1M17 130h1M32 130h2M67 130h1M74 130h1M39 131h1M74 131h1M26 132h1M64 132h1M69 132h1M71 132h1M74 132h1M0 133h1M9 133h1M17 133h1M48 133h1M50 133h1M62 133h1M67 133h1M70 133h1M1 134h1M4 134h2M15 134h1M27 134h1M33 134h1M47 134h1M0 135h1M4 135h1M18 135h1M28 135h1M45 135h1M56 135h1M71 135h1M110 135h1M61 136h1M65 136h1M111 136h1M27 137h1M51 137h1M63 137h1M66 137h1M68 137h1M5 138h1M13 138h1M59 138h1M106 138h1M112 138h1M114 138h1M1 139h1M5 139h2M47 139h1M49 139h1M62 139h1M70 139h1M3 140h2M26 140h1M59 140h1M65 140h1M1 141h1M33 141h1M55 141h1M67 141h1M105 141h1M107 141h1M110 141h1M113 141h1M48 142h1M62 142h1M114 142h1M0 143h1M2 143h1M28 143h1M34 143h1M110 143h2M1 144h1M5 144h1M51 144h1M70 144h1M116 144h1M1 145h1M3 145h1M10 145h1M41 145h1M44 145h1M66 145h1M68 145h1M115 145h1M46 146h1M54 146h1M118 146h1M1 147h1M17 147h1M28 147h1M45 147h1M47 147h1M107 147h1M119 147h2M1 148h1M4 148h1M48 148h1M106 148h1M0 149h1M2 149h1M6 149h1M15 149h1M24 149h1M42 149h1M45 149h1M50 149h1M1 150h2M14 150h1M28 150h1M32 150h1M41 150h1M57 150h1M3 151h1M46 151h2M57 151h2M67 151h1M107 151h2M111 151h1M114 151h1M20 152h1M114 152h1M119 152h2M0 153h1M43 153h1M56 153h1M114 153h1M45 154h1M48 154h1M50 154h1M55 154h1M103 154h1M107 154h1M109 154h1M116 154h1M5 155h1M29 155h1M46 155h1M61 155h1M103 155h1M102 156h1M29 157h1M49 157h1M57 157h1M43 158h1M20 159h1M43 159h1M57 159h1M99 159h1M104 160h1M112 160h1M115 160h1M2 161h1M22 161h1M98 161h1M100 161h5M109 161h1M58 162h2M93 162h1M98 162h1M102 162h1M45 163h1M48 163h1M56 163h1M45 164h1M58 164h1M70 164h1M100 164h1M31 165h1M42 165h2M48 165h1M103 165h1M42 166h1M46 166h1M57 166h1M98 166h1M47 167h2M57 167h1M93 167h1M104 167h2M113 167h1M115 167h1M58 168h1M92 168h1M96 168h1M98 168h1M105 168h2M113 168h1M7 169h1M40 169h1M97 169h1M47 170h1M89 170h1M47 171h2M86 171h1M90 171h2M58 172h1M89 172h1M101 172h1M88 173h1M90 173h1M100 173h1M102 173h1M110 173h1M5 174h1M55 174h1M43 175h1M48 175h1M54 175h1M87 175h1M100 175h1M84 176h1M105 176h1M104 177h1M96 178h1M83 179h1M88 179h2M101 179h1M118 179h1M92 180h1M55 181h2M83 181h1M118 181h1M47 182h1M91 182h1M101 182h1M56 183h1M83 183h1M91 183h1M43 184h1M98 184h1M55 185h1M100 185h1M107 185h1M55 186h1M110 186h1M92 187h1M85 188h1M112 189h1M83 190h1M97 190h1M81 191h1M46 192h1M98 193h1M105 193h1M108 193h1M82 194h1M79 195h1M110 195h1M70 196h1M78 196h1M104 196h1M76 197h1M98 197h1M69 198h1M102 198h1M56 199h1M77 199h1M79 199h1M74 200h1M82 200h1M43 201h1M65 201h1M67 201h1M72 201h1M86 201h1M96 201h1M67 202h1M75 202h1M88 202h1M95 202h1M97 202h1M103 202h1M112 202h1M115 202h1M72 203h1M77 203h1M113 203h1M65 204h1M76 204h1M104 204h2M110 204h1M70 205h2M107 205h1M114 205h1M117 205h4M71 206h1M88 206h1M90 206h1M92 206h1M99 206h1M108 206h1M115 206h1M72 207h1M86 207h1M107 207h1M115 207h1M66 208h2M86 208h1M93 208h1M44 209h1M58 209h1M76 209h1M83 209h2M90 209h1M110 209h1M115 209h1M76 210h1M82 210h1M84 210h1M90 210h1M108 210h1M110 210h1M51 211h1M76 211h1M80 211h1M86 211h1M112 211h1M119 211h2M56 212h1M69 212h1M75 212h1M82 212h1M86 212h1M88 212h1M110 212h1M114 212h1M119 212h2M56 213h1M58 213h1M71 213h1M79 213h1M88 213h1M108 213h1M113 213h1M119 213h2M53 214h1M59 214h1M74 214h1M83 214h1M86 214h1M75 215h1M79 215h1M53 216h1M56 216h1M88 216h1M112 216h2M118 216h1M116 217h2M119 217h2M51 218h1M56 219h1M73 219h1M75 219h1M81 219h1M86 219h1M117 219h1M54 220h2M57 220h1M68 221h1M75 221h2M78 221h1M111 221h1M52 222h1M73 222h1M77 222h1M114 222h1M38 223h1M68 223h1M77 223h1M86 223h1M67 224h2M118 224h1M53 225h1M74 225h1M79 225h1M87 225h1M115 225h1M36 226h1M52 226h1M84 226h1M113 226h1M43 227h1M57 227h1M118 227h1M32 228h1M41 228h1M63 228h1M67 228h1M89 228h1M106 228h1M109 228h1M118 228h1M45 229h1M65 229h1M99 229h1M101 229h1M109 229h1M113 229h1M117 229h1M73 230h1M77 230h1M92 230h1M94 230h1M98 230h1M105 230h1M109 230h1M32 231h1M60 231h1"/>
<path stroke="#00ffaf" d="M48 0h1M73 0h1M77 0h1M80 0h2M83 0h2M86 0h1M37 1h1M77 1h1M30 2h1M71 2h1M78 2h1M81 2h1M84 2h1M88 2h1M91 2h1M94 2h1M105 2h1M43 3h1M68 3h1M77 3h1M80 3h1M84 3h1M40 4h1M50 4h1M69 4h1M85 4h1M88 4h1M94 4h1M98 4h1M41 5h1M79 5h2M82 5h1M89 5h1M97 5h1M118 5h1M70 6h1M101 6h1M29 7h1M44 7h1M90 7h1M119 7h2M36 8h1M40 8h1M100 8h1M9 9h1M12 9h1M29 9h1M33 9h1M43 9h1M79 9h1M83 9h2M101 9h1M104 9h1M106 9h2M110 9h1M34 10h2M42 10h1M46 10h1M89 10h1M103 10h1M105 10h1M117 10h1M34 11h1M112 11h1M5 12h1M33 12h1M39 12h1M42 12h1M91 12h2M108 12h1M112 12h1M9 13h1M25 13h1M28 13h1M32 13h1M34 13h1M37 13h1M39 13h1M82 13h1M90 13h1M94 13h1M98 13h1M102 13h1M112 13h1M2 14h1M90 14h1M92 14h1M4 15h1M6 15h1M13 15h1M16 15h1M18 15h1M22 15h1M18 16h1M100 16h1M16 22h1M18 22h1M23 22h1M92 22h1M11 23h1M19 23h1M23 23h1M83 23h1M85 23h1M103 23h1M114 23h1M10 24h1M87 24h1M95 24h1M111 24h2M18 25h1M23 25h1M103 25h1M113 25h1M16 26h1M19 26h1M52 26h1M93 26h2M99 26h1M106 26h1M108 26h1M111 26h1M113 26h1M5 27h1M10 27h1M16 27h3M32 27h1M86 27h1M98 27h1M100 27h1M105 27h1M111 27h1M11 28h1M14 28h1M33 28h1M40 28h2M59 28h1M83 28h1M86 28h1M107 28h1M112 28h1M16 29h1M45 29h2M50 29h1M57 29h1M102 29h1M113 29h1M3 30h1M9 30h1M18 30h1M24 30h1M35 30h1M37 30h1M48 30h1M50 30h2M61 30h1M86 30h1M109 30h1M20 31h2M27 31h1M29 31h1M49 31h1M55 31h1M58 31h1M66 31h1M82 31h1M95 31h1M110 31h1M12 32h1M45 32h1M58 32h1M86 32h1M105 32h1M117 32h1M3 33h1M26 33h1M33 33h1M39 33h2M46 33h1M7 34h1M18 34h1M24 34h1M38 34h1M60 34h1M74 34h1M88 34h1M117 34h1M8 35h1M64 35h1M87 35h1M112 35h1M117 35h1M29 36h1M62 36h1M65 36h1M81 36h1M1 37h1M9 37h1M46 37h1M64 37h2M74 37h1M77 37h1M81 37h1M84 37h1M108 37h1M2 38h1M21 38h1M70 38h1M87 38h1M116 38h1M119 38h2M2 39h1M4 39h2M39 39h1M44 39h1M115 39h2M2 40h1M7 40h1M25 40h1M37 40h1M112 40h1M67 41h1M77 41h1M89 41h1M113 41h1M2 42h2M6 42h1M40 42h1M51 42h1M69 42h2M74 42h1M89 42h1M9 43h1M66 43h1M81 43h1M83 44h1M91 44h1M118 44h3M36 45h2M42 45h1M67 45h1M76 45h1M84 45h1M102 45h1M66 46h1M118 46h1M1 47h1M5 47h1M18 47h1M38 47h1M41 47h1M63 47h2M67 47h1M88 47h1M3 48h1M26 48h1M83 48h1M118 48h1M18 49h1M45 49h1M51 49h1M67 49h1M87 49h1M95 49h1M24 50h1M42 50h1M68 50h1M76 50h1M82 50h1M88 50h1M113 50h1M70 51h1M77 51h1M86 51h1M112 51h1M19 52h1M23 52h1M34 52h1M37 52h1M40 52h1M50 52h1M61 52h1M64 52h1M72 52h1M76 52h2M90 52h2M97 52h1M102 52h1M21 53h1M44 53h1M93 53h1M65 54h1M91 54h1M95 54h1M41 55h2M46 55h2M64 55h1M86 55h1M91 55h1M19 56h1M33 56h2M42 56h1M64 56h1M67 56h1M24 57h1M48 57h1M69 57h1M83 57h1M87 57h1M94 57h1M23 58h1M38 58h1M45 58h1M65 58h1M76 58h1M82 58h1M93 58h1M109 58h1M16 59h1M26 59h1M39 59h1M110 60h1M18 61h1M50 61h1M86 61h1M88 61h1M104 61h1M65 62h1M76 62h1M80 62h1M88 62h1M95 62h1M36 63h1M65 63h1M82 63h1M96 63h1M108 63h1M6 64h1M85 64h1M33 65h1M72 65h1M85 65h1M86 66h1M88 66h1M67 67h1M96 67h1M101 67h1M43 68h1M68 68h1M75 68h2M79 68h1M88 68h1M22 69h1M25 69h1M38 69h1M48 69h1M70 69h1M87 69h1M93 69h1M4 70h1M6 70h1M14 70h1M25 70h1M72 70h1M79 70h1M101 70h1M6 71h1M14 71h1M24 71h1M90 71h1M13 72h1M46 72h1M72 72h1M95 72h1M13 73h1M47 73h1M63 73h1M102 73h1M104 73h1M26 74h1M91 74h1M93 74h1M97 74h1M105 74h1M107 74h1M90 75h1M6 76h1M46 76h1M74 76h1M96 76h2M36 77h1M94 77h2M3 78h1M5 78h1M63 78h1M69 78h1M17 79h1M73 79h2M98 79h1M3 80h1M17 80h1M31 80h1M33 80h1M40 80h1M92 80h1M95 80h1M5 81h1M46 81h1M73 81h1M97 81h2M37 83h1M40 83h1M70 83h1M26 84h1M68 84h1M4 85h1M17 85h1M0 86h1M38 86h1M67 86h1M45 87h1M68 87h1M40 88h2M38 90h1M16 91h1M5 92h1M1 93h1M38 93h1M2 94h3M15 94h1M17 94h1M66 94h1M41 95h1M3 96h1M5 96h1M17 96h1M41 96h1M3 97h1M26 97h1M41 97h1M3 98h1M14 98h1M34 98h1M15 99h1M28 99h1M39 99h1M27 100h1M41 101h1M44 101h1M67 101h1M3 102h1M18 102h1M66 102h1M27 103h1M65 103h1M25 104h1M29 104h1M31 104h1M5 105h1M66 106h1M2 107h2M14 109h1M25 109h1M3 110h1M42 110h1M64 110h1M66 110h1M2 111h1M4 111h1M25 111h1M34 111h1M42 111h2M48 111h2M69 111h1M27 112h1M45 112h1M64 112h1M4 113h1M16 113h1M26 113h1M32 113h1M35 113h1M64 113h1M66 113h1M43 114h1M62 114h1M25 115h1M34 115h1M3 116h1M28 116h1M5 117h2M24 117h1M41 117h2M62 117h1M64 117h1M74 117h1M37 118h1M40 118h1M66 118h1M39 119h1M63 119h2M69 119h1M12 120h1M40 120h1M61 120h2M66 120h1M72 120h1M72 121h3M5 122h1M33 122h1M48 122h1M50 122h1M73 122h2M5 123h1M18 123h1M43 123h1M63 123h1M39 124h1M41 124h1M63 124h2M66 124h1M72 124h1M75 124h1M1 126h1M3 126h1M17 126h1M28 126h1M33 126h1M69 126h3M72 127h1M3 128h1M16 128h1M38 128h1M62 128h1M69 128h1M4 129h1M17 129h1M36 129h1M62 129h1M64 129h1M76 129h1M2 130h1M11 130h1M23 130h1M15 131h1M17 131h2M27 131h1M31 131h1M33 131h1M71 131h1M73 131h1M17 132h1M74 133h1M113 133h1M55 134h1M8 135h1M68 135h2M1 136h2M6 136h1M69 136h1M2 137h1M42 137h1M69 137h1M2 138h1M26 138h1M28 138h1M57 138h1M2 139h1M26 139h1M48 139h1M51 139h1M55 139h1M59 139h1M71 139h1M111 139h1M114 139h1M119 139h2M19 140h1M28 140h1M50 140h1M68 140h1M112 140h2M62 141h1M14 142h1M49 142h1M57 142h1M67 142h1M70 142h1M108 142h1M113 142h1M117 142h1M42 143h1M61 143h1M70 143h1M109 143h1M112 143h1M0 144h1M44 144h2M107 144h1M110 144h1M117 144h1M25 145h1M29 145h1M63 145h1M72 145h1M116 145h1M42 146h1M59 146h1M71 146h1M105 146h1M108 146h1M114 146h1M117 147h1M3 148h1M29 148h1M41 148h1M64 148h1M66 148h1M70 148h1M114 148h2M1 149h1M65 149h1M72 149h1M106 149h1M114 149h1M62 150h1M33 151h1M59 151h1M69 151h1M72 151h1M117 151h1M119 151h2M32 152h1M60 152h1M70 152h1M103 152h1M108 152h1M115 152h1M68 153h1M103 153h1M118 153h1M101 154h2M114 154h1M0 155h1M6 155h1M43 155h1M60 155h1M104 155h1M29 156h1M46 156h1M59 156h1M99 156h1M106 156h1M31 157h1M104 157h1M111 157h1M44 158h1M48 158h1M96 158h1M103 158h1M48 159h1M102 159h1M108 159h1M17 160h1M33 160h1M48 160h1M56 160h2M60 160h1M97 160h1M59 161h2M94 161h1M108 161h1M26 162h1M46 162h1M97 162h1M111 162h1M113 162h1M92 164h1M110 164h1M5 165h1M46 165h1M57 165h1M100 165h1M111 165h1M118 165h1M85 166h1M95 166h1M99 166h1M0 167h1M42 167h2M96 167h1M101 167h1M85 168h1M88 169h1M92 169h1M94 169h1M58 170h1M87 170h1M98 170h1M101 170h1M104 170h1M43 171h3M94 171h1M88 172h1M92 173h1M25 174h1M59 174h1M83 174h1M85 174h1M92 174h1M105 174h1M114 174h1M55 175h1M57 176h1M57 177h1M86 178h1M89 178h1M84 179h1M91 179h1M96 179h1M94 180h1M47 181h1M112 181h1M56 182h1M113 182h1M89 183h1M96 183h1M82 184h1M94 185h1M57 188h1M79 189h1M89 189h1M110 189h1M91 191h1M115 191h1M79 192h1M79 193h1M75 194h1M107 194h1M55 195h1M57 195h1M99 195h1M102 195h2M55 196h1M74 196h1M88 196h1M70 197h1M93 197h1M97 197h1M103 197h1M64 198h1M75 198h1M79 198h1M97 198h1M103 198h1M113 198h1M66 199h2M70 199h1M72 199h1M83 199h1M95 199h1M60 200h1M75 200h1M104 200h2M109 200h1M62 201h1M75 201h1M84 201h1M99 201h1M72 202h1M77 202h1M81 202h1M87 202h1M98 202h1M108 202h1M114 202h1M56 203h1M80 203h1M98 203h1M103 203h1M72 204h1M79 204h1M84 204h1M91 204h1M108 204h1M118 204h1M59 205h1M61 205h1M74 205h1M88 205h1M112 205h1M53 206h1M56 206h1M60 206h1M73 206h1M81 206h1M96 206h1M68 207h1M75 207h1M84 207h1M103 207h1M106 207h1M116 207h1M119 207h2M60 208h1M73 208h2M77 208h1M85 208h1M88 208h1M75 209h1M87 209h1M94 209h1M108 209h1M112 209h1M57 210h1M74 210h1M85 210h2M88 210h1M107 210h1M116 210h1M53 211h1M60 211h1M81 211h1M87 211h1M92 211h1M79 212h1M115 212h1M84 213h1M90 213h1M106 213h2M115 213h1M75 214h2M84 214h1M114 214h2M109 215h2M113 215h1M115 215h1M76 216h1M86 216h1M66 217h1M72 217h1M74 217h1M76 217h1M82 217h1M118 217h1M54 218h1M56 218h1M68 218h1M84 218h1M112 218h1M114 218h1M55 219h1M77 219h1M114 219h1M56 220h1M72 220h1M75 220h1M78 220h1M82 220h1M85 220h1M118 220h1M42 221h1M73 221h1M82 221h1M55 222h1M82 222h1M112 222h1M118 222h1M54 223h1M67 223h1M78 223h1M83 223h1M48 224h1M55 224h1M81 224h1M86 224h1M65 225h1M77 225h1M81 225h1M84 225h1M59 226h1M70 226h1M108 226h1M110 226h2M114 226h1M38 227h1M81 227h1M86 227h2M90 227h1M107 227h1M112 227h1M114 227h2M39 228h1M81 228h2M85 228h1M95 228h1M100 228h1M108 228h1M111 228h1M116 228h1M42 229h1M64 229h1M67 229h1M69 229h1M93 229h1M102 229h1M115 229h1M67 230h1M90 230h1M93 230h1M96 230h1M101 230h1M45 233h1M40 234h1M46 234h1"/>
<path stroke="#00ff8d" d="M70 0h1M78 0h1M82 0h1M91 0h1M103 0h1M43 1h2M63 1h2M74 1h1M90 1h1M47 2h1M62 2h1M68 2h1M73 2h1M83 2h1M89 2h1M97 2h1M119 2h2M40 3h1M65 3h1M67 3h1M73 3h2M76 3h1M83 3h1M44 4h2M47 4h1M74 4h1M77 4h1M39 5h2M42 5h1M46 5h2M49 5h1M72 5h1M76 5h1M78 5h1M32 6h1M39 6h2M43 6h1M69 6h1M73 6h1M37 7h1M40 7h1M47 7h1M72 7h1M79 7h1M41 8h1M75 8h1M79 8h1M82 8h1M102 8h1M110 8h1M118 8h1M40 9h1M45 9h1M102 9h1M105 9h1M118 9h1M30 10h1M80 10h1M91 10h1M99 10h1M101 10h1M116 10h1M26 11h1M50 11h1M81 11h1M85 11h1M87 11h1M96 11h1M98 11h1M101 11h2M119 11h2M16 12h1M30 12h1M38 12h1M88 12h1M101 12h1M118 12h1M12 13h1M26 13h1M30 13h1M40 13h1M46 13h1M88 13h1M97 13h1M105 13h1M111 13h1M116 13h1M3 14h1M12 14h1M14 14h1M24 14h1M31 14h1M33 14h1M84 14h1M97 14h1M104 14h2M10 15h1M19 15h1M24 15h1M107 20h1M19 21h1M19 22h3M98 22h1M103 22h1M107 22h1M15 23h1M98 23h1M107 23h1M112 23h1M7 24h1M15 24h1M21 24h1M51 24h1M53 24h1M101 24h2M15 25h2M90 25h1M97 25h1M8 26h1M34 26h1M83 26h1M95 26h1M114 26h2M19 27h2M24 27h1M33 27h1M36 27h1M39 27h2M88 27h1M90 27h1M92 27h1M99 27h1M101 27h1M106 27h1M109 27h1M112 27h1M18 28h1M23 28h1M30 28h1M34 28h1M44 28h1M53 28h1M85 28h1M90 28h1M95 28h1M105 28h1M109 28h1M113 28h2M4 29h1M6 29h1M13 29h1M15 29h1M18 29h1M34 29h1M37 29h1M39 29h2M52 29h1M54 29h1M73 29h1M88 29h1M90 29h2M93 29h1M119 29h2M16 30h1M31 30h1M45 30h2M53 30h1M89 30h1M92 30h1M94 30h1M98 30h1M101 30h1M4 31h1M36 31h1M41 31h1M45 31h2M57 31h1M61 31h1M83 31h1M90 31h2M106 31h2M115 31h1M117 31h1M23 32h1M25 32h1M27 32h1M56 32h1M67 32h1M82 32h1M116 32h1M7 33h1M42 33h1M45 33h1M60 33h1M71 33h1M91 33h1M114 33h1M1 34h1M3 34h1M16 34h1M39 34h1M41 34h1M56 34h1M81 34h1M111 34h1M29 35h1M38 35h1M42 35h1M62 35h2M81 35h1M86 35h1M119 35h2M26 36h1M39 36h1M82 36h2M95 36h1M0 37h1M3 37h1M20 37h1M57 37h1M116 37h1M7 38h1M24 38h1M45 38h1M63 38h1M66 38h1M81 38h2M95 38h1M117 38h1M3 39h1M62 39h1M68 39h1M76 39h1M5 40h1M8 40h1M26 40h1M35 40h2M45 40h1M76 40h1M81 40h1M6 41h1M37 41h1M73 41h1M112 41h1M65 42h1M77 42h1M81 42h1M88 42h1M118 42h1M69 43h1M75 43h2M38 44h1M44 44h1M51 44h1M69 44h3M84 44h1M116 44h1M20 45h1M38 45h1M69 45h2M83 45h1M1 46h1M67 46h1M82 46h1M12 47h1M35 47h1M39 47h1M44 47h1M47 47h1M62 47h1M76 47h1M91 47h1M93 47h1M100 47h1M111 47h1M38 48h1M65 48h1M67 48h1M79 48h1M82 48h1M102 48h1M114 48h2M15 49h1M91 49h1M104 49h1M112 49h1M117 49h1M40 50h1M61 50h1M64 50h1M69 50h1M77 50h1M99 50h1M101 50h1M111 50h1M34 51h1M47 51h1M65 51h1M69 51h1M78 51h1M106 51h1M0 52h1M84 52h1M111 52h1M18 53h1M47 53h1M62 53h1M66 53h1M76 53h1M82 53h2M107 53h1M66 54h1M18 55h1M33 55h1M48 55h1M65 55h1M69 55h1M73 55h1M80 55h1M98 55h1M113 55h1M2 56h1M6 56h1M47 56h1M69 56h1M77 56h1M101 56h1M105 56h1M110 56h1M4 57h1M64 57h1M82 57h1M97 57h1M111 57h1M35 58h1M64 58h1M84 58h1M88 58h1M66 59h1M84 59h1M87 59h1M104 59h1M110 59h1M36 60h1M65 60h1M69 60h1M74 60h1M77 60h1M82 60h1M5 61h1M37 61h1M49 61h1M66 61h1M69 61h1M77 61h1M83 61h1M6 62h1M66 62h1M69 62h1M78 62h1M84 62h1M89 62h2M77 63h1M85 63h2M91 63h1M109 63h1M3 64h1M26 64h1M71 64h1M73 64h1M91 64h1M37 65h1M78 65h1M87 65h2M96 65h1M108 65h1M3 66h1M69 66h1M76 66h1M81 66h1M83 66h1M87 66h1M107 66h1M33 67h1M64 67h1M76 67h1M79 67h1M81 67h1M66 68h1M72 68h1M74 68h1M84 68h1M87 68h1M5 69h1M69 69h1M72 69h1M76 69h1M78 69h1M88 69h1M102 69h1M107 69h2M5 70h1M81 70h1M100 70h1M102 70h1M21 71h1M36 71h2M67 71h1M102 71h1M81 72h1M104 72h1M106 72h2M64 73h1M73 73h2M14 74h1M3 75h1M65 75h1M74 75h1M91 75h1M94 75h1M96 75h1M105 75h1M3 76h1M5 76h1M26 76h1M66 76h1M71 76h1M100 76h1M107 76h1M61 77h1M66 77h1M72 77h1M75 77h1M103 77h1M38 78h1M68 78h1M103 78h1M76 79h1M94 79h3M100 79h1M101 80h1M0 81h1M30 81h1M69 81h1M95 81h1M0 84h1M2 85h1M37 85h1M63 85h1M69 85h1M3 86h1M42 89h1M65 89h1M4 91h1M63 91h1M68 92h1M29 93h1M39 93h1M67 93h1M40 94h1M42 94h1M67 94h1M33 95h1M39 96h1M46 96h1M40 97h1M67 97h1M6 98h1M41 98h1M67 98h1M2 99h1M40 99h1M44 99h1M67 99h1M26 100h1M43 100h1M68 100h1M1 101h1M47 101h1M0 102h1M0 103h2M33 103h1M65 104h1M1 105h1M28 105h1M43 105h1M64 105h1M0 106h1M15 106h2M50 106h1M15 107h1M65 107h1M0 108h1M3 108h2M67 108h1M74 108h1M1 109h1M45 109h1M17 110h1M44 110h1M49 110h1M3 112h1M26 112h1M39 112h2M46 112h1M6 113h1M27 113h1M29 113h1M44 113h1M28 114h1M35 114h1M69 114h1M3 115h1M27 115h1M62 115h1M66 115h1M44 116h1M48 116h1M51 116h1M55 116h1M64 116h1M69 116h1M3 117h1M17 117h2M43 117h1M65 117h1M70 117h1M41 118h1M60 118h2M74 118h1M14 119h1M75 119h1M6 120h1M69 120h1M3 121h1M31 121h1M68 121h1M17 122h1M31 122h1M46 122h1M61 122h1M65 122h1M75 122h1M16 123h2M31 123h1M50 123h1M64 123h1M70 123h2M28 124h2M69 124h1M27 125h1M2 126h1M13 127h1M15 127h1M40 127h1M66 127h1M69 127h1M71 127h1M73 127h1M33 128h1M64 128h1M70 128h1M72 128h2M1 129h1M18 129h1M75 129h1M75 130h1M2 131h1M70 131h1M77 131h1M1 132h1M4 132h1M27 132h2M63 132h1M65 132h1M72 132h1M110 132h1M51 133h1M68 133h1M75 133h1M0 134h1M48 134h1M68 134h1M72 134h1M74 134h1M46 135h1M28 136h1M72 136h2M109 136h1M28 137h2M72 137h1M113 137h1M1 138h1M18 138h1M49 138h1M63 138h2M33 139h1M66 139h1M72 139h1M112 139h1M115 139h1M5 140h1M27 140h1M64 140h1M111 140h1M114 140h1M32 141h1M66 141h1M71 141h1M108 141h2M115 141h1M50 142h1M56 142h1M116 142h1M1 143h1M11 143h1M45 143h2M54 143h1M107 143h1M116 143h1M2 144h1M60 144h1M109 144h1M111 144h1M115 144h1M45 145h2M64 145h1M67 145h1M107 145h1M110 145h1M112 145h1M117 145h1M1 146h1M3 146h1M41 146h1M68 146h1M70 146h1M116 146h1M119 146h2M0 147h1M60 147h1M70 147h1M72 147h1M103 147h1M118 147h1M60 148h2M69 148h1M108 148h1M117 148h1M3 149h1M29 149h1M33 149h1M55 149h1M61 149h1M118 149h1M29 150h1M111 150h1M2 151h1M29 151h1M42 151h1M49 151h1M100 151h1M0 152h1M4 152h1M71 152h1M1 153h1M33 153h1M39 153h1M101 153h2M105 153h1M119 153h2M28 154h1M32 154h1M44 154h1M47 154h1M57 154h1M60 154h1M72 154h1M105 154h1M48 155h1M65 155h1M68 155h1M101 155h1M109 155h1M33 156h1M101 156h1M95 157h1M51 158h1M92 158h1M95 158h1M100 158h1M46 159h1M55 159h1M58 159h1M60 159h1M96 159h1M49 160h1M29 161h1M58 161h1M97 161h1M107 161h1M114 161h1M92 162h1M94 163h1M93 164h2M97 164h1M92 165h1M48 166h1M98 167h1M91 168h1M58 169h1M84 169h2M91 169h1M51 170h1M59 171h1M99 171h1M92 172h1M94 172h1M82 173h1M84 173h1M58 175h1M88 175h1M91 175h1M45 176h1M89 177h1M84 178h1M88 178h1M95 179h1M82 180h1M84 180h1M104 181h1M96 182h1M81 183h1M93 183h1M56 184h1M57 185h1M57 187h1M81 187h1M81 189h1M89 191h1M57 192h1M71 192h1M104 192h1M56 193h1M69 194h1M79 194h1M114 194h1M88 195h1M100 195h2M80 196h1M87 196h1M102 196h1M75 197h1M89 197h1M98 198h1M65 199h1M74 199h1M100 199h1M78 200h1M98 200h1M56 201h1M91 201h1M94 201h1M103 201h1M112 201h1M118 201h1M55 202h2M64 202h1M66 202h1M80 202h1M63 203h1M70 203h1M74 203h2M89 203h1M104 203h1M108 203h1M111 203h1M54 204h2M68 204h1M73 204h2M60 205h1M62 205h1M65 205h1M73 205h1M77 205h1M97 205h1M110 205h1M70 206h1M94 206h1M103 206h1M93 207h1M105 207h1M54 208h2M58 208h1M75 208h1M83 208h1M87 208h1M91 208h2M105 208h1M82 209h1M89 209h1M106 209h2M111 209h1M114 209h1M59 210h1M71 210h1M89 210h1M106 210h1M119 210h2M71 211h2M82 211h1M106 211h1M108 211h1M58 212h1M108 212h1M81 213h1M86 213h1M111 213h1M52 214h1M55 214h1M79 214h1M87 214h1M105 214h1M108 214h1M113 214h1M67 215h1M82 215h1M111 215h1M116 215h1M67 216h1M75 216h1M83 216h1M110 216h1M114 216h1M116 216h1M81 217h1M83 217h1M111 217h1M114 217h1M81 218h1M110 218h1M119 218h2M57 219h1M84 219h1M49 220h1M76 220h1M114 220h1M116 220h1M119 220h2M55 221h1M72 221h1M77 221h1M85 221h1M113 221h1M119 221h2M57 222h2M78 222h1M83 222h1M87 222h1M73 223h1M84 223h2M87 223h1M112 223h1M114 223h2M118 223h1M112 224h1M114 224h1M82 225h1M85 225h1M106 225h1M114 225h1M118 225h1M34 226h2M74 226h1M79 226h1M47 227h1M65 227h1M85 227h1M116 227h1M119 227h2M77 228h1M119 228h2M74 229h1M86 229h2M89 229h1M97 229h1M104 229h1M84 230h1M95 230h1M97 230h1M103 230h1M47 231h1M45 232h1M41 233h1M39 234h1"/>
<path stroke="#00ff73" d="M43 0h1M65 0h2M74 0h2M41 1h1M47 1h2M62 1h1M66 1h2M70 1h1M73 1h1M75 1h1M81 1h1M87 1h1M89 1h1M113 1h1M46 2h1M64 2h2M69 2h1M79 2h1M86 2h1M100 2h1M50 3h1M61 3h1M86 3h1M88 3h2M115 3h1M42 4h2M49 4h1M65 4h1M68 4h1M70 4h1M75 4h1M79 4h1M82 4h1M87 4h1M97 4h1M44 5h1M68 5h1M86 5h1M91 5h1M102 5h1M45 6h1M48 6h2M67 6h1M79 6h1M82 6h2M34 7h1M38 7h1M43 7h1M109 7h1M113 7h2M44 8h1M88 8h1M91 8h1M75 9h1M81 9h1M119 9h2M33 10h1M36 10h1M38 10h1M45 10h1M49 10h1M85 10h1M87 10h1M37 11h2M41 11h1M43 11h1M45 11h1M82 11h1M100 11h1M43 12h2M46 12h1M48 12h1M85 12h1M98 12h1M110 12h1M117 12h1M29 13h1M41 13h1M44 13h2M47 13h1M85 13h1M89 13h1M91 13h2M100 13h1M110 13h1M113 13h1M119 13h2M15 14h1M18 14h1M26 14h1M37 14h1M41 14h1M95 14h1M100 14h1M110 14h1M9 15h1M17 15h1M21 15h1M32 15h2M90 15h1M108 15h1M6 16h1M21 16h1M32 16h1M19 17h1M23 17h1M22 18h2M23 19h1M1 20h1M93 20h1M16 21h1M36 21h1M105 21h1M17 22h1M24 22h1M32 22h1M83 22h1M97 22h1M101 22h1M104 22h1M8 23h1M12 23h1M22 23h1M28 23h1M49 23h1M87 23h1M99 23h1M104 23h1M1 24h1M4 24h1M12 24h2M17 24h1M19 24h1M22 24h1M85 24h2M90 24h3M94 24h1M107 24h1M109 24h1M114 24h1M49 25h1M92 25h3M102 25h1M104 25h1M107 25h1M112 25h1M114 25h1M22 26h1M27 26h1M36 26h1M46 26h1M51 26h1M58 26h1M79 26h1M88 26h1M97 26h1M1 27h1M12 27h1M26 27h1M41 27h1M43 27h1M53 27h1M81 27h1M87 27h1M91 27h1M95 27h2M110 27h1M115 27h1M0 28h1M2 28h1M15 28h1M20 28h1M22 28h1M24 28h1M29 28h1M35 28h1M48 28h1M51 28h1M54 28h2M62 28h1M96 28h1M102 28h1M110 28h1M117 28h2M9 29h1M30 29h1M47 29h1M55 29h1M59 29h1M82 29h1M89 29h1M106 29h1M111 29h1M13 30h1M29 30h1M44 30h1M81 30h1M88 30h1M3 31h1M8 31h2M13 31h1M24 31h1M39 31h1M62 31h1M88 31h1M97 31h1M109 31h1M118 31h1M2 32h2M6 32h1M10 32h1M13 32h1M35 32h1M37 32h1M48 32h1M50 32h2M94 32h1M98 32h1M5 33h1M44 33h1M61 33h1M66 33h1M89 33h1M92 33h1M111 33h1M115 33h1M117 33h1M5 34h1M8 34h1M13 34h1M29 34h1M53 34h1M64 34h1M68 34h1M37 35h1M70 35h1M72 35h1M114 35h1M66 36h1M75 36h1M108 36h1M2 37h1M6 37h1M34 37h1M63 37h1M66 37h1M71 37h1M1 38h1M4 38h1M71 38h1M74 38h1M118 38h1M50 39h1M64 39h1M67 39h1M89 39h1M110 39h1M119 39h2M4 40h1M13 40h1M67 40h1M69 40h1M72 40h1M8 41h1M63 41h1M68 41h1M70 41h1M4 42h1M49 42h1M68 42h1M115 42h1M117 42h1M0 43h1M2 43h1M37 43h1M70 43h1M78 43h1M0 44h1M76 44h1M82 44h1M1 45h1M39 45h1M47 45h1M72 45h1M74 45h1M65 46h1M68 46h1M70 46h1M72 46h1M74 46h1M81 46h1M119 46h2M36 47h1M42 47h1M69 47h2M72 47h1M77 47h1M113 47h1M117 47h1M4 48h2M68 48h1M76 48h1M116 48h1M63 49h1M79 49h1M81 49h1M89 49h1M48 50h1M78 50h1M98 50h1M102 50h1M115 50h1M75 51h1M110 51h1M114 51h1M6 52h1M21 52h1M70 52h1M92 52h1M108 52h1M6 53h1M20 53h1M35 53h1M70 53h1M87 53h1M100 53h1M104 53h1M49 54h2M61 54h1M67 54h1M78 54h1M110 54h1M102 55h1M5 56h1M72 56h1M78 56h1M84 56h1M90 56h1M112 56h1M1 57h1M23 57h1M37 57h1M50 57h1M74 57h1M76 57h1M79 57h1M112 57h2M22 58h1M34 58h1M47 58h1M83 58h1M110 58h1M4 59h2M69 59h2M78 59h1M80 59h1M82 59h1M1 60h1M38 61h1M67 62h1M71 62h1M74 62h1M77 62h1M79 62h1M82 62h1M111 62h1M25 63h1M76 63h1M78 63h1M68 64h1M80 64h1M3 65h1M6 65h1M67 65h1M77 65h1M25 66h1M70 66h1M72 66h1M78 66h1M84 66h1M108 66h1M5 67h1M7 67h1M73 67h1M108 67h1M63 68h1M70 68h1M93 68h1M75 69h1M89 69h1M68 70h2M4 71h1M84 71h1M87 71h1M50 72h1M102 72h1M4 73h1M68 73h1M70 73h1M100 73h1M3 74h1M66 74h1M71 74h1M73 74h1M90 74h1M66 75h1M71 75h1M73 75h1M72 76h1M79 76h1M65 77h1M100 77h3M2 78h1M72 78h1M74 78h1M76 78h1M97 78h1M100 78h2M36 79h1M40 79h1M75 79h1M90 79h1M102 79h1M70 80h1M2 81h1M71 81h2M74 81h1M96 81h1M69 82h1M3 83h1M1 85h1M1 86h1M2 87h1M67 87h1M69 87h1M3 88h1M37 88h1M69 88h1M0 89h2M1 90h1M4 90h2M58 92h1M3 93h1M0 94h1M2 95h1M40 95h1M68 95h1M18 96h1M42 96h1M66 96h1M68 96h1M42 97h1M1 98h1M45 99h1M65 99h1M2 100h1M67 100h1M40 101h1M42 101h1M2 102h1M29 102h1M48 102h1M65 102h1M28 103h2M40 103h1M0 104h1M41 105h1M40 107h1M2 108h1M28 108h1M41 108h2M2 109h1M29 109h1M41 109h1M73 109h1M43 110h1M68 110h1M70 110h1M72 110h1M66 111h1M5 112h1M42 112h2M69 112h1M40 113h3M69 113h1M3 114h1M16 114h1M27 114h1M65 114h1M68 114h1M71 114h1M0 115h1M17 115h1M29 115h1M46 115h1M68 115h1M39 116h1M41 116h2M70 116h1M25 117h2M35 117h1M72 117h1M63 118h1M70 118h1M37 119h1M65 119h1M70 119h1M38 120h1M71 120h1M74 120h1M2 121h1M18 121h1M66 121h1M70 121h1M69 122h1M76 122h1M1 123h2M32 123h1M65 123h1M1 124h1M3 124h1M17 125h1M28 125h1M63 125h1M6 126h1M31 127h1M67 127h1M74 128h1M112 128h1M27 129h1M32 129h1M77 129h1M112 129h1M0 130h1M28 130h1M43 130h1M112 130h1M0 131h1M75 131h1M110 131h1M29 132h1M32 132h1M68 132h1M2 133h1M29 133h1M72 133h1M76 133h1M42 134h1M69 134h1M73 134h1M1 135h2M29 135h1M34 135h1M66 135h1M70 135h1M73 135h1M66 136h1M112 136h1M3 137h1M33 137h1M48 137h1M67 138h1M73 138h1M117 138h1M34 139h1M46 139h1M61 139h1M67 139h1M69 139h1M109 139h1M113 139h1M0 140h2M17 140h1M67 140h1M70 140h1M108 140h1M110 140h1M49 141h1M64 141h1M68 141h1M72 141h1M114 141h1M71 142h1M111 142h1M115 142h1M118 143h1M27 144h1M56 144h1M108 144h1M2 145h1M32 145h1M69 145h1M71 145h1M109 145h1M0 146h1M29 146h1M48 146h1M61 146h1M67 146h1M74 146h1M103 146h1M67 147h1M105 147h1M20 148h1M46 148h1M109 148h1M116 148h1M25 149h1M51 149h1M68 149h1M73 149h1M105 149h1M110 149h1M0 150h1M33 150h1M61 150h1M67 150h1M69 150h1M74 150h1M104 150h1M108 150h2M117 150h1M119 150h2M62 151h1M105 151h1M116 151h1M117 152h1M60 153h2M70 153h1M0 154h1M33 154h1M61 154h1M70 154h2M100 154h1M98 155h1M110 155h1M112 155h1M0 156h1M32 156h1M110 156h1M45 157h2M48 157h1M60 157h1M99 157h1M108 157h1M42 158h1M70 158h1M24 159h1M47 159h1M71 159h1M45 160h1M95 160h1M99 160h1M57 161h1M66 161h1M70 161h1M69 162h1M90 162h1M47 163h1M55 163h1M44 164h1M59 164h1M64 164h2M104 164h1M72 165h1M95 165h2M0 166h1M56 166h1M93 166h2M85 167h1M90 167h1M102 168h1M104 168h1M89 169h2M86 170h1M88 171h2M83 172h1M83 173h1M91 173h1M89 175h1M91 176h1M98 177h1M83 178h1M82 179h1M45 180h1M58 180h1M95 180h1M82 182h1M114 182h1M82 183h1M81 184h1M81 185h1M81 186h1M111 186h1M91 187h1M96 187h1M58 189h1M113 190h1M118 190h1M70 191h1M102 191h1M70 192h1M76 192h1M97 192h1M65 193h1M81 193h1M100 193h1M56 194h1M70 194h2M74 194h1M96 195h2M76 196h1M79 196h1M101 196h1M110 196h1M79 197h2M99 197h1M110 197h2M65 198h1M71 198h1M74 198h1M77 198h1M80 198h1M101 198h1M111 198h1M73 199h1M75 199h1M96 199h1M98 199h1M101 199h2M65 200h1M67 200h1M72 200h2M76 200h1M96 200h1M55 201h1M68 201h1M76 201h1M97 201h1M104 201h1M65 202h1M70 202h1M89 202h1M93 202h1M102 202h1M119 202h2M73 203h1M92 203h1M96 203h1M100 203h1M105 203h1M58 204h1M71 204h1M93 204h1M97 204h1M99 204h1M106 204h1M113 204h1M115 204h1M78 205h1M80 205h1M82 205h1M103 205h1M54 206h2M58 206h1M100 206h2M104 206h1M110 206h1M55 207h1M63 207h1M65 207h1M87 207h1M117 207h1M56 208h1M65 208h1M80 208h1M89 208h1M94 208h1M109 208h1M55 209h3M60 209h2M77 209h1M79 209h1M88 209h1M92 209h1M103 209h2M58 210h1M73 210h1M105 210h1M56 211h1M58 211h1M77 211h1M79 211h1M90 211h1M110 211h1M81 212h1M83 212h1M90 212h2M54 213h1M77 213h1M83 213h1M109 213h2M78 214h1M111 214h1M57 215h1M78 215h1M85 215h1M87 215h1M90 215h1M79 216h1M109 216h1M119 216h2M42 217h1M44 217h1M55 217h2M77 217h2M107 217h1M109 217h1M116 218h2M113 219h1M115 219h1M84 220h1M87 220h1M112 220h2M58 221h1M71 221h1M83 221h1M56 222h1M80 222h2M82 223h1M116 223h1M78 224h1M84 224h2M111 224h1M119 224h2M80 225h1M83 225h1M113 225h1M116 225h1M43 226h1M88 226h1M117 226h1M119 226h2M45 227h1M103 227h1M106 227h1M42 228h1M45 228h1M74 228h1M91 228h1M112 228h1M39 229h1M46 229h2M68 229h1M71 229h1M92 229h1M98 229h1M106 229h2M110 229h1M116 229h1M47 230h1M65 230h1M85 230h1M88 230h1M102 230h1M39 231h1M32 232h1M39 232h1M47 232h1M39 233h1M46 233h1M42 234h1"/>
<path stroke="#00ff59" d="M47 0h1M61 0h2M76 1h1M82 1h1M43 2h2M61 2h1M63 3h1M79 3h1M46 4h1M48 4h1M63 4h1M66 4h2M72 4h2M80 4h1M84 4h1M74 5h1M94 5h1M101 5h1M44 6h1M68 6h1M72 6h1M75 6h1M81 6h1M30 7h1M42 7h1M45 7h1M78 7h1M80 7h1M91 7h1M42 8h2M46 8h1M69 8h1M80 8h1M35 9h1M47 9h1M76 9h1M80 9h1M82 9h1M37 10h1M43 10h1M119 10h2M40 11h1M47 11h1M79 11h1M4 12h1M29 12h1M37 12h1M47 12h1M96 12h1M115 12h2M15 13h1M95 13h2M117 13h2M13 14h1M17 14h1M20 14h1M32 14h1M34 14h1M43 14h1M46 14h2M96 14h1M107 14h1M1 15h1M3 15h1M11 15h2M3 16h1M10 16h1M12 16h1M34 16h1M83 16h1M93 16h1M36 17h1M20 18h2M21 19h1M61 19h1M101 19h1M11 20h1M29 20h1M32 20h1M96 20h1M11 21h1M20 21h2M87 21h1M96 21h1M104 21h1M6 22h1M8 22h1M11 22h1M22 22h1M25 22h1M84 22h1M99 22h1M111 22h1M4 23h1M14 23h1M20 23h1M26 23h1M50 23h1M88 23h1M100 23h1M110 23h1M43 24h1M47 24h1M88 24h1M98 24h1M104 24h1M6 25h1M12 25h1M14 25h1M17 25h1M20 25h1M28 25h1M34 25h2M50 25h1M52 25h3M65 25h1M73 25h1M84 25h1M110 25h1M1 26h1M17 26h2M24 26h2M49 26h2M91 26h1M98 26h1M100 26h1M118 26h3M0 27h1M6 27h1M8 27h1M23 27h1M25 27h1M30 27h1M37 27h1M42 27h1M47 27h1M49 27h3M56 27h1M62 27h1M82 27h1M103 27h1M119 27h2M4 28h1M7 28h1M19 28h1M27 28h2M82 28h1M84 28h1M89 28h1M91 28h1M93 28h1M104 28h1M0 29h1M2 29h1M5 29h1M7 29h1M11 29h2M19 29h1M29 29h1M33 29h1M38 29h1M43 29h2M1 30h2M8 30h1M14 30h1M22 30h1M32 30h1M39 30h1M55 30h1M60 30h1M66 30h1M82 30h1M84 30h1M96 30h1M0 31h1M23 31h1M28 31h1M50 31h1M53 31h1M60 31h1M70 31h1M72 31h1M116 31h1M5 32h1M18 32h1M20 32h1M24 32h1M43 32h1M46 32h1M63 32h1M6 33h1M8 33h1M10 33h1M43 33h1M53 33h1M59 33h1M62 33h2M76 33h1M82 33h1M119 33h2M2 34h1M61 34h1M63 34h1M76 34h1M116 34h1M66 35h1M69 35h1M76 35h2M115 35h1M5 36h2M11 36h1M74 36h1M89 36h1M36 37h1M68 37h2M0 38h1M76 38h1M80 38h1M0 39h1M43 39h1M65 39h2M69 39h1M73 39h1M0 40h2M3 40h1M73 40h1M75 40h1M116 40h1M1 41h1M3 41h1M75 41h1M80 42h1M119 42h2M1 43h1M64 43h1M67 43h1M71 43h1M119 43h2M5 44h1M67 44h1M75 44h1M71 45h1M77 45h2M115 45h1M2 46h1M71 46h1M73 46h1M77 46h1M79 46h1M2 47h1M66 47h1M71 47h1M73 47h1M75 47h1M119 47h2M2 48h1M7 48h1M64 48h1M4 49h1M6 49h1M66 49h1M70 49h2M76 49h3M83 49h1M93 49h1M113 49h1M116 49h1M5 50h2M20 50h1M47 50h1M65 50h1M67 50h1M75 50h1M79 50h1M6 51h1M79 51h1M91 51h1M3 52h1M79 52h1M81 52h1M112 52h1M114 52h1M64 53h1M77 53h1M48 54h1M45 55h1M68 55h1M70 55h1M75 55h1M77 55h1M108 55h1M65 56h1M74 56h2M3 57h1M67 57h1M70 57h1M88 57h2M75 58h1M80 58h1M94 58h1M111 58h2M72 59h2M76 59h1M79 59h1M47 60h1M67 60h1M73 60h1M86 60h1M111 60h2M75 61h1M108 61h1M4 62h1M68 62h1M70 62h1M69 63h1M73 63h1M75 63h1M83 63h1M102 63h1M110 63h1M72 64h1M75 64h1M78 64h1M88 64h1M65 65h1M76 65h1M79 65h1M83 65h1M86 65h1M4 66h1M65 66h2M71 66h1M73 66h1M75 66h1M80 66h1M109 66h1M4 67h1M41 67h1M77 67h1M80 67h1M85 67h1M87 67h1M78 68h1M85 68h1M4 69h1M66 69h2M64 70h2M70 70h1M84 70h1M88 70h1M69 71h1M94 71h1M105 71h2M74 72h1M76 72h1M78 72h1M89 72h1M108 72h1M65 73h1M67 73h1M76 73h2M107 73h2M68 74h3M80 74h1M106 74h1M69 75h1M78 75h1M69 76h1M75 76h1M104 76h1M68 77h1M74 77h1M78 77h1M104 77h1M4 78h1M91 78h3M6 79h1M70 79h1M72 79h1M77 79h1M91 79h1M68 80h1M74 80h1M103 80h1M1 81h1M4 81h1M93 81h1M101 81h1M37 82h1M68 82h1M74 82h1M95 82h1M99 82h1M1 83h1M95 83h1M3 87h1M1 88h1M68 89h1M2 90h1M68 90h1M38 91h1M2 92h1M37 92h1M44 93h1M42 95h1M63 95h1M1 96h1M67 96h1M1 97h1M34 97h1M66 97h1M3 99h1M4 101h1M1 102h1M39 102h1M42 102h1M3 103h1M6 103h1M67 103h1M2 104h1M46 104h1M67 104h1M69 104h1M42 105h1M29 106h1M71 106h2M6 107h1M35 107h1M39 107h1M70 107h1M1 108h1M38 108h1M69 108h1M0 109h1M63 109h1M69 109h1M67 110h1M69 110h1M3 111h1M27 111h1M67 111h1M70 111h2M4 112h1M28 112h1M41 112h1M65 112h1M28 113h1M48 113h1M70 113h1M72 113h1M2 114h1M29 114h1M63 114h1M67 114h1M1 115h1M28 115h1M67 115h1M72 115h1M2 116h1M5 116h1M65 116h1M72 116h1M0 117h1M29 117h1M36 117h1M69 117h1M17 118h1M28 118h2M67 118h3M73 118h1M75 118h1M3 119h1M28 119h1M3 120h1M29 120h1M67 120h1M17 121h1M29 121h1M63 121h1M67 121h1M69 121h1M75 121h1M77 122h1M61 123h1M68 123h1M68 124h1M73 124h1M77 124h1M2 125h1M68 125h1M5 126h1M31 126h1M67 126h2M77 126h1M33 127h1M63 127h1M0 129h1M14 129h1M67 129h1M69 129h1M110 129h1M4 130h1M30 130h1M66 130h1M70 130h1M65 131h1M67 131h1M72 131h1M111 131h1M2 132h1M50 132h1M1 133h1M33 133h1M42 133h1M77 133h1M29 134h1M32 134h1M107 134h1M109 134h1M117 134h1M3 135h1M33 135h1M65 135h1M72 135h1M108 135h1M114 135h1M0 136h1M32 136h1M63 136h2M75 136h1M113 136h1M115 136h1M117 136h1M1 137h1M67 137h1M70 137h1M74 137h1M33 138h1M66 138h1M68 138h1M72 138h1M108 138h1M110 138h1M29 139h1M118 139h1M2 140h1M46 140h1M116 140h1M119 140h2M70 141h1M106 141h1M32 142h1M63 142h1M73 142h2M29 143h1M71 143h1M103 143h1M105 143h1M113 143h3M119 143h2M66 144h1M72 144h1M119 144h2M62 145h1M70 145h1M60 146h1M62 146h1M72 146h1M110 146h1M4 147h1M71 147h1M73 147h1M101 147h1M104 147h1M106 147h1M108 147h1M110 147h2M116 147h1M0 148h1M55 148h1M71 148h1M103 148h1M119 148h2M40 149h1M69 149h1M74 149h1M44 150h1M72 150h1M103 150h1M63 151h1M46 152h1M57 152h1M61 152h1M68 152h2M100 152h1M67 153h1M72 153h1M100 153h1M68 154h1M97 155h1M102 155h1M117 155h1M31 156h1M69 156h3M96 156h1M66 158h1M93 158h1M99 158h1M95 159h1M119 159h2M84 160h1M87 160h1M90 160h1M92 160h1M94 160h1M96 160h1M85 161h1M87 161h1M99 161h1M64 162h1M70 162h1M96 162h1M90 163h1M93 163h1M96 163h1M88 164h1M99 164h1M85 165h1M93 165h1M44 166h1M59 166h1M24 167h1M46 167h1M60 167h1M86 167h1M88 167h2M92 167h1M45 168h1M88 168h1M101 168h1M57 169h1M84 170h2M91 170h1M91 172h1M57 173h1M58 174h1M59 175h1M84 175h1M83 177h2M91 177h1M57 180h1M89 180h1M57 181h2M80 181h1M57 182h1M57 183h1M70 184h1M56 188h1M80 189h1M56 190h1M76 191h2M79 191h2M77 192h1M69 193h2M72 193h1M74 193h2M78 193h1M63 194h1M66 194h2M80 194h1M70 195h3M74 195h2M56 196h1M69 196h1M72 196h1M75 196h1M112 196h1M72 197h1M56 198h2M63 198h1M69 199h1M80 199h1M97 199h1M63 200h1M66 200h1M101 200h2M110 200h1M70 201h1M78 201h2M100 201h1M90 202h1M100 202h1M64 203h1M67 203h1M78 203h1M94 203h1M99 203h1M61 204h2M75 204h1M78 204h1M96 204h1M55 205h2M91 205h2M96 205h1M99 205h1M104 205h1M61 206h1M93 206h1M56 207h1M89 207h1M94 207h1M114 207h1M110 208h1M109 209h1M56 210h1M81 210h1M103 210h1M83 211h1M115 211h1M78 212h1M117 212h1M55 213h1M57 213h1M78 213h1M80 213h1M56 214h1M77 214h1M81 215h1M114 215h1M78 216h1M80 216h1M54 217h1M80 217h1M106 217h1M113 217h1M115 217h1M57 218h1M80 218h1M86 218h1M115 218h1M52 219h1M71 219h1M83 219h1M119 219h2M77 220h1M80 220h2M56 221h1M87 221h2M79 222h1M88 222h1M117 222h1M76 223h1M76 224h1M79 224h1M87 224h2M113 224h1M68 225h1M108 225h1M112 225h1M115 226h2M68 227h1M78 227h1M89 227h1M99 227h1M105 227h1M110 227h1M46 228h1M48 228h1M102 228h1M33 229h1M103 229h1M111 229h1M89 230h1M32 233h1"/>
<path stroke="#00ff17" d="M67 0h1M79 0h1M88 0h2M50 1h1M71 1h1M80 1h1M77 2h1M45 3h1M48 3h1M61 4h2M64 4h1M83 4h1M48 5h1M66 5h1M73 5h1M75 5h1M77 5h1M81 5h1M76 6h2M48 7h1M50 7h1M69 7h1M76 7h1M83 7h1M86 7h1M38 8h1M49 8h1M76 8h1M78 8h1M84 8h1M101 8h1M50 9h1M87 9h1M48 10h1M94 10h1M110 10h1M114 10h1M44 11h1M94 11h1M116 11h1M118 11h1M35 12h1M84 12h1M107 12h1M109 12h1M113 12h1M48 13h1M83 13h2M87 13h1M103 13h1M106 13h1M9 14h1M28 14h1M44 14h1M89 14h1M101 14h1M103 14h1M111 14h2M114 14h1M116 14h1M118 14h1M0 15h1M7 15h1M25 15h1M27 15h1M92 15h2M95 15h1M99 15h1M103 15h1M110 15h1M112 15h1M116 15h1M118 15h1M1 16h2M7 16h2M19 16h2M99 16h1M103 16h1M108 16h1M2 17h1M16 17h1M102 17h1M107 17h1M7 18h1M34 18h1M14 19h1M19 19h1M22 19h1M92 19h1M97 19h2M100 19h1M21 20h1M23 20h1M27 20h1M53 20h1M84 20h1M89 20h1M98 20h1M112 20h2M2 21h1M14 21h1M17 21h2M32 21h1M48 21h1M82 21h1M88 21h1M111 21h1M9 22h1M47 22h1M49 22h1M53 22h1M85 22h1M100 22h1M105 22h1M0 23h1M10 23h1M16 23h1M29 23h1M47 23h2M82 23h1M95 23h1M101 23h1M2 24h1M11 24h1M16 24h1M34 24h1M45 24h2M106 24h1M108 24h1M117 24h2M2 25h2M7 25h2M10 25h1M13 25h1M25 25h1M32 25h1M91 25h1M96 25h1M100 25h2M117 25h1M4 26h1M6 26h1M12 26h1M26 26h1M28 26h1M33 26h1M74 26h1M90 26h1M105 26h1M107 26h1M110 26h1M112 26h1M117 26h1M4 27h1M7 27h1M14 27h1M28 27h1M34 27h2M44 27h1M48 27h1M54 27h1M57 27h1M59 27h1M63 27h2M70 27h1M83 27h1M93 27h2M108 27h1M114 27h1M117 27h1M3 28h1M21 28h1M25 28h1M38 28h2M61 28h1M20 29h1M25 29h2M51 29h1M60 29h1M74 29h1M0 30h1M5 30h1M12 30h1M23 30h1M34 30h1M36 30h1M59 30h1M62 30h1M70 30h1M73 30h1M83 30h1M116 30h1M1 31h1M6 31h1M12 31h1M42 31h1M4 32h1M7 32h1M40 32h1M64 32h2M70 32h1M73 32h2M115 32h1M1 33h1M4 33h1M65 33h1M75 33h1M100 33h1M110 33h1M118 33h1M11 34h1M25 34h1M67 34h1M6 35h1M26 35h1M0 36h1M3 36h2M69 36h1M71 36h3M4 37h1M70 37h1M75 37h1M91 37h1M5 38h1M69 38h1M75 38h1M6 39h1M70 39h1M74 39h1M81 39h1M74 40h1M76 41h1M80 41h1M116 41h1M118 41h1M0 42h2M5 43h1M72 43h1M74 43h1M73 44h1M2 45h2M5 46h1M65 47h1M68 47h1M70 48h1M86 48h1M68 49h1M75 49h1M115 49h1M71 50h1M81 50h1M1 51h2M101 51h2M47 52h1M69 52h1M73 52h1M113 52h1M2 53h1M4 53h2M34 53h1M84 53h1M91 53h1M113 53h1M2 54h1M4 54h1M6 54h1M68 54h1M74 54h1M76 54h1M83 54h1M89 54h1M112 54h1M4 55h1M74 55h1M104 55h1M76 56h1M5 57h1M34 57h1M45 57h1M72 57h2M75 57h1M78 57h1M6 58h1M70 58h1M74 58h1M89 58h1M71 59h1M75 59h1M34 60h1M70 60h1M4 61h1M67 61h1M71 61h3M78 61h1M80 61h1M110 61h1M72 62h1M110 62h1M111 63h1M36 64h1M65 64h1M86 64h1M4 65h2M74 65h2M84 65h1M6 66h1M68 67h1M70 67h1M74 67h1M78 67h1M83 67h2M86 67h1M67 68h1M73 68h1M77 68h1M83 68h1M89 68h1M108 68h1M37 69h1M106 69h1M71 70h1M76 70h1M107 70h1M3 71h1M46 71h1M65 71h1M70 71h1M76 71h1M79 71h1M5 72h1M23 72h1M67 72h2M75 72h1M79 72h1M88 72h1M105 72h1M75 73h1M86 73h1M89 73h1M98 73h1M36 74h1M75 74h1M86 74h1M88 74h1M104 74h1M79 75h3M87 75h1M104 75h1M4 76h1M67 76h1M70 76h1M91 76h1M102 76h1M3 77h2M71 77h1M106 77h1M0 78h1M73 78h1M94 78h1M105 78h1M68 79h1M93 79h1M101 79h1M2 80h1M72 80h1M76 80h1M96 80h2M3 81h1M76 81h1M91 81h1M2 82h1M71 82h1M96 82h1M68 83h1M99 83h1M0 85h1M3 85h1M2 88h1M2 89h1M69 89h1M67 92h1M0 93h1M38 94h1M1 95h1M65 95h1M67 95h1M2 96h1M40 96h1M2 97h1M68 98h1M25 99h1M68 99h1M35 100h1M40 100h1M42 100h1M44 100h1M69 100h1M34 101h1M5 102h1M68 102h1M30 103h1M1 104h1M3 104h1M40 104h2M0 105h1M2 105h1M66 105h1M40 106h2M69 106h2M29 107h2M67 107h1M29 108h1M40 108h1M68 108h1M70 108h1M38 109h1M40 109h1M74 109h1M1 110h2M29 110h1M61 110h1M71 110h1M41 111h1M38 112h1M1 113h1M3 113h1M5 113h1M46 113h1M40 114h1M66 114h1M70 114h1M74 114h1M5 115h1M8 115h1M38 115h1M40 115h1M70 115h2M29 116h1M73 116h1M2 117h1M4 117h1M73 117h1M3 118h1M72 118h1M36 119h1M38 119h1M68 119h1M17 120h1M38 122h1M66 122h1M4 123h1M29 123h1M67 123h1M0 124h1M31 124h1M76 124h1M1 125h1M31 125h1M39 125h1M66 125h2M76 126h1M2 127h1M26 128h1M31 128h1M71 128h1M76 128h1M113 129h1M26 130h1M29 130h1M64 130h2M73 130h1M68 131h1M113 131h1M0 132h1M114 132h1M30 133h1M49 133h1M65 133h1M71 133h1M65 134h1M111 134h1M114 134h1M17 135h1M64 135h1M109 135h1M106 136h1M65 137h1M107 137h1M112 137h1M114 137h2M117 137h2M30 138h1M32 138h1M71 138h1M107 138h1M119 138h2M105 139h1M107 139h2M30 140h1M71 140h1M107 140h1M109 140h1M115 140h1M65 141h1M103 141h1M112 141h1M116 141h1M1 142h1M69 142h1M106 142h2M110 142h1M63 143h1M69 143h1M64 144h2M69 144h1M71 144h1M74 144h1M30 145h1M65 145h1M99 145h1M104 145h2M64 146h1M66 146h1M69 146h1M104 146h1M111 146h1M41 147h1M64 147h1M68 147h1M102 147h1M112 147h1M114 147h1M65 148h1M67 148h1M73 148h2M105 148h1M107 148h1M30 149h1M66 149h2M71 149h1M99 149h1M101 149h1M104 149h1M70 150h1M30 151h1M61 151h1M29 152h1M62 152h1M72 152h1M66 153h1M69 154h1M119 154h2M31 155h1M67 155h1M69 155h1M73 155h1M99 155h1M61 156h1M95 156h1M97 156h1M64 157h1M69 157h1M85 157h1M96 157h1M102 157h1M46 158h2M60 158h1M62 158h1M67 158h1M68 159h1M70 159h1M74 159h1M84 159h1M87 159h1M93 159h1M97 159h1M46 160h1M73 160h2M88 160h1M101 160h1M65 161h1M68 161h1M95 161h1M60 162h1M85 162h1M46 163h1M60 163h1M71 163h1M85 163h1M57 164h1M61 164h1M84 164h1M95 164h1M60 165h1M69 165h1M90 165h1M82 166h1M90 166h2M58 167h1M84 167h1M87 167h1M91 167h1M95 167h1M70 168h1M90 168h1M69 169h1M87 169h1M102 169h1M83 170h1M88 170h1M90 170h1M95 170h1M60 171h1M96 173h1M46 174h1M82 174h1M91 174h1M82 175h1M94 176h1M58 178h1M58 182h1M66 184h1M71 185h1M113 185h1M57 186h1M70 187h1M70 188h1M69 189h1M66 190h1M70 190h1M72 190h1M75 190h1M64 192h1M69 192h1M57 193h1M73 193h1M76 193h1M72 194h1M78 194h1M66 195h1M80 195h1M77 196h1M82 196h1M78 197h1M68 198h1M72 198h1M76 198h1M64 199h1M68 199h1M78 199h1M56 200h2M64 200h1M68 200h1M91 200h1M95 200h1M60 201h1M71 201h1M63 202h1M69 202h1M71 202h1M99 202h1M61 203h2M65 203h2M71 203h1M76 203h1M91 203h1M66 204h1M89 204h1M94 204h1M57 205h2M72 205h1M75 205h1M101 205h1M57 206h1M59 206h1M74 206h1M91 206h1M105 206h1M71 207h1M73 207h1M76 207h2M95 207h1M100 207h2M82 208h1M112 208h1M91 209h1M78 210h1M91 210h1M95 210h1M115 210h1M91 211h1M59 212h1M80 212h1M89 212h1M106 212h2M89 213h1M112 213h1M116 213h2M80 214h1M88 214h1M88 215h1M107 215h2M119 215h2M77 216h1M84 216h1M87 216h1M105 216h1M108 216h1M111 216h1M57 217h1M79 217h1M87 219h1M112 219h1M83 220h1M84 221h1M114 221h1M116 221h1M54 222h1M85 222h1M119 222h2M55 223h1M79 223h2M117 223h1M82 224h2M107 224h1M117 224h1M72 225h1M86 225h1M100 225h1M117 225h1M90 226h1M107 226h1M109 226h1M33 227h1M88 227h1M92 227h1M96 227h1M40 228h1M86 228h1M88 228h1M93 228h1M97 228h1M99 228h1M101 228h1M37 229h1M96 229h1M48 230h1M40 232h1M46 232h1M40 233h1M41 234h1M44 234h1M47 234h1"/>
<path stroke="#22ff00" d="M46 0h1M50 0h2M46 1h1M65 1h1M84 1h1M42 2h1M49 2h2M87 2h1M44 3h1M49 3h1M81 3h1M78 4h1M43 5h1M65 5h1M67 5h1M90 5h1M66 6h1M89 6h1M102 6h1M46 7h1M71 7h1M75 7h1M81 7h1M35 8h1M37 8h1M50 8h1M74 9h1M78 9h1M84 10h1M29 11h1M60 11h1M69 11h1M83 11h1M88 11h1M45 12h1M94 12h1M104 12h1M114 12h1M38 13h1M50 13h1M101 13h1M104 13h1M27 14h1M29 14h1M36 14h1M49 14h1M79 14h1M85 14h1M87 14h1M106 14h1M119 14h2M5 15h1M8 15h1M14 15h1M28 15h1M37 15h1M46 15h1M87 15h2M91 15h1M101 15h1M106 15h1M113 15h1M0 16h1M11 16h1M15 16h3M24 16h1M29 16h1M31 16h1M35 16h1M37 16h1M46 16h1M84 16h1M96 16h2M106 16h1M109 16h1M12 17h1M17 17h1M22 17h1M92 17h1M111 17h1M8 18h2M16 18h1M18 18h1M84 18h1M7 19h1M18 19h1M20 19h1M46 19h2M99 19h1M103 19h1M107 19h1M112 19h1M16 20h1M22 20h1M48 20h1M88 20h1M101 20h1M104 20h1M106 20h1M109 20h1M0 21h1M6 21h1M8 21h1M10 21h1M93 21h1M95 21h1M98 21h1M109 21h1M119 21h2M1 22h2M15 22h1M38 22h1M51 22h1M82 22h1M91 22h1M93 22h4M32 23h1M41 23h1M52 23h1M58 23h1M81 23h1M90 23h1M97 23h1M102 23h1M105 23h1M118 23h1M5 24h1M14 24h1M18 24h1M28 24h2M31 24h1M49 24h2M52 24h1M64 24h1M96 24h2M100 24h1M105 24h1M115 24h2M26 25h2M29 25h1M37 25h1M46 25h1M88 25h2M106 25h1M111 25h1M115 25h1M0 26h1M2 26h1M10 26h1M20 26h1M29 26h1M31 26h2M35 26h1M38 26h1M43 26h1M47 26h1M54 26h1M82 26h1M104 26h1M109 26h1M116 26h1M29 27h1M55 27h1M58 27h1M60 27h2M66 27h1M116 27h1M1 28h1M42 28h1M46 28h1M52 28h1M64 28h1M66 28h1M70 28h1M3 29h1M24 29h1M53 29h1M58 29h1M62 29h3M69 29h1M116 29h1M4 30h1M6 30h1M10 30h2M40 30h1M43 30h1M71 30h1M80 30h1M85 30h1M117 30h1M44 31h1M48 31h1M65 31h1M69 31h1M71 31h1M76 31h1M112 32h1M119 32h2M2 33h1M64 33h1M69 33h1M81 33h1M4 34h1M6 34h1M69 34h1M72 34h1M2 35h2M73 35h2M2 36h1M42 37h1M72 37h1M3 38h1M77 38h1M1 39h1M71 40h1M69 41h1M74 41h1M119 41h2M72 42h2M78 42h1M72 44h1M73 45h1M118 45h1M3 46h1M78 47h2M6 48h1M69 48h1M73 48h2M117 48h1M1 49h1M3 49h1M69 49h1M72 49h1M114 49h1M2 50h1M45 50h1M73 50h1M35 51h1M73 51h2M88 51h1M116 51h1M4 52h1M3 53h1M65 53h1M67 53h1M72 53h1M78 53h1M34 54h1M62 54h1M72 54h1M75 54h1M77 54h1M79 54h1M1 55h1M5 55h1M67 55h1M66 56h1M79 56h1M2 57h1M65 57h1M71 57h1M114 57h1M3 58h1M66 58h1M71 58h1M78 58h1M112 59h1M71 60h2M75 60h1M78 60h1M111 61h1M73 62h1M75 62h1M109 62h1M1 63h1M5 63h1M67 63h2M72 63h1M70 64h1M68 65h3M82 65h1M109 65h1M2 68h3M68 69h1M81 69h1M85 69h1M109 69h1M74 70h2M80 70h1M85 70h1M77 71h1M80 71h1M89 71h1M4 72h1M40 72h1M69 72h1M73 72h1M80 72h1M78 73h1M81 73h1M88 73h1M4 74h1M76 74h1M79 74h1M85 74h1M36 75h1M72 75h1M85 75h2M65 76h1M68 76h1M73 76h1M78 76h1M73 77h1M90 77h1M71 78h1M75 78h1M99 78h1M102 78h1M104 78h1M3 79h1M103 79h1M90 80h1M93 80h1M77 81h1M1 82h1M72 82h1M77 82h1M2 83h1M93 83h2M101 83h1M103 83h1M2 84h1M70 84h1M74 84h1M94 84h1M4 88h1M3 89h1M0 90h1M0 91h2M37 94h1M38 95h1M69 97h1M0 98h1M40 98h1M42 98h1M0 100h2M70 100h1M72 100h1M40 102h1M43 102h1M67 102h1M30 104h1M30 105h1M69 105h1M1 106h1M3 106h1M68 107h1M73 107h1M35 108h1M43 108h1M4 109h1M70 109h1M38 110h1M73 110h1M74 111h1M2 112h1M29 112h1M66 112h1M68 112h1M71 112h2M67 113h1M74 113h1M1 114h1M41 114h2M72 114h1M4 115h1M73 115h1M67 116h2M71 116h1M74 116h1M71 117h1M75 117h1M36 118h1M67 119h1M2 120h1M31 120h1M65 120h1M70 120h1M65 121h1M71 121h1M0 122h1M2 122h2M67 122h2M2 124h1M40 124h1M67 124h1M3 125h1M29 125h1M62 125h1M73 125h1M0 126h1M30 126h1M72 126h1M75 126h1M109 126h1M3 127h1M30 127h1M65 127h1M68 127h1M77 127h1M112 127h1M114 128h1M71 129h1M1 130h1M31 130h1M76 130h1M109 130h1M114 130h1M1 131h1M29 131h2M32 131h1M112 131h1M114 131h1M117 131h1M77 132h2M109 132h1M111 132h1M64 133h1M73 133h1M110 133h1M112 133h1M30 134h1M66 134h1M108 134h1M110 134h1M112 134h1M74 135h2M113 135h1M115 135h1M68 136h1M110 136h1M116 136h1M0 137h1M30 137h1M71 137h1M73 137h1M103 137h1M108 137h1M110 137h2M74 138h2M109 138h1M111 138h1M30 139h1M63 139h1M65 139h1M73 139h3M106 139h1M116 139h2M32 140h1M72 140h1M103 140h1M105 140h1M118 140h1M29 141h1M73 141h1M118 141h3M29 142h2M66 142h1M30 143h1M64 143h1M68 143h1M74 143h2M33 144h1M63 144h1M101 144h1M74 145h2M32 146h1M100 146h1M74 147h1M100 147h1M68 148h1M72 148h1M104 148h1M4 149h1M63 149h2M108 149h1M47 150h1M63 150h1M73 150h1M101 150h1M110 150h1M32 151h1M64 151h1M70 151h1M73 151h1M99 151h1M102 151h1M63 152h2M101 152h2M32 153h1M59 153h1M63 155h1M70 155h1M100 155h1M56 156h1M66 156h1M73 156h1M94 156h1M98 156h1M68 157h1M74 157h1M82 157h1M97 157h1M71 158h1M97 158h1M63 159h1M75 159h1M88 159h1M66 160h1M46 161h1M67 161h1M69 161h1M86 161h1M61 162h1M84 162h1M87 162h1M94 162h1M82 163h1M92 163h1M66 164h1M87 165h1M60 166h1M69 166h1M86 166h2M92 166h1M45 167h1M66 167h1M86 168h1M58 171h1M59 176h1M83 176h1M59 178h1M82 178h1M59 179h1M59 180h1M70 180h1M81 182h1M69 186h2M69 187h1M76 187h1M69 188h1M79 188h1M57 189h1M64 189h1M72 189h2M57 190h2M57 191h1M66 191h1M68 191h1M60 192h1M68 192h1M75 192h1M66 193h1M80 193h1M107 193h1M64 194h1M67 195h1M69 195h1M77 195h1M62 196h1M71 196h1M66 197h2M73 198h1M78 198h1M57 199h1M62 199h1M63 201h2M73 201h1M77 201h1M101 201h2M58 202h1M60 202h1M96 202h1M55 203h1M59 203h1M95 203h1M97 203h1M101 203h1M57 204h1M68 205h1M89 205h1M94 205h2M98 205h1M68 206h1M75 206h1M89 206h1M102 206h1M61 207h1M78 207h1M91 207h1M96 207h1M102 207h1M104 207h1M57 208h1M104 208h1M107 208h1M78 209h1M95 209h1M77 210h1M93 211h1M55 212h1M76 212h1M109 212h1M107 214h1M109 214h2M77 215h1M80 215h1M106 215h1M117 215h1M55 216h1M81 216h2M106 216h1M115 216h1M85 217h3M79 218h1M82 218h1M85 218h1M87 218h2M90 218h1M109 218h1M111 218h1M78 219h1M80 219h1M88 219h1M108 219h1M110 219h1M79 220h1M108 220h1M115 220h1M86 221h1M117 221h1M86 222h1M116 222h1M108 223h1M119 223h2M108 224h1M115 224h1M88 225h1M109 225h2M86 226h1M98 226h1M106 226h1M94 227h2M37 228h1M92 228h1M104 228h1M34 229h1M88 229h1M91 229h1M94 229h1M32 230h1M39 230h1M100 230h1M38 231h1M41 232h1M38 233h1M33 234h1M38 234h1M43 234h1M45 234h1"/>
<path stroke="#5eff00" d="M49 0h1M51 1h1M60 1h2M78 1h1M83 1h1M63 2h1M80 2h1M47 3h1M62 3h1M45 5h1M50 5h1M64 5h1M71 5h1M61 6h1M74 6h1M78 6h1M49 7h1M66 7h1M70 7h1M48 8h1M42 9h1M68 9h3M77 9h1M44 10h1M70 10h1M78 10h1M82 10h1M86 10h1M115 10h1M71 11h2M74 11h1M76 11h1M95 11h1M117 11h1M80 12h1M83 12h1M86 12h1M35 13h1M80 13h2M115 13h1M25 14h1M38 14h1M40 14h1M48 14h1M53 14h1M81 14h1M41 15h1M82 15h3M94 15h1M98 15h1M102 15h1M109 15h1M117 15h1M22 16h2M28 16h1M30 16h1M41 16h1M90 16h1M111 16h2M10 17h1M33 17h1M87 17h1M106 17h1M0 18h1M2 18h1M32 18h1M83 18h1M85 18h1M93 18h1M99 18h1M110 18h1M2 19h1M11 19h1M85 19h1M87 19h1M94 19h1M3 20h1M7 20h1M9 20h1M12 20h1M28 20h1M46 20h1M49 20h1M92 20h1M100 20h1M103 20h1M110 20h1M7 21h1M24 21h1M51 21h1M54 21h1M99 21h2M102 21h2M108 21h1M7 22h1M10 22h1M12 22h1M27 22h1M30 22h1M36 22h1M46 22h1M56 22h1M86 22h1M90 22h1M102 22h1M108 22h1M114 22h2M117 22h2M9 23h1M17 23h2M21 23h1M30 23h1M33 23h1M43 23h1M45 23h1M51 23h1M54 23h1M93 23h1M108 23h1M111 23h1M9 24h1M20 24h1M24 24h1M35 24h1M40 24h2M81 24h3M89 24h1M110 24h1M113 24h1M4 25h1M9 25h1M11 25h1M19 25h1M22 25h1M24 25h1M40 25h2M45 25h1M51 25h1M55 25h1M58 25h1M60 25h1M64 25h1M87 25h1M116 25h1M3 26h1M5 26h1M13 26h1M15 26h1M21 26h1M41 26h2M44 26h1M84 26h1M89 26h1M2 27h1M11 27h1M15 27h1M21 27h1M52 27h1M73 27h1M79 27h1M118 27h1M31 28h1M47 28h1M50 28h1M56 28h1M63 28h1M72 28h1M74 28h1M115 28h1M42 29h1M61 29h1M70 29h2M81 29h1M117 29h1M26 30h1M64 30h1M67 30h1M2 31h1M11 31h1M43 31h1M64 31h1M119 31h2M0 32h1M11 32h1M67 33h1M70 33h1M80 34h1M5 35h1M65 35h1M67 35h1M71 35h1M75 35h1M1 36h1M5 37h1M78 38h1M65 40h1M77 40h1M5 41h1M71 41h2M5 42h1M71 42h1M76 42h1M3 43h1M73 43h1M2 44h1M78 44h1M0 45h1M79 45h1M119 45h2M0 48h1M78 48h1M70 50h1M72 50h1M104 50h1M117 50h1M5 51h1M68 51h1M72 51h1M81 51h1M117 51h1M48 52h1M67 52h1M75 52h1M118 52h1M73 53h1M75 53h1M80 53h1M114 53h1M69 54h1M73 54h1M0 55h1M2 55h1M76 55h1M79 55h1M112 55h1M3 56h2M70 56h1M80 56h1M83 56h1M77 57h1M0 58h1M69 58h1M72 58h1M77 58h1M113 58h1M34 59h1M77 59h1M0 60h1M1 61h1M68 61h1M76 61h1M112 61h1M70 63h1M80 63h1M2 64h1M77 64h1M84 64h1M71 65h1M80 65h1M68 66h1M71 67h1M34 68h1M71 68h1M34 69h1M80 69h1M84 69h1M73 70h1M78 70h1M106 70h1M71 71h1M74 71h1M78 71h1M81 71h1M88 71h1M108 71h1M77 72h1M86 72h1M1 73h1M36 73h1M71 73h1M87 73h1M1 74h1M5 74h1M77 74h2M2 75h1M68 75h1M70 75h1M76 75h1M89 75h1M107 75h1M36 76h1M81 76h1M108 76h1M70 77h1M77 77h1M88 77h1M36 78h1M106 78h1M92 79h1M36 80h1M77 80h1M100 80h1M36 81h1M94 81h1M103 81h1M75 82h1M93 82h1M98 82h1M0 83h1M75 83h1M102 83h1M36 84h1M101 84h1M69 86h1M0 87h2M37 89h2M37 91h1M68 91h2M0 92h1M0 96h1M0 97h1M4 97h1M39 98h1M34 99h1M0 101h1M35 101h1M39 101h1M68 101h2M35 102h1M69 103h1M35 104h1M40 105h1M67 105h1M35 106h1M67 106h1M42 107h1M71 107h1M35 109h1M41 110h1M65 110h1M0 111h2M38 111h1M64 111h1M72 111h1M0 112h1M35 112h1M73 112h1M0 113h1M65 113h1M68 113h1M71 113h1M0 114h1M38 114h1M64 115h1M74 115h1M1 116h1M17 116h1M38 116h1M68 117h1M0 118h1M31 118h1M65 118h1M2 119h1M71 119h1M37 120h1M73 120h1M75 120h2M78 120h1M0 121h1M76 121h1M1 122h1M0 123h1M75 123h2M109 123h1M65 124h1M0 125h1M75 125h1M79 125h1M29 126h1M40 126h1M78 126h1M32 127h1M111 127h1M113 127h1M27 128h1M29 128h1M65 128h1M113 128h1M109 129h1M77 130h1M76 132h1M115 132h2M109 133h1M111 133h1M114 133h1M115 134h1M76 135h1M118 135h1M30 136h1M74 136h1M114 136h1M75 137h1M106 137h1M109 137h1M116 137h1M65 138h1M116 138h1M118 138h1M31 139h2M29 140h1M30 141h1M74 141h1M117 141h1M31 142h1M64 142h2M75 142h1M112 142h1M118 142h1M32 143h1M66 143h1M72 143h1M106 143h1M30 144h1M76 144h1M118 144h1M103 145h1M106 145h1M63 146h1M102 146h1M107 146h1M30 147h1M98 148h1M70 149h1M64 150h2M102 150h1M65 151h2M74 152h1M62 153h2M65 153h1M71 153h1M62 154h1M66 154h1M98 154h1M30 155h1M62 155h1M94 155h1M62 156h1M90 156h1M100 156h1M62 157h2M71 157h1M73 157h1M88 157h1M92 157h1M100 157h1M69 158h1M82 158h1M85 158h1M87 158h1M61 159h1M72 159h1M94 159h1M62 160h2M69 160h1M83 160h1M93 160h1M61 161h1M72 161h2M90 161h1M93 161h1M65 162h1M74 162h1M88 162h1M67 163h1M70 163h1M86 163h1M88 163h1M47 164h1M63 164h1M74 164h1M82 164h1M90 164h1M64 165h1M74 165h1M83 165h1M86 165h1M88 165h1M67 166h1M88 166h1M46 168h1M59 168h1M61 168h1M68 168h1M86 169h1M60 170h2M59 172h1M84 172h1M60 174h1M81 174h1M70 175h1M80 176h1M59 177h1M73 178h1M81 179h1M60 180h1M59 181h1M70 183h1M59 184h1M69 185h1M80 185h1M78 186h1M63 187h1M71 188h1M74 188h1M81 188h1M70 189h1M77 189h2M59 190h1M68 190h2M76 190h1M81 190h1M58 191h1M65 191h1M78 192h1M81 192h1M59 193h1M64 193h1M68 193h1M77 193h1M68 194h1M77 194h1M63 195h1M68 195h1M73 195h1M78 195h1M63 196h3M67 196h2M57 197h1M65 197h1M71 197h1M66 198h1M71 199h1M58 200h1M62 200h1M57 201h1M68 202h1M91 202h1M105 202h1M57 203h1M60 203h1M93 203h1M95 204h1M100 204h1M102 204h1M66 205h1M76 205h1M78 206h1M58 207h1M98 207h2M78 208h1M95 208h1M102 208h1M106 208h1M55 210h1M94 210h1M54 211h1M57 211h1M78 211h1M95 211h1M109 211h1M111 211h1M77 212h1M105 212h1M92 213h1M89 214h2M106 214h1M92 215h1M107 216h1M90 217h1M108 217h1M90 219h1M86 220h1M110 220h1M81 221h1M109 221h2M115 221h1M70 222h1M111 222h1M90 223h1M103 223h1M109 223h1M80 224h1M110 224h1M90 225h1M107 225h1M45 226h1M104 226h2M93 227h1M102 227h1M108 227h1M111 227h1M113 227h1M105 228h1M40 229h1M40 230h1M42 230h1M40 231h1M43 232h1M42 233h1M47 233h1"/>
<path stroke="#8bff00" d="M44 0h1M45 2h1M60 2h1M51 3h1M62 5h1M42 6h1M46 6h1M50 6h1M62 6h1M71 6h1M80 6h1M74 7h1M77 7h1M70 8h2M77 8h1M49 9h1M51 9h1M50 10h1M48 11h1M52 11h1M75 11h1M80 11h1M66 12h1M75 12h2M78 12h1M89 12h1M42 13h1M49 13h1M62 13h1M61 14h1M83 14h1M86 14h1M88 14h1M91 14h1M94 14h1M34 15h3M39 15h2M79 15h1M81 15h1M86 15h1M104 15h1M4 16h1M9 16h1M14 16h1M33 16h1M38 16h1M43 16h1M87 16h1M92 16h1M98 16h1M107 16h1M0 17h1M3 17h1M7 17h2M15 17h1M21 17h1M31 17h1M83 17h1M88 17h1M108 17h2M11 18h1M19 18h1M29 18h1M43 18h1M48 18h1M90 18h1M94 18h1M97 18h1M101 18h1M103 18h1M105 18h2M5 19h1M34 19h1M52 19h1M105 19h1M108 19h1M111 19h1M116 19h1M2 20h1M6 20h1M10 20h1M15 20h1M20 20h1M31 20h1M38 20h1M47 20h1M81 20h1M86 20h1M90 20h1M114 20h2M118 20h1M13 21h1M15 21h1M23 21h1M31 21h1M34 21h1M50 21h1M53 21h1M61 21h1M83 21h1M85 21h1M90 21h1M110 21h1M14 22h1M39 22h1M87 22h1M109 22h1M113 22h1M2 23h1M13 23h1M24 23h1M31 23h1M35 23h1M37 23h1M40 23h1M59 23h1M86 23h1M89 23h1M96 23h1M119 23h2M3 24h1M6 24h1M25 24h1M30 24h1M38 24h1M48 24h1M54 24h1M56 24h1M61 24h1M73 24h1M33 25h1M39 25h1M44 25h1M48 25h1M56 25h1M69 25h1M81 25h3M118 25h3M9 26h1M23 26h1M37 26h1M40 26h1M45 26h1M53 26h1M55 26h1M60 26h2M63 26h1M75 26h2M81 26h1M3 27h1M13 27h1M22 27h1M27 27h1M67 27h1M72 27h1M75 27h2M78 27h1M104 27h1M5 28h1M9 28h1M13 28h1M36 28h1M43 28h1M57 28h1M75 28h1M116 28h1M66 29h1M80 29h1M28 30h1M41 30h1M52 30h1M63 30h1M74 30h2M114 30h1M67 31h1M73 31h2M79 31h1M89 31h1M1 32h1M66 32h1M68 32h1M71 32h2M76 32h1M81 32h1M74 33h1M80 33h1M0 34h1M65 34h2M71 34h1M75 34h1M77 34h1M68 35h1M68 36h1M68 38h1M6 40h1M42 40h1M68 40h1M78 40h1M80 40h1M2 41h1M81 41h1M75 42h1M4 43h1M46 43h1M68 44h1M69 46h1M1 48h1M75 48h1M2 49h1M65 49h1M118 49h1M114 50h1M0 51h1M115 51h1M2 52h1M78 52h1M98 52h1M117 52h1M1 53h1M68 53h1M74 53h1M115 53h1M0 54h1M3 54h1M70 54h1M113 54h1M71 55h1M114 55h1M68 56h1M73 56h1M80 57h1M4 58h1M67 58h2M68 59h1M74 59h1M66 60h1M115 60h1M74 61h1M34 62h1M113 62h1M35 63h1M1 65h1M34 65h1M73 65h1M110 65h1M2 66h1M79 66h1M82 66h1M34 67h1M109 67h1M109 68h1M71 69h1M73 69h1M77 70h1M83 70h1M108 70h1M75 71h1M85 71h2M66 72h1M71 72h1M85 72h1M94 72h1M3 73h1M72 73h1M79 73h2M85 73h1M67 74h1M81 74h1M4 75h1M75 75h1M80 76h1M1 77h1M105 77h1M85 78h1M107 78h1M1 79h1M81 79h1M104 79h1M88 81h1M104 81h1M0 82h1M3 82h1M94 82h1M103 82h1M36 83h1M71 83h1M73 83h2M100 83h1M104 83h1M72 84h1M103 84h1M70 87h1M0 88h1M36 88h1M70 89h1M1 92h1M69 92h1M2 93h1M68 94h1M0 95h1M69 96h1M68 97h1M72 98h1M0 99h1M42 99h1M34 100h1M39 100h1M95 100h1M73 101h1M69 102h1M68 103h1M70 104h1M39 105h1M70 105h1M72 105h1M68 106h1M73 106h1M39 108h1M73 108h1M67 109h1M39 110h2M40 111h1M68 111h1M73 111h1M75 111h1M36 112h1M74 112h1M38 113h1M73 114h1M2 115h1M36 115h1M65 115h1M36 116h1M37 117h1M76 117h2M71 118h1M76 118h1M29 119h1M77 119h1M1 120h1M36 120h1M80 121h1M70 122h1M112 122h1M80 124h1M109 124h1M111 124h1M72 125h1M77 125h1M79 126h1M111 126h2M1 127h1M29 127h1M78 127h1M77 128h1M110 128h1M29 129h1M78 129h1M114 129h1M76 131h1M109 131h1M30 132h1M108 132h1M112 132h2M30 135h1M106 135h1M111 135h1M76 136h1M103 136h1M118 136h1M105 137h1M29 138h1M76 138h1M115 138h1M76 139h1M104 140h1M106 140h1M117 140h1M72 142h1M99 142h1M103 142h1M105 142h1M31 143h1M67 143h1M67 144h1M103 144h3M31 145h1M119 145h2M75 146h1M101 146h1M29 147h1M65 147h1M98 147h1M30 148h1M92 148h1M99 148h1M101 148h1M68 150h1M68 151h1M71 151h1M101 151h1M30 152h1M73 152h1M98 152h1M73 153h1M63 154h1M67 154h1M96 154h1M99 154h1M71 155h1M74 155h1M83 155h1M96 155h1M63 156h2M72 156h1M85 156h1M66 157h1M70 157h1M86 157h2M93 157h2M68 158h1M73 158h1M83 158h1M31 159h1M66 159h1M85 159h1M65 160h1M67 160h1M70 160h2M85 160h1M88 161h1M66 162h1M68 162h1M86 162h1M63 163h1M66 163h1M89 163h1M60 164h1M62 164h1M73 164h1M85 164h1M87 164h1M65 165h1M70 165h2M61 166h1M83 166h1M68 167h1M83 167h1M57 168h1M60 168h1M63 168h2M74 168h1M89 168h1M59 169h1M64 169h1M66 169h1M82 169h1M65 171h1M84 171h1M60 173h1M83 175h1M58 176h1M64 176h1M60 178h2M74 178h1M73 179h1M81 181h1M59 183h1M79 183h1M64 184h1M69 184h1M72 184h1M74 184h1M70 185h1M67 186h1M80 186h1M58 188h2M72 188h1M76 188h1M80 188h1M66 189h1M74 189h1M64 190h1M71 190h1M74 190h1M77 190h4M59 191h1M69 191h1M71 191h2M74 191h1M66 192h1M74 192h1M80 192h1M63 193h1M62 194h1M76 194h1M76 195h1M57 196h1M73 197h1M77 197h1M58 198h1M67 198h1M63 199h1M76 199h1M59 201h1M81 201h1M73 202h1M76 202h1M59 204h2M98 204h1M102 205h1M77 206h1M95 206h1M97 206h2M106 206h1M76 208h1M99 208h1M103 208h1M93 209h1M97 209h1M105 209h1M117 209h1M99 210h1M104 210h1M89 211h1M96 211h1M56 215h1M89 215h1M93 216h1M110 217h1M106 218h3M85 219h1M88 220h1M107 220h1M109 220h1M111 220h1M80 221h1M106 221h2M107 222h2M113 222h1M115 222h1M107 223h1M113 223h1M89 224h2M106 224h1M109 224h1M105 225h1M68 226h1M91 227h1M34 228h1M94 228h1M103 228h1M38 232h1M42 232h1"/>
<path stroke="#a5ff00" d="M60 0h1M51 4h1M60 4h1M61 5h1M61 7h1M67 7h2M67 8h2M83 8h1M48 9h1M62 9h1M73 9h1M52 10h1M69 10h1M75 10h2M64 11h1M36 12h1M50 12h1M63 12h1M67 12h1M77 12h1M119 12h2M53 13h1M67 13h1M78 13h2M42 14h1M52 14h1M60 14h1M77 14h1M80 14h1M82 14h1M109 14h1M113 14h1M115 14h1M2 15h1M29 15h3M38 15h1M42 15h3M48 15h1M85 15h1M89 15h1M119 15h2M13 16h1M25 16h1M39 16h1M47 16h1M62 16h1M79 16h1M82 16h1M89 16h1M91 16h1M101 16h2M105 16h1M1 17h1M6 17h1M9 17h1M35 17h1M40 17h2M47 17h1M64 17h1M81 17h1M90 17h1M100 17h1M115 17h3M1 18h1M13 18h1M17 18h1M31 18h1M37 18h1M102 18h1M111 18h2M114 18h2M118 18h1M0 19h1M4 19h1M6 19h1M8 19h1M10 19h1M13 19h1M15 19h3M32 19h2M36 19h1M41 19h1M51 19h1M82 19h1M86 19h1M90 19h1M106 19h1M109 19h1M115 19h1M5 20h1M8 20h1M13 20h1M18 20h2M24 20h1M26 20h1M30 20h1M45 20h1M85 20h1M91 20h1M105 20h1M111 20h1M116 20h1M1 21h1M4 21h2M12 21h1M22 21h1M26 21h2M29 21h1M47 21h1M49 21h1M84 21h1M92 21h1M106 21h2M3 22h1M26 22h1M28 22h1M31 22h1M48 22h1M55 22h1M61 22h1M65 22h1M74 22h1M81 22h1M88 22h1M106 22h1M116 22h1M1 23h1M3 23h1M6 23h1M34 23h1M36 23h1M44 23h1M53 23h1M64 23h1M84 23h1M91 23h1M94 23h1M117 23h1M0 24h1M8 24h1M27 24h1M32 24h1M37 24h1M42 24h1M60 24h1M77 24h2M0 25h1M47 25h1M74 25h1M78 25h1M108 25h1M11 26h1M14 26h1M39 26h1M59 26h1M62 26h1M73 26h1M80 26h1M9 27h1M38 27h1M45 27h1M74 27h1M84 27h1M26 28h1M60 28h1M65 28h1M67 28h3M71 28h1M79 28h1M81 28h1M10 29h1M115 29h1M42 30h1M65 30h1M68 30h2M63 31h1M75 31h1M80 31h1M29 32h1M62 32h1M75 32h1M80 32h1M0 33h1M72 33h1M77 33h1M70 34h1M67 36h1M76 36h1M73 37h1M80 37h1M59 38h1M0 41h1M78 41h1M1 44h1M66 45h1M0 47h1M71 48h1M0 49h1M5 49h1M4 50h1M34 50h1M74 50h1M116 50h1M118 50h3M3 51h2M76 51h1M1 52h1M74 52h1M115 52h1M69 53h1M71 53h1M5 54h1M71 54h1M80 54h1M114 54h1M3 55h1M39 55h1M1 56h1M113 56h1M0 57h1M66 57h1M68 57h1M73 58h1M1 59h1M35 59h1M113 59h2M2 60h2M68 60h1M113 60h1M3 61h1M3 62h1M0 63h1M71 63h1M1 64h1M69 64h1M76 64h1M110 64h1M35 65h1M72 67h1M81 68h1M77 69h1M1 70h1M3 70h1M86 70h1M89 70h1M105 70h1M72 71h2M1 72h1M70 72h1M84 72h1M111 73h1M2 74h1M84 74h1M87 74h1M89 74h1M108 74h1M0 75h1M84 75h1M76 76h1M106 76h1M1 78h1M79 78h1M88 78h1M0 79h1M2 79h1M71 79h1M78 79h2M0 80h1M88 80h1M91 80h1M102 80h1M104 80h1M100 81h1M102 81h1M90 82h1M92 82h1M100 82h1M104 82h1M1 84h1M76 84h1M93 84h1M98 84h1M107 84h1M72 85h1M74 87h1M107 87h1M70 88h1M37 90h1M73 92h1M68 93h1M69 94h1M39 95h1M34 96h1M38 97h1M69 98h2M38 100h1M34 102h1M74 102h1M66 103h1M74 104h1M73 105h1M2 106h1M74 106h1M69 107h1M72 107h1M74 107h1M76 107h1M72 108h1M68 109h1M71 109h2M75 109h1M75 110h1M30 111h1M39 111h1M76 111h1M2 113h1M37 115h1M0 116h1M76 116h1M30 117h2M67 117h1M30 118h1M0 120h1M30 120h1M78 121h1M29 122h2M79 122h1M111 125h2M108 126h1M110 126h1M114 126h1M108 127h1M0 128h1M30 128h1M78 128h1M78 130h1M113 130h1M79 131h1M104 131h1M107 132h1M117 132h1M78 133h2M108 133h1M116 133h1M118 133h1M75 134h1M79 134h1M116 134h1M119 134h2M107 135h1M112 135h1M29 136h1M119 136h2M76 137h1M104 137h1M73 140h1M75 140h1M77 140h1M93 140h1M75 141h1M119 142h2M65 143h1M90 143h1M104 143h1M29 144h1M79 144h1M76 145h1M101 145h2M65 146h1M83 146h1M99 146h1M32 147h1M62 148h1M75 149h1M97 149h1M100 149h1M102 149h1M99 150h1M74 151h2M66 152h2M99 152h1M30 153h1M74 153h1M99 153h1M73 154h1M94 154h1M64 155h1M85 155h1M65 156h1M68 156h1M75 156h1M84 156h1M86 156h1M67 157h1M72 157h1M31 158h1M61 158h1M74 158h1M80 158h1M84 158h1M86 158h1M90 158h1M94 158h1M62 159h1M67 159h1M69 159h1M73 159h1M78 159h1M83 159h1M86 159h1M89 159h1M61 160h1M64 160h1M79 161h4M84 161h1M92 161h1M67 162h1M71 162h3M89 162h1M68 163h1M72 163h1M81 163h1M71 164h1M83 164h1M86 164h1M62 165h2M66 165h1M82 165h1M89 165h1M91 165h1M66 166h1M68 166h1M70 166h1M81 166h1M84 166h1M89 166h1M62 167h1M82 167h1M65 168h3M80 168h5M60 169h1M72 169h1M74 169h1M81 169h1M63 170h1M63 171h1M81 171h3M60 172h1M74 172h1M59 173h1M80 173h1M66 174h1M72 174h1M72 175h2M80 175h1M71 176h1M81 176h1M81 177h2M70 179h1M74 179h1M60 181h1M65 181h1M82 181h1M65 182h1M78 183h1M57 184h2M80 184h1M64 185h1M78 185h1M58 186h2M76 186h1M79 186h1M59 187h1M73 187h1M68 188h1M78 188h1M60 189h1M68 189h1M71 189h1M75 189h1M65 190h1M60 191h1M73 191h1M78 191h1M58 192h2M65 192h1M72 192h2M71 193h1M57 194h1M61 196h1M66 196h1M61 197h4M68 197h2M62 198h1M58 199h1M71 200h1M59 202h1M61 202h1M58 203h1M101 204h1M76 206h1M57 207h1M97 208h1M100 209h1M105 211h1M92 212h1M104 212h1M91 214h1M86 215h1M90 216h1M104 216h1M117 216h1M88 217h2M55 218h1M89 218h1M113 218h1M118 218h1M91 219h1M106 219h1M116 219h1M90 222h1M105 222h2M110 222h1M89 223h1M92 223h1M111 223h1M111 225h1M89 226h1M91 226h1M94 226h1M96 226h1M103 226h1M46 227h1M97 227h1M104 227h1M33 228h1M35 228h2M48 229h1M95 229h1M100 229h1M43 230h1M44 233h1"/>
<path stroke="#bdff00" d="M59 0h1M52 4h1M51 5h1M59 6h1M64 6h1M52 7h1M51 8h1M61 8h1M72 8h2M64 9h1M66 9h1M47 10h1M62 10h1M71 10h1M77 10h1M49 11h1M68 11h1M70 11h1M78 11h1M49 12h1M65 12h1M69 12h1M71 12h1M51 13h1M63 13h1M68 13h2M74 13h1M76 13h1M63 14h1M66 14h1M74 14h1M78 14h1M117 14h1M26 15h1M50 15h1M60 15h1M64 15h1M70 15h1M105 15h1M114 15h1M36 16h1M40 16h1M42 16h1M59 16h1M63 16h1M85 16h1M110 16h1M11 17h1M13 17h2M32 17h1M37 17h2M52 17h1M84 17h1M98 17h2M104 17h2M114 17h1M3 18h1M6 18h1M12 18h1M30 18h1M50 18h1M53 18h1M61 18h2M82 18h1M92 18h1M95 18h2M98 18h1M100 18h1M104 18h1M108 18h1M113 18h1M9 19h1M27 19h3M37 19h1M50 19h1M53 19h2M62 19h1M84 19h1M91 19h1M102 19h1M104 19h1M110 19h1M113 19h1M119 19h2M0 20h1M17 20h1M25 20h1M51 20h1M54 20h1M63 20h1M79 20h1M83 20h1M94 20h1M102 20h1M3 21h1M9 21h1M28 21h1M35 21h1M44 21h2M52 21h1M55 21h1M57 21h1M62 21h1M74 21h1M81 21h1M101 21h1M113 21h3M117 21h2M4 22h2M35 22h1M41 22h1M44 22h1M59 22h1M62 22h1M89 22h1M110 22h1M5 23h1M7 23h1M25 23h1M42 23h1M46 23h1M56 23h1M62 23h1M66 23h1M79 23h1M92 23h1M33 24h1M55 24h1M58 24h1M69 24h2M74 24h1M79 24h2M93 24h1M119 24h2M42 25h2M57 25h1M62 25h2M66 25h1M75 25h1M95 25h1M30 26h1M56 26h1M66 26h1M72 26h1M65 27h1M69 27h1M80 27h1M76 28h1M65 29h1M67 29h2M72 29h1M84 29h1M72 30h1M76 30h1M68 31h1M77 31h1M81 31h1M77 32h1M79 32h1M68 33h1M77 36h1M78 37h1M71 39h1M77 39h1M77 43h1M119 48h2M119 49h2M0 50h2M3 50h1M119 51h2M71 52h1M0 53h1M118 53h1M116 54h1M1 58h1M114 58h1M2 59h2M35 60h1M114 60h1M0 61h1M2 61h1M70 61h1M0 62h1M112 62h1M3 63h1M34 64h1M111 64h1M35 66h1M110 66h1M35 67h1M110 67h1M112 68h1M3 69h1M83 69h1M68 71h1M2 72h2M109 72h1M69 73h1M84 73h1M109 74h1M1 75h1M67 75h1M2 76h1M85 76h1M88 76h1M90 76h1M76 77h1M79 77h1M108 77h1M78 78h1M87 78h1M87 79h1M105 79h1M1 80h1M73 80h1M81 80h1M83 80h1M89 80h1M108 80h1M105 81h3M36 82h1M76 82h1M97 82h1M101 82h1M96 83h1M98 83h1M71 84h1M73 84h1M95 84h2M93 85h1M36 86h1M70 86h1M72 86h1M107 88h1M108 89h1M95 90h1M70 91h1M94 91h1M35 93h2M70 94h1M82 96h1M70 97h1M74 97h1M74 98h1M1 99h1M73 99h1M37 100h1M41 100h1M74 100h1M70 101h1M70 102h1M68 104h1M35 105h1M74 105h1M75 106h1M71 108h1M75 108h1M0 110h1M67 112h1M70 112h1M77 113h1M37 114h1M75 116h1M1 118h2M30 119h2M81 119h1M79 120h1M78 122h1M30 123h1M77 123h2M108 125h1M65 126h1M0 127h1M109 127h1M2 128h1M111 128h1M111 129h1M79 130h1M116 130h1M4 131h1M108 131h1M115 131h1M31 132h1M73 132h1M79 132h1M81 132h2M103 132h1M115 133h1M78 134h1M103 134h1M79 135h1M81 135h1M116 135h2M31 136h1M108 136h1M81 137h1M119 137h2M105 138h1M104 139h1M110 139h1M74 140h1M76 140h1M92 140h1M102 141h1M104 141h1M78 142h1M101 142h2M104 142h1M101 143h2M80 144h1M100 144h1M73 145h1M30 146h1M73 146h1M63 147h1M66 147h1M75 147h1M82 147h1M94 147h1M99 147h1M100 148h1M102 148h1M96 149h1M98 149h1M75 150h1M98 150h1M31 151h1M94 151h1M96 151h1M65 152h1M79 152h1M90 152h1M95 152h1M97 152h1M93 153h2M96 153h1M98 153h1M30 154h1M64 154h2M74 154h1M85 154h1M90 154h1M93 154h1M95 154h1M87 155h1M95 155h1M67 156h1M82 156h1M92 156h1M61 157h1M81 157h1M63 158h1M72 158h1M75 158h1M88 158h1M64 159h1M91 159h1M31 160h1M75 160h1M89 160h1M71 161h1M74 161h1M89 161h1M91 161h1M63 162h1M80 162h1M82 162h2M65 163h1M87 163h1M68 164h2M89 164h1M91 164h1M59 165h1M68 165h1M71 166h2M74 166h1M67 167h1M69 167h1M81 167h1M69 168h1M83 169h1M59 170h1M64 170h1M78 170h1M64 172h1M69 172h1M81 172h2M61 173h1M70 173h1M61 176h1M74 176h1M82 176h1M60 177h1M62 177h1M69 177h1M71 178h1M58 179h1M60 179h1M63 180h1M81 180h1M63 181h2M79 181h1M64 182h1M66 182h1M58 183h1M63 183h1M68 183h2M60 184h1M75 184h3M72 185h1M77 185h1M71 186h1M74 186h1M62 187h1M77 187h1M66 188h1M59 189h1M61 189h1M76 189h1M67 190h1M64 191h1M75 191h1M61 192h1M67 192h1M58 193h1M67 193h1M61 195h2M64 195h1M73 196h1M58 197h1M61 199h1M58 201h1M61 201h1M62 202h1M100 205h1M96 208h1M92 210h1M96 210h1M101 210h1M100 211h1M104 211h1M99 212h1M101 212h1M103 212h1M93 213h1M103 213h1M94 214h2M103 214h1M55 215h1M93 215h3M103 215h1M92 216h1M92 217h1M94 217h1M103 217h1M105 218h1M89 219h1M103 219h1M107 219h1M109 219h1M89 220h2M92 220h1M89 221h1M103 221h1M105 221h1M108 221h1M112 221h1M84 222h1M94 222h1M106 223h1M92 224h1M98 224h1M89 225h1M103 225h1M101 227h1M96 228h1M43 229h1M42 231h1M46 231h1M44 232h1M37 233h1M43 233h1M37 234h1"/>
<path stroke="#f5ff00" d="M59 1h1M51 2h1M52 3h1M58 3h3M52 5h1M63 5h1M51 6h1M60 6h1M63 6h1M51 7h1M73 7h1M53 8h1M61 9h1M71 9h1M51 10h1M64 10h1M66 10h1M72 10h1M64 12h1M68 12h1M52 13h1M59 13h1M65 13h2M70 14h1M45 15h1M51 15h1M53 15h1M97 15h1M100 15h1M107 15h1M111 15h1M115 15h1M5 16h1M45 16h1M52 16h1M64 16h1M88 16h1M94 16h1M114 16h4M119 16h2M4 17h1M20 17h1M29 17h1M46 17h1M50 17h1M62 17h1M89 17h1M93 17h1M103 17h1M113 17h1M118 17h1M14 18h1M28 18h1M36 18h1M38 18h1M40 18h2M49 18h1M51 18h1M63 18h1M81 18h1M91 18h1M107 18h1M1 19h1M30 19h2M45 19h1M48 19h2M60 19h1M83 19h1M88 19h2M93 19h1M95 19h2M114 19h1M117 19h1M33 20h1M35 20h1M41 20h1M43 20h2M50 20h1M52 20h1M97 20h1M108 20h1M119 20h2M46 21h1M63 21h1M66 21h1M80 21h1M86 21h1M89 21h1M94 21h1M112 21h1M116 21h1M29 22h1M37 22h1M45 22h1M54 22h1M63 22h1M70 22h1M119 22h2M39 23h1M57 23h1M63 23h1M65 23h1M73 23h1M115 23h2M36 24h1M39 24h1M44 24h1M59 24h1M62 24h1M75 24h1M5 25h1M30 25h1M79 25h2M69 26h2M68 27h1M73 28h1M77 28h1M79 29h1M79 30h1M69 32h1M79 33h1M80 35h1M78 39h1M80 39h1M79 42h1M0 46h1M73 49h1M118 51h1M5 52h1M68 52h1M116 52h1M119 53h2M119 54h2M115 55h1M0 56h1M71 56h1M115 59h1M34 63h1M112 63h1M0 64h1M112 64h1M111 65h1M111 66h1M2 67h2M111 67h1M1 71h2M77 75h1M88 75h1M108 75h2M1 76h1M77 76h1M84 76h1M89 76h1M2 77h1M81 77h1M89 77h1M77 78h1M82 78h1M84 78h1M109 78h1M106 79h1M78 80h2M82 80h1M83 81h1M73 82h1M89 82h1M90 83h1M97 83h1M105 83h1M91 84h1M99 84h1M36 85h1M94 85h1M71 86h1M82 86h1M95 87h2M105 87h1M34 91h1M36 91h1M109 91h1M36 92h1M71 94h1M92 94h1M72 95h1M37 97h1M35 98h1M36 99h1M69 99h2M95 99h1M73 100h1M37 101h1M72 101h1M74 101h1M75 102h1M35 103h1M38 103h2M39 104h1M38 105h1M30 106h1M39 106h1M75 107h1M30 108h1M30 109h1M39 109h1M30 110h1M74 110h1M36 111h1M65 111h1M1 112h1M75 112h2M30 114h1M75 114h1M75 115h2M30 116h1M113 116h1M0 119h1M79 119h1M80 120h1M1 121h1M30 121h1M112 121h1M78 124h2M113 124h1M78 125h1M113 126h1M110 127h1M116 128h1M31 129h1M79 129h1M80 130h1M107 130h1M110 130h1M78 131h1M80 131h1M80 132h1M118 132h1M80 133h1M106 133h1M76 134h2M81 134h1M106 134h1M118 134h1M77 135h1M77 136h1M79 136h1M82 136h1M78 138h2M104 138h1M103 139h1M31 140h1M79 140h1M99 140h1M77 141h1M79 141h1M101 141h1M82 142h1M92 142h1M100 142h1M73 143h1M82 143h1M98 143h2M93 144h1M99 144h1M82 145h1M100 145h1M79 146h1M95 146h1M80 147h1M90 147h1M93 147h1M31 148h1M93 148h1M31 149h1M82 149h1M90 149h1M30 150h1M81 150h1M100 150h1M90 151h1M95 151h1M31 152h1M92 152h2M31 153h1M76 153h1M85 153h1M87 153h1M84 154h1M87 154h1M92 154h1M66 155h1M72 155h1M75 155h1M79 155h1M89 155h1M91 155h1M30 156h1M74 156h1M79 156h1M75 157h1M90 157h2M79 158h1M81 158h1M65 159h1M76 159h1M81 159h1M90 159h1M72 160h1M81 160h1M86 160h1M91 160h1M64 161h1M62 162h1M79 162h1M81 162h1M61 163h2M79 163h1M83 163h2M67 164h1M81 164h1M73 165h1M84 165h1M62 166h3M61 167h1M63 167h1M70 167h2M62 168h1M73 168h1M76 168h1M63 169h1M65 169h1M68 169h1M70 169h1M67 171h1M70 171h1M61 172h1M65 172h1M72 172h1M80 172h1M63 173h2M72 173h1M74 173h1M61 174h1M65 174h1M75 174h1M81 175h1M60 176h1M62 176h1M78 176h1M61 177h1M64 177h1M74 177h1M80 178h2M62 179h1M71 179h2M62 180h1M73 180h1M61 181h1M70 181h2M75 181h1M77 181h1M59 182h1M65 184h1M73 184h1M79 184h1M58 185h1M62 185h1M66 185h1M73 185h1M79 185h1M63 186h2M72 186h1M75 186h1M58 187h1M64 187h1M68 187h1M74 187h1M79 187h2M64 188h1M67 188h1M77 188h1M65 189h1M67 189h1M60 190h1M63 191h1M60 193h3M58 194h1M73 194h1M65 195h1M59 196h1M59 198h1M61 198h1M59 199h1M61 200h1M57 202h1M100 208h1M98 209h1M101 209h1M97 210h2M102 210h1M93 212h1M98 212h1M91 213h1M104 213h1M92 214h1M105 215h1M105 217h1M111 219h1M106 220h1M90 221h1M109 222h1M88 223h1M93 224h1M105 224h1M91 225h1M97 225h2M104 225h1M95 226h1M99 226h4M100 227h1M47 228h1M44 229h1M46 230h1M43 231h1"/>
<path stroke="#feff00" d="M56 1h1M56 3h1M59 4h1M53 6h1M63 7h1M52 8h1M63 8h1M74 8h1M63 9h1M72 9h1M60 10h1M67 10h1M74 10h1M59 11h1M62 11h1M73 11h1M77 11h1M52 12h1M60 12h2M70 12h1M74 12h1M81 12h1M60 13h1M72 13h2M75 13h1M45 14h1M50 14h1M58 14h1M47 15h1M49 15h1M54 15h1M80 15h1M96 15h1M48 16h2M53 16h2M60 16h1M81 16h1M95 16h1M113 16h1M18 17h1M27 17h1M44 17h1M48 17h2M70 17h1M85 17h2M94 17h3M101 17h1M110 17h1M5 18h1M10 18h1M15 18h1M24 18h1M26 18h1M35 18h1M39 18h1M47 18h1M55 18h1M80 18h1M88 18h1M109 18h1M116 18h2M3 19h1M25 19h1M39 19h2M63 19h1M80 19h2M4 20h1M34 20h1M39 20h2M60 20h2M80 20h1M87 20h1M99 20h1M117 20h1M25 21h1M38 21h2M65 21h1M79 21h1M34 22h1M40 22h1M42 22h1M50 22h1M52 22h1M64 22h1M80 22h1M112 22h1M60 23h1M80 23h1M26 24h1M63 24h1M66 24h1M72 24h1M1 25h1M36 25h1M38 25h1M71 25h2M48 26h1M64 26h2M77 26h2M73 33h1M73 34h1M119 52h2M116 53h2M114 56h1M2 58h1M34 61h1M1 62h2M35 62h1M2 63h1M113 64h1M112 65h1M0 66h1M34 66h1M112 66h1M110 68h1M0 73h1M83 73h1M83 74h1M87 76h1M80 77h1M84 77h1M107 77h1M80 78h2M108 78h1M85 79h1M35 80h1M78 82h1M91 82h1M102 82h1M105 82h1M107 82h2M76 83h1M92 83h1M75 84h1M100 84h1M106 84h1M75 85h1M82 85h1M90 85h1M95 85h1M99 85h1M103 85h1M105 85h1M102 86h2M108 86h1M72 87h1M92 87h1M72 88h1M106 88h1M36 90h1M69 90h1M72 90h1M74 90h1M105 90h1M74 91h1M97 91h1M107 91h1M72 92h1M34 93h1M37 93h1M96 93h1M71 95h1M37 96h2M92 96h1M96 96h1M97 97h1M36 98h1M35 99h1M38 99h1M74 99h1M92 99h1M71 100h1M75 100h1M73 102h1M70 103h1M73 103h1M76 103h1M71 104h3M76 105h1M38 107h1M30 112h1M37 113h1M36 114h1M79 114h1M37 116h1M78 116h1M77 118h1M1 119h1M77 120h1M109 122h1M111 122h1M79 123h2M110 123h1M112 123h2M112 124h1M80 125h2M110 125h1M113 125h1M79 127h1M109 128h1M115 128h1M104 129h1M115 129h1M108 130h1M81 131h1M81 133h1M101 133h1M103 133h1M107 133h1M31 134h1M113 134h1M31 135h1M105 135h1M119 135h2M78 136h1M31 137h1M31 138h1M83 138h1M101 138h2M76 141h1M93 142h1M96 142h1M98 142h1M81 143h1M93 143h1M96 143h1M100 143h1M75 144h1M96 144h2M102 144h1M79 145h1M92 145h1M94 145h1M97 146h1M31 147h1M81 147h1M84 147h1M96 147h1M79 148h1M94 148h1M97 148h1M92 149h1M94 149h2M31 150h1M90 150h1M95 150h1M85 151h1M92 151h1M98 151h1M81 152h1M82 153h1M92 153h1M95 153h1M76 154h1M79 154h1M97 154h1M76 155h1M84 155h1M90 155h1M78 156h1M88 156h1M93 156h1M65 157h1M80 157h1M83 157h1M91 158h1M82 159h1M68 160h1M79 160h1M82 160h1M63 161h1M83 161h1M75 162h1M91 162h1M69 163h1M74 163h2M80 163h1M91 163h1M72 164h1M67 165h1M75 165h1M65 166h1M79 166h2M72 167h2M72 168h1M75 168h1M79 169h1M62 170h1M69 170h2M72 170h1M74 170h1M80 170h1M82 170h1M61 171h1M68 171h1M71 171h1M74 171h2M79 171h1M62 172h1M66 173h1M69 173h1M64 174h1M70 174h1M80 174h1M62 175h4M69 175h1M75 175h1M63 176h1M66 177h2M70 177h1M72 177h2M57 178h1M62 178h1M66 178h1M68 178h2M72 178h1M78 178h2M61 179h1M66 179h1M76 179h2M69 180h1M66 181h1M68 182h1M70 182h2M60 183h2M64 183h1M80 183h1M62 184h1M68 186h1M73 186h1M66 187h2M72 187h1M75 187h1M78 187h1M61 188h3M65 188h1M62 189h1M62 191h1M67 191h1M58 195h1M60 195h1M58 196h1M60 196h1M59 197h2M98 208h1M101 208h1M96 209h1M93 210h1M100 210h1M96 212h2M105 213h1M96 214h1M104 214h1M91 215h1M94 216h2M104 217h1M92 218h1M91 221h1M89 222h1M103 222h1M93 223h1M110 223h1M94 224h1M100 224h2M104 224h1M96 225h1M101 225h1M93 226h1M97 226h1M35 227h1M98 227h1M98 228h1M38 229h1M37 230h1M44 231h1"/>
<path stroke="#fff800" d="M52 1h1M56 2h1M59 2h1M53 4h1M65 7h1M54 8h1M59 8h1M62 8h1M64 8h1M65 9h1M65 10h1M68 10h1M73 10h1M66 11h1M51 12h1M57 12h1M62 12h1M58 13h1M61 13h1M64 13h1M59 14h1M62 14h1M65 14h1M73 14h1M76 14h1M61 15h2M66 15h2M27 16h1M61 16h1M86 16h1M24 17h1M26 17h1M28 17h1M72 17h1M112 17h1M119 17h2M46 18h1M59 18h1M79 18h1M86 18h1M24 19h1M43 19h1M59 19h1M72 19h1M79 19h1M14 20h1M55 20h3M62 20h1M95 20h1M33 21h1M37 21h1M40 21h1M42 21h1M58 21h1M60 21h1M64 21h1M13 22h1M57 22h1M69 22h1M71 22h1M73 22h1M75 22h1M78 22h1M55 23h1M61 23h1M69 23h2M72 23h1M75 23h1M113 23h1M59 25h1M67 25h1M77 25h1M57 26h1M78 28h1M80 28h1M75 29h1M79 41h1M79 44h1M1 54h1M118 54h1M72 55h1M117 55h1M119 55h2M117 57h1M118 58h1M0 59h1M116 59h1M116 61h1M116 62h1M114 63h1M0 65h1M2 65h1M0 68h1M0 70h1M2 70h1M109 70h1M0 72h1M83 72h1M2 73h1M109 73h1M82 74h1M82 76h2M83 77h1M86 77h2M83 78h1M86 78h1M80 79h1M83 79h1M89 79h1M107 79h1M84 80h1M106 80h2M108 81h1M88 82h1M77 83h1M87 83h1M106 83h1M92 84h1M112 84h1M70 85h1M91 85h1M98 85h1M100 85h1M2 86h1M98 86h1M105 86h1M107 86h1M109 86h1M71 87h1M81 87h1M94 87h1M99 87h2M103 87h1M73 88h1M75 88h1M93 88h1M96 88h1M36 89h1M71 89h2M92 89h4M107 89h1M70 90h1M96 90h2M107 90h1M112 90h1M93 91h1M95 91h1M95 92h1M103 92h1M106 92h1M74 93h1M93 93h1M95 93h1M107 93h1M81 95h2M95 95h1M97 95h1M106 95h1M70 96h1M73 96h2M95 96h1M35 97h1M72 97h1M93 97h1M38 98h1M95 98h1M71 99h1M106 99h1M36 100h1M38 101h1M72 102h1M71 103h2M68 105h1M75 105h1M76 106h2M76 109h1M76 110h1M79 110h1M77 111h1M73 113h1M77 115h1M77 116h1M78 118h2M113 119h1M77 121h1M80 122h2M110 122h1M107 123h1M30 124h1M109 125h1M115 125h1M116 126h1M114 127h1M117 127h1M79 128h1M107 128h2M30 129h1M80 129h1M106 129h2M116 129h2M81 130h1M103 130h1M115 130h1M105 131h2M102 132h1M31 133h1M83 133h1M105 133h1M117 133h1M119 133h2M83 135h1M103 135h1M80 136h1M99 136h1M105 136h1M107 136h1M100 137h1M81 138h2M100 138h1M103 138h1M77 139h2M90 139h1M102 139h1M78 140h1M98 140h1M31 141h1M98 141h1M100 141h1M97 142h1M81 144h1M95 144h1M80 145h2M83 145h1M97 145h1M78 146h1M82 146h1M92 146h1M96 146h1M79 147h1M87 147h1M92 147h1M97 147h1M81 148h1M91 148h1M96 148h1M81 149h1M83 149h1M91 150h3M96 150h1M76 151h1M80 151h1M84 151h1M75 152h1M84 152h1M87 152h2M94 152h1M96 152h1M75 153h1M81 153h1M82 154h1M88 154h1M93 155h1M83 156h1M91 156h1M84 157h1M89 157h1M64 158h2M78 160h1M75 161h1M76 162h1M64 163h1M77 163h1M61 165h1M73 166h1M64 167h2M80 167h1M71 168h1M62 169h1M76 169h1M66 170h1M71 170h1M76 170h1M62 171h1M66 171h1M72 171h1M68 172h1M71 172h1M62 173h1M68 173h1M81 173h1M62 174h1M69 174h1M73 174h2M79 174h1M60 175h1M66 175h1M76 175h1M66 176h1M69 176h1M68 177h1M75 177h2M79 177h1M64 178h1M70 178h1M69 179h1M75 179h1M79 179h2M64 180h4M75 180h1M67 181h1M72 181h1M74 181h1M78 181h1M60 182h1M75 182h1M77 182h3M66 183h1M76 183h2M61 184h1M71 184h1M60 185h1M63 185h1M67 185h2M76 185h1M60 186h1M62 186h1M66 186h1M60 187h1M65 187h1M60 188h1M73 190h1M61 191h1M62 192h2M60 194h1M59 195h1M60 199h1M59 200h1M97 207h1M99 209h1M94 211h1M98 211h2M94 212h2M100 212h1M97 213h1M99 213h1M93 214h1M101 214h1M96 215h1M93 217h1M78 218h1M91 218h1M93 218h1M103 218h1M104 219h2M91 220h1M99 220h1M103 220h1M105 220h1M104 221h1M92 222h1M101 222h1M96 224h1M99 224h1M45 231h1M37 232h1"/>
<path stroke="#ffee00" d="M52 0h1M54 1h1M53 5h1M58 6h1M65 6h1M62 7h1M66 8h1M53 9h1M60 9h1M53 10h1M58 10h1M53 11h1M67 11h1M53 12h2M54 13h1M57 13h1M71 13h1M77 13h1M51 14h1M69 14h1M69 15h1M73 15h1M44 16h1M66 16h1M72 16h1M104 16h1M118 16h1M5 17h1M34 17h1M39 17h1M42 17h1M45 17h1M56 17h1M60 17h1M63 17h1M82 17h1M91 17h1M97 17h1M4 18h1M27 18h1M42 18h1M52 18h1M54 18h1M58 18h1M87 18h1M38 19h1M44 19h1M64 19h1M36 20h1M59 20h1M64 20h1M66 20h1M82 20h1M30 21h1M41 21h1M43 21h1M70 21h1M91 21h1M97 21h1M0 22h1M58 22h1M60 22h1M79 22h1M57 24h1M65 24h1M76 25h1M67 26h2M71 27h1M80 36h1M79 43h1M71 51h1M115 54h1M117 54h1M117 56h2M115 57h2M116 58h1M116 60h1M35 61h1M113 61h2M114 62h1M35 64h1M1 66h1M0 67h2M1 68h1M0 69h3M110 70h1M0 71h1M109 71h2M0 74h1M111 74h1M83 75h1M109 76h1M112 76h1M109 77h1M110 78h1M82 79h1M84 79h1M108 79h1M86 80h2M113 80h1M79 81h1M84 81h1M87 81h1M89 81h2M92 81h1M111 81h2M83 82h2M87 82h1M81 83h2M107 83h3M78 84h1M82 84h1M102 84h1M108 84h1M71 85h1M74 85h1M83 85h1M101 85h1M106 85h1M74 86h1M91 86h1M93 86h1M95 86h1M97 86h1M101 86h1M106 86h1M36 87h1M73 87h1M97 87h1M106 87h1M108 87h1M111 87h1M71 88h1M81 88h1M94 88h1M97 88h1M99 88h1M103 88h1M105 88h1M73 89h4M96 89h2M106 89h1M99 90h1M103 90h1M106 90h1M82 91h1M103 91h2M111 91h1M82 92h1M92 92h1M97 92h1M69 93h1M76 93h1M82 93h1M97 93h1M106 93h1M109 93h1M112 93h1M35 94h2M76 94h1M95 94h1M97 94h1M112 94h1M34 95h1M69 95h2M74 95h1M93 95h2M107 95h1M36 96h1M71 96h1M73 97h1M37 98h1M109 98h1M37 99h1M72 99h1M75 99h1M76 100h1M107 100h1M75 101h1M112 101h1M76 102h1M96 102h1M79 103h1M38 104h1M75 104h1M71 105h1M96 105h1M109 105h1M79 106h1M76 108h1M81 108h1M95 108h1M109 110h1M77 112h1M75 113h1M113 113h1M76 114h1M30 115h1M80 115h1M112 115h1M79 116h1M1 117h1M112 118h1M111 120h3M81 123h1M81 124h1M114 124h1M107 125h1M115 126h1M80 127h1M115 127h2M80 128h1M118 128h1M82 129h1M119 129h2M83 130h1M119 130h2M107 131h1M116 131h1M119 131h2M104 132h1M119 132h2M80 134h1M97 134h1M101 134h1M78 135h1M82 135h1M104 135h1M81 136h1M90 136h1M97 136h1M77 137h2M82 137h3M101 137h1M77 138h1M94 138h1M98 138h1M80 139h1M98 139h1M100 139h2M100 140h2M81 141h1M92 141h1M94 141h1M80 142h2M90 142h2M94 143h2M31 144h1M73 144h1M77 144h1M90 144h2M90 145h2M88 147h1M75 148h2M82 148h1M88 148h3M80 149h1M85 149h1M79 150h1M82 150h1M84 150h1M83 152h1M89 152h1M64 153h1M80 153h1M83 153h1M90 153h1M97 153h1M75 154h1M86 154h1M82 155h1M86 155h1M92 155h1M87 156h1M89 156h1M78 157h1M78 158h1M92 159h1M62 161h1M76 161h1M77 162h2M73 163h1M76 163h1M75 164h2M76 165h1M81 165h1M75 167h2M61 169h1M71 169h1M73 169h1M75 169h1M79 170h1M81 170h1M64 171h1M76 171h2M63 172h1M67 172h1M75 172h1M79 172h1M67 173h1M71 173h1M63 174h1M67 174h1M71 174h1M61 175h1M71 175h1M78 175h1M73 176h1M76 176h1M80 177h1M65 178h1M67 178h1M75 178h1M63 179h1M65 179h1M61 180h1M68 180h1M74 180h1M76 180h1M79 180h1M76 181h1M62 182h2M67 182h1M80 182h1M65 183h1M71 183h1M73 183h2M63 184h1M68 184h1M74 185h1M61 187h1M75 188h1M63 189h1M61 190h1M59 194h1M61 194h1M97 211h1M101 211h2M102 212h1M94 213h2M100 213h3M102 214h1M97 215h2M101 215h1M98 216h1M100 216h1M95 217h1M94 218h1M99 218h1M92 219h1M93 220h1M104 220h1M99 221h1M93 222h1M104 223h1M91 224h1M103 224h1M93 225h1M99 225h1M92 226h1M36 227h1M38 230h1M36 231h1M36 233h1"/>
<path stroke="#ffda00" d="M58 1h1M52 2h1M58 4h1M60 5h1M59 7h1M64 7h1M60 8h1M65 8h1M52 9h1M59 9h1M67 9h1M59 10h1M63 10h1M57 11h1M63 11h1M73 12h1M67 14h1M75 14h1M55 15h2M58 15h1M65 15h1M76 15h1M26 16h1M51 16h1M58 16h1M67 16h1M69 16h3M80 16h1M30 17h1M43 17h1M61 17h1M79 17h1M33 18h1M56 18h1M64 18h1M89 18h1M119 18h2M26 19h1M35 19h1M70 19h1M37 20h1M42 20h1M65 20h1M73 20h1M59 21h1M72 21h1M75 21h1M33 22h1M43 22h1M72 22h1M74 23h1M115 56h1M115 58h1M115 61h1M115 62h1M113 63h1M113 65h2M113 66h1M111 68h1M110 69h1M35 72h1M112 73h1M82 75h1M111 75h1M0 76h1M110 76h1M0 77h1M35 77h1M82 77h1M85 77h1M110 77h1M88 79h1M112 79h1M80 80h1M105 80h1M80 81h1M85 81h1M109 81h2M79 82h2M106 82h1M110 82h1M112 82h1M91 83h1M112 83h1M77 84h1M97 84h1M73 85h1M96 85h1M110 85h2M75 86h1M96 86h1M99 86h2M112 86h1M77 87h1M76 88h1M91 88h1M98 88h1M104 88h1M108 88h1M111 88h1M82 89h1M98 89h1M104 89h1M111 89h1M71 90h1M108 90h2M73 91h1M92 91h1M34 92h1M70 92h1M76 92h1M93 92h1M98 92h1M107 92h1M94 93h1M104 93h1M73 94h1M75 94h1M93 94h2M103 94h1M109 94h1M75 95h1M108 95h1M111 95h1M75 96h1M90 96h1M108 96h1M75 97h1M103 97h1M93 98h1M96 98h1M76 99h2M93 100h1M94 101h2M38 102h1M71 102h1M95 102h1M107 102h2M96 103h1M95 104h1M98 104h1M78 106h1M98 106h1M77 108h1M77 109h1M93 109h1M112 109h1M78 110h1M37 111h1M79 111h1M37 112h1M36 113h1M76 113h1M79 117h3M111 117h2M111 118h1M78 119h1M111 119h1M114 119h2M110 120h1M114 120h1M79 121h1M110 121h2M113 121h1M108 123h1M111 123h1M114 123h1M108 124h1M115 124h1M30 125h1M116 125h1M81 126h2M107 126h1M106 127h1M117 128h1M104 130h1M117 130h2M83 132h1M106 132h1M97 133h1M102 133h1M100 135h2M84 136h1M92 136h1M79 137h1M94 137h1M98 137h1M80 138h1M81 139h1M83 139h1M93 139h1M95 139h1M81 140h1M94 140h2M82 141h3M91 141h1M93 141h1M95 141h1M76 142h2M94 142h1M79 143h2M97 143h1M82 144h1M98 144h1M77 145h1M98 145h1M31 146h1M76 146h1M80 146h1M90 146h1M93 146h1M98 146h1M78 147h1M83 147h1M91 147h1M77 148h1M80 148h1M84 148h2M87 148h1M95 148h1M79 149h1M88 149h1M78 150h1M97 150h1M79 151h1M81 151h1M89 151h1M82 152h1M79 153h1M84 153h1M86 153h1M88 153h2M80 154h1M83 154h1M89 154h1M80 155h2M77 156h1M80 156h2M76 157h1M77 158h1M89 158h1M79 159h1M80 160h1M80 164h1M80 165h1M77 166h1M79 167h1M78 168h1M67 169h1M80 169h1M65 170h1M68 170h1M69 171h1M78 171h1M80 171h1M66 172h1M70 172h1M76 172h1M78 172h1M75 173h1M78 173h1M68 174h1M76 174h1M67 175h2M67 176h1M72 176h1M75 176h1M77 176h1M71 177h1M77 177h1M64 179h1M67 179h1M72 180h1M62 181h1M69 181h1M73 181h1M69 182h1M76 182h1M62 183h1M72 183h1M67 184h1M78 184h1M59 185h1M75 185h1M65 186h1M77 186h1M73 188h1M63 190h1M60 198h1M102 209h1M97 214h1M99 214h1M104 215h1M89 216h1M91 216h1M97 216h1M101 216h1M91 217h1M101 217h1M98 218h1M101 218h2M93 219h1M101 219h1M101 220h1M92 221h1M91 222h1M102 222h1M104 222h1M91 223h1M95 223h1M101 223h2M105 223h1M102 224h1M92 225h1M102 225h1"/>
<path stroke="#ffbe00" d="M55 2h1M52 6h1M58 9h1M54 10h1M51 11h1M58 11h1M65 11h1M58 12h1M56 13h1M64 14h1M71 14h1M52 15h1M59 15h1M63 15h1M68 15h1M72 15h1M50 16h1M56 16h1M65 16h1M78 16h1M51 17h1M53 17h1M57 17h1M66 17h1M80 17h1M44 18h1M57 18h1M66 18h1M70 18h1M73 18h1M56 19h1M58 19h1M65 19h2M118 19h1M58 20h1M74 20h1M56 21h1M69 21h1M73 21h1M78 21h1M66 22h1M68 22h1M38 23h1M68 23h1M71 23h1M78 23h1M67 24h2M61 25h1M70 25h1M71 26h1M77 27h1M116 56h1M118 57h1M117 59h1M118 62h1M114 64h2M112 67h2M111 69h1M34 70h1M82 70h1M111 71h1M110 72h1M35 74h1M112 74h1M110 75h1M111 76h1M111 77h1M34 78h1M89 78h1M109 79h1M85 80h1M109 80h1M111 80h1M78 81h1M81 81h2M109 82h1M78 83h2M104 84h2M109 84h1M111 84h1M76 85h2M109 85h1M112 85h1M90 86h1M94 86h1M104 86h1M110 86h2M76 87h1M91 87h1M93 87h1M98 87h1M102 87h1M74 88h1M90 88h1M112 88h1M81 89h1M90 89h1M99 89h1M102 89h1M105 89h1M110 89h1M73 90h1M75 90h1M82 90h1M90 90h1M93 90h1M110 90h1M35 91h1M71 91h1M76 91h1M96 91h1M98 91h1M105 91h1M110 91h1M74 92h2M81 92h1M94 92h1M105 92h1M70 93h1M73 93h1M92 93h1M103 93h1M105 93h1M111 93h1M34 94h1M96 94h1M104 94h2M107 94h1M35 95h2M92 95h1M96 95h1M103 95h3M35 96h1M72 96h1M81 96h1M93 96h2M97 96h2M105 96h1M107 96h1M95 97h1M107 97h1M111 97h2M75 98h1M91 98h1M94 98h1M106 98h1M113 98h1M91 99h1M94 99h1M105 100h1M71 101h1M81 101h1M93 101h1M96 101h1M98 101h1M77 102h1M79 102h1M82 102h1M94 102h1M74 103h2M94 103h1M98 103h1M112 103h1M95 105h1M81 106h1M93 107h2M112 107h1M79 108h1M112 108h1M78 109h2M111 109h1M37 110h1M93 110h1M112 111h1M109 112h1M30 113h1M95 113h1M111 113h1M78 115h1M108 116h1M112 116h1M109 117h1M80 118h1M108 118h1M112 119h1M82 121h1M116 121h1M108 122h1M82 124h1M110 124h1M116 124h1M117 126h1M103 128h1M105 128h1M81 129h1M83 129h1M103 129h1M108 129h1M82 130h1M98 130h1M82 131h1M93 131h1M118 131h1M85 132h1M97 132h1M100 132h1M105 132h1M100 133h1M104 133h1M82 134h1M99 134h1M102 134h1M104 134h1M80 135h1M93 135h1M97 135h1M83 136h1M98 136h1M101 136h1M104 136h1M95 137h1M99 137h1M102 137h1M82 140h1M96 140h1M102 140h1M78 141h1M80 141h1M79 142h1M95 142h1M77 143h1M91 143h2M84 144h1M92 144h1M95 145h2M81 146h1M87 146h1M91 146h1M77 147h1M85 147h1M83 148h1M78 149h1M84 149h1M87 149h1M83 150h1M86 150h1M94 150h1M77 151h1M82 151h2M86 151h3M93 151h1M97 151h1M76 152h1M78 152h1M86 152h1M91 152h1M31 154h1M79 157h1M76 158h1M77 159h1M80 159h1M77 161h2M78 164h2M77 165h2M75 166h2M74 167h1M77 168h1M67 170h1M73 172h1M77 172h1M65 173h1M73 173h1M76 173h1M77 175h1M70 176h1M63 177h1M78 177h1M76 178h1M68 179h1M78 179h1M71 180h1M78 180h1M80 180h1M68 181h1M61 182h1M72 182h2M67 183h1M75 183h1M98 214h1M100 214h1M102 215h1M96 217h1M100 217h1M104 218h1M94 219h1M99 219h1M96 223h3M100 223h1M97 224h1M95 225h1M36 230h1M44 230h2M37 231h1M36 232h1M36 234h1"/>
<path stroke="#ff9a00" d="M53 7h1M58 7h1M60 7h1M54 9h1M56 11h1M59 12h1M72 12h1M70 13h1M54 14h1M56 14h1M72 14h1M77 15h2M55 16h1M73 16h1M25 17h1M54 17h2M58 17h2M65 17h1M67 17h1M45 18h1M67 18h1M55 19h1M71 19h1M74 19h1M78 19h1M67 20h1M72 20h1M78 20h1M67 22h1M67 23h1M116 55h1M118 55h1M118 59h1M117 61h2M81 63h1M115 63h1M117 63h1M81 64h1M116 64h2M112 70h1M83 71h1M111 72h1M82 73h1M86 76h1M113 78h1M34 79h2M110 79h1M82 82h1M111 82h1M83 83h1M110 83h2M83 84h1M90 84h1M113 84h1M85 85h1M92 85h1M97 85h1M102 85h1M107 85h2M81 86h1M75 87h1M89 87h2M109 87h1M77 88h1M82 88h2M92 88h1M95 88h1M109 88h2M78 89h1M76 90h2M92 90h1M94 90h1M98 90h1M111 90h1M72 91h1M81 91h1M90 91h2M106 91h1M108 91h1M113 91h1M71 92h1M90 92h1M112 92h1M71 93h1M77 93h1M81 93h1M98 93h1M113 93h1M72 94h1M74 94h1M81 94h2M98 94h1M106 94h1M113 94h1M73 95h1M76 95h1M110 95h1M112 95h1M77 96h1M106 96h1M76 97h2M96 97h1M109 97h1M71 98h1M77 98h1M97 98h1M104 98h1M112 98h1M93 99h1M96 99h2M103 99h1M107 99h1M94 100h1M99 100h1M111 100h1M97 101h1M103 101h1M106 101h1M111 102h1M97 103h1M107 103h1M37 104h1M76 104h1M111 104h1M98 105h1M112 105h1M37 106h2M93 106h2M96 106h1M106 106h1M108 106h1M111 106h3M37 107h1M77 107h1M79 107h1M92 107h1M95 107h1M98 107h1M111 107h1M111 108h1M37 109h1M94 109h1M113 109h1M81 110h1M95 110h1M97 110h1M81 111h1M94 111h1M113 111h1M113 112h1M78 113h2M81 113h1M94 113h1M109 113h1M77 114h1M111 114h1M81 115h1M111 115h1M109 116h1M114 117h1M81 118h3M109 120h1M108 121h2M114 121h2M113 122h1M83 123h1M107 124h1M82 125h1M95 125h1M103 125h1M114 125h1M117 125h1M103 126h1M81 127h1M97 127h1M81 128h1M83 128h1M95 128h1M98 128h1M102 128h1M106 128h1M118 129h1M101 130h1M98 132h1M84 133h1M90 133h1M93 133h1M98 133h1M84 134h1M96 134h1M98 134h1M100 134h1M105 134h1M98 135h1M102 135h1M94 136h1M96 136h1M100 136h1M102 136h1M80 137h1M90 137h4M93 138h1M95 138h1M79 139h1M82 139h1M91 139h2M97 139h1M99 139h1M80 140h1M83 140h1M90 140h2M76 143h1M78 144h1M83 144h1M94 144h1M85 145h1M87 145h1M93 145h1M77 146h1M95 147h1M78 148h1M76 149h2M91 149h1M93 149h1M76 150h1M80 150h1M87 150h1M89 150h1M91 151h1M85 152h1M81 154h1M91 154h1M77 155h1M88 155h1M76 156h1M78 163h1M79 165h1M77 169h2M73 171h1M79 173h1M74 175h1M79 175h1M79 176h1M63 178h1M77 180h1M74 182h1M61 185h1M65 185h1M61 186h1M71 187h1M62 190h1M100 215h1M96 216h1M103 216h1M102 217h1M96 218h1M95 219h1M102 219h1M94 220h1M93 221h1M98 221h1M98 222h3M94 223h1M99 223h1M94 225h1M36 229h1M35 231h1M35 233h1"/>
<path stroke="#ff8700" d="M53 0h1M58 0h1M58 2h1M58 5h2M55 10h2M61 10h1M54 11h1M61 11h1M57 14h1M68 14h1M71 15h1M73 17h1M60 18h1M68 18h1M77 18h1M42 19h1M67 19h1M69 20h3M71 21h1M77 21h1M77 23h1M71 24h1M68 25h1M78 35h1M119 56h2M119 57h2M117 58h1M119 59h2M118 60h1M119 63h2M81 65h1M113 68h1M112 69h1M34 71h2M110 73h1M35 75h1M112 75h1M35 76h1M112 77h1M111 78h2M86 79h1M111 79h1M113 79h1M34 80h1M110 80h1M113 81h1M88 83h1M113 83h1M81 84h1M114 84h1M78 85h1M81 85h1M104 85h1M113 85h1M76 86h2M92 86h1M114 86h2M82 87h1M84 87h1M101 87h1M112 87h1M78 88h1M89 88h1M77 89h1M103 89h1M112 89h2M100 90h1M99 91h1M102 91h1M35 92h1M91 92h1M108 92h2M113 92h1M101 93h1M99 94h1M108 94h1M79 95h1M91 95h1M114 95h1M78 96h1M91 96h1M103 96h1M111 96h3M71 97h1M81 97h1M92 97h1M94 97h1M98 97h1M105 97h2M76 98h1M103 98h1M107 98h1M98 99h1M113 99h1M78 100h1M97 100h1M106 100h1M76 101h1M79 101h1M107 101h1M111 101h1M36 102h1M78 102h1M92 102h2M97 102h2M77 103h1M106 103h1M77 104h1M81 104h1M92 104h3M103 104h1M36 105h1M77 105h3M92 105h1M108 105h1M36 106h1M95 106h1M105 106h1M82 107h1M96 107h2M108 107h3M78 108h1M94 108h1M108 108h1M110 108h1M36 109h1M95 109h2M98 109h1M94 110h1M96 110h1M107 110h1M112 110h1M93 111h1M95 111h1M93 112h3M107 112h1M112 112h1M98 113h1M108 113h1M112 113h1M78 114h1M109 114h1M80 116h1M111 116h1M114 116h1M78 117h1M82 117h1M110 117h1M113 117h1M110 118h1M113 118h2M80 119h1M82 119h1M97 119h1M109 119h1M82 120h1M106 120h2M81 121h1M99 121h1M107 122h1M114 122h1M106 124h1M105 125h1M83 127h1M102 127h4M107 127h1M118 127h1M82 128h1M119 128h2M84 129h1M92 129h1M84 130h2M92 130h1M94 130h1M102 130h1M83 131h1M85 131h2M95 131h1M99 131h1M103 131h1M84 132h1M87 132h1M92 132h1M95 132h1M101 132h1M82 133h1M99 133h1M83 134h1M92 134h2M84 135h2M92 135h1M95 135h1M99 135h1M91 136h1M85 137h1M84 138h1M91 138h1M88 139h1M94 139h1M89 140h1M85 141h1M90 141h1M96 141h2M83 143h1M86 144h1M88 144h1M78 145h1M84 145h1M85 146h1M94 146h1M76 147h1M77 150h1M85 150h1M88 150h1M78 151h1M77 152h1M80 152h1M78 153h1M78 155h1M76 160h1M77 164h1M77 167h2M79 168h1M73 170h1M75 170h1M77 174h1M65 176h1M68 176h1M65 177h1M77 178h1M96 213h1M98 213h1M99 215h1M98 217h1M95 218h1M100 220h1M102 220h1M94 221h2M100 221h1M95 222h1M97 222h1M35 229h1M34 234h1"/>
<path stroke="#ff7500" d="M55 1h1M57 8h1M55 14h1M68 16h1M74 16h1M69 17h1M71 17h1M78 17h1M25 18h1M72 18h1M73 19h1M68 20h1M67 21h1M78 34h1M117 60h1M119 61h2M117 62h1M118 63h1M35 68h1M82 68h1M113 72h1M35 73h1M113 76h1M112 80h1M34 82h1M85 82h2M84 83h1M86 83h1M89 83h1M114 83h1M84 84h1M88 84h2M110 84h1M79 85h1M114 85h2M83 86h1M87 86h1M89 86h1M83 87h1M79 88h1M101 88h2M113 88h1M100 89h1M109 89h1M35 90h1M81 90h1M113 90h1M78 91h1M100 91h1M78 92h1M96 92h1M102 92h1M104 92h1M111 92h1M72 93h1M78 93h1M90 93h2M99 93h1M108 93h1M77 94h2M88 94h1M102 94h1M110 94h2M37 95h1M90 95h1M99 95h1M36 97h1M78 97h2M90 97h1M104 97h1M111 98h1M99 99h1M105 99h1M109 99h1M111 99h1M92 100h1M96 100h1M98 100h1M104 100h1M108 100h2M99 101h1M104 101h1M110 101h1M113 101h1M103 102h1M105 102h1M109 102h1M112 102h1M78 103h1M81 103h2M92 103h1M95 103h1M108 103h1M79 104h1M107 104h1M112 104h3M81 105h1M94 105h1M97 105h1M111 105h1M114 105h2M92 106h1M90 107h1M37 108h1M90 108h1M92 108h2M96 108h1M113 108h2M92 109h1M108 109h1M77 110h1M80 110h1M78 111h1M82 111h1M109 111h1M111 111h1M79 112h4M92 112h1M110 112h1M92 113h1M106 114h1M113 114h1M79 115h1M93 115h1M95 115h1M97 115h2M113 115h1M98 116h1M98 117h1M95 118h2M107 118h1M109 118h1M107 119h1M110 119h1M86 120h1M108 120h1M115 120h1M97 121h1M107 121h1M117 121h1M94 122h1M106 122h1M116 122h1M82 123h1M116 123h1M80 126h1M83 126h1M105 126h1M84 127h1M94 127h1M119 127h2M97 128h1M97 129h2M105 129h1M105 130h1M96 131h1M98 131h1M102 131h1M90 132h1M93 132h1M99 132h1M85 133h1M95 133h1M90 134h1M89 135h2M86 136h1M95 136h1M97 137h1M85 138h1M87 138h1M92 138h1M99 138h1M89 139h1M96 139h1M87 140h1M97 140h1M88 141h1M99 141h1M83 142h2M86 142h1M78 143h1M86 143h4M84 146h1M86 146h1M89 146h1M89 149h1M91 153h1M78 154h1M78 166h1M77 170h1M77 173h1M99 216h1M102 216h1M97 217h1M99 217h1M97 218h1M100 218h1M98 219h1M96 221h1M102 221h1M95 224h1M35 234h1"/>
<path stroke="#ff5a00" d="M57 1h1M57 2h1M57 3h1M57 4h1M57 5h1M56 8h1M58 8h1M57 10h1M55 13h1M74 15h1M77 16h1M77 17h1M65 18h1M69 18h1M68 19h2M68 21h1M77 22h1M78 36h1M80 49h1M119 58h2M119 60h2M116 63h1M119 64h2M115 65h1M117 65h1M117 66h1M114 68h1M116 68h1M113 69h1M115 69h1M35 70h1M111 70h1M113 70h1M115 70h1M112 71h3M34 74h1M34 75h1M113 77h1M35 78h1M81 82h1M113 82h2M87 85h1M78 86h1M85 86h1M113 86h1M87 87h1M104 87h1M110 87h1M113 87h2M35 88h1M100 88h1M35 89h1M91 89h1M83 90h1M102 90h1M104 90h1M75 91h1M83 91h1M89 91h1M101 91h1M112 91h1M75 93h1M83 93h1M102 93h1M114 93h1M114 94h1M78 95h1M102 95h1M114 96h1M82 97h1M108 97h1M110 97h1M113 97h1M73 98h1M81 98h1M105 98h1M115 98h1M81 99h1M108 99h1M112 99h1M77 100h1M36 101h1M77 101h1M105 101h1M108 101h2M37 102h1M81 102h1M36 103h1M90 103h1M103 103h1M109 103h1M111 103h1M113 103h1M82 104h1M90 104h1M97 104h1M105 104h1M109 104h1M106 105h2M83 106h1M90 106h2M97 106h1M106 107h2M36 108h1M83 108h1M109 108h1M91 109h1M109 109h2M84 110h1M90 110h2M108 110h1M110 110h2M113 110h1M83 111h1M92 111h1M106 111h1M108 111h1M78 112h1M108 112h1M114 112h1M80 113h1M83 113h1M90 113h1M96 113h1M107 113h1M110 113h1M80 114h2M93 114h1M96 114h1M108 114h1M110 114h1M112 114h1M96 115h1M103 115h1M114 115h1M81 116h2M93 116h1M83 117h1M85 117h1M92 117h1M97 117h1M107 117h1M95 119h1M98 119h1M83 120h1M95 120h1M116 120h1M84 121h1M95 121h1M98 123h1M105 123h2M87 125h1M98 125h1M118 125h1M84 126h1M92 126h1M95 126h1M98 126h1M106 126h1M82 127h1M99 127h1M92 128h1M96 128h1M99 128h1M101 128h1M85 129h1M95 129h1M102 129h1M96 130h1M106 130h1M87 131h1M92 131h1M97 131h1M100 131h2M96 132h1M86 133h1M94 133h1M96 133h1M88 134h1M88 135h1M96 135h1M85 136h1M87 136h1M93 136h1M86 138h1M88 138h1M96 138h2M84 139h2M84 140h1M88 140h1M89 141h1M88 142h2M84 143h2M85 144h1M88 145h2M86 147h1M89 147h1M77 153h1M77 154h1M77 157h1M77 160h1M96 219h1M98 220h1M35 232h1"/>
<path stroke="#ff3c00" d="M54 0h1M57 0h1M53 1h1M55 12h1M57 15h1M78 18h1M57 19h1M77 19h1M78 29h1M80 48h1M80 50h1M118 64h1M115 66h1M82 67h1M114 67h1M35 69h1M114 69h1M117 69h1M82 71h1M34 72h1M82 72h1M112 72h1M114 72h1M113 73h1M115 74h1M34 76h1M114 77h1M114 78h1M117 78h1M114 80h1M115 83h1M117 83h1M79 84h1M116 84h1M88 85h1M116 85h1M88 87h1M83 89h1M89 89h1M101 89h1M34 90h1M78 90h2M114 90h1M77 91h1M88 91h1M115 91h1M77 92h1M83 92h1M89 92h1M101 92h1M110 93h1M87 94h1M90 94h2M113 95h1M76 96h1M89 96h1M99 96h1M104 96h1M109 96h2M91 97h1M114 97h1M78 98h1M90 98h1M92 98h1M98 98h1M108 98h1M78 99h1M81 100h1M90 100h1M103 100h1M112 100h2M78 101h1M102 101h1M99 102h1M106 102h1M113 102h1M37 103h1M84 103h1M93 103h1M110 103h1M36 104h1M96 104h1M99 104h1M106 104h1M108 104h1M37 105h1M90 105h1M93 105h1M99 105h1M110 105h1M107 106h1M109 106h1M114 106h1M78 107h1M81 107h1M83 107h1M82 108h1M91 108h1M97 108h1M105 108h1M107 108h1M80 109h1M84 109h1M90 109h1M99 109h1M106 109h2M36 110h1M82 110h1M92 110h1M114 110h1M80 111h1M86 111h1M91 111h1M96 111h3M110 111h1M90 112h1M96 112h1M98 112h1M111 112h1M82 113h1M84 113h1M91 113h1M83 114h1M92 114h1M94 114h2M94 115h1M110 115h1M96 116h1M104 116h1M107 116h1M93 117h2M108 117h1M115 117h1M97 118h1M116 118h1M90 119h1M96 119h1M105 119h1M117 119h1M81 120h1M84 120h2M90 120h1M94 121h1M118 121h1M82 122h2M95 122h1M98 122h1M103 122h1M115 122h1M117 122h1M91 123h1M115 123h1M118 123h1M85 124h1M96 124h1M105 124h1M117 124h4M90 125h1M119 125h2M93 126h1M95 127h1M88 128h1M90 128h1M94 128h1M94 129h1M99 129h1M97 130h1M99 130h1M85 134h1M91 134h1M91 135h1M94 135h1M86 137h1M88 137h2M90 138h1M85 140h1M86 141h1M87 142h1M88 146h1M86 149h1M78 174h1M97 219h1M100 219h1M95 220h1M97 220h1M97 221h1M101 221h1M96 222h1M35 230h1"/>
<path stroke="#ff1a00" d="M57 6h1M57 9h1M55 11h1M57 16h1M68 17h1M71 18h1M76 20h1M79 34h1M79 35h1M79 36h1M79 40h1M80 45h1M119 62h2M116 65h1M118 65h3M116 66h1M115 68h1M82 69h1M116 69h1M110 74h1M113 74h1M117 75h1M115 77h1M115 78h1M114 79h1M117 79h1M116 80h1M118 80h1M86 81h1M119 83h2M85 84h3M117 84h1M84 85h1M119 85h2M73 86h1M84 86h1M119 87h2M84 88h1M114 88h1M80 89h1M84 90h1M91 90h1M101 90h1M79 92h1M99 92h1M87 93h2M79 94h1M83 94h1M77 95h1M87 95h1M89 95h1M109 95h1M115 95h1M102 96h1M102 97h1M79 98h2M102 98h1M114 98h1M82 99h1M101 99h1M104 99h1M115 99h1M79 100h1M82 100h1M91 101h2M83 102h2M102 102h1M110 102h1M104 103h2M83 104h1M110 104h1M103 105h1M105 105h1M113 105h1M82 106h1M104 106h1M110 106h1M85 107h2M99 107h1M105 107h1M113 107h1M98 108h1M116 108h1M82 109h2M97 109h1M103 109h1M114 109h1M85 110h1M87 110h1M105 110h2M119 110h2M84 111h1M90 111h1M84 112h1M91 112h1M97 112h1M103 112h1M106 112h1M116 112h1M97 113h1M106 113h1M91 114h1M97 114h1M99 114h1M107 114h1M114 114h1M82 115h2M108 115h2M115 115h1M83 116h2M94 116h1M97 116h1M99 116h1M105 116h2M84 117h1M95 117h2M117 118h1M85 119h1M99 119h1M102 119h1M116 119h1M96 120h1M98 120h1M103 120h1M117 120h1M87 121h1M96 121h1M98 121h1M105 121h1M85 122h1M91 122h1M105 122h1M84 123h1M92 123h1M103 123h1M117 123h1M119 123h2M83 124h1M95 124h1M83 125h1M92 125h1M97 126h1M119 126h2M86 127h2M91 127h2M96 127h1M87 128h1M93 128h1M91 129h1M93 129h1M96 129h1M87 130h1M93 130h1M84 131h1M88 131h1M94 131h1M91 132h1M88 133h1M87 134h1M94 134h2M86 135h2M88 136h1M86 139h1M86 140h1M87 141h1M85 142h1M89 144h1M86 145h1M86 148h1M96 220h1"/>
<path stroke="#ff0000" d="M56 0h1M56 5h1M56 6h1M57 7h1M56 12h1M75 17h1M74 18h1M77 20h1M76 24h1M79 38h1M81 59h1M114 66h1M118 66h1M116 67h1M119 69h2M117 70h1M116 71h1M34 73h1M114 73h1M118 74h1M113 75h1M114 76h1M115 79h1M115 80h1M114 81h1M35 82h1M117 82h2M85 83h1M116 83h1M119 84h2M35 86h1M79 86h1M88 86h1M117 86h1M35 87h1M78 87h2M117 87h1M116 88h1M34 89h1M87 89h2M79 91h1M86 91h1M114 91h1M119 91h2M110 92h1M114 92h1M115 93h1M117 93h1M100 94h2M98 95h1M101 95h1M79 96h1M88 96h1M101 96h1M85 97h1M99 97h1M82 98h3M80 99h1M102 99h1M110 99h1M118 99h1M102 100h1M110 100h1M82 101h1M89 101h2M115 101h1M87 102h1M90 102h1M104 102h1M117 102h1M91 103h1M99 103h1M78 104h1M91 104h1M82 105h3M104 105h1M99 106h1M115 106h1M36 107h1M80 107h1M91 107h1M114 107h1M80 108h1M84 108h2M88 108h1M103 108h1M106 108h1M89 109h1M83 110h1M98 110h2M103 111h1M105 111h1M107 111h1M83 112h1M87 112h1M99 112h1M105 112h1M115 112h1M85 113h1M93 113h1M99 113h1M105 113h1M114 113h1M82 114h1M86 114h1M90 114h1M98 114h1M87 115h1M92 115h1M105 115h1M107 115h1M86 116h1M92 116h1M95 116h1M100 116h1M86 117h1M89 117h3M105 117h1M117 117h1M86 118h1M88 118h1M94 118h1M106 118h1M83 119h1M86 119h1M88 119h1M108 119h1M93 120h1M97 120h1M99 120h1M101 120h1M104 120h1M86 121h1M90 121h1M92 121h1M103 121h1M106 121h1M92 122h1M96 122h1M118 122h1M87 123h1M90 123h1M95 123h1M99 123h1M102 123h1M94 124h1M103 124h2M84 125h2M93 125h2M104 125h1M106 125h1M94 126h1M100 126h1M102 126h1M104 126h1M85 127h1M100 127h1M85 128h2M86 129h1M100 129h2M86 130h1M90 130h1M100 130h1M89 131h2M94 132h1M92 133h1M89 134h1M87 137h1M89 138h1M87 139h1M87 144h1M34 232h1"/>
<path stroke="#ff0000" d="M53 2h1M55 4h2M56 7h1M75 16h1M76 19h1M75 20h1M78 32h1M79 37h1M79 39h1M80 43h1M80 44h1M80 52h1M81 60h1M117 67h4M117 68h1M118 69h1M115 71h1M118 71h1M114 75h1M116 76h1M119 76h2M34 77h1M116 77h1M119 78h2M116 79h1M119 79h2M35 81h1M116 81h1M115 82h1M34 83h2M35 84h1M80 84h1M118 84h1M89 85h1M80 86h1M118 86h1M86 87h1M116 87h1M87 88h2M84 89h1M86 89h1M89 90h1M80 91h1M87 91h1M80 92h1M86 92h1M100 93h1M80 94h1M83 95h1M85 95h1M88 95h1M118 95h1M83 96h1M85 96h1M87 96h1M87 97h1M100 97h1M115 97h1M99 98h1M90 99h1M100 99h1M114 99h1M117 99h1M83 100h2M101 100h1M115 100h1M87 101h1M100 101h2M114 101h1M91 102h1M114 102h1M80 103h1M83 103h1M115 103h1M80 104h1M89 104h1M104 104h1M115 104h1M85 105h1M100 105h1M118 105h1M84 106h2M88 106h2M103 106h1M117 106h1M84 107h1M87 107h1M89 107h1M103 107h1M115 107h1M85 109h1M105 109h1M116 109h1M88 110h1M99 111h1M102 111h1M116 111h1M85 112h2M103 113h1M118 113h1M85 114h1M88 114h2M91 115h1M104 115h1M106 115h1M85 116h1M87 116h1M90 116h2M103 116h1M110 116h1M115 116h2M87 117h1M116 117h1M119 117h2M84 118h2M90 118h1M93 118h1M98 118h2M104 118h1M115 118h1M118 118h3M92 119h1M94 119h1M103 119h1M92 120h1M94 120h1M83 121h1M101 121h2M104 121h1M87 122h1M90 122h1M99 122h1M102 122h1M85 123h1M94 123h1M97 123h1M84 124h1M86 124h2M98 124h1M101 124h1M86 126h1M88 126h1M90 126h1M99 126h1M101 126h1M118 126h1M90 127h1M93 127h1M98 127h1M84 128h1M89 128h1M91 128h1M104 128h1M88 129h3M88 130h1M91 130h1M95 130h1M86 132h1M89 132h1M87 133h1M96 137h1M33 230h1M34 233h1"/>
<path stroke="#e70000" d="M54 5h1M77 29h1M77 30h1M80 46h1M80 51h1M81 57h1M115 67h1M118 70h1M117 72h1M115 73h1M114 74h1M115 75h2M118 75h1M117 76h2M117 77h1M119 80h2M115 81h1M118 81h1M34 85h2M80 85h1M117 85h1M116 86h1M85 87h1M80 88h1M86 88h1M79 89h1M114 89h1M119 89h2M80 90h1M116 90h2M87 92h2M79 93h2M84 93h1M86 93h1M89 93h1M85 94h1M116 94h2M80 95h1M84 95h1M100 95h1M119 95h2M80 96h1M84 96h1M100 96h1M84 97h1M86 97h1M89 97h1M116 97h1M85 98h1M110 98h1M79 99h1M84 99h2M88 99h1M85 100h1M87 100h2M91 100h1M85 101h1M89 102h1M101 102h1M115 102h1M87 103h2M114 103h1M117 103h1M84 104h2M102 104h1M116 104h1M91 105h1M102 106h1M88 107h1M104 107h1M86 108h1M81 109h1M88 109h1M115 109h1M103 110h2M116 110h1M85 111h1M114 111h2M119 111h2M88 112h1M104 112h1M117 112h1M86 113h1M100 113h1M104 113h1M84 114h1M105 114h1M90 115h1M88 116h2M102 116h1M92 118h1M100 118h1M105 118h1M84 119h1M87 119h1M118 119h1M88 120h1M100 120h1M105 120h1M119 120h2M85 121h1M100 121h1M119 121h2M86 122h1M88 122h1M93 122h1M97 122h1M104 122h1M119 122h2M93 123h1M100 123h1M104 123h1M88 124h1M93 124h1M97 124h1M99 124h2M102 124h1M91 125h1M96 125h1M85 126h1M87 126h1M100 128h1M87 129h1M88 132h1M91 133h1M86 134h1M89 136h1M33 231h1"/>
<path stroke="#d00000" d="M55 0h1M54 3h1M54 4h1M55 8h1M76 17h1M75 18h1M75 19h1M76 21h1M76 23h1M78 33h1M81 54h1M81 55h1M81 56h1M81 61h1M118 68h1M114 70h1M116 70h1M115 72h1M116 73h1M116 74h1M119 75h2M115 76h1M118 77h1M117 81h1M119 82h2M118 83h1M34 84h1M115 84h1M118 85h1M118 87h1M85 88h1M117 88h1M117 89h1M85 90h1M87 90h2M85 91h1M116 91h1M84 92h2M100 92h1M85 93h1M116 93h1M116 95h1M87 98h1M89 98h1M100 98h1M116 98h2M89 99h1M86 100h1M83 101h1M118 101h1M85 102h1M100 102h1M116 102h1M85 103h1M89 103h1M100 103h1M116 103h1M87 104h1M119 104h2M80 105h1M87 105h1M89 105h1M102 105h1M86 106h1M101 106h1M100 107h1M117 107h1M89 108h1M101 108h2M104 108h1M115 108h1M117 108h2M104 109h1M117 109h1M89 110h1M101 110h1M115 110h1M117 110h1M87 111h1M89 111h1M89 112h1M119 112h2M88 113h1M115 113h1M117 113h1M119 113h2M103 114h1M115 114h1M84 115h2M88 115h2M99 115h1M102 115h1M116 115h2M119 115h2M117 116h1M88 117h1M99 117h1M103 117h1M106 117h1M91 118h1M89 119h1M91 119h1M93 119h1M100 119h1M106 119h1M119 119h2M91 120h1M118 120h1M93 121h1M84 122h1M89 122h1M88 123h2M90 124h1M92 124h1M86 125h1M89 125h1M97 125h1M99 125h1M101 125h1M91 126h1M88 127h2M101 127h1M89 130h1M89 133h1M34 230h1M34 231h1M33 232h1M33 233h1"/>
<path stroke="#bc0000" d="M54 2h1M75 15h1M74 17h1M76 29h1M78 31h1M80 47h1M81 53h1M81 58h1M119 66h2M119 68h2M119 70h2M117 71h1M118 72h1M117 73h2M117 74h1M119 74h2M119 77h2M118 79h1M117 80h1M34 81h1M119 81h2M86 85h1M34 86h1M34 87h1M34 88h1M115 88h1M118 88h3M116 89h1M115 90h1M84 91h1M118 91h1M115 92h2M86 94h1M89 94h1M115 94h1M86 95h1M117 95h1M116 96h2M83 97h1M117 97h1M88 98h1M119 98h2M86 99h1M80 100h1M114 100h1M119 100h2M80 101h1M84 101h1M86 101h1M88 101h1M88 102h1M118 102h1M86 103h1M101 103h1M118 103h1M100 104h1M117 104h1M86 105h1M119 105h2M80 106h1M87 106h1M116 106h1M118 106h1M101 107h1M116 107h1M87 108h1M99 108h1M87 109h1M100 109h1M102 109h1M102 110h1M118 110h1M88 111h1M100 111h2M104 111h1M117 111h1M100 112h1M118 112h1M87 113h1M87 114h1M116 114h1M101 116h1M119 116h2M101 117h2M101 118h1M103 118h1M101 119h1M104 119h1M89 120h1M102 120h1M88 121h1M91 124h1M100 125h1M102 125h1M96 126h1M91 131h1"/>
<path stroke="#a80000" d="M53 3h1M55 3h1M55 5h1M54 6h2M54 7h2M55 9h2M76 16h1M76 18h1M76 22h1M78 30h1M81 62h1M119 71h2M116 72h1M119 72h2M119 73h2M116 78h1M118 78h1M116 82h1M80 83h1M86 86h1M119 86h2M80 87h1M115 87h1M85 89h1M115 89h1M118 89h1M86 90h1M118 90h3M117 91h1M117 92h4M118 93h3M84 94h1M118 94h3M86 96h1M115 96h1M118 96h3M80 97h1M88 97h1M101 97h1M118 97h3M86 98h1M101 98h1M118 98h1M83 99h1M87 99h1M116 99h1M119 99h2M89 100h1M100 100h1M116 100h3M116 101h2M119 101h2M80 102h1M86 102h1M119 102h2M102 103h1M119 103h2M86 104h1M88 104h1M101 104h1M118 104h1M88 105h1M101 105h1M116 105h2M100 106h1M119 106h2M102 107h1M118 107h3M100 108h1M119 108h2M86 109h1M101 109h1M118 109h3M86 110h1M100 110h1M118 111h1M101 112h2M89 113h1M101 113h2M116 113h1M100 114h3M104 114h1M117 114h4M86 115h1M100 115h2M118 115h1M118 116h1M100 117h1M104 117h1M118 117h1M87 118h1M89 118h1M102 118h1M87 120h1M89 121h1M91 121h1M100 122h2M86 123h1M96 123h1M101 123h1M89 124h1M88 125h1M89 126h1"/>
</g>
<path fill="#00ff73" d="M299.75 646h8.5v2h-8.5z"/>
<path fill="#00ff59" d="M231.75 646h8.5v2h-8.5zM240.25 646h8.5v2h-8.5zM308.25 646h8.5v2h-8.5zM469.75 646h8.5v2h-8.5z"/>
<path fill="#00ff17" d="M248.75 646h8.5v2h-8.5zM418.75 646h8.5v2h-8.5zM503.75 646h8.5v2h-8.5z"/>
<path fill="#22ff00" d="M172.25 646h8.5v2h-8.5zM206.25 646h8.5v2h-8.5zM444.25 646h8.5v2h-8.5zM452.75 646h8.5v2h-8.5zM478.25 646h8.5v2h-8.5zM486.75 646h8.5v2h-8.5z"/>
<path fill="#5eff00" d="M877.75 265h8.5v3.5h-8.5zM1047.75 265h8.5v3.5h-8.5zM180.75 644h8.5v2h-8.5zM223.25 644h8.5v2h-8.5zM163.75 646h8.5v2h-8.5zM180.75 646h8.5v2h-8.5zM189.25 646h8.5v2h-8.5zM214.75 646h8.5v2h-8.5zM257.25 646h8.5v2h-8.5zM274.25 646h8.5v2h-8.5zM291.25 646h8.5v2h-8.5zM325.25 646h8.5v2h-8.5zM333.75 646h8.5v2h-8.5zM384.75 646h8.5v2h-8.5zM401.75 646h8.5v2h-8.5zM435.75 646h8.5v2h-8.5zM461.25 646h8.5v2h-8.5z"/>
<path fill="#8bff00" d="M1107.25 265h8.5v3.5h-8.5zM163.75 644h8.5v2h-8.5zM231.75 644h8.5v2h-8.5zM248.75 644h8.5v2h-8.5zM291.25 644h8.5v2h-8.5zM299.75 644h8.5v2h-8.5zM308.25 644h8.5v2h-8.5zM478.25 644h8.5v2h-8.5zM316.75 646h8.5v2h-8.5zM350.75 646h8.5v2h-8.5zM376.25 646h8.5v2h-8.5zM427.25 646h8.5v2h-8.5zM495.25 646h8.5v2h-8.5zM588.75 646h8.5v2h-8.5z"/>
<path fill="#a5ff00" d="M172.25 644h8.5v2h-8.5zM240.25 644h8.5v2h-8.5zM265.75 644h8.5v2h-8.5zM274.25 644h8.5v2h-8.5zM427.25 644h8.5v2h-8.5zM444.25 644h8.5v2h-8.5zM469.75 644h8.5v2h-8.5zM486.75 644h8.5v2h-8.5zM223.25 646h8.5v2h-8.5zM282.75 646h8.5v2h-8.5zM410.25 646h8.5v2h-8.5zM580.25 646h8.5v2h-8.5zM1166.75 646h8.5v2h-8.5z"/>
<path fill="#bdff00" d="M418.75 265h8.5v3.5h-8.5zM189.25 644h8.5v2h-8.5zM214.75 644h8.5v2h-8.5zM282.75 644h8.5v2h-8.5zM316.75 644h8.5v2h-8.5zM376.25 644h8.5v2h-8.5zM418.75 644h8.5v2h-8.5zM452.75 644h8.5v2h-8.5zM495.25 644h8.5v2h-8.5zM503.75 644h8.5v2h-8.5zM197.75 646h8.5v2h-8.5zM265.75 646h8.5v2h-8.5zM393.25 646h8.5v2h-8.5zM1183.75 646h8.5v2h-8.5z"/>
<path fill="#f5ff00" d="M342.25 265h8.5v3.5h-8.5zM605.75 265h8.5v3.5h-8.5zM1166.75 265h8.5v3.5h-8.5zM197.75 644h8.5v2h-8.5zM206.25 644h8.5v2h-8.5zM257.25 644h8.5v2h-8.5zM325.25 644h8.5v2h-8.5zM350.75 644h8.5v2h-8.5zM384.75 644h8.5v2h-8.5zM435.75 644h8.5v2h-8.5zM461.25 644h8.5v2h-8.5zM597.25 644h8.5v2h-8.5zM342.25 646h8.5v2h-8.5zM359.25 646h8.5v2h-8.5zM367.75 646h8.5v2h-8.5zM520.75 646h8.5v2h-8.5zM605.75 646h8.5v2h-8.5zM614.25 646h8.5v2h-8.5zM979.75 646h8.5v2h-8.5zM1064.75 646h8.5v2h-8.5zM1090.25 646h8.5v2h-8.5zM1098.75 646h8.5v2h-8.5zM1141.25 646h8.5v2h-8.5zM1149.75 646h8.5v2h-8.5z"/>
<path fill="#feff00" d="M1030.75 263h8.5v2h-8.5zM291.25 265h8.5v3.5h-8.5zM367.75 265h8.5v3.5h-8.5zM427.25 265h8.5v3.5h-8.5zM631.25 265h8.5v3.5h-8.5zM894.75 265h8.5v3.5h-8.5zM1022.25 265h8.5v3.5h-8.5zM1039.25 265h8.5v3.5h-8.5zM359.25 644h8.5v2h-8.5zM580.25 644h8.5v2h-8.5zM588.75 644h8.5v2h-8.5zM512.25 646h8.5v2h-8.5zM529.25 646h8.5v2h-8.5zM571.75 646h8.5v2h-8.5zM597.25 646h8.5v2h-8.5zM1022.25 646h8.5v2h-8.5zM1056.25 646h8.5v2h-8.5zM1081.75 646h8.5v2h-8.5zM1107.25 646h8.5v2h-8.5zM1132.75 646h8.5v2h-8.5zM1158.25 646h8.5v2h-8.5z"/>
<path fill="#fff800" d="M163.75 265h8.5v3.5h-8.5zM257.25 265h8.5v3.5h-8.5zM325.25 265h8.5v3.5h-8.5zM393.25 265h8.5v3.5h-8.5zM588.75 265h8.5v3.5h-8.5zM911.75 265h8.5v3.5h-8.5zM988.25 265h8.5v3.5h-8.5zM1030.75 265h8.5v3.5h-8.5zM1073.25 265h8.5v3.5h-8.5zM1115.75 265h8.5v3.5h-8.5zM1158.25 265h8.5v3.5h-8.5zM333.75 644h8.5v2h-8.5zM367.75 644h8.5v2h-8.5zM393.25 644h8.5v2h-8.5zM401.75 644h8.5v2h-8.5zM410.25 644h8.5v2h-8.5zM512.25 644h8.5v2h-8.5zM1064.75 644h8.5v2h-8.5zM622.75 646h8.5v2h-8.5zM988.25 646h8.5v2h-8.5zM996.75 646h8.5v2h-8.5zM1005.25 646h8.5v2h-8.5zM1039.25 646h8.5v2h-8.5zM1047.75 646h8.5v2h-8.5zM1073.25 646h8.5v2h-8.5zM1124.25 646h8.5v2h-8.5z"/>
<path fill="#ffee00" d="M240.25 263h8.5v2h-8.5zM1064.75 263h8.5v2h-8.5zM1073.25 263h8.5v2h-8.5zM359.25 265h8.5v3.5h-8.5zM410.25 265h8.5v3.5h-8.5zM571.75 265h8.5v3.5h-8.5zM622.75 265h8.5v3.5h-8.5zM665.25 265h8.5v3.5h-8.5zM886.25 265h8.5v3.5h-8.5zM945.75 265h8.5v3.5h-8.5zM954.25 265h8.5v3.5h-8.5zM1005.25 265h8.5v3.5h-8.5zM1013.75 265h8.5v3.5h-8.5zM342.25 644h8.5v2h-8.5zM529.25 644h8.5v2h-8.5zM571.75 644h8.5v2h-8.5zM605.75 644h8.5v2h-8.5zM1081.75 644h8.5v2h-8.5zM1115.75 644h8.5v2h-8.5zM1158.25 644h8.5v2h-8.5zM1175.25 644h8.5v2h-8.5zM563.25 646h8.5v2h-8.5zM1013.75 646h8.5v2h-8.5zM1115.75 646h8.5v2h-8.5zM1175.25 646h8.5v2h-8.5z"/>
<path fill="#ffda00" d="M954.25 263h8.5v2h-8.5zM1047.75 263h8.5v2h-8.5zM1081.75 263h8.5v2h-8.5zM1132.75 263h8.5v2h-8.5zM214.75 265h8.5v3.5h-8.5zM299.75 265h8.5v3.5h-8.5zM316.75 265h8.5v3.5h-8.5zM350.75 265h8.5v3.5h-8.5zM435.75 265h8.5v3.5h-8.5zM444.25 265h8.5v3.5h-8.5zM452.75 265h8.5v3.5h-8.5zM461.25 265h8.5v3.5h-8.5zM478.25 265h8.5v3.5h-8.5zM520.75 265h8.5v3.5h-8.5zM554.75 265h8.5v3.5h-8.5zM580.25 265h8.5v3.5h-8.5zM597.25 265h8.5v3.5h-8.5zM639.75 265h8.5v3.5h-8.5zM648.25 265h8.5v3.5h-8.5zM903.25 265h8.5v3.5h-8.5zM962.75 265h8.5v3.5h-8.5zM979.75 265h8.5v3.5h-8.5zM1064.75 265h8.5v3.5h-8.5zM1090.25 265h8.5v3.5h-8.5zM1098.75 265h8.5v3.5h-8.5zM1124.25 265h8.5v3.5h-8.5zM520.75 644h8.5v2h-8.5zM1005.25 644h8.5v2h-8.5zM1013.75 644h8.5v2h-8.5zM1090.25 644h8.5v2h-8.5zM1098.75 644h8.5v2h-8.5zM1132.75 644h8.5v2h-8.5zM1166.75 644h8.5v2h-8.5zM554.75 646h8.5v2h-8.5zM631.25 646h8.5v2h-8.5zM920.25 646h8.5v2h-8.5zM954.25 646h8.5v2h-8.5zM971.25 646h8.5v2h-8.5z"/>
<path fill="#ffbe00" d="M248.75 263h8.5v2h-8.5zM325.25 263h8.5v2h-8.5zM333.75 263h8.5v2h-8.5zM350.75 263h8.5v2h-8.5zM393.25 263h8.5v2h-8.5zM435.75 263h8.5v2h-8.5zM928.75 263h8.5v2h-8.5zM988.25 263h8.5v2h-8.5zM1056.25 263h8.5v2h-8.5zM172.25 265h8.5v3.5h-8.5zM180.75 265h8.5v3.5h-8.5zM189.25 265h8.5v3.5h-8.5zM240.25 265h8.5v3.5h-8.5zM265.75 265h8.5v3.5h-8.5zM282.75 265h8.5v3.5h-8.5zM384.75 265h8.5v3.5h-8.5zM495.25 265h8.5v3.5h-8.5zM529.25 265h8.5v3.5h-8.5zM563.25 265h8.5v3.5h-8.5zM928.75 265h8.5v3.5h-8.5zM937.25 265h8.5v3.5h-8.5zM1056.25 265h8.5v3.5h-8.5zM1081.75 265h8.5v3.5h-8.5zM563.25 644h8.5v2h-8.5zM622.75 644h8.5v2h-8.5zM1030.75 644h8.5v2h-8.5zM1047.75 644h8.5v2h-8.5zM1056.25 644h8.5v2h-8.5zM1124.25 644h8.5v2h-8.5zM1141.25 644h8.5v2h-8.5zM1149.75 644h8.5v2h-8.5zM1183.75 644h8.5v2h-8.5zM537.75 646h8.5v2h-8.5zM894.75 646h8.5v2h-8.5zM945.75 646h8.5v2h-8.5zM1030.75 646h8.5v2h-8.5z"/>
<path fill="#ff9a00" d="M265.75 263h8.5v2h-8.5zM316.75 263h8.5v2h-8.5zM342.25 263h8.5v2h-8.5zM359.25 263h8.5v2h-8.5zM444.25 263h8.5v2h-8.5zM945.75 263h8.5v2h-8.5zM1005.25 263h8.5v2h-8.5zM1013.75 263h8.5v2h-8.5zM223.25 265h8.5v3.5h-8.5zM231.75 265h8.5v3.5h-8.5zM248.75 265h8.5v3.5h-8.5zM308.25 265h8.5v3.5h-8.5zM401.75 265h8.5v3.5h-8.5zM469.75 265h8.5v3.5h-8.5zM503.75 265h8.5v3.5h-8.5zM546.25 265h8.5v3.5h-8.5zM656.75 265h8.5v3.5h-8.5zM843.75 265h8.5v3.5h-8.5zM869.25 265h8.5v3.5h-8.5zM971.25 265h8.5v3.5h-8.5zM996.75 265h8.5v3.5h-8.5zM1183.75 265h8.5v3.5h-8.5zM537.75 644h8.5v2h-8.5zM614.25 644h8.5v2h-8.5zM894.75 644h8.5v2h-8.5zM1073.25 644h8.5v2h-8.5zM1107.25 644h8.5v2h-8.5zM546.25 646h8.5v2h-8.5zM937.25 646h8.5v2h-8.5zM962.75 646h8.5v2h-8.5z"/>
<path fill="#ff8700" d="M546.25 263h8.5v2h-8.5zM563.25 263h8.5v2h-8.5zM580.25 263h8.5v2h-8.5zM894.75 263h8.5v2h-8.5zM911.75 263h8.5v2h-8.5zM1022.25 263h8.5v2h-8.5zM1039.25 263h8.5v2h-8.5zM1107.25 263h8.5v2h-8.5zM1124.25 263h8.5v2h-8.5zM333.75 265h8.5v3.5h-8.5zM376.25 265h8.5v3.5h-8.5zM512.25 265h8.5v3.5h-8.5zM614.25 265h8.5v3.5h-8.5zM673.75 265h8.5v3.5h-8.5zM852.25 265h8.5v3.5h-8.5zM920.25 265h8.5v3.5h-8.5zM1132.75 265h8.5v3.5h-8.5zM1175.25 265h8.5v3.5h-8.5zM1030.75 268.5h8.5v1.5h-8.5zM554.75 644h8.5v2h-8.5zM920.25 644h8.5v2h-8.5zM962.75 644h8.5v2h-8.5zM971.25 644h8.5v2h-8.5zM988.25 644h8.5v2h-8.5zM996.75 644h8.5v2h-8.5zM1039.25 644h8.5v2h-8.5zM639.75 646h8.5v2h-8.5zM886.25 646h8.5v2h-8.5zM903.25 646h8.5v2h-8.5zM911.75 646h8.5v2h-8.5z"/>
<path fill="#ff7500" d="M163.75 263h8.5v2h-8.5zM223.25 263h8.5v2h-8.5zM274.25 263h8.5v2h-8.5zM282.75 263h8.5v2h-8.5zM367.75 263h8.5v2h-8.5zM427.25 263h8.5v2h-8.5zM486.75 263h8.5v2h-8.5zM631.25 263h8.5v2h-8.5zM682.25 263h8.5v2h-8.5zM843.75 263h8.5v2h-8.5zM877.75 263h8.5v2h-8.5zM903.25 263h8.5v2h-8.5zM962.75 263h8.5v2h-8.5zM996.75 263h8.5v2h-8.5zM1183.75 263h8.5v2h-8.5zM197.75 265h8.5v3.5h-8.5zM274.25 265h8.5v3.5h-8.5zM486.75 265h8.5v3.5h-8.5zM1141.25 265h8.5v3.5h-8.5zM1149.75 265h8.5v3.5h-8.5zM401.75 268.5h8.5v1.5h-8.5zM971.25 268.5h8.5v1.5h-8.5zM988.25 268.5h8.5v1.5h-8.5zM1081.75 268.5h8.5v1.5h-8.5zM1132.75 268.5h8.5v1.5h-8.5zM546.25 644h8.5v2h-8.5zM979.75 644h8.5v2h-8.5zM1022.25 644h8.5v2h-8.5zM928.75 646h8.5v2h-8.5z"/>
<path fill="#ff5a00" d="M172.25 263h8.5v2h-8.5zM180.75 263h8.5v2h-8.5zM231.75 263h8.5v2h-8.5zM299.75 263h8.5v2h-8.5zM308.25 263h8.5v2h-8.5zM384.75 263h8.5v2h-8.5zM401.75 263h8.5v2h-8.5zM410.25 263h8.5v2h-8.5zM554.75 263h8.5v2h-8.5zM571.75 263h8.5v2h-8.5zM588.75 263h8.5v2h-8.5zM605.75 263h8.5v2h-8.5zM614.25 263h8.5v2h-8.5zM622.75 263h8.5v2h-8.5zM639.75 263h8.5v2h-8.5zM648.25 263h8.5v2h-8.5zM869.25 263h8.5v2h-8.5zM886.25 263h8.5v2h-8.5zM920.25 263h8.5v2h-8.5zM937.25 263h8.5v2h-8.5zM979.75 263h8.5v2h-8.5zM1090.25 263h8.5v2h-8.5zM1141.25 263h8.5v2h-8.5zM1158.25 263h8.5v2h-8.5zM206.25 265h8.5v3.5h-8.5zM835.25 265h8.5v3.5h-8.5zM248.75 268.5h8.5v1.5h-8.5zM274.25 268.5h8.5v1.5h-8.5zM282.75 268.5h8.5v1.5h-8.5zM299.75 268.5h8.5v1.5h-8.5zM325.25 268.5h8.5v1.5h-8.5zM333.75 268.5h8.5v1.5h-8.5zM367.75 268.5h8.5v1.5h-8.5zM418.75 268.5h8.5v1.5h-8.5zM435.75 268.5h8.5v1.5h-8.5zM597.25 268.5h8.5v1.5h-8.5zM605.75 268.5h8.5v1.5h-8.5zM614.25 268.5h8.5v1.5h-8.5zM639.75 268.5h8.5v1.5h-8.5zM886.25 268.5h8.5v1.5h-8.5zM894.75 268.5h8.5v1.5h-8.5zM911.75 268.5h8.5v1.5h-8.5zM920.25 268.5h8.5v1.5h-8.5zM954.25 268.5h8.5v1.5h-8.5zM979.75 268.5h8.5v1.5h-8.5zM1022.25 268.5h8.5v1.5h-8.5zM1056.25 268.5h8.5v1.5h-8.5zM1115.75 268.5h8.5v1.5h-8.5zM631.25 644h8.5v2h-8.5zM937.25 644h8.5v2h-8.5zM945.75 644h8.5v2h-8.5zM877.75 646h8.5v2h-8.5z"/>
<path fill="#ff3c00" d="M189.25 263h8.5v2h-8.5zM206.25 263h8.5v2h-8.5zM257.25 263h8.5v2h-8.5zM291.25 263h8.5v2h-8.5zM376.25 263h8.5v2h-8.5zM418.75 263h8.5v2h-8.5zM597.25 263h8.5v2h-8.5zM665.25 263h8.5v2h-8.5zM1115.75 263h8.5v2h-8.5zM1149.75 263h8.5v2h-8.5zM537.75 265h8.5v3.5h-8.5zM860.75 265h8.5v3.5h-8.5zM189.25 268.5h8.5v1.5h-8.5zM231.75 268.5h8.5v1.5h-8.5zM240.25 268.5h8.5v1.5h-8.5zM257.25 268.5h8.5v1.5h-8.5zM265.75 268.5h8.5v1.5h-8.5zM308.25 268.5h8.5v1.5h-8.5zM316.75 268.5h8.5v1.5h-8.5zM342.25 268.5h8.5v1.5h-8.5zM350.75 268.5h8.5v1.5h-8.5zM359.25 268.5h8.5v1.5h-8.5zM376.25 268.5h8.5v1.5h-8.5zM410.25 268.5h8.5v1.5h-8.5zM427.25 268.5h8.5v1.5h-8.5zM444.25 268.5h8.5v1.5h-8.5zM486.75 268.5h8.5v1.5h-8.5zM554.75 268.5h8.5v1.5h-8.5zM588.75 268.5h8.5v1.5h-8.5zM656.75 268.5h8.5v1.5h-8.5zM860.75 268.5h8.5v1.5h-8.5zM869.25 268.5h8.5v1.5h-8.5zM903.25 268.5h8.5v1.5h-8.5zM928.75 268.5h8.5v1.5h-8.5zM945.75 268.5h8.5v1.5h-8.5zM962.75 268.5h8.5v1.5h-8.5zM1005.25 268.5h8.5v1.5h-8.5zM1013.75 268.5h8.5v1.5h-8.5zM1039.25 268.5h8.5v1.5h-8.5zM1064.75 268.5h8.5v1.5h-8.5zM1073.25 268.5h8.5v1.5h-8.5zM1090.25 268.5h8.5v1.5h-8.5zM1107.25 268.5h8.5v1.5h-8.5zM1124.25 268.5h8.5v1.5h-8.5zM1141.25 268.5h8.5v1.5h-8.5zM1158.25 268.5h8.5v1.5h-8.5zM1183.75 268.5h8.5v1.5h-8.5zM639.75 644h8.5v2h-8.5zM886.25 644h8.5v2h-8.5zM954.25 644h8.5v2h-8.5z"/>
<path fill="#ff1a00" d="M1013.75 260h8.5v3h-8.5zM1056.25 260h8.5v3h-8.5zM1090.25 260h8.5v3h-8.5zM461.25 263h8.5v2h-8.5zM495.25 263h8.5v2h-8.5zM503.75 263h8.5v2h-8.5zM512.25 263h8.5v2h-8.5zM656.75 263h8.5v2h-8.5zM852.25 263h8.5v2h-8.5zM860.75 263h8.5v2h-8.5zM971.25 263h8.5v2h-8.5zM1098.75 263h8.5v2h-8.5zM1166.75 263h8.5v2h-8.5zM172.25 268.5h8.5v1.5h-8.5zM206.25 268.5h8.5v1.5h-8.5zM214.75 268.5h8.5v1.5h-8.5zM223.25 268.5h8.5v1.5h-8.5zM291.25 268.5h8.5v1.5h-8.5zM384.75 268.5h8.5v1.5h-8.5zM452.75 268.5h8.5v1.5h-8.5zM461.25 268.5h8.5v1.5h-8.5zM469.75 268.5h8.5v1.5h-8.5zM478.25 268.5h8.5v1.5h-8.5zM503.75 268.5h8.5v1.5h-8.5zM512.25 268.5h8.5v1.5h-8.5zM563.25 268.5h8.5v1.5h-8.5zM571.75 268.5h8.5v1.5h-8.5zM580.25 268.5h8.5v1.5h-8.5zM622.75 268.5h8.5v1.5h-8.5zM631.25 268.5h8.5v1.5h-8.5zM648.25 268.5h8.5v1.5h-8.5zM673.75 268.5h8.5v1.5h-8.5zM682.25 268.5h8.5v1.5h-8.5zM707.75 268.5h8.5v1.5h-8.5zM733.25 268.5h8.5v1.5h-8.5zM775.75 268.5h8.5v1.5h-8.5zM818.25 268.5h8.5v1.5h-8.5zM843.75 268.5h8.5v1.5h-8.5zM877.75 268.5h8.5v1.5h-8.5zM937.25 268.5h8.5v1.5h-8.5zM1047.75 268.5h8.5v1.5h-8.5zM1098.75 268.5h8.5v1.5h-8.5zM1175.25 268.5h8.5v1.5h-8.5zM648.25 644h8.5v2h-8.5zM903.25 644h8.5v2h-8.5zM911.75 644h8.5v2h-8.5zM648.25 646h8.5v2h-8.5zM860.75 646h8.5v2h-8.5zM869.25 646h8.5v2h-8.5z"/>
<path fill="#ff0000" d="M240.25 260h8.5v3h-8.5zM333.75 260h8.5v3h-8.5zM342.25 260h8.5v3h-8.5zM367.75 260h8.5v3h-8.5zM435.75 260h8.5v3h-8.5zM886.25 260h8.5v3h-8.5zM903.25 260h8.5v3h-8.5zM937.25 260h8.5v3h-8.5zM979.75 260h8.5v3h-8.5zM996.75 260h8.5v3h-8.5zM1005.25 260h8.5v3h-8.5zM1022.25 260h8.5v3h-8.5zM1030.75 260h8.5v3h-8.5zM1039.25 260h8.5v3h-8.5zM1047.75 260h8.5v3h-8.5zM1064.75 260h8.5v3h-8.5zM1081.75 260h8.5v3h-8.5zM214.75 263h8.5v2h-8.5zM520.75 263h8.5v2h-8.5zM529.25 263h8.5v2h-8.5zM537.75 263h8.5v2h-8.5zM673.75 263h8.5v2h-8.5zM1175.25 263h8.5v2h-8.5zM163.75 268.5h8.5v1.5h-8.5zM180.75 268.5h8.5v1.5h-8.5zM197.75 268.5h8.5v1.5h-8.5zM393.25 268.5h8.5v1.5h-8.5zM495.25 268.5h8.5v1.5h-8.5zM520.75 268.5h8.5v1.5h-8.5zM529.25 268.5h8.5v1.5h-8.5zM546.25 268.5h8.5v1.5h-8.5zM665.25 268.5h8.5v1.5h-8.5zM690.75 268.5h8.5v1.5h-8.5zM699.25 268.5h8.5v1.5h-8.5zM750.25 268.5h8.5v1.5h-8.5zM758.75 268.5h8.5v1.5h-8.5zM767.25 268.5h8.5v1.5h-8.5zM801.25 268.5h8.5v1.5h-8.5zM809.75 268.5h8.5v1.5h-8.5zM826.75 268.5h8.5v1.5h-8.5zM852.25 268.5h8.5v1.5h-8.5zM996.75 268.5h8.5v1.5h-8.5zM1149.75 268.5h8.5v1.5h-8.5zM1166.75 268.5h8.5v1.5h-8.5zM869.25 644h8.5v2h-8.5zM877.75 644h8.5v2h-8.5zM928.75 644h8.5v2h-8.5zM656.75 646h8.5v2h-8.5z"/>
<path fill="#ff0000" d="M274.25 260h8.5v3h-8.5zM282.75 260h8.5v3h-8.5zM291.25 260h8.5v3h-8.5zM308.25 260h8.5v3h-8.5zM316.75 260h8.5v3h-8.5zM325.25 260h8.5v3h-8.5zM359.25 260h8.5v3h-8.5zM376.25 260h8.5v3h-8.5zM393.25 260h8.5v3h-8.5zM401.75 260h8.5v3h-8.5zM427.25 260h8.5v3h-8.5zM495.25 260h8.5v3h-8.5zM529.25 260h8.5v3h-8.5zM546.25 260h8.5v3h-8.5zM554.75 260h8.5v3h-8.5zM580.25 260h8.5v3h-8.5zM631.25 260h8.5v3h-8.5zM656.75 260h8.5v3h-8.5zM843.75 260h8.5v3h-8.5zM860.75 260h8.5v3h-8.5zM894.75 260h8.5v3h-8.5zM911.75 260h8.5v3h-8.5zM945.75 260h8.5v3h-8.5zM971.25 260h8.5v3h-8.5zM988.25 260h8.5v3h-8.5zM1073.25 260h8.5v3h-8.5zM1107.25 260h8.5v3h-8.5zM1141.25 260h8.5v3h-8.5zM1166.75 260h8.5v3h-8.5zM197.75 263h8.5v2h-8.5zM452.75 263h8.5v2h-8.5zM835.25 263h8.5v2h-8.5zM818.25 265h8.5v3.5h-8.5zM537.75 268.5h8.5v1.5h-8.5zM716.25 268.5h8.5v1.5h-8.5zM792.75 268.5h8.5v1.5h-8.5zM835.25 268.5h8.5v1.5h-8.5zM792.75 644h8.5v2h-8.5z"/>
<path fill="#e70000" d="M163.75 260h8.5v3h-8.5zM189.25 260h8.5v3h-8.5zM197.75 260h8.5v3h-8.5zM206.25 260h8.5v3h-8.5zM223.25 260h8.5v3h-8.5zM257.25 260h8.5v3h-8.5zM265.75 260h8.5v3h-8.5zM299.75 260h8.5v3h-8.5zM350.75 260h8.5v3h-8.5zM384.75 260h8.5v3h-8.5zM410.25 260h8.5v3h-8.5zM444.25 260h8.5v3h-8.5zM461.25 260h8.5v3h-8.5zM486.75 260h8.5v3h-8.5zM512.25 260h8.5v3h-8.5zM537.75 260h8.5v3h-8.5zM563.25 260h8.5v3h-8.5zM673.75 260h8.5v3h-8.5zM835.25 260h8.5v3h-8.5zM869.25 260h8.5v3h-8.5zM954.25 260h8.5v3h-8.5zM1098.75 260h8.5v3h-8.5zM1124.25 260h8.5v3h-8.5zM1132.75 260h8.5v3h-8.5zM1175.25 260h8.5v3h-8.5zM469.75 263h8.5v2h-8.5zM716.25 263h8.5v2h-8.5zM792.75 263h8.5v2h-8.5zM690.75 265h8.5v3.5h-8.5zM699.25 265h8.5v3.5h-8.5zM707.75 265h8.5v3.5h-8.5zM733.25 265h8.5v3.5h-8.5zM724.75 268.5h8.5v1.5h-8.5zM741.75 268.5h8.5v1.5h-8.5zM784.25 268.5h8.5v1.5h-8.5zM707.75 644h8.5v2h-8.5zM750.25 644h8.5v2h-8.5zM784.25 644h8.5v2h-8.5z"/>
<path fill="#d00000" d="M172.25 260h8.5v3h-8.5zM180.75 260h8.5v3h-8.5zM214.75 260h8.5v3h-8.5zM231.75 260h8.5v3h-8.5zM418.75 260h8.5v3h-8.5zM452.75 260h8.5v3h-8.5zM469.75 260h8.5v3h-8.5zM478.25 260h8.5v3h-8.5zM503.75 260h8.5v3h-8.5zM520.75 260h8.5v3h-8.5zM571.75 260h8.5v3h-8.5zM588.75 260h8.5v3h-8.5zM597.25 260h8.5v3h-8.5zM605.75 260h8.5v3h-8.5zM614.25 260h8.5v3h-8.5zM622.75 260h8.5v3h-8.5zM639.75 260h8.5v3h-8.5zM648.25 260h8.5v3h-8.5zM665.25 260h8.5v3h-8.5zM682.25 260h8.5v3h-8.5zM852.25 260h8.5v3h-8.5zM877.75 260h8.5v3h-8.5zM920.25 260h8.5v3h-8.5zM928.75 260h8.5v3h-8.5zM962.75 260h8.5v3h-8.5zM1115.75 260h8.5v3h-8.5zM1149.75 260h8.5v3h-8.5zM1183.75 260h8.5v3h-8.5zM478.25 263h8.5v2h-8.5zM690.75 263h8.5v2h-8.5zM699.25 263h8.5v2h-8.5zM733.25 263h8.5v2h-8.5zM750.25 263h8.5v2h-8.5zM758.75 263h8.5v2h-8.5zM784.25 263h8.5v2h-8.5zM818.25 263h8.5v2h-8.5zM682.25 265h8.5v3.5h-8.5zM758.75 265h8.5v3.5h-8.5zM775.75 265h8.5v3.5h-8.5zM784.25 265h8.5v3.5h-8.5zM801.25 265h8.5v3.5h-8.5zM682.25 644h8.5v2h-8.5zM767.25 644h8.5v2h-8.5zM716.25 646h8.5v2h-8.5zM852.25 646h8.5v2h-8.5z"/>
<path fill="#bc0000" d="M248.75 260h8.5v3h-8.5zM690.75 260h8.5v3h-8.5zM699.25 260h8.5v3h-8.5zM707.75 260h8.5v3h-8.5zM716.25 260h8.5v3h-8.5zM724.75 260h8.5v3h-8.5zM733.25 260h8.5v3h-8.5zM741.75 260h8.5v3h-8.5zM750.25 260h8.5v3h-8.5zM758.75 260h8.5v3h-8.5zM767.25 260h8.5v3h-8.5zM775.75 260h8.5v3h-8.5zM784.25 260h8.5v3h-8.5zM792.75 260h8.5v3h-8.5zM801.25 260h8.5v3h-8.5zM809.75 260h8.5v3h-8.5zM818.25 260h8.5v3h-8.5zM826.75 260h8.5v3h-8.5zM707.75 263h8.5v2h-8.5zM741.75 263h8.5v2h-8.5zM775.75 263h8.5v2h-8.5zM809.75 263h8.5v2h-8.5zM826.75 263h8.5v2h-8.5zM716.25 265h8.5v3.5h-8.5zM724.75 265h8.5v3.5h-8.5zM741.75 265h8.5v3.5h-8.5zM750.25 265h8.5v3.5h-8.5zM792.75 265h8.5v3.5h-8.5zM809.75 265h8.5v3.5h-8.5zM656.75 644h8.5v2h-8.5zM665.25 644h8.5v2h-8.5zM733.25 644h8.5v2h-8.5zM818.25 644h8.5v2h-8.5zM665.25 646h8.5v2h-8.5zM733.25 646h8.5v2h-8.5zM741.75 646h8.5v2h-8.5zM767.25 646h8.5v2h-8.5zM775.75 646h8.5v2h-8.5zM784.25 646h8.5v2h-8.5zM801.25 646h8.5v2h-8.5zM809.75 646h8.5v2h-8.5zM826.75 646h8.5v2h-8.5z"/>
<path fill="#a80000" d="M1158.25 260h8.5v3h-8.5zM724.75 263h8.5v2h-8.5zM767.25 263h8.5v2h-8.5zM801.25 263h8.5v2h-8.5zM767.25 265h8.5v3.5h-8.5zM826.75 265h8.5v3.5h-8.5zM673.75 644h8.5v2h-8.5zM690.75 644h8.5v2h-8.5zM699.25 644h8.5v2h-8.5zM716.25 644h8.5v2h-8.5zM724.75 644h8.5v2h-8.5zM741.75 644h8.5v2h-8.5zM758.75 644h8.5v2h-8.5zM775.75 644h8.5v2h-8.5zM801.25 644h8.5v2h-8.5zM809.75 644h8.5v2h-8.5zM826.75 644h8.5v2h-8.5zM835.25 644h8.5v2h-8.5zM843.75 644h8.5v2h-8.5zM852.25 644h8.5v2h-8.5zM860.75 644h8.5v2h-8.5zM673.75 646h8.5v2h-8.5zM682.25 646h8.5v2h-8.5zM690.75 646h8.5v2h-8.5zM699.25 646h8.5v2h-8.5zM707.75 646h8.5v2h-8.5zM724.75 646h8.5v2h-8.5zM750.25 646h8.5v2h-8.5zM758.75 646h8.5v2h-8.5zM792.75 646h8.5v2h-8.5zM818.25 646h8.5v2h-8.5zM835.25 646h8.5v2h-8.5zM843.75 646h8.5v2h-8.5z"/>
</g></g>
<path fill="#000" shape-rendering="crispEdges" d="M166 197H1190V200H166zM166 782H1190V785H166zM166 197H170V785H166zM1186 197H1190V785H1186zM166 186H170V198H166zM166 784H170V795H166zM251 192H255V198H251zM251 784H255V789H251zM336 192H340V198H336zM336 784H340V789H336zM421 186H425V198H421zM421 784H425V795H421zM506 192H510V198H506zM506 784H510V789H506zM591 192H595V198H591zM591 784H595V789H591zM676 186H680V198H676zM676 784H680V795H676zM761 192H765V198H761zM761 784H765V789H761zM846 192H850V198H846zM846 784H850V789H846zM931 186H935V198H931zM931 784H935V795H931zM1016 192H1020V198H1016zM1016 784H1020V789H1016zM1101 192H1105V198H1101zM1101 784H1105V789H1101zM1186 186H1190V198H1186zM1186 784H1190V795H1186zM148 197H167V200H148zM1189 197H1209V200H1189zM148 281H167V284H148zM1189 281H1209V284H1189zM148 364H167V367H148zM1189 364H1209V367H1189zM148 448H167V451H148zM1189 448H1209V451H1189zM148 531H167V534H148zM1189 531H1209V534H1189zM148 615H167V618H148zM1189 615H1209V618H1189zM148 698H167V701H148zM1189 698H1209V701H1189zM148 782H167V785H148zM1189 782H1209V785H1189z"/>
<rect x="1364" y="226" width="28" height="529" fill="#000" shape-rendering="crispEdges"/>
<rect x="1368" y="229" width="20" height="523" fill="url(#cb)" shape-rendering="crispEdges"/>
<path d="M1366 292H1390V295H1366zM1366 358H1390V361H1366zM1366 424H1390V427H1366zM1366 490H1390V493H1366zM1366 556H1390V559H1366zM1366 622H1390V625H1366zM1366 688H1390V691H1366z" fill="#000" shape-rendering="crispEdges"/>
<text transform="translate(181.5 90) scale(.965 1.055)" font-size="48" font-style="italic">NYA6 6300 Å</text>
<text x="183" y="120" font-size="31.5" font-style="italic">2018-12-08 22:00-23:00 UT</text>
<text class="t m" x="679" y="132">MLT</text>
<text class="t m" x="168" y="168">0.4</text>
<text class="t m" x="423" y="168">0.7</text>
<text class="t m" x="678" y="168">0.9</text>
<text class="t m" x="933" y="168">1.1</text>
<text class="t m" x="1188" y="168">1.4</text>
<text class="t m" x="168" y="849">22:00</text>
<text class="t m" x="423" y="849">22:15</text>
<text class="t m" x="678" y="849">22:30</text>
<text class="t m" x="933" y="849">22:45</text>
<text class="t m" x="1188" y="849">23:00</text>
<text class="t m" x="678.5" y="895">Time UT</text>
<text class="t e" x="137.5" y="223.5">19.3</text>
<text class="t e" x="137.5" y="296.2">41.7</text>
<text class="t e" x="137.5" y="379.8">62.2</text>
<text class="t e" x="137.5" y="463.4">80.9</text>
<text class="t e" x="137.5" y="546.9">80.9</text>
<text class="t e" x="137.5" y="630.5">62.6</text>
<text class="t e" x="137.5" y="714.1">41.9</text>
<text class="t e" x="137.5" y="783.5">19.0</text>
<text class="t" x="1220.5" y="223.5">82.8</text>
<text class="t" x="1220.5" y="296.2">79.0</text>
<text class="t" x="1220.5" y="379.8">77.7</text>
<text class="t" x="1220.5" y="463.4">76.9</text>
<text class="t" x="1220.5" y="546.9">76.2</text>
<text class="t" x="1220.5" y="630.5">75.4</text>
<text class="t" x="1220.5" y="714.1">74.1</text>
<text class="t" x="1220.5" y="783.5">70.1</text>
<text class="t" x="1401.5" y="307.5">0.50</text>
<text class="t" x="1401.5" y="373.5">0.44</text>
<text class="t" x="1401.5" y="439.5">0.39</text>
<text class="t" x="1401.5" y="505.5">0.34</text>
<text class="t" x="1401.5" y="571">0.30</text>
<text class="t" x="1401.5" y="637">0.27</text>
<text class="t" x="1401.5" y="703">0.24</text>
<text class="t m" transform="translate(39.5 490.5) rotate(-90)">Elevation</text>
<text class="t m" transform="translate(1324 488.5) rotate(-90)">MLAT</text>
<text class="t m" transform="translate(1505 491) rotate(-90)">Brightness [kR]</text>
</svg></body></html>
